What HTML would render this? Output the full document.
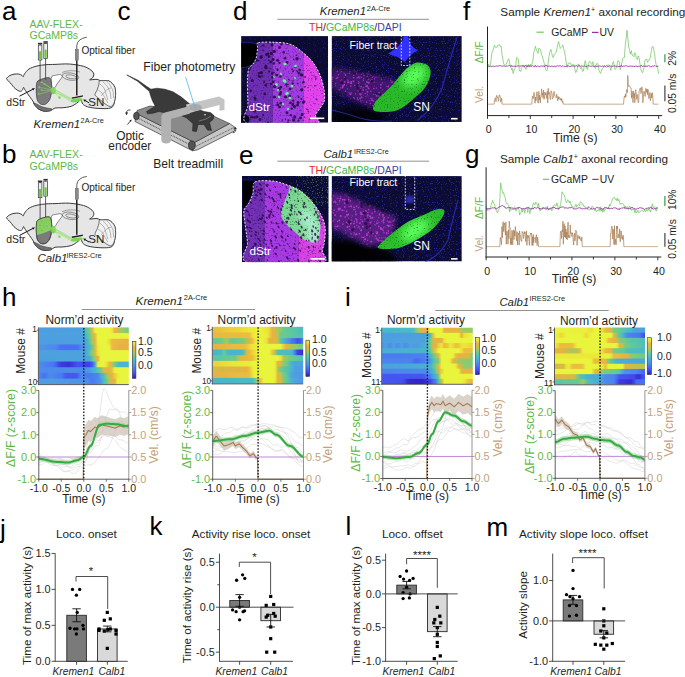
<!DOCTYPE html>
<html><head><meta charset="utf-8"><title>Figure</title>
<style>html,body{margin:0;padding:0;background:#fff;width:685px;height:677px;overflow:hidden}svg{display:block}text{font-family:"Liberation Sans",sans-serif}</style>
</head><body>
<svg width="685" height="677" viewBox="0 0 685 677" font-family='"Liberation Sans", sans-serif'>
<defs><clipPath id="stb"><path d="M37.2,220.8 C38.13,219.63 40.07,218.87 42,218.2 C43.93,217.53 47.3,216.55 48.8,216.8 C50.3,217.05 50.5,218.13 51,219.7 C51.5,221.27 51.77,223.95 51.8,226.2 C51.83,228.45 51.58,231.03 51.2,233.2 C50.82,235.37 50.45,237.5 49.5,239.2 C48.55,240.9 47,242.73 45.5,243.4 C44,244.07 41.87,243.9 40.5,243.2 C39.13,242.5 38,241.2 37.3,239.2 C36.6,237.2 36.45,233.53 36.3,231.2 C36.15,228.87 36.25,226.93 36.4,225.2 C36.55,223.47 36.27,221.97 37.2,220.8 Z"/></clipPath><filter id="speck" x="0" y="0" width="100%" height="100%" color-interpolation-filters="sRGB"><feTurbulence type="fractalNoise" baseFrequency="0.85" numOctaves="1" seed="3"/><feColorMatrix type="matrix" values="0 0 0 0 0.17 0 0 0 0 0.17 0 0 0 0 0.75 0 0 0 7 -4.3"/></filter><filter id="speck2" x="0" y="0" width="100%" height="100%" color-interpolation-filters="sRGB"><feTurbulence type="fractalNoise" baseFrequency="0.85" numOctaves="1" seed="6"/><feColorMatrix type="matrix" values="0 0 0 0 0.2 0 0 0 0 0.2 0 0 0 0 0.85 0 0 0 7 -4.0"/></filter><filter id="speckm" x="0" y="0" width="100%" height="100%" color-interpolation-filters="sRGB"><feTurbulence type="fractalNoise" baseFrequency="0.75" numOctaves="1" seed="8"/><feColorMatrix type="matrix" values="0 0 0 0 0.75 0 0 0 0 0.2 0 0 0 0 0.8 0 0 0 8 -4.4"/></filter><filter id="speckd" x="0" y="0" width="100%" height="100%" color-interpolation-filters="sRGB"><feTurbulence type="fractalNoise" baseFrequency="0.6" numOctaves="1" seed="12"/><feColorMatrix type="matrix" values="0 0 0 0 0.05 0 0 0 0 0.0 0 0 0 0 0.15 0 0 0 8 -4.6"/></filter><filter id="speckg" x="0" y="0" width="100%" height="100%" color-interpolation-filters="sRGB"><feTurbulence type="fractalNoise" baseFrequency="0.8" numOctaves="1" seed="5"/><feColorMatrix type="matrix" values="0 0 0 0 0.55 0 0 0 0 1 0 0 0 0 0.45 0 0 0 7 -3.9"/></filter><filter id="speckgd" x="0" y="0" width="100%" height="100%" color-interpolation-filters="sRGB"><feTurbulence type="fractalNoise" baseFrequency="0.7" numOctaves="1" seed="15"/><feColorMatrix type="matrix" values="0 0 0 0 0.05 0 0 0 0 0.3 0 0 0 0 0.1 0 0 0 7 -4.2"/></filter><filter id="b0_6" x="-50%" y="-50%" width="200%" height="200%"><feGaussianBlur stdDeviation="0.6"/></filter><filter id="b1" x="-50%" y="-50%" width="200%" height="200%"><feGaussianBlur stdDeviation="1"/></filter><filter id="b1_5" x="-50%" y="-50%" width="200%" height="200%"><feGaussianBlur stdDeviation="1.5"/></filter><filter id="b2_5" x="-50%" y="-50%" width="200%" height="200%"><feGaussianBlur stdDeviation="2.5"/></filter><filter id="b4" x="-50%" y="-50%" width="200%" height="200%"><feGaussianBlur stdDeviation="4"/></filter><clipPath id="cdl"><rect x="241.1" y="36.1" width="87" height="86.6"/></clipPath><clipPath id="cdlt"><path d="M258.3,42.8 C261.2,41.85 269.55,42.02 275,42.3 C280.45,42.58 286.17,42.63 291,44.5 C295.83,46.37 300.33,50.5 304,53.5 C307.67,56.5 310.33,58.92 313,62.5 C315.67,66.08 318.17,70.52 320,75 C321.83,79.48 323.28,85.12 324,89.4 C324.72,93.68 324.88,97.68 324.3,100.7 C323.72,103.72 321.97,105.12 320.5,107.5 C319.03,109.88 316.63,112.25 315.5,115 C314.37,117.75 324.82,122.5 313.7,124 C302.58,125.5 259.75,127.22 248.8,124 C237.85,120.78 248.22,110.37 248,104.7 C247.78,99.03 247.58,94.42 247.5,90 C247.42,85.58 247.28,81.78 247.5,78.2 C247.72,74.62 247.93,70.78 248.8,68.5 C249.67,66.22 251.47,66.25 252.7,64.5 C253.93,62.75 255.38,60.75 256.2,58 C257.02,55.25 257.25,50.53 257.6,48 C257.95,45.47 255.4,43.75 258.3,42.8 Z"/></clipPath><mask id="egm" maskUnits="userSpaceOnUse" x="260" y="170" width="75" height="90"><g filter="url(#b1_8)" fill="#fff"><path d="M291,186 C293,185.33 297,187.33 300,189 C303,190.67 306.33,193 309,196 C311.67,199 314.17,203.17 316,207 C317.83,210.83 319.33,214.83 320,219 C320.67,223.17 320.67,228.17 320,232 C319.33,235.83 318.5,240.67 316,242 C313.5,243.33 308.33,241.5 305,240 C301.67,238.5 299,235.5 296,233 C293,230.5 289.5,228 287,225 C284.5,222 281.5,218.67 281,215 C280.5,211.33 282.83,206.67 284,203 C285.17,199.33 286.83,195.83 288,193 C289.17,190.17 289,186.67 291,186 Z"/></g></mask><clipPath id="cel"><rect x="242" y="176" width="86.7" height="86.2"/></clipPath><clipPath id="celt"><path d="M254.9,182.1 C258.13,180.02 267.32,180.63 272.4,181 C277.48,181.37 280.78,182.67 285.4,184.3 C290.02,185.93 295.8,188.03 300.1,190.8 C304.4,193.57 307.82,197.07 311.2,200.9 C314.58,204.73 318.1,209.5 320.4,213.8 C322.7,218.1 324.32,222.08 325,226.7 C325.68,231.32 324.95,237.5 324.5,241.5 C324.05,245.5 322.98,247.12 322.3,250.7 C321.62,254.28 332.7,260.95 320.4,263 C308.1,265.05 260.65,266.27 248.5,263 C236.35,259.73 247.97,249.13 247.5,243.4 C247.03,237.67 246.32,233.53 245.7,228.6 C245.08,223.67 243.95,217.18 243.8,213.8 C243.65,210.42 244.02,209.98 244.8,208.3 C245.58,206.62 247.13,206.17 248.5,203.7 C249.87,201.23 251.93,197.1 253,193.5 C254.07,189.9 251.67,184.18 254.9,182.1 Z"/></clipPath><mask id="dmm" maskUnits="userSpaceOnUse" x="320" y="50" width="95" height="80"><g filter="url(#b2_5)" fill="#fff"><path d="M331,68 Q352,71 372,75 L400,82 L396,96 Q388,104 381,110 Q365,106 350,98 L331,88 Z"/></g></mask><mask id="dgm" maskUnits="userSpaceOnUse" x="355" y="45" width="90" height="80"><g filter="url(#b1_0)" fill="#fff"><path d="M407.8,67.5 C410.42,65.53 413.57,63.08 416.7,62.6 C419.83,62.12 424.3,63.28 426.6,64.6 C428.9,65.92 430.02,68.2 430.5,70.5 C430.98,72.8 430.48,75.45 429.5,78.4 C428.52,81.35 426.73,85.25 424.6,88.2 C422.47,91.15 419.98,93.13 416.7,96.1 C413.42,99.07 408.52,103.53 404.9,106 C401.28,108.47 398.95,109.92 395,110.9 C391.05,111.88 384.8,112.07 381.2,111.9 C377.6,111.73 374.38,111.55 373.4,109.9 C372.42,108.25 373.67,104.63 375.3,102 C376.93,99.37 380.25,97.05 383.2,94.1 C386.15,91.15 390.03,87.58 393,84.3 C395.97,81.02 398.53,77.2 401,74.4 C403.47,71.6 405.18,69.47 407.8,67.5 Z"/></g></mask><clipPath id="cdr"><rect x="331.6" y="36.1" width="130.2" height="85.9"/></clipPath><mask id="emm" maskUnits="userSpaceOnUse" x="320" y="175" width="95" height="85"><g filter="url(#b2_5)" fill="#fff"><path d="M331,192 Q348,194 366,205 Q382,212 396,217 L392,238 Q378,246 368,246 Q350,236 332,228 Z"/></g></mask><mask id="egm2" maskUnits="userSpaceOnUse" x="360" y="190" width="100" height="75"><g filter="url(#b1_0)" fill="#fff"><path d="M379.3,244.9 C382.08,242.1 390.08,235.03 395,231.1 C399.92,227.17 403.87,224.08 408.8,221.3 C413.73,218.52 420,216.38 424.6,214.4 C429.2,212.42 433.12,210.07 436.4,209.4 C439.68,208.73 443.32,209.08 444.3,210.4 C445.28,211.72 443.93,214.5 442.3,217.3 C440.67,220.1 437.45,224.23 434.5,227.2 C431.55,230.17 428.22,232.63 424.6,235.1 C420.98,237.57 417.07,239.87 412.8,242 C408.53,244.13 403.6,246.75 399,247.9 C394.4,249.05 388.65,248.9 385.2,248.9 C381.75,248.9 379.28,248.57 378.3,247.9 C377.32,247.23 376.52,247.7 379.3,244.9 Z"/></g></mask><clipPath id="cer"><rect x="331.6" y="176.1" width="130.2" height="85.4"/></clipPath><linearGradient id="hg1" x1="0" x2="1" y1="0" y2="0"><stop offset="0%" stop-color="#4e9ee2"/><stop offset="3.12%" stop-color="#4d9ee2"/><stop offset="6.25%" stop-color="#4d9ee2"/><stop offset="9.38%" stop-color="#4d9ee1"/><stop offset="12.5%" stop-color="#4d9ee1"/><stop offset="15.62%" stop-color="#4d9ee1"/><stop offset="18.75%" stop-color="#4d9ee1"/><stop offset="21.88%" stop-color="#4d9fe1"/><stop offset="25%" stop-color="#4d9fe0"/><stop offset="28.12%" stop-color="#4d9fe0"/><stop offset="31.25%" stop-color="#4d9fe0"/><stop offset="34.38%" stop-color="#4da0e0"/><stop offset="37.5%" stop-color="#4da0e0"/><stop offset="40.62%" stop-color="#4da0df"/><stop offset="43.75%" stop-color="#4da0df"/><stop offset="46.88%" stop-color="#4da0df"/><stop offset="50%" stop-color="#4ab0d1"/><stop offset="53.12%" stop-color="#5bc5a4"/><stop offset="56.25%" stop-color="#77ca83"/><stop offset="59.38%" stop-color="#deb644"/><stop offset="62.5%" stop-color="#e9f13b"/><stop offset="65.62%" stop-color="#e8f53c"/><stop offset="68.75%" stop-color="#e8f53c"/><stop offset="71.88%" stop-color="#e8f53c"/><stop offset="75%" stop-color="#e8f53c"/><stop offset="78.12%" stop-color="#e8f53c"/><stop offset="81.25%" stop-color="#ebea3a"/><stop offset="84.38%" stop-color="#e8b242"/><stop offset="87.5%" stop-color="#d1bb48"/><stop offset="90.62%" stop-color="#adc657"/><stop offset="93.75%" stop-color="#9dca5f"/><stop offset="96.88%" stop-color="#86ca74"/><stop offset="100%" stop-color="#7bca7f"/></linearGradient><linearGradient id="hg2" x1="0" x2="1" y1="0" y2="0"><stop offset="0%" stop-color="#4da0df"/><stop offset="3.12%" stop-color="#4da0df"/><stop offset="6.25%" stop-color="#4da0df"/><stop offset="9.38%" stop-color="#4da0df"/><stop offset="12.5%" stop-color="#4da0df"/><stop offset="15.62%" stop-color="#4da0df"/><stop offset="18.75%" stop-color="#4da0df"/><stop offset="21.88%" stop-color="#4da0df"/><stop offset="25%" stop-color="#4da0df"/><stop offset="28.12%" stop-color="#4da0df"/><stop offset="31.25%" stop-color="#4da0df"/><stop offset="34.38%" stop-color="#4da0df"/><stop offset="37.5%" stop-color="#4da0df"/><stop offset="40.62%" stop-color="#4da0df"/><stop offset="43.75%" stop-color="#4da0df"/><stop offset="46.88%" stop-color="#4da0df"/><stop offset="50%" stop-color="#4da0df"/><stop offset="53.12%" stop-color="#4dbdbe"/><stop offset="56.25%" stop-color="#65ca93"/><stop offset="59.38%" stop-color="#b2c555"/><stop offset="62.5%" stop-color="#e9b940"/><stop offset="65.62%" stop-color="#e8f53c"/><stop offset="68.75%" stop-color="#e8f53c"/><stop offset="71.88%" stop-color="#e8f53c"/><stop offset="75%" stop-color="#e8f53c"/><stop offset="78.12%" stop-color="#e8f53c"/><stop offset="81.25%" stop-color="#e8f53c"/><stop offset="84.38%" stop-color="#e8f53c"/><stop offset="87.5%" stop-color="#e8f53c"/><stop offset="90.62%" stop-color="#e8f53c"/><stop offset="93.75%" stop-color="#e8f53c"/><stop offset="96.88%" stop-color="#e8f53c"/><stop offset="100%" stop-color="#e8f53c"/></linearGradient><linearGradient id="hg3" x1="0" x2="1" y1="0" y2="0"><stop offset="0%" stop-color="#4e9ee2"/><stop offset="3.12%" stop-color="#4d9ee2"/><stop offset="6.25%" stop-color="#4d9ee2"/><stop offset="9.38%" stop-color="#4d9ee1"/><stop offset="12.5%" stop-color="#4d9ee1"/><stop offset="15.62%" stop-color="#4d9ee1"/><stop offset="18.75%" stop-color="#4d9ee1"/><stop offset="21.88%" stop-color="#4d9ee1"/><stop offset="25%" stop-color="#4d9fe1"/><stop offset="28.12%" stop-color="#4d9fe0"/><stop offset="31.25%" stop-color="#4d9fe0"/><stop offset="34.38%" stop-color="#4d9fe0"/><stop offset="37.5%" stop-color="#4da0e0"/><stop offset="40.62%" stop-color="#4da0e0"/><stop offset="43.75%" stop-color="#4da0df"/><stop offset="46.88%" stop-color="#4da0df"/><stop offset="50%" stop-color="#4da0df"/><stop offset="53.12%" stop-color="#4ca6da"/><stop offset="56.25%" stop-color="#58c4a9"/><stop offset="59.38%" stop-color="#a2c95b"/><stop offset="62.5%" stop-color="#e6b343"/><stop offset="65.62%" stop-color="#e9f33c"/><stop offset="68.75%" stop-color="#e8f53c"/><stop offset="71.88%" stop-color="#e8f53c"/><stop offset="75%" stop-color="#e8f53c"/><stop offset="78.12%" stop-color="#eedf37"/><stop offset="81.25%" stop-color="#e9bd3f"/><stop offset="84.38%" stop-color="#e9bc40"/><stop offset="87.5%" stop-color="#e9ba40"/><stop offset="90.62%" stop-color="#e9b741"/><stop offset="93.75%" stop-color="#e8b541"/><stop offset="96.88%" stop-color="#e8b342"/><stop offset="100%" stop-color="#e8b242"/></linearGradient><linearGradient id="hg4" x1="0" x2="1" y1="0" y2="0"><stop offset="0%" stop-color="#4d94e7"/><stop offset="3.12%" stop-color="#4d94e7"/><stop offset="6.25%" stop-color="#4d92e8"/><stop offset="9.38%" stop-color="#4c8fe9"/><stop offset="12.5%" stop-color="#4c8dea"/><stop offset="15.62%" stop-color="#4c8beb"/><stop offset="18.75%" stop-color="#4c8aeb"/><stop offset="21.88%" stop-color="#4a7bf1"/><stop offset="25%" stop-color="#4870f6"/><stop offset="28.12%" stop-color="#4870f6"/><stop offset="31.25%" stop-color="#4870f6"/><stop offset="34.38%" stop-color="#4870f6"/><stop offset="37.5%" stop-color="#4870f6"/><stop offset="40.62%" stop-color="#4870f6"/><stop offset="43.75%" stop-color="#4974f4"/><stop offset="46.88%" stop-color="#4b88ec"/><stop offset="50%" stop-color="#4d94e7"/><stop offset="53.12%" stop-color="#4babd6"/><stop offset="56.25%" stop-color="#49bac6"/><stop offset="59.38%" stop-color="#6aca8e"/><stop offset="62.5%" stop-color="#e4b443"/><stop offset="65.62%" stop-color="#ebe839"/><stop offset="68.75%" stop-color="#e8f53c"/><stop offset="71.88%" stop-color="#e8f53c"/><stop offset="75%" stop-color="#e8f53c"/><stop offset="78.12%" stop-color="#e8f53c"/><stop offset="81.25%" stop-color="#eabf3f"/><stop offset="84.38%" stop-color="#e9b741"/><stop offset="87.5%" stop-color="#e8b442"/><stop offset="90.62%" stop-color="#e7b242"/><stop offset="93.75%" stop-color="#e5b343"/><stop offset="96.88%" stop-color="#e4b443"/><stop offset="100%" stop-color="#e4b443"/></linearGradient><linearGradient id="hg5" x1="0" x2="1" y1="0" y2="0"><stop offset="0%" stop-color="#4ca2dd"/><stop offset="3.12%" stop-color="#4ca2dd"/><stop offset="6.25%" stop-color="#4ca2dd"/><stop offset="9.38%" stop-color="#4ca2dd"/><stop offset="12.5%" stop-color="#4ca2dd"/><stop offset="15.62%" stop-color="#4ca2dd"/><stop offset="18.75%" stop-color="#4ca2dd"/><stop offset="21.88%" stop-color="#4ca2dd"/><stop offset="25%" stop-color="#4ca2dd"/><stop offset="28.12%" stop-color="#4ca2dd"/><stop offset="31.25%" stop-color="#4ca2dd"/><stop offset="34.38%" stop-color="#4ca2dd"/><stop offset="37.5%" stop-color="#4ca2dd"/><stop offset="40.62%" stop-color="#4ca2dd"/><stop offset="43.75%" stop-color="#4ca2dd"/><stop offset="46.88%" stop-color="#4ca2dd"/><stop offset="50%" stop-color="#4ca2dd"/><stop offset="53.12%" stop-color="#4ba8d8"/><stop offset="56.25%" stop-color="#58c4a8"/><stop offset="59.38%" stop-color="#8bca70"/><stop offset="62.5%" stop-color="#d8b946"/><stop offset="65.62%" stop-color="#ede138"/><stop offset="68.75%" stop-color="#e8f53c"/><stop offset="71.88%" stop-color="#e8f53c"/><stop offset="75%" stop-color="#e8f53c"/><stop offset="78.12%" stop-color="#e8f53c"/><stop offset="81.25%" stop-color="#e8f53c"/><stop offset="84.38%" stop-color="#e8f53c"/><stop offset="87.5%" stop-color="#e8f53c"/><stop offset="90.62%" stop-color="#e8f53c"/><stop offset="93.75%" stop-color="#e8f53c"/><stop offset="96.88%" stop-color="#e8f53c"/><stop offset="100%" stop-color="#e8f53c"/></linearGradient><linearGradient id="hg6" x1="0" x2="1" y1="0" y2="0"><stop offset="0%" stop-color="#4da0df"/><stop offset="3.12%" stop-color="#4da0df"/><stop offset="6.25%" stop-color="#4da0df"/><stop offset="9.38%" stop-color="#4da0df"/><stop offset="12.5%" stop-color="#4da0df"/><stop offset="15.62%" stop-color="#4da0df"/><stop offset="18.75%" stop-color="#4da1df"/><stop offset="21.88%" stop-color="#4da1df"/><stop offset="25%" stop-color="#4da1de"/><stop offset="28.12%" stop-color="#4da1de"/><stop offset="31.25%" stop-color="#4da2de"/><stop offset="34.38%" stop-color="#4da2de"/><stop offset="37.5%" stop-color="#4da2de"/><stop offset="40.62%" stop-color="#4da2dd"/><stop offset="43.75%" stop-color="#4da2dd"/><stop offset="46.88%" stop-color="#4da2dd"/><stop offset="50%" stop-color="#4da2dd"/><stop offset="53.12%" stop-color="#4da2dd"/><stop offset="56.25%" stop-color="#4ba9d7"/><stop offset="59.38%" stop-color="#59c4a7"/><stop offset="62.5%" stop-color="#a6c85a"/><stop offset="65.62%" stop-color="#e7b342"/><stop offset="68.75%" stop-color="#e8f43c"/><stop offset="71.88%" stop-color="#e8f53c"/><stop offset="75%" stop-color="#e8f53c"/><stop offset="78.12%" stop-color="#e8f53c"/><stop offset="81.25%" stop-color="#e8f53c"/><stop offset="84.38%" stop-color="#e8f53c"/><stop offset="87.5%" stop-color="#e8f53c"/><stop offset="90.62%" stop-color="#e8f53c"/><stop offset="93.75%" stop-color="#e8f53c"/><stop offset="96.88%" stop-color="#e8f53c"/><stop offset="100%" stop-color="#e8f53c"/></linearGradient><linearGradient id="hg7" x1="0" x2="1" y1="0" y2="0"><stop offset="0%" stop-color="#4c8aeb"/><stop offset="3.12%" stop-color="#4b89ec"/><stop offset="6.25%" stop-color="#4b84ee"/><stop offset="9.38%" stop-color="#4a7ff0"/><stop offset="12.5%" stop-color="#4a7bf1"/><stop offset="15.62%" stop-color="#4979f2"/><stop offset="18.75%" stop-color="#4767f4"/><stop offset="21.88%" stop-color="#4249ed"/><stop offset="25%" stop-color="#3d39e0"/><stop offset="28.12%" stop-color="#3c36dc"/><stop offset="31.25%" stop-color="#3932d6"/><stop offset="34.38%" stop-color="#3a32d7"/><stop offset="37.5%" stop-color="#3f3ce5"/><stop offset="40.62%" stop-color="#424aed"/><stop offset="43.75%" stop-color="#4454ef"/><stop offset="46.88%" stop-color="#434eee"/><stop offset="50%" stop-color="#4141eb"/><stop offset="53.12%" stop-color="#4141eb"/><stop offset="56.25%" stop-color="#4141eb"/><stop offset="59.38%" stop-color="#455cf1"/><stop offset="62.5%" stop-color="#4da2dd"/><stop offset="65.62%" stop-color="#e9f03b"/><stop offset="68.75%" stop-color="#e8f53c"/><stop offset="71.88%" stop-color="#e8f53c"/><stop offset="75%" stop-color="#ede238"/><stop offset="78.12%" stop-color="#e9bb40"/><stop offset="81.25%" stop-color="#cdbd4a"/><stop offset="84.38%" stop-color="#7aca80"/><stop offset="87.5%" stop-color="#52c0b4"/><stop offset="90.62%" stop-color="#49b4cd"/><stop offset="93.75%" stop-color="#49b4cd"/><stop offset="96.88%" stop-color="#49b4cd"/><stop offset="100%" stop-color="#49b4cd"/></linearGradient><linearGradient id="hg8" x1="0" x2="1" y1="0" y2="0"><stop offset="0%" stop-color="#4c8aeb"/><stop offset="3.12%" stop-color="#4c8aeb"/><stop offset="6.25%" stop-color="#4c8aeb"/><stop offset="9.38%" stop-color="#4c8aeb"/><stop offset="12.5%" stop-color="#4c8aeb"/><stop offset="15.62%" stop-color="#4c8aeb"/><stop offset="18.75%" stop-color="#4c8aeb"/><stop offset="21.88%" stop-color="#4c8aeb"/><stop offset="25%" stop-color="#4c8aeb"/><stop offset="28.12%" stop-color="#4c8aeb"/><stop offset="31.25%" stop-color="#4c8aeb"/><stop offset="34.38%" stop-color="#4c8aeb"/><stop offset="37.5%" stop-color="#4c8aeb"/><stop offset="40.62%" stop-color="#4c8aeb"/><stop offset="43.75%" stop-color="#4c8aeb"/><stop offset="46.88%" stop-color="#4c8beb"/><stop offset="50%" stop-color="#4c8fe9"/><stop offset="53.12%" stop-color="#4d93e7"/><stop offset="56.25%" stop-color="#4e99e5"/><stop offset="59.38%" stop-color="#4bacd5"/><stop offset="62.5%" stop-color="#49b6cb"/><stop offset="65.62%" stop-color="#5ac5a5"/><stop offset="68.75%" stop-color="#6bca8e"/><stop offset="71.88%" stop-color="#ddb745"/><stop offset="75%" stop-color="#e4b443"/><stop offset="78.12%" stop-color="#e7b242"/><stop offset="81.25%" stop-color="#eac03f"/><stop offset="84.38%" stop-color="#e9f33c"/><stop offset="87.5%" stop-color="#e8f53c"/><stop offset="90.62%" stop-color="#e8f53c"/><stop offset="93.75%" stop-color="#e8f53c"/><stop offset="96.88%" stop-color="#e8f53c"/><stop offset="100%" stop-color="#e8f53c"/></linearGradient><linearGradient id="hg9" x1="0" x2="1" y1="0" y2="0"><stop offset="0%" stop-color="#4c8aeb"/><stop offset="3.12%" stop-color="#4a7cf1"/><stop offset="6.25%" stop-color="#4870f6"/><stop offset="9.38%" stop-color="#4a80ef"/><stop offset="12.5%" stop-color="#4c8aeb"/><stop offset="15.62%" stop-color="#4b87ec"/><stop offset="18.75%" stop-color="#4a82ef"/><stop offset="21.88%" stop-color="#4a7cf1"/><stop offset="25%" stop-color="#497af2"/><stop offset="28.12%" stop-color="#4664f3"/><stop offset="31.25%" stop-color="#4458f0"/><stop offset="34.38%" stop-color="#4458f0"/><stop offset="37.5%" stop-color="#4458f0"/><stop offset="40.62%" stop-color="#4458f0"/><stop offset="43.75%" stop-color="#4664f3"/><stop offset="46.88%" stop-color="#4b86ed"/><stop offset="50%" stop-color="#4b87ec"/><stop offset="53.12%" stop-color="#4a7df1"/><stop offset="56.25%" stop-color="#497af2"/><stop offset="59.38%" stop-color="#4a7ef0"/><stop offset="62.5%" stop-color="#4b82ee"/><stop offset="65.62%" stop-color="#4b85ed"/><stop offset="68.75%" stop-color="#4ba8d8"/><stop offset="71.88%" stop-color="#4fbeba"/><stop offset="75%" stop-color="#7eca7c"/><stop offset="78.12%" stop-color="#cfbc49"/><stop offset="81.25%" stop-color="#e6b342"/><stop offset="84.38%" stop-color="#ecce3b"/><stop offset="87.5%" stop-color="#ebe839"/><stop offset="90.62%" stop-color="#e8f53c"/><stop offset="93.75%" stop-color="#e8f53c"/><stop offset="96.88%" stop-color="#e8f53c"/><stop offset="100%" stop-color="#e8f53c"/></linearGradient><linearGradient id="hg10" x1="0" x2="1" y1="0" y2="0"><stop offset="0%" stop-color="#4e9ee2"/><stop offset="3.12%" stop-color="#4e9de2"/><stop offset="6.25%" stop-color="#4e9de2"/><stop offset="9.38%" stop-color="#4e9de2"/><stop offset="12.5%" stop-color="#4e9ce3"/><stop offset="15.62%" stop-color="#4e9ce3"/><stop offset="18.75%" stop-color="#4e9be4"/><stop offset="21.88%" stop-color="#4e9ae4"/><stop offset="25%" stop-color="#4e99e5"/><stop offset="28.12%" stop-color="#4e98e5"/><stop offset="31.25%" stop-color="#4e98e5"/><stop offset="34.38%" stop-color="#4d97e6"/><stop offset="37.5%" stop-color="#4d96e6"/><stop offset="40.62%" stop-color="#4d95e6"/><stop offset="43.75%" stop-color="#4d95e7"/><stop offset="46.88%" stop-color="#4d94e7"/><stop offset="50%" stop-color="#4d94e7"/><stop offset="53.12%" stop-color="#4c8ee9"/><stop offset="56.25%" stop-color="#4b82ee"/><stop offset="59.38%" stop-color="#497af2"/><stop offset="62.5%" stop-color="#4a7ff0"/><stop offset="65.62%" stop-color="#4c8cea"/><stop offset="68.75%" stop-color="#4d94e7"/><stop offset="71.88%" stop-color="#4bbbc2"/><stop offset="75%" stop-color="#5fc89d"/><stop offset="78.12%" stop-color="#b5c453"/><stop offset="81.25%" stop-color="#d9b945"/><stop offset="84.38%" stop-color="#e7b242"/><stop offset="87.5%" stop-color="#e9f23b"/><stop offset="90.62%" stop-color="#e8f53c"/><stop offset="93.75%" stop-color="#e8f53c"/><stop offset="96.88%" stop-color="#e8f53c"/><stop offset="100%" stop-color="#e8f53c"/></linearGradient><linearGradient id="hg11" x1="0" x2="0" y1="0" y2="1"><stop offset="0%" stop-color="#e8f53c"/><stop offset="2.5%" stop-color="#eaee3a"/><stop offset="5%" stop-color="#ece739"/><stop offset="7.5%" stop-color="#eedf37"/><stop offset="10%" stop-color="#ecd33a"/><stop offset="12.5%" stop-color="#ebc53d"/><stop offset="15%" stop-color="#e9b841"/><stop offset="17.5%" stop-color="#e5b443"/><stop offset="20%" stop-color="#dfb644"/><stop offset="22.5%" stop-color="#d9b845"/><stop offset="25%" stop-color="#cfbc49"/><stop offset="27.5%" stop-color="#bec150"/><stop offset="30%" stop-color="#adc657"/><stop offset="32.5%" stop-color="#9dca5f"/><stop offset="35%" stop-color="#8dca6d"/><stop offset="37.5%" stop-color="#7eca7c"/><stop offset="40%" stop-color="#6eca8a"/><stop offset="42.5%" stop-color="#61c998"/><stop offset="45%" stop-color="#5bc5a4"/><stop offset="47.5%" stop-color="#55c2af"/><stop offset="50%" stop-color="#4fbeba"/><stop offset="52.5%" stop-color="#49bac6"/><stop offset="55%" stop-color="#49b4cd"/><stop offset="57.5%" stop-color="#4aaed2"/><stop offset="60%" stop-color="#4ca8d8"/><stop offset="62.5%" stop-color="#4da1de"/><stop offset="65%" stop-color="#4e9be4"/><stop offset="67.5%" stop-color="#4d93e7"/><stop offset="70%" stop-color="#4c8aeb"/><stop offset="72.5%" stop-color="#4b82ee"/><stop offset="75%" stop-color="#497af2"/><stop offset="77.5%" stop-color="#4872f5"/><stop offset="80%" stop-color="#4768f4"/><stop offset="82.5%" stop-color="#455ef2"/><stop offset="85%" stop-color="#4455f0"/><stop offset="87.5%" stop-color="#424bed"/><stop offset="90%" stop-color="#4141eb"/><stop offset="92.5%" stop-color="#3c37dd"/><stop offset="95%" stop-color="#372dd0"/><stop offset="97.5%" stop-color="#3223c2"/><stop offset="100%" stop-color="#2d19b4"/></linearGradient><linearGradient id="hg12" x1="0" x2="1" y1="0" y2="0"><stop offset="0%" stop-color="#eabd3f"/><stop offset="3.12%" stop-color="#eabe3f"/><stop offset="6.25%" stop-color="#eac03e"/><stop offset="9.38%" stop-color="#eac43e"/><stop offset="12.5%" stop-color="#ebc83c"/><stop offset="15.62%" stop-color="#eccc3b"/><stop offset="18.75%" stop-color="#ecd03b"/><stop offset="21.88%" stop-color="#ecd23a"/><stop offset="25%" stop-color="#ecd33a"/><stop offset="28.12%" stop-color="#edd539"/><stop offset="31.25%" stop-color="#eedb38"/><stop offset="34.38%" stop-color="#ede037"/><stop offset="37.5%" stop-color="#ece438"/><stop offset="40.62%" stop-color="#ece739"/><stop offset="43.75%" stop-color="#ebe939"/><stop offset="46.88%" stop-color="#eaed3a"/><stop offset="50%" stop-color="#e8f53c"/><stop offset="53.12%" stop-color="#e9f23b"/><stop offset="56.25%" stop-color="#ebeb3a"/><stop offset="59.38%" stop-color="#ece739"/><stop offset="62.5%" stop-color="#edd839"/><stop offset="65.62%" stop-color="#e8b342"/><stop offset="68.75%" stop-color="#d8b946"/><stop offset="71.88%" stop-color="#a0ca5c"/><stop offset="75%" stop-color="#8cca6e"/><stop offset="78.12%" stop-color="#6bca8e"/><stop offset="81.25%" stop-color="#62ca96"/><stop offset="84.38%" stop-color="#60c89a"/><stop offset="87.5%" stop-color="#5cc6a2"/><stop offset="90.62%" stop-color="#58c3aa"/><stop offset="93.75%" stop-color="#53c1b2"/><stop offset="96.88%" stop-color="#50beb8"/><stop offset="100%" stop-color="#4fbeba"/></linearGradient><linearGradient id="hg13" x1="0" x2="1" y1="0" y2="0"><stop offset="0%" stop-color="#e9b841"/><stop offset="3.12%" stop-color="#e9b841"/><stop offset="6.25%" stop-color="#e9b841"/><stop offset="9.38%" stop-color="#e9b840"/><stop offset="12.5%" stop-color="#e9b940"/><stop offset="15.62%" stop-color="#e9b940"/><stop offset="18.75%" stop-color="#e9ba40"/><stop offset="21.88%" stop-color="#e9bb40"/><stop offset="25%" stop-color="#e9bb40"/><stop offset="28.12%" stop-color="#e9bc40"/><stop offset="31.25%" stop-color="#e9bc3f"/><stop offset="34.38%" stop-color="#e9bd3f"/><stop offset="37.5%" stop-color="#e9bd3f"/><stop offset="40.62%" stop-color="#eabe3f"/><stop offset="43.75%" stop-color="#eee037"/><stop offset="46.88%" stop-color="#eaef3b"/><stop offset="50%" stop-color="#eaef3b"/><stop offset="53.12%" stop-color="#eaef3b"/><stop offset="56.25%" stop-color="#eaef3b"/><stop offset="59.38%" stop-color="#eaef3b"/><stop offset="62.5%" stop-color="#edd838"/><stop offset="65.62%" stop-color="#e7b242"/><stop offset="68.75%" stop-color="#ddb745"/><stop offset="71.88%" stop-color="#bdc150"/><stop offset="75%" stop-color="#6eca8a"/><stop offset="78.12%" stop-color="#6cca8c"/><stop offset="81.25%" stop-color="#67ca92"/><stop offset="84.38%" stop-color="#61c998"/><stop offset="87.5%" stop-color="#5dc79f"/><stop offset="90.62%" stop-color="#5ac5a6"/><stop offset="93.75%" stop-color="#57c3ac"/><stop offset="96.88%" stop-color="#55c1b0"/><stop offset="100%" stop-color="#54c1b1"/></linearGradient><linearGradient id="hg14" x1="0" x2="1" y1="0" y2="0"><stop offset="0%" stop-color="#60c89b"/><stop offset="3.12%" stop-color="#61ca97"/><stop offset="6.25%" stop-color="#69ca90"/><stop offset="9.38%" stop-color="#6eca8b"/><stop offset="12.5%" stop-color="#8dca6d"/><stop offset="15.62%" stop-color="#aac758"/><stop offset="18.75%" stop-color="#6eca8b"/><stop offset="21.88%" stop-color="#63ca95"/><stop offset="25%" stop-color="#68ca90"/><stop offset="28.12%" stop-color="#70ca89"/><stop offset="31.25%" stop-color="#77ca82"/><stop offset="34.38%" stop-color="#7bca7f"/><stop offset="37.5%" stop-color="#a3c95b"/><stop offset="40.62%" stop-color="#e3b443"/><stop offset="43.75%" stop-color="#e9bd3f"/><stop offset="46.88%" stop-color="#ece539"/><stop offset="50%" stop-color="#e8f53c"/><stop offset="53.12%" stop-color="#e9f33c"/><stop offset="56.25%" stop-color="#e9f03b"/><stop offset="59.38%" stop-color="#ece438"/><stop offset="62.5%" stop-color="#e8b242"/><stop offset="65.62%" stop-color="#e8b242"/><stop offset="68.75%" stop-color="#e8b242"/><stop offset="71.88%" stop-color="#cebc49"/><stop offset="75%" stop-color="#5bc5a4"/><stop offset="78.12%" stop-color="#48b8c9"/><stop offset="81.25%" stop-color="#4e9de3"/><stop offset="84.38%" stop-color="#4d90e8"/><stop offset="87.5%" stop-color="#4975f4"/><stop offset="90.62%" stop-color="#4767f4"/><stop offset="93.75%" stop-color="#434eee"/><stop offset="96.88%" stop-color="#4559f1"/><stop offset="100%" stop-color="#497af2"/></linearGradient><linearGradient id="hg15" x1="0" x2="1" y1="0" y2="0"><stop offset="0%" stop-color="#e8b242"/><stop offset="3.12%" stop-color="#e8b242"/><stop offset="6.25%" stop-color="#e8b342"/><stop offset="9.38%" stop-color="#e8b442"/><stop offset="12.5%" stop-color="#e8b541"/><stop offset="15.62%" stop-color="#e9b741"/><stop offset="18.75%" stop-color="#e9b840"/><stop offset="21.88%" stop-color="#e9ba40"/><stop offset="25%" stop-color="#e9bb40"/><stop offset="28.12%" stop-color="#e9bc40"/><stop offset="31.25%" stop-color="#e9bd3f"/><stop offset="34.38%" stop-color="#e9bd3f"/><stop offset="37.5%" stop-color="#eac43e"/><stop offset="40.62%" stop-color="#edd739"/><stop offset="43.75%" stop-color="#ede338"/><stop offset="46.88%" stop-color="#ebe939"/><stop offset="50%" stop-color="#e8f53c"/><stop offset="53.12%" stop-color="#e8f53c"/><stop offset="56.25%" stop-color="#e8f53c"/><stop offset="59.38%" stop-color="#e8f53c"/><stop offset="62.5%" stop-color="#e8f53c"/><stop offset="65.62%" stop-color="#e8f53c"/><stop offset="68.75%" stop-color="#e8f53c"/><stop offset="71.88%" stop-color="#e8f53c"/><stop offset="75%" stop-color="#e8f53c"/><stop offset="78.12%" stop-color="#ecce3b"/><stop offset="81.25%" stop-color="#e6b343"/><stop offset="84.38%" stop-color="#cebc49"/><stop offset="87.5%" stop-color="#a1ca5c"/><stop offset="90.62%" stop-color="#9aca62"/><stop offset="93.75%" stop-color="#89ca72"/><stop offset="96.88%" stop-color="#77ca83"/><stop offset="100%" stop-color="#6eca8a"/></linearGradient><linearGradient id="hg16" x1="0" x2="1" y1="0" y2="0"><stop offset="0%" stop-color="#49b4cd"/><stop offset="3.12%" stop-color="#49b6cb"/><stop offset="6.25%" stop-color="#48b9c8"/><stop offset="9.38%" stop-color="#4abac4"/><stop offset="12.5%" stop-color="#69ca90"/><stop offset="15.62%" stop-color="#4dbcbe"/><stop offset="18.75%" stop-color="#49b4cd"/><stop offset="21.88%" stop-color="#49b5cc"/><stop offset="25%" stop-color="#49b5cc"/><stop offset="28.12%" stop-color="#49b6cb"/><stop offset="31.25%" stop-color="#49b6ca"/><stop offset="34.38%" stop-color="#56c2ad"/><stop offset="37.5%" stop-color="#e6b343"/><stop offset="40.62%" stop-color="#e9bc3f"/><stop offset="43.75%" stop-color="#ecd03a"/><stop offset="46.88%" stop-color="#ede138"/><stop offset="50%" stop-color="#e8f53c"/><stop offset="53.12%" stop-color="#e8f53c"/><stop offset="56.25%" stop-color="#e8f53c"/><stop offset="59.38%" stop-color="#e8f53c"/><stop offset="62.5%" stop-color="#e8f53c"/><stop offset="65.62%" stop-color="#ebca3c"/><stop offset="68.75%" stop-color="#cbbd4a"/><stop offset="71.88%" stop-color="#4fbeba"/><stop offset="75%" stop-color="#4fbdbb"/><stop offset="78.12%" stop-color="#4ebdbd"/><stop offset="81.25%" stop-color="#4cbcc0"/><stop offset="84.38%" stop-color="#4bbbc2"/><stop offset="87.5%" stop-color="#4abbc3"/><stop offset="90.62%" stop-color="#4b82ee"/><stop offset="93.75%" stop-color="#4140ea"/><stop offset="96.88%" stop-color="#3b35db"/><stop offset="100%" stop-color="#372dd0"/></linearGradient><linearGradient id="hg17" x1="0" x2="1" y1="0" y2="0"><stop offset="0%" stop-color="#5bc5a4"/><stop offset="3.12%" stop-color="#5bc6a3"/><stop offset="6.25%" stop-color="#5dc7a0"/><stop offset="9.38%" stop-color="#5fc89c"/><stop offset="12.5%" stop-color="#61c998"/><stop offset="15.62%" stop-color="#65ca94"/><stop offset="18.75%" stop-color="#6aca8f"/><stop offset="21.88%" stop-color="#6dca8c"/><stop offset="25%" stop-color="#6eca8a"/><stop offset="28.12%" stop-color="#aec656"/><stop offset="31.25%" stop-color="#e6b342"/><stop offset="34.38%" stop-color="#e8b342"/><stop offset="37.5%" stop-color="#e9b641"/><stop offset="40.62%" stop-color="#e9ba40"/><stop offset="43.75%" stop-color="#e9bd3f"/><stop offset="46.88%" stop-color="#edd539"/><stop offset="50%" stop-color="#e8f53c"/><stop offset="53.12%" stop-color="#e8f53c"/><stop offset="56.25%" stop-color="#e8f53c"/><stop offset="59.38%" stop-color="#e8f53c"/><stop offset="62.5%" stop-color="#e8f53c"/><stop offset="65.62%" stop-color="#e8f53c"/><stop offset="68.75%" stop-color="#e8f53c"/><stop offset="71.88%" stop-color="#e8f53c"/><stop offset="75%" stop-color="#ede238"/><stop offset="78.12%" stop-color="#bbc251"/><stop offset="81.25%" stop-color="#91ca6a"/><stop offset="84.38%" stop-color="#7fca7a"/><stop offset="87.5%" stop-color="#6aca8f"/><stop offset="90.62%" stop-color="#62ca96"/><stop offset="93.75%" stop-color="#5ec79f"/><stop offset="96.88%" stop-color="#57c3ab"/><stop offset="100%" stop-color="#54c1b1"/></linearGradient><linearGradient id="hg18" x1="0" x2="1" y1="0" y2="0"><stop offset="0%" stop-color="#ecd33a"/><stop offset="3.12%" stop-color="#edd43a"/><stop offset="6.25%" stop-color="#edd539"/><stop offset="9.38%" stop-color="#edd839"/><stop offset="12.5%" stop-color="#eedb38"/><stop offset="15.62%" stop-color="#eede37"/><stop offset="18.75%" stop-color="#ede037"/><stop offset="21.88%" stop-color="#ede238"/><stop offset="25%" stop-color="#ece438"/><stop offset="28.12%" stop-color="#ece639"/><stop offset="31.25%" stop-color="#ece739"/><stop offset="34.38%" stop-color="#ebe939"/><stop offset="37.5%" stop-color="#ebe939"/><stop offset="40.62%" stop-color="#ebea3a"/><stop offset="43.75%" stop-color="#e8f33c"/><stop offset="46.88%" stop-color="#e8f53c"/><stop offset="50%" stop-color="#e8f53c"/><stop offset="53.12%" stop-color="#e8f53c"/><stop offset="56.25%" stop-color="#e8f53c"/><stop offset="59.38%" stop-color="#e8f53c"/><stop offset="62.5%" stop-color="#e8f53c"/><stop offset="65.62%" stop-color="#e8f53c"/><stop offset="68.75%" stop-color="#e9f13b"/><stop offset="71.88%" stop-color="#e8b242"/><stop offset="75%" stop-color="#d8b945"/><stop offset="78.12%" stop-color="#8eca6d"/><stop offset="81.25%" stop-color="#75ca84"/><stop offset="84.38%" stop-color="#56c2ac"/><stop offset="87.5%" stop-color="#4ab0d0"/><stop offset="90.62%" stop-color="#4ca7d8"/><stop offset="93.75%" stop-color="#4ca6da"/><stop offset="96.88%" stop-color="#4ca4dc"/><stop offset="100%" stop-color="#4ca2dd"/></linearGradient><linearGradient id="hg19" x1="0" x2="1" y1="0" y2="0"><stop offset="0%" stop-color="#d6ba46"/><stop offset="3.12%" stop-color="#d6ba46"/><stop offset="6.25%" stop-color="#d7ba46"/><stop offset="9.38%" stop-color="#d8b946"/><stop offset="12.5%" stop-color="#d9b845"/><stop offset="15.62%" stop-color="#dbb845"/><stop offset="18.75%" stop-color="#dcb745"/><stop offset="21.88%" stop-color="#ddb744"/><stop offset="25%" stop-color="#deb644"/><stop offset="28.12%" stop-color="#dfb644"/><stop offset="31.25%" stop-color="#e0b644"/><stop offset="34.38%" stop-color="#e4b443"/><stop offset="37.5%" stop-color="#e8b242"/><stop offset="40.62%" stop-color="#eac13e"/><stop offset="43.75%" stop-color="#ede338"/><stop offset="46.88%" stop-color="#e8f33c"/><stop offset="50%" stop-color="#e8f53c"/><stop offset="53.12%" stop-color="#e8f53c"/><stop offset="56.25%" stop-color="#e8f53c"/><stop offset="59.38%" stop-color="#e8f53c"/><stop offset="62.5%" stop-color="#e8f53c"/><stop offset="65.62%" stop-color="#e8f53c"/><stop offset="68.75%" stop-color="#e9f03b"/><stop offset="71.88%" stop-color="#b8c352"/><stop offset="75%" stop-color="#6dca8c"/><stop offset="78.12%" stop-color="#5fc89b"/><stop offset="81.25%" stop-color="#55c2ae"/><stop offset="84.38%" stop-color="#4fbeba"/><stop offset="87.5%" stop-color="#49b6cb"/><stop offset="90.62%" stop-color="#4da1de"/><stop offset="93.75%" stop-color="#4e9de2"/><stop offset="96.88%" stop-color="#4e9ce3"/><stop offset="100%" stop-color="#4e9be4"/></linearGradient><linearGradient id="hg20" x1="0" x2="1" y1="0" y2="0"><stop offset="0%" stop-color="#e8b242"/><stop offset="3.12%" stop-color="#e8b242"/><stop offset="6.25%" stop-color="#e8b342"/><stop offset="9.38%" stop-color="#e8b442"/><stop offset="12.5%" stop-color="#e8b541"/><stop offset="15.62%" stop-color="#e9b641"/><stop offset="18.75%" stop-color="#e9b741"/><stop offset="21.88%" stop-color="#e9b840"/><stop offset="25%" stop-color="#e9ba40"/><stop offset="28.12%" stop-color="#e9bb40"/><stop offset="31.25%" stop-color="#e9bc40"/><stop offset="34.38%" stop-color="#e9bc3f"/><stop offset="37.5%" stop-color="#e9bd3f"/><stop offset="40.62%" stop-color="#eabe3f"/><stop offset="43.75%" stop-color="#eedf37"/><stop offset="46.88%" stop-color="#e9f33c"/><stop offset="50%" stop-color="#e8f53c"/><stop offset="53.12%" stop-color="#e8f53c"/><stop offset="56.25%" stop-color="#e8f53c"/><stop offset="59.38%" stop-color="#e8f53c"/><stop offset="62.5%" stop-color="#e8f53c"/><stop offset="65.62%" stop-color="#e8f53c"/><stop offset="68.75%" stop-color="#e9f13b"/><stop offset="71.88%" stop-color="#e8b242"/><stop offset="75%" stop-color="#c2c04e"/><stop offset="78.12%" stop-color="#7bca7f"/><stop offset="81.25%" stop-color="#60c999"/><stop offset="84.38%" stop-color="#4abac4"/><stop offset="87.5%" stop-color="#4ca5db"/><stop offset="90.62%" stop-color="#4e9de2"/><stop offset="93.75%" stop-color="#4e9ce3"/><stop offset="96.88%" stop-color="#4e99e5"/><stop offset="100%" stop-color="#4e98e5"/></linearGradient><linearGradient id="hg21" x1="0" x2="1" y1="0" y2="0"><stop offset="0%" stop-color="#48b6ca"/><stop offset="3.12%" stop-color="#48b7ca"/><stop offset="6.25%" stop-color="#48b7ca"/><stop offset="9.38%" stop-color="#48b7ca"/><stop offset="12.5%" stop-color="#48b7c9"/><stop offset="15.62%" stop-color="#48b8c9"/><stop offset="18.75%" stop-color="#48b8c9"/><stop offset="21.88%" stop-color="#48b9c8"/><stop offset="25%" stop-color="#48b9c7"/><stop offset="28.12%" stop-color="#49bac6"/><stop offset="31.25%" stop-color="#49bac5"/><stop offset="34.38%" stop-color="#4abac5"/><stop offset="37.5%" stop-color="#4abac4"/><stop offset="40.62%" stop-color="#4abac4"/><stop offset="43.75%" stop-color="#4abbc3"/><stop offset="46.88%" stop-color="#61ca97"/><stop offset="50%" stop-color="#bbc251"/><stop offset="53.12%" stop-color="#eac33e"/><stop offset="56.25%" stop-color="#e8f53c"/><stop offset="59.38%" stop-color="#e8f53c"/><stop offset="62.5%" stop-color="#e8f53c"/><stop offset="65.62%" stop-color="#e8f53c"/><stop offset="68.75%" stop-color="#e9f13b"/><stop offset="71.88%" stop-color="#e8b242"/><stop offset="75%" stop-color="#d7ba46"/><stop offset="78.12%" stop-color="#83ca77"/><stop offset="81.25%" stop-color="#69ca8f"/><stop offset="84.38%" stop-color="#53c1b2"/><stop offset="87.5%" stop-color="#4aafd1"/><stop offset="90.62%" stop-color="#4ca7d9"/><stop offset="93.75%" stop-color="#4da2de"/><stop offset="96.88%" stop-color="#4e9ae5"/><stop offset="100%" stop-color="#4d94e7"/></linearGradient><linearGradient id="hg22" x1="0" x2="0" y1="0" y2="1"><stop offset="0%" stop-color="#e8f53c"/><stop offset="2.5%" stop-color="#eaee3a"/><stop offset="5%" stop-color="#ece739"/><stop offset="7.5%" stop-color="#eedf37"/><stop offset="10%" stop-color="#ecd33a"/><stop offset="12.5%" stop-color="#ebc53d"/><stop offset="15%" stop-color="#e9b841"/><stop offset="17.5%" stop-color="#e5b443"/><stop offset="20%" stop-color="#dfb644"/><stop offset="22.5%" stop-color="#d9b845"/><stop offset="25%" stop-color="#cfbc49"/><stop offset="27.5%" stop-color="#bec150"/><stop offset="30%" stop-color="#adc657"/><stop offset="32.5%" stop-color="#9dca5f"/><stop offset="35%" stop-color="#8dca6d"/><stop offset="37.5%" stop-color="#7eca7c"/><stop offset="40%" stop-color="#6eca8a"/><stop offset="42.5%" stop-color="#61c998"/><stop offset="45%" stop-color="#5bc5a4"/><stop offset="47.5%" stop-color="#55c2af"/><stop offset="50%" stop-color="#4fbeba"/><stop offset="52.5%" stop-color="#49bac6"/><stop offset="55%" stop-color="#49b4cd"/><stop offset="57.5%" stop-color="#4aaed2"/><stop offset="60%" stop-color="#4ca8d8"/><stop offset="62.5%" stop-color="#4da1de"/><stop offset="65%" stop-color="#4e9be4"/><stop offset="67.5%" stop-color="#4d93e7"/><stop offset="70%" stop-color="#4c8aeb"/><stop offset="72.5%" stop-color="#4b82ee"/><stop offset="75%" stop-color="#497af2"/><stop offset="77.5%" stop-color="#4872f5"/><stop offset="80%" stop-color="#4768f4"/><stop offset="82.5%" stop-color="#455ef2"/><stop offset="85%" stop-color="#4455f0"/><stop offset="87.5%" stop-color="#424bed"/><stop offset="90%" stop-color="#4141eb"/><stop offset="92.5%" stop-color="#3c37dd"/><stop offset="95%" stop-color="#372dd0"/><stop offset="97.5%" stop-color="#3223c2"/><stop offset="100%" stop-color="#2d19b4"/></linearGradient><linearGradient id="hg23" x1="0" x2="1" y1="0" y2="0"><stop offset="0%" stop-color="#48b9c8"/><stop offset="3.12%" stop-color="#48b9c8"/><stop offset="6.25%" stop-color="#48b9c8"/><stop offset="9.38%" stop-color="#48b9c7"/><stop offset="12.5%" stop-color="#49b9c7"/><stop offset="15.62%" stop-color="#49bac6"/><stop offset="18.75%" stop-color="#49bac5"/><stop offset="21.88%" stop-color="#4abac5"/><stop offset="25%" stop-color="#4abac4"/><stop offset="28.12%" stop-color="#4abac4"/><stop offset="31.25%" stop-color="#4abbc3"/><stop offset="34.38%" stop-color="#50bfb8"/><stop offset="37.5%" stop-color="#78ca81"/><stop offset="40.62%" stop-color="#c6bf4d"/><stop offset="43.75%" stop-color="#dcb745"/><stop offset="46.88%" stop-color="#e3b443"/><stop offset="50%" stop-color="#e8b242"/><stop offset="53.12%" stop-color="#e8f53c"/><stop offset="56.25%" stop-color="#e8f53c"/><stop offset="59.38%" stop-color="#e8f53c"/><stop offset="62.5%" stop-color="#e8f53c"/><stop offset="65.62%" stop-color="#e9f03b"/><stop offset="68.75%" stop-color="#e8b242"/><stop offset="71.88%" stop-color="#e8b242"/><stop offset="75%" stop-color="#e8b242"/><stop offset="78.12%" stop-color="#e8b242"/><stop offset="81.25%" stop-color="#e8b242"/><stop offset="84.38%" stop-color="#e7b242"/><stop offset="87.5%" stop-color="#a5c95a"/><stop offset="90.62%" stop-color="#9eca5d"/><stop offset="93.75%" stop-color="#9aca61"/><stop offset="96.88%" stop-color="#96ca66"/><stop offset="100%" stop-color="#94ca68"/></linearGradient><linearGradient id="hg24" x1="0" x2="1" y1="0" y2="0"><stop offset="0%" stop-color="#4e9ee2"/><stop offset="3.12%" stop-color="#4d9ee2"/><stop offset="6.25%" stop-color="#4d9ee2"/><stop offset="9.38%" stop-color="#4d9ee1"/><stop offset="12.5%" stop-color="#4d9ee1"/><stop offset="15.62%" stop-color="#4d9ee1"/><stop offset="18.75%" stop-color="#4d9ee1"/><stop offset="21.88%" stop-color="#4d9fe1"/><stop offset="25%" stop-color="#4d9fe0"/><stop offset="28.12%" stop-color="#4d9fe0"/><stop offset="31.25%" stop-color="#4d9fe0"/><stop offset="34.38%" stop-color="#4da0e0"/><stop offset="37.5%" stop-color="#4da0e0"/><stop offset="40.62%" stop-color="#4da0df"/><stop offset="43.75%" stop-color="#4da0df"/><stop offset="46.88%" stop-color="#4da0df"/><stop offset="50%" stop-color="#4babd5"/><stop offset="53.12%" stop-color="#4fbeba"/><stop offset="56.25%" stop-color="#e9bd3f"/><stop offset="59.38%" stop-color="#e8f53c"/><stop offset="62.5%" stop-color="#e8f53c"/><stop offset="65.62%" stop-color="#e8f53c"/><stop offset="68.75%" stop-color="#e8f53c"/><stop offset="71.88%" stop-color="#e8f53c"/><stop offset="75%" stop-color="#e8f53c"/><stop offset="78.12%" stop-color="#e8f53c"/><stop offset="81.25%" stop-color="#e8f53c"/><stop offset="84.38%" stop-color="#e9f33c"/><stop offset="87.5%" stop-color="#e8b442"/><stop offset="90.62%" stop-color="#ede138"/><stop offset="93.75%" stop-color="#ebe839"/><stop offset="96.88%" stop-color="#e9f03b"/><stop offset="100%" stop-color="#e8f53c"/></linearGradient><linearGradient id="hg25" x1="0" x2="1" y1="0" y2="0"><stop offset="0%" stop-color="#4da0df"/><stop offset="3.12%" stop-color="#4da0df"/><stop offset="6.25%" stop-color="#4da0df"/><stop offset="9.38%" stop-color="#4da0df"/><stop offset="12.5%" stop-color="#4da0df"/><stop offset="15.62%" stop-color="#4da1df"/><stop offset="18.75%" stop-color="#4da1df"/><stop offset="21.88%" stop-color="#4da1de"/><stop offset="25%" stop-color="#4da1de"/><stop offset="28.12%" stop-color="#4da2de"/><stop offset="31.25%" stop-color="#4da2de"/><stop offset="34.38%" stop-color="#4da2dd"/><stop offset="37.5%" stop-color="#4da2dd"/><stop offset="40.62%" stop-color="#4da2dd"/><stop offset="43.75%" stop-color="#4da2dd"/><stop offset="46.88%" stop-color="#4da2dd"/><stop offset="50%" stop-color="#49b6cb"/><stop offset="53.12%" stop-color="#6fca8a"/><stop offset="56.25%" stop-color="#d9b945"/><stop offset="59.38%" stop-color="#e8b242"/><stop offset="62.5%" stop-color="#e8b242"/><stop offset="65.62%" stop-color="#e8b242"/><stop offset="68.75%" stop-color="#ede438"/><stop offset="71.88%" stop-color="#e8f53c"/><stop offset="75%" stop-color="#e8f53c"/><stop offset="78.12%" stop-color="#e8f53c"/><stop offset="81.25%" stop-color="#e8f53c"/><stop offset="84.38%" stop-color="#e8f53c"/><stop offset="87.5%" stop-color="#e8f53c"/><stop offset="90.62%" stop-color="#e8f53c"/><stop offset="93.75%" stop-color="#e8f53c"/><stop offset="96.88%" stop-color="#e8f53c"/><stop offset="100%" stop-color="#e8f53c"/></linearGradient><linearGradient id="hg26" x1="0" x2="1" y1="0" y2="0"><stop offset="0%" stop-color="#4d91e8"/><stop offset="3.12%" stop-color="#4da1df"/><stop offset="6.25%" stop-color="#4d95e6"/><stop offset="9.38%" stop-color="#4c8fe9"/><stop offset="12.5%" stop-color="#4da2de"/><stop offset="15.62%" stop-color="#4d92e8"/><stop offset="18.75%" stop-color="#4d92e8"/><stop offset="21.88%" stop-color="#4da2dd"/><stop offset="25%" stop-color="#4c8fe9"/><stop offset="28.12%" stop-color="#4d95e7"/><stop offset="31.25%" stop-color="#4da2dd"/><stop offset="34.38%" stop-color="#4e9de2"/><stop offset="37.5%" stop-color="#4e9ce3"/><stop offset="40.62%" stop-color="#4da2de"/><stop offset="43.75%" stop-color="#4ca7d9"/><stop offset="46.88%" stop-color="#4bacd4"/><stop offset="50%" stop-color="#4abbc3"/><stop offset="53.12%" stop-color="#73ca86"/><stop offset="56.25%" stop-color="#e8b242"/><stop offset="59.38%" stop-color="#e8b242"/><stop offset="62.5%" stop-color="#ecd03a"/><stop offset="65.62%" stop-color="#ece539"/><stop offset="68.75%" stop-color="#e9bb40"/><stop offset="71.88%" stop-color="#ebc53d"/><stop offset="75%" stop-color="#ece739"/><stop offset="78.12%" stop-color="#edda38"/><stop offset="81.25%" stop-color="#eabf3f"/><stop offset="84.38%" stop-color="#ebc73d"/><stop offset="87.5%" stop-color="#ede138"/><stop offset="90.62%" stop-color="#ece639"/><stop offset="93.75%" stop-color="#ede238"/><stop offset="96.88%" stop-color="#edd938"/><stop offset="100%" stop-color="#ecd33a"/></linearGradient><linearGradient id="hg27" x1="0" x2="1" y1="0" y2="0"><stop offset="0%" stop-color="#4aacd4"/><stop offset="3.12%" stop-color="#4aadd4"/><stop offset="6.25%" stop-color="#4aadd3"/><stop offset="9.38%" stop-color="#4aadd3"/><stop offset="12.5%" stop-color="#4aaed3"/><stop offset="15.62%" stop-color="#4aaed2"/><stop offset="18.75%" stop-color="#4aafd1"/><stop offset="21.88%" stop-color="#4ab0d1"/><stop offset="25%" stop-color="#4ab0d0"/><stop offset="28.12%" stop-color="#4ab1d0"/><stop offset="31.25%" stop-color="#49b2cf"/><stop offset="34.38%" stop-color="#49b2ce"/><stop offset="37.5%" stop-color="#49b3ce"/><stop offset="40.62%" stop-color="#49b3cd"/><stop offset="43.75%" stop-color="#49b4cd"/><stop offset="46.88%" stop-color="#49b4cd"/><stop offset="50%" stop-color="#49b4cd"/><stop offset="53.12%" stop-color="#63ca95"/><stop offset="56.25%" stop-color="#cabe4b"/><stop offset="59.38%" stop-color="#ebca3c"/><stop offset="62.5%" stop-color="#e8f53c"/><stop offset="65.62%" stop-color="#e8f53c"/><stop offset="68.75%" stop-color="#e8f53c"/><stop offset="71.88%" stop-color="#e8f53c"/><stop offset="75%" stop-color="#e8f53c"/><stop offset="78.12%" stop-color="#e8f53c"/><stop offset="81.25%" stop-color="#e8f53c"/><stop offset="84.38%" stop-color="#e8f53c"/><stop offset="87.5%" stop-color="#ede138"/><stop offset="90.62%" stop-color="#eabd3f"/><stop offset="93.75%" stop-color="#eabd3f"/><stop offset="96.88%" stop-color="#eabd3f"/><stop offset="100%" stop-color="#eabd3f"/></linearGradient><linearGradient id="hg28" x1="0" x2="1" y1="0" y2="0"><stop offset="0%" stop-color="#497af2"/><stop offset="3.12%" stop-color="#497af2"/><stop offset="6.25%" stop-color="#497af2"/><stop offset="9.38%" stop-color="#497bf2"/><stop offset="12.5%" stop-color="#4a7bf1"/><stop offset="15.62%" stop-color="#4a7cf1"/><stop offset="18.75%" stop-color="#4a7cf1"/><stop offset="21.88%" stop-color="#4a7df1"/><stop offset="25%" stop-color="#4a7df0"/><stop offset="28.12%" stop-color="#4a7ef0"/><stop offset="31.25%" stop-color="#4a7ff0"/><stop offset="34.38%" stop-color="#4a7ff0"/><stop offset="37.5%" stop-color="#4a80ef"/><stop offset="40.62%" stop-color="#4a80ef"/><stop offset="43.75%" stop-color="#4a80ef"/><stop offset="46.88%" stop-color="#4a81ef"/><stop offset="50%" stop-color="#4d95e6"/><stop offset="53.12%" stop-color="#49b4cd"/><stop offset="56.25%" stop-color="#5dc7a0"/><stop offset="59.38%" stop-color="#97ca64"/><stop offset="62.5%" stop-color="#e9b940"/><stop offset="65.62%" stop-color="#e8f53c"/><stop offset="68.75%" stop-color="#e8f53c"/><stop offset="71.88%" stop-color="#e8f53c"/><stop offset="75%" stop-color="#e8f53c"/><stop offset="78.12%" stop-color="#e8f53c"/><stop offset="81.25%" stop-color="#e9ba40"/><stop offset="84.38%" stop-color="#e8b242"/><stop offset="87.5%" stop-color="#e8b242"/><stop offset="90.62%" stop-color="#e8b242"/><stop offset="93.75%" stop-color="#e6b342"/><stop offset="96.88%" stop-color="#b6c453"/><stop offset="100%" stop-color="#7bca7f"/></linearGradient><linearGradient id="hg29" x1="0" x2="1" y1="0" y2="0"><stop offset="0%" stop-color="#4b84ee"/><stop offset="3.12%" stop-color="#4b84ee"/><stop offset="6.25%" stop-color="#4b84ee"/><stop offset="9.38%" stop-color="#4b84ee"/><stop offset="12.5%" stop-color="#4b84ee"/><stop offset="15.62%" stop-color="#4b84ee"/><stop offset="18.75%" stop-color="#4b84ee"/><stop offset="21.88%" stop-color="#4b84ee"/><stop offset="25%" stop-color="#4b84ee"/><stop offset="28.12%" stop-color="#4b84ee"/><stop offset="31.25%" stop-color="#4b82ee"/><stop offset="34.38%" stop-color="#4975f4"/><stop offset="37.5%" stop-color="#4769f4"/><stop offset="40.62%" stop-color="#486ef6"/><stop offset="43.75%" stop-color="#4979f2"/><stop offset="46.88%" stop-color="#4a7df1"/><stop offset="50%" stop-color="#4b87ec"/><stop offset="53.12%" stop-color="#4d97e6"/><stop offset="56.25%" stop-color="#4fbeba"/><stop offset="59.38%" stop-color="#60c99a"/><stop offset="62.5%" stop-color="#85ca75"/><stop offset="65.62%" stop-color="#e9f23b"/><stop offset="68.75%" stop-color="#e8f53c"/><stop offset="71.88%" stop-color="#e8f53c"/><stop offset="75%" stop-color="#eaee3a"/><stop offset="78.12%" stop-color="#e8b242"/><stop offset="81.25%" stop-color="#c8be4c"/><stop offset="84.38%" stop-color="#94ca68"/><stop offset="87.5%" stop-color="#92ca69"/><stop offset="90.62%" stop-color="#8fca6c"/><stop offset="93.75%" stop-color="#8bca6f"/><stop offset="96.88%" stop-color="#88ca72"/><stop offset="100%" stop-color="#87ca73"/></linearGradient><linearGradient id="hg30" x1="0" x2="1" y1="0" y2="0"><stop offset="0%" stop-color="#4ca2dd"/><stop offset="3.12%" stop-color="#4ca3dd"/><stop offset="6.25%" stop-color="#4ca3dd"/><stop offset="9.38%" stop-color="#4ca3dc"/><stop offset="12.5%" stop-color="#4ca4dc"/><stop offset="15.62%" stop-color="#4ca5db"/><stop offset="18.75%" stop-color="#4ca5da"/><stop offset="21.88%" stop-color="#4ca6d9"/><stop offset="25%" stop-color="#4ca7d9"/><stop offset="28.12%" stop-color="#4ba8d8"/><stop offset="31.25%" stop-color="#4ba9d7"/><stop offset="34.38%" stop-color="#4baad6"/><stop offset="37.5%" stop-color="#4babd5"/><stop offset="40.62%" stop-color="#4babd5"/><stop offset="43.75%" stop-color="#4bacd4"/><stop offset="46.88%" stop-color="#4bacd4"/><stop offset="50%" stop-color="#4bacd4"/><stop offset="53.12%" stop-color="#4ab0d0"/><stop offset="56.25%" stop-color="#5ac5a5"/><stop offset="59.38%" stop-color="#8eca6d"/><stop offset="62.5%" stop-color="#e9b641"/><stop offset="65.62%" stop-color="#e8f43c"/><stop offset="68.75%" stop-color="#e8f53c"/><stop offset="71.88%" stop-color="#e8f53c"/><stop offset="75%" stop-color="#e8f53c"/><stop offset="78.12%" stop-color="#e8f53c"/><stop offset="81.25%" stop-color="#ebea3a"/><stop offset="84.38%" stop-color="#e8b242"/><stop offset="87.5%" stop-color="#c0c04f"/><stop offset="90.62%" stop-color="#93ca68"/><stop offset="93.75%" stop-color="#90ca6b"/><stop offset="96.88%" stop-color="#8aca71"/><stop offset="100%" stop-color="#87ca73"/></linearGradient><linearGradient id="hg31" x1="0" x2="1" y1="0" y2="0"><stop offset="0%" stop-color="#4b84ee"/><stop offset="3.12%" stop-color="#4b84ee"/><stop offset="6.25%" stop-color="#4b84ee"/><stop offset="9.38%" stop-color="#4b84ed"/><stop offset="12.5%" stop-color="#4b85ed"/><stop offset="15.62%" stop-color="#4b85ed"/><stop offset="18.75%" stop-color="#4b86ed"/><stop offset="21.88%" stop-color="#4b87ed"/><stop offset="25%" stop-color="#4b87ec"/><stop offset="28.12%" stop-color="#4b88ec"/><stop offset="31.25%" stop-color="#4b88ec"/><stop offset="34.38%" stop-color="#4b89ec"/><stop offset="37.5%" stop-color="#4c89eb"/><stop offset="40.62%" stop-color="#4c8aeb"/><stop offset="43.75%" stop-color="#4c8aeb"/><stop offset="46.88%" stop-color="#4c8aeb"/><stop offset="50%" stop-color="#4c8aeb"/><stop offset="53.12%" stop-color="#4da2dd"/><stop offset="56.25%" stop-color="#49b4cc"/><stop offset="59.38%" stop-color="#74ca85"/><stop offset="62.5%" stop-color="#d8b945"/><stop offset="65.62%" stop-color="#ecd23a"/><stop offset="68.75%" stop-color="#e8f53c"/><stop offset="71.88%" stop-color="#e8f53c"/><stop offset="75%" stop-color="#e8f53c"/><stop offset="78.12%" stop-color="#e8f53c"/><stop offset="81.25%" stop-color="#e8f53c"/><stop offset="84.38%" stop-color="#e8f43c"/><stop offset="87.5%" stop-color="#e9b641"/><stop offset="90.62%" stop-color="#e8b242"/><stop offset="93.75%" stop-color="#e8b242"/><stop offset="96.88%" stop-color="#e8b242"/><stop offset="100%" stop-color="#e8b242"/></linearGradient><linearGradient id="hg32" x1="0" x2="1" y1="0" y2="0"><stop offset="0%" stop-color="#4455f0"/><stop offset="3.12%" stop-color="#4455f0"/><stop offset="6.25%" stop-color="#4455f0"/><stop offset="9.38%" stop-color="#4455f0"/><stop offset="12.5%" stop-color="#4455f0"/><stop offset="15.62%" stop-color="#4455f0"/><stop offset="18.75%" stop-color="#4455f0"/><stop offset="21.88%" stop-color="#4455f0"/><stop offset="25%" stop-color="#4455f0"/><stop offset="28.12%" stop-color="#4455f0"/><stop offset="31.25%" stop-color="#4455f0"/><stop offset="34.38%" stop-color="#4455f0"/><stop offset="37.5%" stop-color="#4455f0"/><stop offset="40.62%" stop-color="#4455f0"/><stop offset="43.75%" stop-color="#4455f0"/><stop offset="46.88%" stop-color="#455cf1"/><stop offset="50%" stop-color="#4873f5"/><stop offset="53.12%" stop-color="#4a7ff0"/><stop offset="56.25%" stop-color="#4da0e0"/><stop offset="59.38%" stop-color="#49b5cc"/><stop offset="62.5%" stop-color="#79ca80"/><stop offset="65.62%" stop-color="#e9f23b"/><stop offset="68.75%" stop-color="#e8f53c"/><stop offset="71.88%" stop-color="#e8f53c"/><stop offset="75%" stop-color="#e8f53c"/><stop offset="78.12%" stop-color="#e8f53c"/><stop offset="81.25%" stop-color="#e8f53c"/><stop offset="84.38%" stop-color="#e8f53c"/><stop offset="87.5%" stop-color="#e8f53c"/><stop offset="90.62%" stop-color="#e8f53c"/><stop offset="93.75%" stop-color="#e8f53c"/><stop offset="96.88%" stop-color="#e8f53c"/><stop offset="100%" stop-color="#e8f53c"/></linearGradient><linearGradient id="hg33" x1="0" x2="1" y1="0" y2="0"><stop offset="0%" stop-color="#4458f0"/><stop offset="3.12%" stop-color="#4458f0"/><stop offset="6.25%" stop-color="#4457f0"/><stop offset="9.38%" stop-color="#4455f0"/><stop offset="12.5%" stop-color="#4454ef"/><stop offset="15.62%" stop-color="#4452ef"/><stop offset="18.75%" stop-color="#4351ef"/><stop offset="21.88%" stop-color="#4351ef"/><stop offset="25%" stop-color="#4144ec"/><stop offset="28.12%" stop-color="#382fd2"/><stop offset="31.25%" stop-color="#3529ca"/><stop offset="34.38%" stop-color="#3528c9"/><stop offset="37.5%" stop-color="#3427c7"/><stop offset="40.62%" stop-color="#3326c6"/><stop offset="43.75%" stop-color="#3325c5"/><stop offset="46.88%" stop-color="#352acb"/><stop offset="50%" stop-color="#3e3be3"/><stop offset="53.12%" stop-color="#4245ec"/><stop offset="56.25%" stop-color="#4766f4"/><stop offset="59.38%" stop-color="#4a81ef"/><stop offset="62.5%" stop-color="#59c4a8"/><stop offset="65.62%" stop-color="#cbbd4a"/><stop offset="68.75%" stop-color="#e8f53c"/><stop offset="71.88%" stop-color="#e8f53c"/><stop offset="75%" stop-color="#e8f53c"/><stop offset="78.12%" stop-color="#e8f53c"/><stop offset="81.25%" stop-color="#e8f53c"/><stop offset="84.38%" stop-color="#e8f53c"/><stop offset="87.5%" stop-color="#e8f53c"/><stop offset="90.62%" stop-color="#ebea3a"/><stop offset="93.75%" stop-color="#ecce3b"/><stop offset="96.88%" stop-color="#eac13e"/><stop offset="100%" stop-color="#e8b242"/></linearGradient><linearGradient id="hg34" x1="0" x2="0" y1="0" y2="1"><stop offset="0%" stop-color="#e8f53c"/><stop offset="2.5%" stop-color="#eaee3a"/><stop offset="5%" stop-color="#ece739"/><stop offset="7.5%" stop-color="#eedf37"/><stop offset="10%" stop-color="#ecd33a"/><stop offset="12.5%" stop-color="#ebc53d"/><stop offset="15%" stop-color="#e9b841"/><stop offset="17.5%" stop-color="#e5b443"/><stop offset="20%" stop-color="#dfb644"/><stop offset="22.5%" stop-color="#d9b845"/><stop offset="25%" stop-color="#cfbc49"/><stop offset="27.5%" stop-color="#bec150"/><stop offset="30%" stop-color="#adc657"/><stop offset="32.5%" stop-color="#9dca5f"/><stop offset="35%" stop-color="#8dca6d"/><stop offset="37.5%" stop-color="#7eca7c"/><stop offset="40%" stop-color="#6eca8a"/><stop offset="42.5%" stop-color="#61c998"/><stop offset="45%" stop-color="#5bc5a4"/><stop offset="47.5%" stop-color="#55c2af"/><stop offset="50%" stop-color="#4fbeba"/><stop offset="52.5%" stop-color="#49bac6"/><stop offset="55%" stop-color="#49b4cd"/><stop offset="57.5%" stop-color="#4aaed2"/><stop offset="60%" stop-color="#4ca8d8"/><stop offset="62.5%" stop-color="#4da1de"/><stop offset="65%" stop-color="#4e9be4"/><stop offset="67.5%" stop-color="#4d93e7"/><stop offset="70%" stop-color="#4c8aeb"/><stop offset="72.5%" stop-color="#4b82ee"/><stop offset="75%" stop-color="#497af2"/><stop offset="77.5%" stop-color="#4872f5"/><stop offset="80%" stop-color="#4768f4"/><stop offset="82.5%" stop-color="#455ef2"/><stop offset="85%" stop-color="#4455f0"/><stop offset="87.5%" stop-color="#424bed"/><stop offset="90%" stop-color="#4141eb"/><stop offset="92.5%" stop-color="#3c37dd"/><stop offset="95%" stop-color="#372dd0"/><stop offset="97.5%" stop-color="#3223c2"/><stop offset="100%" stop-color="#2d19b4"/></linearGradient><linearGradient id="hg35" x1="0" x2="1" y1="0" y2="0"><stop offset="0%" stop-color="#e8f53c"/><stop offset="3.12%" stop-color="#e8f53c"/><stop offset="6.25%" stop-color="#e8f53c"/><stop offset="9.38%" stop-color="#e8f43c"/><stop offset="12.5%" stop-color="#e8f33c"/><stop offset="15.62%" stop-color="#e9f33b"/><stop offset="18.75%" stop-color="#e9f23b"/><stop offset="21.88%" stop-color="#e9f13b"/><stop offset="25%" stop-color="#e9f03b"/><stop offset="28.12%" stop-color="#e9f03b"/><stop offset="31.25%" stop-color="#e9ef3b"/><stop offset="34.38%" stop-color="#e9ef3b"/><stop offset="37.5%" stop-color="#ece739"/><stop offset="40.62%" stop-color="#eedf37"/><stop offset="43.75%" stop-color="#e9f13b"/><stop offset="46.88%" stop-color="#e8f53c"/><stop offset="50%" stop-color="#e8f53c"/><stop offset="53.12%" stop-color="#edd539"/><stop offset="56.25%" stop-color="#e9bb40"/><stop offset="59.38%" stop-color="#e8b242"/><stop offset="62.5%" stop-color="#c2c04e"/><stop offset="65.62%" stop-color="#7aca7f"/><stop offset="68.75%" stop-color="#6dca8c"/><stop offset="71.88%" stop-color="#5fc89c"/><stop offset="75%" stop-color="#5bc5a4"/><stop offset="78.12%" stop-color="#54c1b1"/><stop offset="81.25%" stop-color="#4bbbc2"/><stop offset="84.38%" stop-color="#49b6cb"/><stop offset="87.5%" stop-color="#4ba8d8"/><stop offset="90.62%" stop-color="#4ca2dd"/><stop offset="93.75%" stop-color="#4ca2dd"/><stop offset="96.88%" stop-color="#4ca2dd"/><stop offset="100%" stop-color="#4ca2dd"/></linearGradient><linearGradient id="hg36" x1="0" x2="1" y1="0" y2="0"><stop offset="0%" stop-color="#e8f53c"/><stop offset="3.12%" stop-color="#ebeb3a"/><stop offset="6.25%" stop-color="#edda38"/><stop offset="9.38%" stop-color="#ede037"/><stop offset="12.5%" stop-color="#e8f53c"/><stop offset="15.62%" stop-color="#e8f53c"/><stop offset="18.75%" stop-color="#e8f53c"/><stop offset="21.88%" stop-color="#e8f53c"/><stop offset="25%" stop-color="#e8f53c"/><stop offset="28.12%" stop-color="#e8f53c"/><stop offset="31.25%" stop-color="#e9f13b"/><stop offset="34.38%" stop-color="#edd539"/><stop offset="37.5%" stop-color="#ece739"/><stop offset="40.62%" stop-color="#e8f53c"/><stop offset="43.75%" stop-color="#e8f53c"/><stop offset="46.88%" stop-color="#e8f53c"/><stop offset="50%" stop-color="#e8f53c"/><stop offset="53.12%" stop-color="#e8f53c"/><stop offset="56.25%" stop-color="#e8f53c"/><stop offset="59.38%" stop-color="#e8f53c"/><stop offset="62.5%" stop-color="#e9f33c"/><stop offset="65.62%" stop-color="#dab845"/><stop offset="68.75%" stop-color="#8fca6c"/><stop offset="71.88%" stop-color="#5ac5a5"/><stop offset="75%" stop-color="#4bbbc2"/><stop offset="78.12%" stop-color="#4d95e7"/><stop offset="81.25%" stop-color="#4b84ee"/><stop offset="84.38%" stop-color="#4a81ef"/><stop offset="87.5%" stop-color="#4a7ef0"/><stop offset="90.62%" stop-color="#4a7bf1"/><stop offset="93.75%" stop-color="#4979f2"/><stop offset="96.88%" stop-color="#455ef2"/><stop offset="100%" stop-color="#4249ed"/></linearGradient><linearGradient id="hg37" x1="0" x2="1" y1="0" y2="0"><stop offset="0%" stop-color="#e8f53c"/><stop offset="3.12%" stop-color="#e8f53c"/><stop offset="6.25%" stop-color="#e8f53c"/><stop offset="9.38%" stop-color="#e8f53c"/><stop offset="12.5%" stop-color="#e8f53c"/><stop offset="15.62%" stop-color="#e8f53c"/><stop offset="18.75%" stop-color="#e8f53c"/><stop offset="21.88%" stop-color="#e8f53c"/><stop offset="25%" stop-color="#e8f53c"/><stop offset="28.12%" stop-color="#e8f53c"/><stop offset="31.25%" stop-color="#e8f53c"/><stop offset="34.38%" stop-color="#e8f53c"/><stop offset="37.5%" stop-color="#e8f53c"/><stop offset="40.62%" stop-color="#e8f53c"/><stop offset="43.75%" stop-color="#e8f53c"/><stop offset="46.88%" stop-color="#e8f53c"/><stop offset="50%" stop-color="#e8f53c"/><stop offset="53.12%" stop-color="#e8f53c"/><stop offset="56.25%" stop-color="#eaef3b"/><stop offset="59.38%" stop-color="#eac03e"/><stop offset="62.5%" stop-color="#e9ba40"/><stop offset="65.62%" stop-color="#e8b441"/><stop offset="68.75%" stop-color="#e4b443"/><stop offset="71.88%" stop-color="#88ca73"/><stop offset="75%" stop-color="#80ca7a"/><stop offset="78.12%" stop-color="#6eca8b"/><stop offset="81.25%" stop-color="#5fc89b"/><stop offset="84.38%" stop-color="#5bc5a3"/><stop offset="87.5%" stop-color="#5ac5a5"/><stop offset="90.62%" stop-color="#57c3ab"/><stop offset="93.75%" stop-color="#54c1b2"/><stop offset="96.88%" stop-color="#50bfb8"/><stop offset="100%" stop-color="#4fbeba"/></linearGradient><linearGradient id="hg38" x1="0" x2="1" y1="0" y2="0"><stop offset="0%" stop-color="#eaef3b"/><stop offset="3.12%" stop-color="#ecd23a"/><stop offset="6.25%" stop-color="#eabd3f"/><stop offset="9.38%" stop-color="#eabd3f"/><stop offset="12.5%" stop-color="#eabd3f"/><stop offset="15.62%" stop-color="#eabd3f"/><stop offset="18.75%" stop-color="#eabd3f"/><stop offset="21.88%" stop-color="#edd539"/><stop offset="25%" stop-color="#e8f53c"/><stop offset="28.12%" stop-color="#e8f53c"/><stop offset="31.25%" stop-color="#e8f53c"/><stop offset="34.38%" stop-color="#e8f53c"/><stop offset="37.5%" stop-color="#e8f53c"/><stop offset="40.62%" stop-color="#e8f53c"/><stop offset="43.75%" stop-color="#e8f53c"/><stop offset="46.88%" stop-color="#e8f53c"/><stop offset="50%" stop-color="#e8f53c"/><stop offset="53.12%" stop-color="#e8f53c"/><stop offset="56.25%" stop-color="#e8f53c"/><stop offset="59.38%" stop-color="#e8f53c"/><stop offset="62.5%" stop-color="#e8f53c"/><stop offset="65.62%" stop-color="#e8f53c"/><stop offset="68.75%" stop-color="#e9f13b"/><stop offset="71.88%" stop-color="#e8b242"/><stop offset="75%" stop-color="#c2c04e"/><stop offset="78.12%" stop-color="#7bca7f"/><stop offset="81.25%" stop-color="#73ca86"/><stop offset="84.38%" stop-color="#63ca95"/><stop offset="87.5%" stop-color="#5dc7a0"/><stop offset="90.62%" stop-color="#5bc5a4"/><stop offset="93.75%" stop-color="#57c3ab"/><stop offset="96.88%" stop-color="#52bfb5"/><stop offset="100%" stop-color="#4fbeba"/></linearGradient><linearGradient id="hg39" x1="0" x2="1" y1="0" y2="0"><stop offset="0%" stop-color="#e8b242"/><stop offset="3.12%" stop-color="#e8b242"/><stop offset="6.25%" stop-color="#e8b242"/><stop offset="9.38%" stop-color="#e8b242"/><stop offset="12.5%" stop-color="#cbbd4a"/><stop offset="15.62%" stop-color="#adc657"/><stop offset="18.75%" stop-color="#adc657"/><stop offset="21.88%" stop-color="#adc657"/><stop offset="25%" stop-color="#adc657"/><stop offset="28.12%" stop-color="#eabf3f"/><stop offset="31.25%" stop-color="#e8f53c"/><stop offset="34.38%" stop-color="#e8f53c"/><stop offset="37.5%" stop-color="#e8f53c"/><stop offset="40.62%" stop-color="#e8f53c"/><stop offset="43.75%" stop-color="#e8f53c"/><stop offset="46.88%" stop-color="#e8f53c"/><stop offset="50%" stop-color="#e8f53c"/><stop offset="53.12%" stop-color="#edd539"/><stop offset="56.25%" stop-color="#e9bc3f"/><stop offset="59.38%" stop-color="#e8b541"/><stop offset="62.5%" stop-color="#e6b342"/><stop offset="65.62%" stop-color="#7eca7c"/><stop offset="68.75%" stop-color="#75ca84"/><stop offset="71.88%" stop-color="#69ca90"/><stop offset="75%" stop-color="#62ca96"/><stop offset="78.12%" stop-color="#5ac5a5"/><stop offset="81.25%" stop-color="#50beb9"/><stop offset="84.38%" stop-color="#4fbdbb"/><stop offset="87.5%" stop-color="#4ebdbc"/><stop offset="90.62%" stop-color="#4dbcbf"/><stop offset="93.75%" stop-color="#4cbbc1"/><stop offset="96.88%" stop-color="#4bbbc3"/><stop offset="100%" stop-color="#4abbc3"/></linearGradient><linearGradient id="hg40" x1="0" x2="1" y1="0" y2="0"><stop offset="0%" stop-color="#ece739"/><stop offset="3.12%" stop-color="#ece739"/><stop offset="6.25%" stop-color="#ece739"/><stop offset="9.38%" stop-color="#ece739"/><stop offset="12.5%" stop-color="#ece739"/><stop offset="15.62%" stop-color="#ece739"/><stop offset="18.75%" stop-color="#ece739"/><stop offset="21.88%" stop-color="#ece739"/><stop offset="25%" stop-color="#ece739"/><stop offset="28.12%" stop-color="#ece739"/><stop offset="31.25%" stop-color="#ece739"/><stop offset="34.38%" stop-color="#ece739"/><stop offset="37.5%" stop-color="#ece739"/><stop offset="40.62%" stop-color="#ece739"/><stop offset="43.75%" stop-color="#ece739"/><stop offset="46.88%" stop-color="#ece739"/><stop offset="50%" stop-color="#ece739"/><stop offset="53.12%" stop-color="#e9f03b"/><stop offset="56.25%" stop-color="#e8f53c"/><stop offset="59.38%" stop-color="#e8f53c"/><stop offset="62.5%" stop-color="#ede138"/><stop offset="65.62%" stop-color="#e9bd3f"/><stop offset="68.75%" stop-color="#e9bb40"/><stop offset="71.88%" stop-color="#e9b840"/><stop offset="75%" stop-color="#e8b541"/><stop offset="78.12%" stop-color="#e8b242"/><stop offset="81.25%" stop-color="#e1b544"/><stop offset="84.38%" stop-color="#8dca6e"/><stop offset="87.5%" stop-color="#85ca75"/><stop offset="90.62%" stop-color="#7fca7b"/><stop offset="93.75%" stop-color="#78ca82"/><stop offset="96.88%" stop-color="#71ca88"/><stop offset="100%" stop-color="#6eca8a"/></linearGradient><linearGradient id="hg41" x1="0" x2="1" y1="0" y2="0"><stop offset="0%" stop-color="#e8f53c"/><stop offset="3.12%" stop-color="#e8f53c"/><stop offset="6.25%" stop-color="#e8f53c"/><stop offset="9.38%" stop-color="#e8f53c"/><stop offset="12.5%" stop-color="#e8f53c"/><stop offset="15.62%" stop-color="#e8f53c"/><stop offset="18.75%" stop-color="#e8f53c"/><stop offset="21.88%" stop-color="#e8f53c"/><stop offset="25%" stop-color="#e8f53c"/><stop offset="28.12%" stop-color="#e8f53c"/><stop offset="31.25%" stop-color="#e8f53c"/><stop offset="34.38%" stop-color="#e8f53c"/><stop offset="37.5%" stop-color="#e8f53c"/><stop offset="40.62%" stop-color="#e9f03b"/><stop offset="43.75%" stop-color="#eabd3f"/><stop offset="46.88%" stop-color="#eabd3f"/><stop offset="50%" stop-color="#eabd3f"/><stop offset="53.12%" stop-color="#e9b741"/><stop offset="56.25%" stop-color="#e7b242"/><stop offset="59.38%" stop-color="#84ca76"/><stop offset="62.5%" stop-color="#5dc79f"/><stop offset="65.62%" stop-color="#4ebdbc"/><stop offset="68.75%" stop-color="#4ab0d1"/><stop offset="71.88%" stop-color="#4bacd4"/><stop offset="75%" stop-color="#4bacd4"/><stop offset="78.12%" stop-color="#4bacd5"/><stop offset="81.25%" stop-color="#4babd5"/><stop offset="84.38%" stop-color="#4baad6"/><stop offset="87.5%" stop-color="#4ba9d7"/><stop offset="90.62%" stop-color="#4ba9d7"/><stop offset="93.75%" stop-color="#4ba8d8"/><stop offset="96.88%" stop-color="#4ba8d8"/><stop offset="100%" stop-color="#4ca8d8"/></linearGradient><linearGradient id="hg42" x1="0" x2="1" y1="0" y2="0"><stop offset="0%" stop-color="#d6ba46"/><stop offset="3.12%" stop-color="#d7ba46"/><stop offset="6.25%" stop-color="#d9b945"/><stop offset="9.38%" stop-color="#dab845"/><stop offset="12.5%" stop-color="#ede138"/><stop offset="15.62%" stop-color="#eaee3a"/><stop offset="18.75%" stop-color="#ebc63d"/><stop offset="21.88%" stop-color="#eabd3f"/><stop offset="25%" stop-color="#eabd3f"/><stop offset="28.12%" stop-color="#eabd3f"/><stop offset="31.25%" stop-color="#ebc93c"/><stop offset="34.38%" stop-color="#e8f33c"/><stop offset="37.5%" stop-color="#e8f53c"/><stop offset="40.62%" stop-color="#e8f43c"/><stop offset="43.75%" stop-color="#e9f23b"/><stop offset="46.88%" stop-color="#e9f13b"/><stop offset="50%" stop-color="#e9ef3b"/><stop offset="53.12%" stop-color="#ede338"/><stop offset="56.25%" stop-color="#eac03f"/><stop offset="59.38%" stop-color="#e9f33c"/><stop offset="62.5%" stop-color="#e8f53c"/><stop offset="65.62%" stop-color="#e8f53c"/><stop offset="68.75%" stop-color="#e8f53c"/><stop offset="71.88%" stop-color="#e8f53c"/><stop offset="75%" stop-color="#e8f53c"/><stop offset="78.12%" stop-color="#e8b242"/><stop offset="81.25%" stop-color="#dfb644"/><stop offset="84.38%" stop-color="#d1bc48"/><stop offset="87.5%" stop-color="#cebc49"/><stop offset="90.62%" stop-color="#c9be4b"/><stop offset="93.75%" stop-color="#c3c04e"/><stop offset="96.88%" stop-color="#bdc150"/><stop offset="100%" stop-color="#bbc251"/></linearGradient><linearGradient id="hg43" x1="0" x2="1" y1="0" y2="0"><stop offset="0%" stop-color="#e8f53c"/><stop offset="3.12%" stop-color="#e8f53c"/><stop offset="6.25%" stop-color="#e8f53c"/><stop offset="9.38%" stop-color="#e8f53c"/><stop offset="12.5%" stop-color="#e8f53c"/><stop offset="15.62%" stop-color="#e8f53c"/><stop offset="18.75%" stop-color="#e8f53c"/><stop offset="21.88%" stop-color="#e8f53c"/><stop offset="25%" stop-color="#e8f53c"/><stop offset="28.12%" stop-color="#e8f53c"/><stop offset="31.25%" stop-color="#e8f53c"/><stop offset="34.38%" stop-color="#e8f53c"/><stop offset="37.5%" stop-color="#e8f53c"/><stop offset="40.62%" stop-color="#e9f33c"/><stop offset="43.75%" stop-color="#eac03f"/><stop offset="46.88%" stop-color="#e3b443"/><stop offset="50%" stop-color="#c2c04e"/><stop offset="53.12%" stop-color="#87ca73"/><stop offset="56.25%" stop-color="#7aca7f"/><stop offset="59.38%" stop-color="#76ca84"/><stop offset="62.5%" stop-color="#6eca8a"/><stop offset="65.62%" stop-color="#67ca91"/><stop offset="68.75%" stop-color="#62ca96"/><stop offset="71.88%" stop-color="#59c4a6"/><stop offset="75%" stop-color="#4ba8d8"/><stop offset="78.12%" stop-color="#4d91e8"/><stop offset="81.25%" stop-color="#4c8fe9"/><stop offset="84.38%" stop-color="#4c8aeb"/><stop offset="87.5%" stop-color="#4b85ed"/><stop offset="90.62%" stop-color="#4b83ee"/><stop offset="93.75%" stop-color="#4979f2"/><stop offset="96.88%" stop-color="#4769f4"/><stop offset="100%" stop-color="#4660f2"/></linearGradient><linearGradient id="hg44" x1="0" x2="1" y1="0" y2="0"><stop offset="0%" stop-color="#e4b443"/><stop offset="3.12%" stop-color="#e3b443"/><stop offset="6.25%" stop-color="#e0b544"/><stop offset="9.38%" stop-color="#ddb744"/><stop offset="12.5%" stop-color="#dab845"/><stop offset="15.62%" stop-color="#d8b946"/><stop offset="18.75%" stop-color="#d6ba46"/><stop offset="21.88%" stop-color="#c6bf4d"/><stop offset="25%" stop-color="#81ca79"/><stop offset="28.12%" stop-color="#55c1af"/><stop offset="31.25%" stop-color="#4ebdbd"/><stop offset="34.38%" stop-color="#49b5cc"/><stop offset="37.5%" stop-color="#4aadd3"/><stop offset="40.62%" stop-color="#4aacd4"/><stop offset="43.75%" stop-color="#4aacd4"/><stop offset="46.88%" stop-color="#4aacd4"/><stop offset="50%" stop-color="#4aacd4"/><stop offset="53.12%" stop-color="#4d97e6"/><stop offset="56.25%" stop-color="#4c8aeb"/><stop offset="59.38%" stop-color="#4b88ec"/><stop offset="62.5%" stop-color="#4b85ed"/><stop offset="65.62%" stop-color="#4b83ee"/><stop offset="68.75%" stop-color="#476bf5"/><stop offset="71.88%" stop-color="#4455f0"/><stop offset="75%" stop-color="#4453ef"/><stop offset="78.12%" stop-color="#4351ef"/><stop offset="81.25%" stop-color="#434dee"/><stop offset="84.38%" stop-color="#424aed"/><stop offset="87.5%" stop-color="#4249ed"/><stop offset="90.62%" stop-color="#3b35da"/><stop offset="93.75%" stop-color="#3932d6"/><stop offset="96.88%" stop-color="#4247ec"/><stop offset="100%" stop-color="#4455f0"/></linearGradient><linearGradient id="hg45" x1="0" x2="1" y1="0" y2="0"><stop offset="0%" stop-color="#5bc5a4"/><stop offset="3.12%" stop-color="#5bc6a3"/><stop offset="6.25%" stop-color="#5cc6a2"/><stop offset="9.38%" stop-color="#5dc79f"/><stop offset="12.5%" stop-color="#5ec89d"/><stop offset="15.62%" stop-color="#60c99a"/><stop offset="18.75%" stop-color="#61c998"/><stop offset="21.88%" stop-color="#62ca97"/><stop offset="25%" stop-color="#62ca96"/><stop offset="28.12%" stop-color="#81ca79"/><stop offset="31.25%" stop-color="#abc758"/><stop offset="34.38%" stop-color="#60c99a"/><stop offset="37.5%" stop-color="#4ebdbc"/><stop offset="40.62%" stop-color="#4abac4"/><stop offset="43.75%" stop-color="#49b5cc"/><stop offset="46.88%" stop-color="#4aafd1"/><stop offset="50%" stop-color="#4aacd4"/><stop offset="53.12%" stop-color="#4d97e6"/><stop offset="56.25%" stop-color="#4c8aeb"/><stop offset="59.38%" stop-color="#4b88ec"/><stop offset="62.5%" stop-color="#4b85ed"/><stop offset="65.62%" stop-color="#4b82ee"/><stop offset="68.75%" stop-color="#455cf1"/><stop offset="71.88%" stop-color="#3d39e0"/><stop offset="75%" stop-color="#3c38de"/><stop offset="78.12%" stop-color="#3b34d9"/><stop offset="81.25%" stop-color="#3930d4"/><stop offset="84.38%" stop-color="#372dd0"/><stop offset="87.5%" stop-color="#4040ea"/><stop offset="90.62%" stop-color="#4768f4"/><stop offset="93.75%" stop-color="#476bf5"/><stop offset="96.88%" stop-color="#486ef6"/><stop offset="100%" stop-color="#4870f6"/></linearGradient><linearGradient id="hg46" x1="0" x2="0" y1="0" y2="1"><stop offset="0%" stop-color="#e8f53c"/><stop offset="2.5%" stop-color="#eaee3a"/><stop offset="5%" stop-color="#ece739"/><stop offset="7.5%" stop-color="#eedf37"/><stop offset="10%" stop-color="#ecd33a"/><stop offset="12.5%" stop-color="#ebc53d"/><stop offset="15%" stop-color="#e9b841"/><stop offset="17.5%" stop-color="#e5b443"/><stop offset="20%" stop-color="#dfb644"/><stop offset="22.5%" stop-color="#d9b845"/><stop offset="25%" stop-color="#cfbc49"/><stop offset="27.5%" stop-color="#bec150"/><stop offset="30%" stop-color="#adc657"/><stop offset="32.5%" stop-color="#9dca5f"/><stop offset="35%" stop-color="#8dca6d"/><stop offset="37.5%" stop-color="#7eca7c"/><stop offset="40%" stop-color="#6eca8a"/><stop offset="42.5%" stop-color="#61c998"/><stop offset="45%" stop-color="#5bc5a4"/><stop offset="47.5%" stop-color="#55c2af"/><stop offset="50%" stop-color="#4fbeba"/><stop offset="52.5%" stop-color="#49bac6"/><stop offset="55%" stop-color="#49b4cd"/><stop offset="57.5%" stop-color="#4aaed2"/><stop offset="60%" stop-color="#4ca8d8"/><stop offset="62.5%" stop-color="#4da1de"/><stop offset="65%" stop-color="#4e9be4"/><stop offset="67.5%" stop-color="#4d93e7"/><stop offset="70%" stop-color="#4c8aeb"/><stop offset="72.5%" stop-color="#4b82ee"/><stop offset="75%" stop-color="#497af2"/><stop offset="77.5%" stop-color="#4872f5"/><stop offset="80%" stop-color="#4768f4"/><stop offset="82.5%" stop-color="#455ef2"/><stop offset="85%" stop-color="#4455f0"/><stop offset="87.5%" stop-color="#424bed"/><stop offset="90%" stop-color="#4141eb"/><stop offset="92.5%" stop-color="#3c37dd"/><stop offset="95%" stop-color="#372dd0"/><stop offset="97.5%" stop-color="#3223c2"/><stop offset="100%" stop-color="#2d19b4"/></linearGradient></defs>
<rect width="685" height="677" fill="#fff"/>
<path d="M6.6,78.5 C6.82,77.6 8.57,76.32 9.8,75.6 C11.03,74.88 12.53,74.47 14,74.2 C15.47,73.93 17.27,73.8 18.6,74 C19.93,74.2 21.22,74.97 22,75.4 C22.78,75.83 22.87,76.87 23.3,76.6 C23.73,76.33 23.65,75.07 24.6,73.8 C25.55,72.53 26.93,70.3 29,69 C31.07,67.7 34.17,66.72 37,66 C39.83,65.28 43,64.97 46,64.7 C49,64.43 51.13,64.52 55,64.4 C58.87,64.28 64.45,63.68 69.2,64 C73.95,64.32 79.87,65.27 83.5,66.3 C87.13,67.33 89.28,68.92 91,70.2 C92.72,71.48 93.53,72.73 93.8,74 C94.07,75.27 93.3,76.83 92.6,77.8 C91.9,78.77 89.53,79.5 89.6,79.8 C89.67,80.1 91.77,79.68 93,79.6 C94.23,79.52 95.83,79.15 97,79.3 C98.17,79.45 98.92,80.25 100,80.5 C101.08,80.75 102.17,80.78 103.5,80.8 C104.83,80.82 106.58,80.2 108,80.6 C109.42,81 110.87,82.08 112,83.2 C113.13,84.32 114.2,85.67 114.8,87.3 C115.4,88.93 115.53,91.22 115.6,93 C115.67,94.78 115.57,95.92 115.2,98 C114.83,100.08 114.27,103.82 113.4,105.5 C112.53,107.18 111.73,107.58 110,108.1 C108.27,108.62 105.53,108.6 103,108.6 C100.47,108.6 97.42,108.42 94.8,108.1 C92.18,107.78 89.3,107.38 87.3,106.7 C85.3,106.02 83.88,105.15 82.8,104 C81.72,102.85 81.6,100.1 80.8,99.8 C80,99.5 79.62,101.1 78,102.2 C76.38,103.3 73.77,105.47 71.1,106.4 C68.43,107.33 64.68,107.53 62,107.8 C59.32,108.07 56.92,107.53 55,108 C53.08,108.47 52.33,110.07 50.5,110.6 C48.67,111.13 46,111.47 44,111.2 C42,110.93 40.07,110.1 38.5,109 C36.93,107.9 35.55,105.93 34.6,104.6 C33.65,103.27 33.82,102.6 32.8,101 C31.78,99.4 29.53,96.47 28.5,95 C27.47,93.53 27.27,93.2 26.6,92.2 C25.93,91.2 25.02,89.8 24.5,89 C23.98,88.2 23.87,87.2 23.5,87.4 C23.13,87.6 22.8,89.55 22.3,90.2 C21.8,90.85 21.27,91.27 20.5,91.3 C19.73,91.33 18.78,91.03 17.7,90.4 C16.62,89.77 15.03,88.52 14,87.5 C12.97,86.48 12.42,85.38 11.5,84.3 C10.58,83.22 9.32,81.97 8.5,81 C7.68,80.03 6.38,79.4 6.6,78.5 Z" fill="#e6e6e6" stroke="#3a3a3a" stroke-width="1.0"/>
<path d="M99.5,81 C100.33,80.45 102.5,80.73 104,80.7 C105.5,80.67 107.17,80.38 108.5,80.8 C109.83,81.22 110.95,82.12 112,83.2 C113.05,84.28 114.2,85.67 114.8,87.3 C115.4,88.93 115.53,91.22 115.6,93 C115.67,94.78 115.53,96.17 115.2,98 C114.87,99.83 114.38,102.58 113.6,104 C112.82,105.42 111.77,106.42 110.5,106.5 C109.23,106.58 107.58,105.5 106,104.5 C104.42,103.5 102.58,101.83 101,100.5 C99.42,99.17 97.5,97.5 96.5,96.5 C95.5,95.5 94.83,95.75 95,94.5 C95.17,93.25 96.83,90.75 97.5,89 C98.17,87.25 98.67,85.33 99,84 C99.33,82.67 98.67,81.55 99.5,81 Z" fill="#f2f2f2" stroke="#3a3a3a" stroke-width="0.7"/>
<path d="M100,84 C100.67,84.67 103,86.33 104,88 C105,89.67 105.33,92 106,94 C106.67,96 107.67,99 108,100" fill="none" stroke="#666" stroke-width="0.45"/>
<path d="M103,82 C103.67,82.67 105.83,84.33 107,86 C108.17,87.67 109.33,89.83 110,92 C110.67,94.17 110.83,97.83 111,99" fill="none" stroke="#666" stroke-width="0.45"/>
<path d="M106.5,81.3 C107.08,81.92 108.92,83.38 110,85 C111.08,86.62 112.42,88.83 113,91 C113.58,93.17 113.42,96.83 113.5,98" fill="none" stroke="#666" stroke-width="0.45"/>
<path d="M98,90 C98.67,90.5 100.83,91.67 102,93 C103.17,94.33 104,96.33 105,98 C106,99.67 107.5,102.17 108,103" fill="none" stroke="#666" stroke-width="0.45"/>
<path d="M101,96 C101.58,95.33 103.33,93.17 104.5,92 C105.67,90.83 106.92,89.67 108,89 C109.08,88.33 110.5,88.17 111,88" fill="none" stroke="#666" stroke-width="0.45"/>
<path d="M51.5,77.2 C52.08,75 54,75.73 55.5,75.3 C57,74.87 59.38,74.4 60.5,74.6 C61.62,74.8 62.28,75.6 62.2,76.5 C62.12,77.4 60.87,78.75 60,80 C59.13,81.25 57.83,82.75 57,84 C56.17,85.25 55.83,86.75 55,87.5 C54.17,88.25 52.58,90.22 52,88.5 C51.42,86.78 50.92,79.4 51.5,77.2 Z" fill="#fff" stroke="#3a3a3a" stroke-width="0.6"/>
<ellipse cx="70.5" cy="76.6" rx="8.3" ry="3.6" transform="rotate(8 70.5 76.6)" fill="none" stroke="#555" stroke-width="0.6"/>
<ellipse cx="71" cy="76.8" rx="5.3" ry="1.8" transform="rotate(8 71 76.8)" fill="none" stroke="#555" stroke-width="0.6"/>
<path d="M62,72.5 Q70,69 80,72" fill="none" stroke="#555" stroke-width="0.5"/>
<path d="M33.7,103 C34.07,102.78 35.62,103.57 37,104.2 C38.38,104.83 40.17,106.13 42,106.8 C43.83,107.47 46.42,107.87 48,108.2 C49.58,108.53 51.08,108.37 51.5,108.8 C51.92,109.23 51.75,110.4 50.5,110.8 C49.25,111.2 46,111.5 44,111.2 C42,110.9 40.03,109.95 38.5,109 C36.97,108.05 35.6,106.5 34.8,105.5 C34,104.5 33.33,103.22 33.7,103 Z" fill="#707070" stroke="#3a3a3a" stroke-width="0.6"/>
<path d="M37.2,81.6 C38.13,80.43 40.07,79.67 42,79 C43.93,78.33 47.3,77.35 48.8,77.6 C50.3,77.85 50.5,78.93 51,80.5 C51.5,82.07 51.77,84.75 51.8,87 C51.83,89.25 51.58,91.83 51.2,94 C50.82,96.17 50.45,98.3 49.5,100 C48.55,101.7 47,103.53 45.5,104.2 C44,104.87 41.87,104.7 40.5,104 C39.13,103.3 38,102 37.3,100 C36.6,98 36.45,94.33 36.3,92 C36.15,89.67 36.25,87.73 36.4,86 C36.55,84.27 36.27,82.77 37.2,81.6 Z" fill="#7b7b7d" stroke="#3a3a3a" stroke-width="0.7"/>
<ellipse cx="41.5" cy="82.2" rx="1.3" ry="0.7" fill="#79d34f"/>
<ellipse cx="44.5" cy="84" rx="1.2" ry="0.7" fill="#79d34f"/>
<ellipse cx="39.2" cy="87.2" rx="0.8" ry="1.3" fill="#79d34f"/>
<ellipse cx="41.5" cy="90" rx="1" ry="0.8" fill="#79d34f"/>
<ellipse cx="38.8" cy="93.8" rx="0.6" ry="1.2" fill="#79d34f"/>
<line x1="42" y1="82.5" x2="54" y2="90" stroke="#8fd96a" stroke-width="0.5"/>
<line x1="45" y1="84.2" x2="54" y2="90" stroke="#8fd96a" stroke-width="0.5"/>
<line x1="40" y1="87.5" x2="54" y2="90" stroke="#8fd96a" stroke-width="0.5"/>
<line x1="41.5" y1="90.5" x2="54" y2="90" stroke="#8fd96a" stroke-width="0.5"/>
<line x1="39.5" y1="94" x2="54" y2="90" stroke="#8fd96a" stroke-width="0.5"/>
<ellipse cx="53.5" cy="90.5" rx="2.4" ry="3.8" fill="#7ed957"/>
<line x1="54" y1="89" x2="72" y2="99.5" stroke="#9adf78" stroke-width="0.55"/>
<line x1="55" y1="92" x2="72" y2="100" stroke="#9adf78" stroke-width="0.55"/>
<line x1="54" y1="89" x2="74" y2="100" stroke="#9adf78" stroke-width="0.55"/>
<line x1="55" y1="92" x2="74" y2="100.5" stroke="#9adf78" stroke-width="0.55"/>
<line x1="54" y1="89" x2="70" y2="100.5" stroke="#9adf78" stroke-width="0.55"/>
<line x1="55" y1="92" x2="70" y2="101" stroke="#9adf78" stroke-width="0.55"/>
<circle cx="59.5" cy="97.6" r="1.3" fill="#7ed957"/>
<line x1="55" y1="93" x2="59.5" y2="97.6" stroke="#8fd96a" stroke-width="0.5"/>
<ellipse cx="76.5" cy="100.3" rx="6.2" ry="1.8" transform="rotate(-10 76.5 100.3)" fill="#77d64c"/>
<polygon points="71.6,97.4 83.2,95.2 82.6,96.8 72.2,98.7" stroke="none" fill="#222" stroke-width="1"/>
<line x1="40.1" y1="59.8" x2="40.1" y2="81.3" stroke="#333" stroke-width="0.8"/>
<rect x="38.3" y="45" width="3.6" height="15" fill="#eee" stroke="#333" stroke-width="0.7"/>
<rect x="39" y="51.3" width="2.2" height="8" fill="#6cc83c"/>
<rect x="37.9" y="42.8" width="4.4" height="1.6" fill="#333"/>
<line x1="40.1" y1="44.4" x2="40.1" y2="45.3" stroke="#333" stroke-width="1"/>
<line x1="45.6" y1="58.2" x2="45.6" y2="79.7" stroke="#333" stroke-width="0.8"/>
<rect x="43.8" y="43.4" width="3.6" height="15" fill="#eee" stroke="#333" stroke-width="0.7"/>
<rect x="44.5" y="49.7" width="2.2" height="8" fill="#6cc83c"/>
<rect x="43.4" y="41.2" width="4.4" height="1.6" fill="#333"/>
<line x1="45.6" y1="42.8" x2="45.6" y2="43.7" stroke="#333" stroke-width="1"/>
<line x1="76.8" y1="60.2" x2="76.8" y2="95.6" stroke="#151515" stroke-width="1.4"/>
<rect x="75.2" y="49.2" width="3.2" height="11" fill="#8a8a8a" stroke="#555" stroke-width="0.4"/>
<path d="M76.8,49.2 L76.8,45.5 Q77.4,38.7 86.8,37.2" fill="none" stroke="#333" stroke-width="0.8"/>
<text x="29.5" y="27.5" font-size="10.55" fill="#5cb847">AAV-FLEX-</text>
<text x="29.5" y="38.7" font-size="10.55" fill="#5cb847">GCaMP8s</text>
<text x="81.4" y="54.3" font-size="10.1" fill="#231f20">Optical fiber</text>
<text x="6.2" y="106.4" font-size="10.4" fill="#231f20">dStr</text>
<text x="88.2" y="106.2" font-size="11.6" fill="#231f20">SN</text>
<line x1="19.5" y1="96.2" x2="32.87" y2="89.3" stroke="#111" stroke-width="1"/><polygon points="35,88.2 33.2,90.6 32,88.28" stroke="none" fill="#111" stroke-width="1"/>
<line x1="89" y1="102.8" x2="85.27" y2="100.61" stroke="#111" stroke-width="1"/><polygon points="83.2,99.4 86.19,99.64 84.87,101.89" stroke="none" fill="#111" stroke-width="1"/>
<text x="33.6" y="127.5" font-size="11.5" fill="#231f20" font-style="italic">Kremen1</text>
<text x="80.6" y="122.7" font-size="7.3" fill="#231f20">2A-Cre</text>
<path d="M6.6,217.7 C6.82,216.8 8.57,215.52 9.8,214.8 C11.03,214.08 12.53,213.67 14,213.4 C15.47,213.13 17.27,213 18.6,213.2 C19.93,213.4 21.22,214.17 22,214.6 C22.78,215.03 22.87,216.07 23.3,215.8 C23.73,215.53 23.65,214.27 24.6,213 C25.55,211.73 26.93,209.5 29,208.2 C31.07,206.9 34.17,205.92 37,205.2 C39.83,204.48 43,204.17 46,203.9 C49,203.63 51.13,203.72 55,203.6 C58.87,203.48 64.45,202.88 69.2,203.2 C73.95,203.52 79.87,204.47 83.5,205.5 C87.13,206.53 89.28,208.12 91,209.4 C92.72,210.68 93.53,211.93 93.8,213.2 C94.07,214.47 93.3,216.03 92.6,217 C91.9,217.97 89.53,218.7 89.6,219 C89.67,219.3 91.77,218.88 93,218.8 C94.23,218.72 95.83,218.35 97,218.5 C98.17,218.65 98.92,219.45 100,219.7 C101.08,219.95 102.17,219.98 103.5,220 C104.83,220.02 106.58,219.4 108,219.8 C109.42,220.2 110.87,221.28 112,222.4 C113.13,223.52 114.2,224.87 114.8,226.5 C115.4,228.13 115.53,230.42 115.6,232.2 C115.67,233.98 115.57,235.12 115.2,237.2 C114.83,239.28 114.27,243.02 113.4,244.7 C112.53,246.38 111.73,246.78 110,247.3 C108.27,247.82 105.53,247.8 103,247.8 C100.47,247.8 97.42,247.62 94.8,247.3 C92.18,246.98 89.3,246.58 87.3,245.9 C85.3,245.22 83.88,244.35 82.8,243.2 C81.72,242.05 81.6,239.3 80.8,239 C80,238.7 79.62,240.3 78,241.4 C76.38,242.5 73.77,244.67 71.1,245.6 C68.43,246.53 64.68,246.73 62,247 C59.32,247.27 56.92,246.73 55,247.2 C53.08,247.67 52.33,249.27 50.5,249.8 C48.67,250.33 46,250.67 44,250.4 C42,250.13 40.07,249.3 38.5,248.2 C36.93,247.1 35.55,245.13 34.6,243.8 C33.65,242.47 33.82,241.8 32.8,240.2 C31.78,238.6 29.53,235.67 28.5,234.2 C27.47,232.73 27.27,232.4 26.6,231.4 C25.93,230.4 25.02,229 24.5,228.2 C23.98,227.4 23.87,226.4 23.5,226.6 C23.13,226.8 22.8,228.75 22.3,229.4 C21.8,230.05 21.27,230.47 20.5,230.5 C19.73,230.53 18.78,230.23 17.7,229.6 C16.62,228.97 15.03,227.72 14,226.7 C12.97,225.68 12.42,224.58 11.5,223.5 C10.58,222.42 9.32,221.17 8.5,220.2 C7.68,219.23 6.38,218.6 6.6,217.7 Z" fill="#e6e6e6" stroke="#3a3a3a" stroke-width="1.0"/>
<path d="M99.5,220.2 C100.33,219.65 102.5,219.93 104,219.9 C105.5,219.87 107.17,219.58 108.5,220 C109.83,220.42 110.95,221.32 112,222.4 C113.05,223.48 114.2,224.87 114.8,226.5 C115.4,228.13 115.53,230.42 115.6,232.2 C115.67,233.98 115.53,235.37 115.2,237.2 C114.87,239.03 114.38,241.78 113.6,243.2 C112.82,244.62 111.77,245.62 110.5,245.7 C109.23,245.78 107.58,244.7 106,243.7 C104.42,242.7 102.58,241.03 101,239.7 C99.42,238.37 97.5,236.7 96.5,235.7 C95.5,234.7 94.83,234.95 95,233.7 C95.17,232.45 96.83,229.95 97.5,228.2 C98.17,226.45 98.67,224.53 99,223.2 C99.33,221.87 98.67,220.75 99.5,220.2 Z" fill="#f2f2f2" stroke="#3a3a3a" stroke-width="0.7"/>
<path d="M100,223.2 C100.67,223.87 103,225.53 104,227.2 C105,228.87 105.33,231.2 106,233.2 C106.67,235.2 107.67,238.2 108,239.2" fill="none" stroke="#666" stroke-width="0.45"/>
<path d="M103,221.2 C103.67,221.87 105.83,223.53 107,225.2 C108.17,226.87 109.33,229.03 110,231.2 C110.67,233.37 110.83,237.03 111,238.2" fill="none" stroke="#666" stroke-width="0.45"/>
<path d="M106.5,220.5 C107.08,221.12 108.92,222.58 110,224.2 C111.08,225.82 112.42,228.03 113,230.2 C113.58,232.37 113.42,236.03 113.5,237.2" fill="none" stroke="#666" stroke-width="0.45"/>
<path d="M98,229.2 C98.67,229.7 100.83,230.87 102,232.2 C103.17,233.53 104,235.53 105,237.2 C106,238.87 107.5,241.37 108,242.2" fill="none" stroke="#666" stroke-width="0.45"/>
<path d="M101,235.2 C101.58,234.53 103.33,232.37 104.5,231.2 C105.67,230.03 106.92,228.87 108,228.2 C109.08,227.53 110.5,227.37 111,227.2" fill="none" stroke="#666" stroke-width="0.45"/>
<path d="M51.5,216.4 C52.08,214.2 54,214.93 55.5,214.5 C57,214.07 59.38,213.6 60.5,213.8 C61.62,214 62.28,214.8 62.2,215.7 C62.12,216.6 60.87,217.95 60,219.2 C59.13,220.45 57.83,221.95 57,223.2 C56.17,224.45 55.83,225.95 55,226.7 C54.17,227.45 52.58,229.42 52,227.7 C51.42,225.98 50.92,218.6 51.5,216.4 Z" fill="#fff" stroke="#3a3a3a" stroke-width="0.6"/>
<ellipse cx="70.5" cy="215.8" rx="8.3" ry="3.6" transform="rotate(8 70.5 215.8)" fill="none" stroke="#555" stroke-width="0.6"/>
<ellipse cx="71" cy="216" rx="5.3" ry="1.8" transform="rotate(8 71 216)" fill="none" stroke="#555" stroke-width="0.6"/>
<path d="M62,211.7 Q70,208.2 80,211.2" fill="none" stroke="#555" stroke-width="0.5"/>
<path d="M33.7,242.2 C34.07,241.98 35.62,242.77 37,243.4 C38.38,244.03 40.17,245.33 42,246 C43.83,246.67 46.42,247.07 48,247.4 C49.58,247.73 51.08,247.57 51.5,248 C51.92,248.43 51.75,249.6 50.5,250 C49.25,250.4 46,250.7 44,250.4 C42,250.1 40.03,249.15 38.5,248.2 C36.97,247.25 35.6,245.7 34.8,244.7 C34,243.7 33.33,242.42 33.7,242.2 Z" fill="#707070" stroke="#3a3a3a" stroke-width="0.6"/>
<path d="M37.2,220.8 C38.13,219.63 40.07,218.87 42,218.2 C43.93,217.53 47.3,216.55 48.8,216.8 C50.3,217.05 50.5,218.13 51,219.7 C51.5,221.27 51.77,223.95 51.8,226.2 C51.83,228.45 51.58,231.03 51.2,233.2 C50.82,235.37 50.45,237.5 49.5,239.2 C48.55,240.9 47,242.73 45.5,243.4 C44,244.07 41.87,243.9 40.5,243.2 C39.13,242.5 38,241.2 37.3,239.2 C36.6,237.2 36.45,233.53 36.3,231.2 C36.15,228.87 36.25,226.93 36.4,225.2 C36.55,223.47 36.27,221.97 37.2,220.8 Z" fill="#7b7b7d" stroke="#3a3a3a" stroke-width="0.7"/>
<g clip-path="url(#stb)"><path d="M30,209.2 L56,209.2 L56,225.2 Q48,234.2 30,236.2 Z" fill="#86cc60"/></g>
<path d="M37.2,220.8 C38.13,219.63 40.07,218.87 42,218.2 C43.93,217.53 47.3,216.55 48.8,216.8 C50.3,217.05 50.5,218.13 51,219.7 C51.5,221.27 51.77,223.95 51.8,226.2 C51.83,228.45 51.58,231.03 51.2,233.2 C50.82,235.37 50.45,237.5 49.5,239.2 C48.55,240.9 47,242.73 45.5,243.4 C44,244.07 41.87,243.9 40.5,243.2 C39.13,242.5 38,241.2 37.3,239.2 C36.6,237.2 36.45,233.53 36.3,231.2 C36.15,228.87 36.25,226.93 36.4,225.2 C36.55,223.47 36.27,221.97 37.2,220.8 Z" fill="none" stroke="#3a3a3a" stroke-width="0.7"/>
<circle cx="42" cy="221.2" r="0.5" fill="#5a9a40"/>
<circle cx="45" cy="223.2" r="0.5" fill="#5a9a40"/>
<circle cx="40" cy="225.2" r="0.5" fill="#5a9a40"/>
<circle cx="44" cy="227.2" r="0.5" fill="#5a9a40"/>
<circle cx="47" cy="225.7" r="0.5" fill="#5a9a40"/>
<circle cx="42" cy="230.2" r="0.5" fill="#5a9a40"/>
<line x1="42" y1="221.7" x2="54" y2="229.2" stroke="#8fd96a" stroke-width="0.5"/>
<line x1="45" y1="223.4" x2="54" y2="229.2" stroke="#8fd96a" stroke-width="0.5"/>
<line x1="40" y1="226.7" x2="54" y2="229.2" stroke="#8fd96a" stroke-width="0.5"/>
<line x1="41.5" y1="229.7" x2="54" y2="229.2" stroke="#8fd96a" stroke-width="0.5"/>
<line x1="39.5" y1="233.2" x2="54" y2="229.2" stroke="#8fd96a" stroke-width="0.5"/>
<ellipse cx="53.5" cy="229.7" rx="2.4" ry="3.8" fill="#7ed957"/>
<line x1="54" y1="228.2" x2="72" y2="238.7" stroke="#9adf78" stroke-width="0.55"/>
<line x1="55" y1="231.2" x2="72" y2="239.2" stroke="#9adf78" stroke-width="0.55"/>
<line x1="54" y1="228.2" x2="74" y2="239.2" stroke="#9adf78" stroke-width="0.55"/>
<line x1="55" y1="231.2" x2="74" y2="239.7" stroke="#9adf78" stroke-width="0.55"/>
<line x1="54" y1="228.2" x2="70" y2="239.7" stroke="#9adf78" stroke-width="0.55"/>
<line x1="55" y1="231.2" x2="70" y2="240.2" stroke="#9adf78" stroke-width="0.55"/>
<circle cx="59.5" cy="236.8" r="1.3" fill="#7ed957"/>
<line x1="55" y1="232.2" x2="59.5" y2="236.8" stroke="#8fd96a" stroke-width="0.5"/>
<ellipse cx="76.5" cy="239.5" rx="6.2" ry="1.8" transform="rotate(-10 76.5 239.5)" fill="#77d64c"/>
<polygon points="71.6,236.6 83.2,234.4 82.6,236 72.2,237.9" stroke="none" fill="#222" stroke-width="1"/>
<line x1="40.1" y1="197.5" x2="40.1" y2="219" stroke="#333" stroke-width="0.8"/>
<rect x="38.3" y="182.7" width="3.6" height="15" fill="#eee" stroke="#333" stroke-width="0.7"/>
<rect x="39" y="189" width="2.2" height="8" fill="#6cc83c"/>
<rect x="37.9" y="180.5" width="4.4" height="1.6" fill="#333"/>
<line x1="40.1" y1="182.1" x2="40.1" y2="183" stroke="#333" stroke-width="1"/>
<line x1="45.6" y1="195.9" x2="45.6" y2="217.4" stroke="#333" stroke-width="0.8"/>
<rect x="43.8" y="181.1" width="3.6" height="15" fill="#eee" stroke="#333" stroke-width="0.7"/>
<rect x="44.5" y="187.4" width="2.2" height="8" fill="#6cc83c"/>
<rect x="43.4" y="178.9" width="4.4" height="1.6" fill="#333"/>
<line x1="45.6" y1="180.5" x2="45.6" y2="181.4" stroke="#333" stroke-width="1"/>
<line x1="76.8" y1="199.4" x2="76.8" y2="234.8" stroke="#151515" stroke-width="1.4"/>
<rect x="75.2" y="188.4" width="3.2" height="11" fill="#8a8a8a" stroke="#555" stroke-width="0.4"/>
<path d="M76.8,188.4 L76.8,184.7 Q77.4,177.9 86.8,176.4" fill="none" stroke="#333" stroke-width="0.8"/>
<text x="29.5" y="157.8" font-size="10.55" fill="#5cb847">AAV-FLEX-</text>
<text x="29.5" y="169.8" font-size="10.55" fill="#5cb847">GCaMP8s</text>
<text x="81.4" y="190.7" font-size="10.1" fill="#231f20">Optical fiber</text>
<text x="6.2" y="242.7" font-size="10.4" fill="#231f20">dStr</text>
<text x="88.2" y="243.2" font-size="11.6" fill="#231f20">SN</text>
<line x1="19.5" y1="235.4" x2="32.87" y2="228.5" stroke="#111" stroke-width="1"/><polygon points="35,227.4 33.2,229.8 32,227.48" stroke="none" fill="#111" stroke-width="1"/>
<line x1="89" y1="242" x2="85.27" y2="239.81" stroke="#111" stroke-width="1"/><polygon points="83.2,238.6 86.19,238.84 84.87,241.09" stroke="none" fill="#111" stroke-width="1"/>
<text x="37.4" y="262.4" font-size="11.5" fill="#231f20" font-style="italic">Calb1</text>
<text x="66.4" y="257.6" font-size="7.3" fill="#231f20">IRES2-Cre</text>
<polygon points="136.5,113.5 194.5,142.5 192.5,150.8 135,121.5" stroke="#333" fill="#c6c6c6" stroke-width="0.7"/>
<polygon points="194.5,142.5 229.5,123.5 233.8,126.5 234.5,131 197.5,149.8 192.5,150.8" stroke="#333" fill="#c6c6c6" stroke-width="0.7"/>
<polygon points="137,110.5 150,106 208,113.5 229.5,123.5 194.5,142.5 136.5,113.5" stroke="#333" fill="#8a8a8a" stroke-width="0.6"/>
<line x1="136.5" y1="117.3" x2="193.5" y2="146.5" stroke="#444" stroke-width="1.1" stroke-dasharray="0.8,0.9"/>
<line x1="196" y1="146.2" x2="233" y2="128" stroke="#444" stroke-width="1" stroke-dasharray="0.8,0.9"/>
<ellipse cx="136.4" cy="116" rx="2.8" ry="3.8" fill="#555" stroke="#222" stroke-width="0.7"/>
<ellipse cx="191.9" cy="145.3" rx="3.4" ry="4.3" fill="#555" stroke="#222" stroke-width="0.7"/>
<polygon points="126.8,74.9 138,80.2 146.5,86.3 151,89.2 157,88.2 165,89.2 173,91.8 181,96.8 188,102.6 196,108.5 204,111.5 210.5,112.6 214,115.5 213,119.5 209.5,122.5 211.5,130.5 207.5,130 204,124.5 198,124.5 196.5,131.5 192.5,131 193,123.5 186,117.5 176,113.8 166,113 159,111.5 153,113.2 147.5,113.8 146.5,111.5 151,108.8 155.2,106.2 152.5,101 150.5,95.5 149.3,91.3 146,88.6 137.5,81.2" stroke="#1a1a1a" fill="#3a3a3a" stroke-width="0.5"/>
<polygon points="186,104.5 219,96.6 224.5,99.5 224.5,110 219.5,110.8 219.5,105 200,110 188,113.5" stroke="none" fill="#c4c4c4" stroke-width="1"/>
<ellipse cx="195" cy="107.5" rx="7" ry="3.6" fill="#a4a4a4" opacity="0.85"/>
<path d="M161.3,118 Q161.3,113.8 165,112.6 L190,106 L190,113.6 L171,119 L171,139.5 Q171,143.5 166.2,143.5 Q161.3,143.5 161.3,139.5 Z" fill="#b2b2b2"/>
<circle cx="205" cy="114.8" r="0.8" fill="#eee"/>
<path d="M199,121 Q206,120 211,116" fill="none" stroke="#ccc" stroke-width="0.4"/>
<line x1="185.6" y1="77" x2="195.3" y2="108.5" stroke="#4fb8e8" stroke-width="0.8"/>
<path d="M130.5,110 Q126.5,109.5 126.6,113.2" fill="none" stroke="#222" stroke-width="0.8"/>
<polygon points="125.1,112.4 128.1,112.4 126.6,115.2" stroke="none" fill="#222" stroke-width="1"/>
<path d="M235.6,127.8 Q236.6,132.4 232.8,132.8" fill="none" stroke="#222" stroke-width="0.8"/>
<polygon points="234.6,126.3 236.8,128.8 234.2,129.6" stroke="none" fill="#222" stroke-width="1"/>
<line x1="127.5" y1="124.5" x2="130.38" y2="120.98" stroke="#111" stroke-width="0.8"/><polygon points="131.6,119.5 131.04,121.83 129.42,120.51" stroke="none" fill="#111" stroke-width="1"/>
<text x="143.3" y="71" font-size="12.2" fill="#231f20">Fiber photometry</text>
<text x="116.2" y="139.7" font-size="11.9" fill="#231f20">Optic</text>
<text x="108.3" y="150.2" font-size="11.9" fill="#231f20">encoder</text>
<text x="153.2" y="167.7" font-size="12.1" fill="#231f20">Belt treadmill</text>
<text x="319.8" y="15.2" font-size="11.4" fill="#231f20" font-style="italic">Kremen1</text>
<text x="366.8" y="11.2" font-size="7.4" fill="#231f20">2A-Cre</text>
<line x1="277.3" y1="19.3" x2="429" y2="19.3" stroke="#777" stroke-width="0.8"/>
<text x="309" y="31.3" font-size="10.5" fill="#231f20"><tspan fill="#e8262d">TH</tspan><tspan fill="#231f20">/</tspan><tspan fill="#3db54a">GCaMP8s</tspan><tspan fill="#231f20">/</tspan><tspan fill="#3b3fa8">DAPI</tspan></text>
<text x="323.4" y="158.4" font-size="11.4" fill="#231f20" font-style="italic">Calb1</text>
<text x="353.9" y="154.4" font-size="7.2" fill="#231f20">IRES2-Cre</text>
<line x1="277.3" y1="161.2" x2="429" y2="161.2" stroke="#777" stroke-width="0.8"/>
<text x="309" y="173.8" font-size="10.5" fill="#231f20"><tspan fill="#e8262d">TH</tspan><tspan fill="#231f20">/</tspan><tspan fill="#3db54a">GCaMP8s</tspan><tspan fill="#231f20">/</tspan><tspan fill="#3b3fa8">DAPI</tspan></text>
<g clip-path="url(#cdl)">
<rect x="241.1" y="36.1" width="87" height="86.6" fill="#0b0a30"/>
<rect x="241.1" y="36.1" width="87" height="86.6" fill="#000" filter="url(#speck)" opacity="0.6"/>
<g clip-path="url(#cdlt)">
<rect x="241" y="36.1" width="31.7" height="86.6" fill="#6a2eb2"/>
<rect x="272.7" y="36.1" width="31.3" height="86.6" fill="#a03ce0"/>
<rect x="304" y="36.1" width="25" height="86.6" fill="#e444f0"/>
<rect x="241.1" y="36.1" width="87" height="86.6" fill="#000" filter="url(#speckm)" opacity="0.25"/>
<rect x="241.1" y="36.1" width="87" height="86.6" fill="#000" filter="url(#speckd)" opacity="0.3"/>

<g fill="#1c0838" opacity="0.8"><circle cx="254.73" cy="97.87" r="1.33"/><circle cx="273.27" cy="59.5" r="1.49"/><circle cx="292.66" cy="83.51" r="1.21"/><circle cx="258.93" cy="42.26" r="1.07"/><circle cx="279.54" cy="47.61" r="1.49"/><circle cx="258.7" cy="60.85" r="0.74"/><circle cx="303.86" cy="101.83" r="1.58"/><circle cx="281.34" cy="44.76" r="1.03"/><circle cx="274.36" cy="51.38" r="1.65"/><circle cx="266.74" cy="54.54" r="1.52"/><circle cx="252.37" cy="117.16" r="1.15"/><circle cx="277.57" cy="69.78" r="1.18"/><circle cx="256.03" cy="45.01" r="1.57"/><circle cx="258.86" cy="105.2" r="0.91"/><circle cx="302.16" cy="114.41" r="1.45"/><circle cx="290" cy="89.04" r="1.43"/><circle cx="252.23" cy="80.58" r="1.53"/><circle cx="256.86" cy="116.78" r="1.59"/><circle cx="269.17" cy="71.58" r="1.15"/><circle cx="267.76" cy="122.58" r="1.09"/><circle cx="246.58" cy="49.55" r="1.42"/><circle cx="303.58" cy="82.18" r="1.19"/><circle cx="277.48" cy="102.6" r="0.92"/><circle cx="280.93" cy="87.08" r="1.32"/><circle cx="255.66" cy="55.78" r="1.05"/><circle cx="299.7" cy="70.08" r="1.3"/><circle cx="263.09" cy="50.37" r="0.77"/><circle cx="293.01" cy="104.94" r="1.07"/><circle cx="285.32" cy="96.75" r="1.6"/><circle cx="301.54" cy="74.97" r="1.69"/><circle cx="301.72" cy="89.83" r="1.58"/><circle cx="273.96" cy="72.42" r="0.95"/><circle cx="296.69" cy="55.15" r="0.77"/><circle cx="292.51" cy="104.69" r="1.18"/><circle cx="294.38" cy="46.23" r="0.96"/><circle cx="262.1" cy="75.98" r="0.87"/><circle cx="249.1" cy="69.38" r="1.6"/><circle cx="303.02" cy="102.41" r="1.18"/><circle cx="259.88" cy="119.67" r="1.23"/><circle cx="287.99" cy="44.29" r="0.91"/><circle cx="294.46" cy="106.41" r="1.58"/><circle cx="280.48" cy="76.51" r="1.28"/><circle cx="295.11" cy="66.95" r="1.23"/><circle cx="261.28" cy="104.23" r="0.71"/><circle cx="285.43" cy="119.27" r="0.72"/><circle cx="280.03" cy="94.15" r="1.55"/><circle cx="279.48" cy="62.83" r="1.11"/><circle cx="301.56" cy="115.35" r="0.83"/><circle cx="250.6" cy="49.61" r="0.73"/><circle cx="271.36" cy="53.41" r="1.57"/><circle cx="283.66" cy="52.25" r="1.24"/><circle cx="264.13" cy="82" r="0.92"/><circle cx="254.8" cy="56.9" r="1.08"/><circle cx="286.89" cy="86.55" r="0.75"/><circle cx="286.94" cy="112.78" r="1.47"/><circle cx="291.65" cy="42.63" r="1.16"/><circle cx="248.75" cy="103.88" r="0.88"/><circle cx="286.98" cy="62.49" r="1.4"/><circle cx="263.5" cy="45.39" r="1.09"/><circle cx="263.26" cy="114.96" r="1"/><circle cx="274.68" cy="86.5" r="1.65"/><circle cx="250.82" cy="90.7" r="1.21"/><circle cx="288.34" cy="120.34" r="1.01"/><circle cx="286.27" cy="84.59" r="1.26"/><circle cx="248.76" cy="107.99" r="1.68"/><circle cx="265.96" cy="67.77" r="1.69"/><circle cx="251.35" cy="48.16" r="0.77"/><circle cx="293.05" cy="103.55" r="1.15"/><circle cx="281.66" cy="43.6" r="1.34"/><circle cx="271.12" cy="83.91" r="1.09"/><circle cx="268.69" cy="60.26" r="0.75"/><circle cx="270.6" cy="62.01" r="1.4"/><circle cx="293.22" cy="100.62" r="1.16"/><circle cx="258.95" cy="73.22" r="1.19"/><circle cx="282.28" cy="120.01" r="0.79"/><circle cx="273.3" cy="81.84" r="1.42"/><circle cx="297.54" cy="105.14" r="1.33"/><circle cx="289.75" cy="96.11" r="1.56"/><circle cx="286.24" cy="97.32" r="0.95"/><circle cx="299.08" cy="73.26" r="1.31"/><circle cx="293.67" cy="120.06" r="1.69"/><circle cx="245.38" cy="67.32" r="1.01"/><circle cx="268.08" cy="53.78" r="1.25"/><circle cx="249.69" cy="66.51" r="1.64"/><circle cx="288.8" cy="79.45" r="0.81"/><circle cx="301.4" cy="99.02" r="0.91"/><circle cx="264.78" cy="93.97" r="1.38"/><circle cx="260.39" cy="119.05" r="1.02"/><circle cx="260" cy="110.48" r="0.85"/><circle cx="285.19" cy="58.19" r="1.3"/><circle cx="261.37" cy="72.7" r="1.64"/><circle cx="272.55" cy="77.39" r="1.32"/><circle cx="261.56" cy="56.12" r="1.08"/><circle cx="261.07" cy="57.26" r="1.66"/><circle cx="247.03" cy="107.65" r="1.63"/><circle cx="286.57" cy="43.54" r="1.2"/><circle cx="247.32" cy="91.24" r="1.4"/><circle cx="259.17" cy="42.62" r="1.24"/><circle cx="250.58" cy="67.03" r="1.15"/><circle cx="297.77" cy="71.97" r="0.83"/><circle cx="291.71" cy="108.61" r="1.23"/><circle cx="247.9" cy="57.19" r="1.1"/><circle cx="277.56" cy="60.23" r="1.5"/><circle cx="294.77" cy="116.94" r="1.58"/><circle cx="246.04" cy="89.15" r="0.78"/><circle cx="298.08" cy="102.5" r="1.46"/><circle cx="256.11" cy="46.83" r="1.52"/><circle cx="280.78" cy="92.24" r="1.17"/><circle cx="292.21" cy="69.38" r="0.97"/><circle cx="265.83" cy="66.14" r="1.33"/><circle cx="297.52" cy="47.75" r="0.77"/><circle cx="275.19" cy="96.92" r="0.89"/><circle cx="260.92" cy="46.76" r="0.74"/><circle cx="274.21" cy="97.14" r="1.35"/><circle cx="254.33" cy="50.43" r="1.63"/><circle cx="276.77" cy="75.08" r="1.39"/><circle cx="287.94" cy="84.49" r="0.78"/><circle cx="293.81" cy="59.31" r="0.74"/><circle cx="265.78" cy="85.14" r="1.33"/><circle cx="255.27" cy="99.48" r="1.19"/><circle cx="254.56" cy="110.93" r="1.51"/><circle cx="298.48" cy="97.04" r="0.92"/><circle cx="290.88" cy="115.12" r="1.23"/><circle cx="298.6" cy="120.58" r="1.09"/><circle cx="300.57" cy="117.88" r="1.49"/><circle cx="245.66" cy="70.51" r="1.31"/><circle cx="280.82" cy="103.21" r="1.35"/><circle cx="254.53" cy="117.39" r="1.24"/><circle cx="297.02" cy="58.75" r="1.7"/><circle cx="277.74" cy="104.82" r="1.44"/><circle cx="297.08" cy="71.35" r="0.78"/><circle cx="268.93" cy="56.44" r="1.24"/><circle cx="293.08" cy="71.34" r="0.83"/><circle cx="246.59" cy="76.26" r="1.28"/><circle cx="246.55" cy="95.9" r="0.91"/><circle cx="251.32" cy="117.14" r="1.22"/><circle cx="297.81" cy="83.63" r="0.82"/><circle cx="259.16" cy="76.37" r="1.34"/><circle cx="290.48" cy="102.86" r="1.35"/><circle cx="259.92" cy="76.84" r="1.08"/><circle cx="273.89" cy="63.5" r="1.24"/><circle cx="272.07" cy="44.88" r="1.52"/><circle cx="279.6" cy="107.02" r="1.44"/><circle cx="288.12" cy="122.47" r="1.08"/><circle cx="268.22" cy="42.3" r="1.36"/><circle cx="279.31" cy="88.69" r="1.7"/><circle cx="256.62" cy="60.41" r="1.43"/><circle cx="292.93" cy="81.11" r="0.75"/><circle cx="266.85" cy="108.94" r="1.2"/><circle cx="272.23" cy="73.55" r="1.33"/></g><g fill="#3a0c58" opacity="0.7"><circle cx="325.08" cy="55.95" r="0.51"/><circle cx="325.97" cy="59.37" r="0.57"/><circle cx="318.33" cy="71.96" r="1.03"/><circle cx="309.1" cy="119.84" r="0.69"/><circle cx="317.23" cy="117.7" r="0.91"/><circle cx="324.32" cy="100.23" r="0.53"/><circle cx="323.39" cy="90.99" r="0.69"/><circle cx="308.18" cy="111.29" r="0.85"/><circle cx="324.64" cy="105.37" r="1.08"/><circle cx="316.46" cy="99.47" r="0.87"/><circle cx="309.69" cy="119.62" r="0.69"/><circle cx="321.18" cy="119.46" r="0.89"/><circle cx="307.13" cy="109.37" r="0.9"/><circle cx="308.07" cy="48.83" r="0.82"/><circle cx="304.71" cy="117.16" r="0.8"/><circle cx="315.38" cy="76.94" r="0.9"/><circle cx="324.16" cy="68.97" r="0.72"/><circle cx="316.82" cy="68.19" r="0.86"/><circle cx="315.95" cy="78.81" r="0.9"/><circle cx="315.62" cy="51.87" r="1.1"/><circle cx="311.83" cy="78.68" r="0.74"/><circle cx="324.45" cy="119.27" r="0.81"/><circle cx="312.81" cy="52.53" r="1.04"/><circle cx="307.77" cy="87.64" r="0.71"/><circle cx="311.22" cy="72.86" r="0.61"/><circle cx="304.81" cy="86.77" r="0.98"/><circle cx="318.24" cy="60.72" r="0.92"/><circle cx="305.15" cy="77.04" r="1"/><circle cx="324.26" cy="80.92" r="1.01"/><circle cx="314.97" cy="85.87" r="0.85"/></g>
</g>
<path d="M241,42.5 Q250,41.5 257.6,44 Q258.6,55 254.5,62.5 Q249,68 241,67.5 Z" fill="#000" stroke="#2a2ad0" stroke-width="0.6"/>
<circle cx="244.5" cy="119.5" r="5" fill="#070720"/>
<g fill="#3fd58a" opacity="0.55" filter="url(#b1)"><ellipse cx="285" cy="64" rx="1.68" ry="1.26" transform="rotate(19 285 64)"/><ellipse cx="295.5" cy="66" rx="1.44" ry="1.08" transform="rotate(-28 295.5 66)"/><ellipse cx="284.5" cy="81" rx="2.04" ry="1.53" transform="rotate(34 284.5 81)"/><ellipse cx="287" cy="93.5" rx="1.8" ry="1.35" transform="rotate(-15 287 93.5)"/><ellipse cx="276.5" cy="84.5" rx="1.56" ry="1.17" transform="rotate(41 276.5 84.5)"/><ellipse cx="290" cy="98" rx="1.44" ry="1.08" transform="rotate(28 290 98)"/><ellipse cx="279" cy="97" rx="1.32" ry="0.99" transform="rotate(60 279 97)"/><ellipse cx="281" cy="74" rx="1.2" ry="0.9" transform="rotate(47 281 74)"/><ellipse cx="292" cy="86" rx="1.44" ry="1.08" transform="rotate(34 292 86)"/><ellipse cx="283" cy="104" rx="1.2" ry="0.9" transform="rotate(23 283 104)"/><ellipse cx="295" cy="78" rx="1.08" ry="0.81" transform="rotate(58 295 78)"/><ellipse cx="278" cy="90" rx="1.2" ry="0.9" transform="rotate(7 278 90)"/><ellipse cx="288" cy="109" rx="1.2" ry="0.9" transform="rotate(-57 288 109)"/><ellipse cx="274" cy="77" rx="0.96" ry="0.72" transform="rotate(47 274 77)"/></g><g fill="#6af09a"><ellipse cx="285" cy="64" rx="1.68" ry="1.26" transform="rotate(19 285 64)"/><ellipse cx="295.5" cy="66" rx="1.44" ry="1.08" transform="rotate(-28 295.5 66)"/><ellipse cx="284.5" cy="81" rx="2.04" ry="1.53" transform="rotate(34 284.5 81)"/><ellipse cx="287" cy="93.5" rx="1.8" ry="1.35" transform="rotate(-15 287 93.5)"/><ellipse cx="276.5" cy="84.5" rx="1.56" ry="1.17" transform="rotate(41 276.5 84.5)"/><ellipse cx="290" cy="98" rx="1.44" ry="1.08" transform="rotate(28 290 98)"/><ellipse cx="279" cy="97" rx="1.32" ry="0.99" transform="rotate(60 279 97)"/><ellipse cx="281" cy="74" rx="1.2" ry="0.9" transform="rotate(47 281 74)"/><ellipse cx="292" cy="86" rx="1.44" ry="1.08" transform="rotate(34 292 86)"/><ellipse cx="283" cy="104" rx="1.2" ry="0.9" transform="rotate(23 283 104)"/><ellipse cx="295" cy="78" rx="1.08" ry="0.81" transform="rotate(58 295 78)"/><ellipse cx="278" cy="90" rx="1.2" ry="0.9" transform="rotate(7 278 90)"/><ellipse cx="288" cy="109" rx="1.2" ry="0.9" transform="rotate(-57 288 109)"/><ellipse cx="274" cy="77" rx="0.96" ry="0.72" transform="rotate(47 274 77)"/></g>
<path d="M258.3,42.8 C261.2,41.85 269.55,42.02 275,42.3 C280.45,42.58 286.17,42.63 291,44.5 C295.83,46.37 300.33,50.5 304,53.5 C307.67,56.5 310.33,58.92 313,62.5 C315.67,66.08 318.17,70.52 320,75 C321.83,79.48 323.28,85.12 324,89.4 C324.72,93.68 324.88,97.68 324.3,100.7 C323.72,103.72 321.97,105.12 320.5,107.5 C319.03,109.88 316.63,112.25 315.5,115 C314.37,117.75 324.82,122.5 313.7,124 C302.58,125.5 259.75,127.22 248.8,124 C237.85,120.78 248.22,110.37 248,104.7 C247.78,99.03 247.58,94.42 247.5,90 C247.42,85.58 247.28,81.78 247.5,78.2 C247.72,74.62 247.93,70.78 248.8,68.5 C249.67,66.22 251.47,66.25 252.7,64.5 C253.93,62.75 255.38,60.75 256.2,58 C257.02,55.25 257.25,50.53 257.6,48 C257.95,45.47 255.4,43.75 258.3,42.8 Z" fill="none" stroke="#fff" stroke-width="0.9" stroke-dasharray="2,1.5" opacity="0.95"/>
</g>
<text x="248.5" y="111" font-size="11.8" fill="#fff">dStr</text>
<line x1="309.9" y1="118.3" x2="324.3" y2="118.3" stroke="#fff" stroke-width="1.6"/>
<g clip-path="url(#cel)">
<rect x="242" y="176" width="86.7" height="86.2" fill="#0b0a30"/>
<rect x="242" y="176" width="86.7" height="86.2" fill="#000" filter="url(#speck)" opacity="0.6"/>
<g clip-path="url(#celt)">
<rect x="242" y="176" width="23" height="86.2" fill="#7030b4"/>
<rect x="265" y="176" width="33.3" height="86.2" fill="#a83ae6"/>
<rect x="298.3" y="176" width="31.7" height="86.2" fill="#da42e6"/>
<rect x="242" y="176" width="86.7" height="86.2" fill="#000" filter="url(#speckm)" opacity="0.25"/>
<rect x="242" y="176" width="86.7" height="86.2" fill="#000" filter="url(#speckd)" opacity="0.3"/>
<g mask="url(#egm)"><rect x="270" y="180" width="55" height="70" fill="#74ee8a" opacity="0.88"/><g filter="url(#b4)"><ellipse cx="310" cy="222" rx="7" ry="16" transform="rotate(-30 310 222)" fill="#b4f6dc" opacity="0.8"/></g><rect x="270" y="180" width="55" height="70" fill="#000" filter="url(#speckgd)" opacity="0.5"/></g><g filter="url(#b2_5)"><ellipse cx="313" cy="236" rx="5" ry="7" transform="rotate(-30 313 236)" fill="#c8f0f0" opacity="0.6"/></g>
<g fill="#2a0c4a" opacity="0.85"><ellipse cx="246.93" cy="191.88" rx="1.08" ry="0.64" transform="rotate(35.16 246.93 191.88)"/><ellipse cx="297.97" cy="193.96" rx="0.79" ry="0.47" transform="rotate(65.78 297.97 193.96)"/><ellipse cx="263.62" cy="242.85" rx="0.83" ry="0.49" transform="rotate(45.17 263.62 242.85)"/><ellipse cx="302.29" cy="235.31" rx="0.82" ry="0.48" transform="rotate(68.37 302.29 235.31)"/><ellipse cx="286.71" cy="218.37" rx="1.1" ry="0.65" transform="rotate(59.03 286.71 218.37)"/><ellipse cx="321.72" cy="190.36" rx="0.7" ry="0.41" transform="rotate(80.03 321.72 190.36)"/><ellipse cx="317.42" cy="214.83" rx="0.88" ry="0.52" transform="rotate(77.45 317.42 214.83)"/><ellipse cx="271.1" cy="211.83" rx="1.65" ry="0.97" transform="rotate(49.66 271.1 211.83)"/><ellipse cx="261.99" cy="200.14" rx="1.28" ry="0.75" transform="rotate(44.19 261.99 200.14)"/><ellipse cx="287.6" cy="258.35" rx="1.54" ry="0.9" transform="rotate(59.56 287.6 258.35)"/><ellipse cx="273.02" cy="199.1" rx="1.53" ry="0.9" transform="rotate(50.81 273.02 199.1)"/><ellipse cx="321.16" cy="185.4" rx="1.43" ry="0.84" transform="rotate(79.7 321.16 185.4)"/><ellipse cx="312" cy="234.44" rx="0.9" ry="0.53" transform="rotate(74.2 312 234.44)"/><ellipse cx="306.54" cy="240.66" rx="0.88" ry="0.52" transform="rotate(70.92 306.54 240.66)"/><ellipse cx="294.71" cy="200.32" rx="0.72" ry="0.42" transform="rotate(63.82 294.71 200.32)"/><ellipse cx="271.54" cy="209.41" rx="1.08" ry="0.64" transform="rotate(49.92 271.54 209.41)"/><ellipse cx="295.15" cy="249.06" rx="1.66" ry="0.98" transform="rotate(64.09 295.15 249.06)"/><ellipse cx="320.21" cy="261.49" rx="1.49" ry="0.87" transform="rotate(79.13 320.21 261.49)"/><ellipse cx="269.28" cy="196.93" rx="1.32" ry="0.77" transform="rotate(48.57 269.28 196.93)"/><ellipse cx="287.48" cy="236.29" rx="0.78" ry="0.46" transform="rotate(59.49 287.48 236.29)"/><ellipse cx="260.65" cy="255.76" rx="1.29" ry="0.76" transform="rotate(43.39 260.65 255.76)"/><ellipse cx="298.85" cy="190.56" rx="1.09" ry="0.64" transform="rotate(66.31 298.85 190.56)"/><ellipse cx="315.17" cy="234.3" rx="1.69" ry="0.99" transform="rotate(76.1 315.17 234.3)"/><ellipse cx="260.96" cy="218.93" rx="1.5" ry="0.88" transform="rotate(43.58 260.96 218.93)"/><ellipse cx="279.8" cy="245.32" rx="1.25" ry="0.74" transform="rotate(54.88 279.8 245.32)"/><ellipse cx="254.97" cy="190.81" rx="1.68" ry="0.99" transform="rotate(39.98 254.97 190.81)"/><ellipse cx="255.07" cy="198.33" rx="1.02" ry="0.6" transform="rotate(40.04 255.07 198.33)"/><ellipse cx="300.22" cy="250.47" rx="1.17" ry="0.69" transform="rotate(67.13 300.22 250.47)"/><ellipse cx="283.86" cy="245.29" rx="0.96" ry="0.57" transform="rotate(57.32 283.86 245.29)"/><ellipse cx="274.3" cy="231.4" rx="1.33" ry="0.78" transform="rotate(51.58 274.3 231.4)"/><ellipse cx="248.89" cy="191.85" rx="0.82" ry="0.48" transform="rotate(36.34 248.89 191.85)"/><ellipse cx="301.11" cy="237.74" rx="1.67" ry="0.98" transform="rotate(67.67 301.11 237.74)"/><ellipse cx="304.33" cy="203.13" rx="1.46" ry="0.86" transform="rotate(69.6 304.33 203.13)"/><ellipse cx="320.86" cy="210.55" rx="0.69" ry="0.41" transform="rotate(79.52 320.86 210.55)"/><ellipse cx="274.51" cy="205.32" rx="0.86" ry="0.51" transform="rotate(51.71 274.51 205.32)"/><ellipse cx="249.43" cy="192.86" rx="1.56" ry="0.92" transform="rotate(36.66 249.43 192.86)"/><ellipse cx="249.8" cy="231.5" rx="0.89" ry="0.52" transform="rotate(36.88 249.8 231.5)"/><ellipse cx="260.69" cy="247.84" rx="0.98" ry="0.58" transform="rotate(43.42 260.69 247.84)"/><ellipse cx="259.97" cy="218.93" rx="1.39" ry="0.82" transform="rotate(42.98 259.97 218.93)"/><ellipse cx="285.85" cy="250.92" rx="1.09" ry="0.64" transform="rotate(58.51 285.85 250.92)"/><ellipse cx="285.83" cy="239.65" rx="1.15" ry="0.68" transform="rotate(58.5 285.83 239.65)"/><ellipse cx="300.49" cy="219.88" rx="0.82" ry="0.48" transform="rotate(67.3 300.49 219.88)"/><ellipse cx="255.38" cy="244.87" rx="1.44" ry="0.85" transform="rotate(40.23 255.38 244.87)"/><ellipse cx="317.65" cy="237.52" rx="1.27" ry="0.75" transform="rotate(77.59 317.65 237.52)"/><ellipse cx="258.63" cy="250.4" rx="0.8" ry="0.47" transform="rotate(42.18 258.63 250.4)"/><ellipse cx="278.29" cy="194.11" rx="1.07" ry="0.63" transform="rotate(53.97 278.29 194.11)"/><ellipse cx="269.35" cy="216.62" rx="1.41" ry="0.83" transform="rotate(48.61 269.35 216.62)"/><ellipse cx="287.16" cy="202.18" rx="1.47" ry="0.87" transform="rotate(59.29 287.16 202.18)"/><ellipse cx="301.87" cy="248.35" rx="0.71" ry="0.42" transform="rotate(68.12 301.87 248.35)"/><ellipse cx="292.72" cy="253.74" rx="0.94" ry="0.56" transform="rotate(62.63 292.72 253.74)"/><ellipse cx="261.36" cy="247.3" rx="1.05" ry="0.62" transform="rotate(43.82 261.36 247.3)"/><ellipse cx="276.5" cy="247.59" rx="1.07" ry="0.63" transform="rotate(52.9 276.5 247.59)"/><ellipse cx="261.08" cy="199.94" rx="1.03" ry="0.61" transform="rotate(43.65 261.08 199.94)"/><ellipse cx="299.04" cy="212.09" rx="1.47" ry="0.86" transform="rotate(66.42 299.04 212.09)"/><ellipse cx="251.01" cy="202.67" rx="1.32" ry="0.77" transform="rotate(37.61 251.01 202.67)"/><ellipse cx="282.44" cy="222.49" rx="1.63" ry="0.96" transform="rotate(56.47 282.44 222.49)"/><ellipse cx="267.08" cy="197.34" rx="0.71" ry="0.42" transform="rotate(47.25 267.08 197.34)"/><ellipse cx="282.67" cy="206.47" rx="1.16" ry="0.68" transform="rotate(56.6 282.67 206.47)"/><ellipse cx="246.42" cy="183.02" rx="1.07" ry="0.63" transform="rotate(34.85 246.42 183.02)"/><ellipse cx="303.58" cy="206.74" rx="1.61" ry="0.95" transform="rotate(69.15 303.58 206.74)"/><ellipse cx="290.03" cy="214.87" rx="1.47" ry="0.87" transform="rotate(61.02 290.03 214.87)"/><ellipse cx="263.72" cy="230.81" rx="1.54" ry="0.91" transform="rotate(45.23 263.72 230.81)"/><ellipse cx="287.11" cy="208.26" rx="0.78" ry="0.46" transform="rotate(59.27 287.11 208.26)"/><ellipse cx="289.63" cy="197.82" rx="1.06" ry="0.62" transform="rotate(60.78 289.63 197.82)"/><ellipse cx="287.23" cy="257.35" rx="1.37" ry="0.8" transform="rotate(59.34 287.23 257.35)"/><ellipse cx="285.47" cy="250.81" rx="0.99" ry="0.59" transform="rotate(58.28 285.47 250.81)"/><ellipse cx="275.46" cy="236.5" rx="1.25" ry="0.73" transform="rotate(52.28 275.46 236.5)"/><ellipse cx="262.84" cy="215.45" rx="1.52" ry="0.89" transform="rotate(44.71 262.84 215.45)"/><ellipse cx="264.42" cy="238.76" rx="0.73" ry="0.43" transform="rotate(45.65 264.42 238.76)"/><ellipse cx="318.55" cy="237.04" rx="1.01" ry="0.59" transform="rotate(78.13 318.55 237.04)"/><ellipse cx="320.72" cy="245.92" rx="0.74" ry="0.44" transform="rotate(79.43 320.72 245.92)"/><ellipse cx="264.87" cy="221.84" rx="1.7" ry="1" transform="rotate(45.92 264.87 221.84)"/><ellipse cx="256.69" cy="186.77" rx="1" ry="0.59" transform="rotate(41.02 256.69 186.77)"/><ellipse cx="249.41" cy="215.3" rx="1.23" ry="0.72" transform="rotate(36.64 249.41 215.3)"/><ellipse cx="279.47" cy="194.17" rx="0.7" ry="0.41" transform="rotate(54.68 279.47 194.17)"/><ellipse cx="307.02" cy="217.76" rx="1.17" ry="0.69" transform="rotate(71.21 307.02 217.76)"/><ellipse cx="282.33" cy="237.17" rx="1.6" ry="0.94" transform="rotate(56.4 282.33 237.17)"/><ellipse cx="308.86" cy="240.45" rx="1.03" ry="0.6" transform="rotate(72.32 308.86 240.45)"/><ellipse cx="258.83" cy="190.09" rx="1.56" ry="0.92" transform="rotate(42.3 258.83 190.09)"/><ellipse cx="250.32" cy="227.97" rx="1.61" ry="0.95" transform="rotate(37.19 250.32 227.97)"/><ellipse cx="270.49" cy="213.74" rx="1.11" ry="0.65" transform="rotate(49.29 270.49 213.74)"/><ellipse cx="317.78" cy="237.05" rx="1.54" ry="0.9" transform="rotate(77.67 317.78 237.05)"/><ellipse cx="248.95" cy="240.7" rx="1.14" ry="0.67" transform="rotate(36.37 248.95 240.7)"/><ellipse cx="276.51" cy="247.51" rx="1.43" ry="0.84" transform="rotate(52.91 276.51 247.51)"/><ellipse cx="315.2" cy="241.34" rx="1.61" ry="0.95" transform="rotate(76.12 315.2 241.34)"/><ellipse cx="278.54" cy="226.93" rx="1.48" ry="0.87" transform="rotate(54.12 278.54 226.93)"/><ellipse cx="280.47" cy="193.85" rx="1.28" ry="0.75" transform="rotate(55.28 280.47 193.85)"/><ellipse cx="312.21" cy="251.77" rx="0.81" ry="0.48" transform="rotate(74.33 312.21 251.77)"/><ellipse cx="274.96" cy="201.06" rx="1.03" ry="0.6" transform="rotate(51.98 274.96 201.06)"/><ellipse cx="318.92" cy="216.27" rx="1" ry="0.59" transform="rotate(78.35 318.92 216.27)"/><ellipse cx="266.71" cy="217.79" rx="1.36" ry="0.8" transform="rotate(47.03 266.71 217.79)"/><ellipse cx="272.03" cy="197.72" rx="0.91" ry="0.54" transform="rotate(50.22 272.03 197.72)"/><ellipse cx="265.75" cy="254.59" rx="0.85" ry="0.5" transform="rotate(46.45 265.75 254.59)"/><ellipse cx="303.31" cy="191.55" rx="1.48" ry="0.87" transform="rotate(68.98 303.31 191.55)"/><ellipse cx="266.21" cy="244.59" rx="1.12" ry="0.66" transform="rotate(46.73 266.21 244.59)"/><ellipse cx="251.94" cy="190.47" rx="1.5" ry="0.88" transform="rotate(38.17 251.94 190.47)"/><ellipse cx="287.19" cy="221.39" rx="1.04" ry="0.61" transform="rotate(59.31 287.19 221.39)"/><ellipse cx="298.54" cy="221.1" rx="0.74" ry="0.44" transform="rotate(66.13 298.54 221.1)"/><ellipse cx="291.67" cy="207.78" rx="1.54" ry="0.91" transform="rotate(62 291.67 207.78)"/><ellipse cx="287.72" cy="244.13" rx="0.8" ry="0.47" transform="rotate(59.63 287.72 244.13)"/><ellipse cx="299.74" cy="231.23" rx="1.55" ry="0.91" transform="rotate(66.84 299.74 231.23)"/><ellipse cx="313.2" cy="226.56" rx="1.28" ry="0.76" transform="rotate(74.92 313.2 226.56)"/><ellipse cx="304.3" cy="203.84" rx="1.24" ry="0.73" transform="rotate(69.58 304.3 203.84)"/><ellipse cx="305.8" cy="229.96" rx="1.23" ry="0.73" transform="rotate(70.48 305.8 229.96)"/><ellipse cx="311.04" cy="260.05" rx="0.94" ry="0.56" transform="rotate(73.62 311.04 260.05)"/><ellipse cx="251.69" cy="231.46" rx="0.83" ry="0.49" transform="rotate(38.01 251.69 231.46)"/><ellipse cx="319.69" cy="220.49" rx="1.22" ry="0.72" transform="rotate(78.82 319.69 220.49)"/><ellipse cx="308.12" cy="251.71" rx="0.83" ry="0.49" transform="rotate(71.87 308.12 251.71)"/><ellipse cx="280.46" cy="197.25" rx="1.15" ry="0.68" transform="rotate(55.27 280.46 197.25)"/><ellipse cx="256.13" cy="252.28" rx="1.04" ry="0.61" transform="rotate(40.68 256.13 252.28)"/><ellipse cx="275.58" cy="253.9" rx="1.52" ry="0.89" transform="rotate(52.35 275.58 253.9)"/><ellipse cx="271.54" cy="222.5" rx="1.36" ry="0.8" transform="rotate(49.92 271.54 222.5)"/><ellipse cx="260.28" cy="193.76" rx="1.55" ry="0.91" transform="rotate(43.17 260.28 193.76)"/><ellipse cx="258.32" cy="238.92" rx="1.43" ry="0.84" transform="rotate(41.99 258.32 238.92)"/><ellipse cx="290.96" cy="210.32" rx="1.55" ry="0.91" transform="rotate(61.58 290.96 210.32)"/><ellipse cx="305.78" cy="188.62" rx="1.6" ry="0.94" transform="rotate(70.47 305.78 188.62)"/><ellipse cx="294.38" cy="205.86" rx="0.85" ry="0.5" transform="rotate(63.63 294.38 205.86)"/><ellipse cx="253.45" cy="247.1" rx="1.54" ry="0.91" transform="rotate(39.07 253.45 247.1)"/><ellipse cx="272.43" cy="197.22" rx="0.75" ry="0.44" transform="rotate(50.46 272.43 197.22)"/><ellipse cx="277.46" cy="206.53" rx="0.73" ry="0.43" transform="rotate(53.48 277.46 206.53)"/><ellipse cx="268.63" cy="247.87" rx="0.75" ry="0.44" transform="rotate(48.18 268.63 247.87)"/><ellipse cx="276.7" cy="223.63" rx="0.85" ry="0.5" transform="rotate(53.02 276.7 223.63)"/><ellipse cx="248.77" cy="188.86" rx="0.83" ry="0.49" transform="rotate(36.26 248.77 188.86)"/><ellipse cx="320.06" cy="251.08" rx="1.4" ry="0.82" transform="rotate(79.03 320.06 251.08)"/><ellipse cx="314.37" cy="208.71" rx="0.93" ry="0.55" transform="rotate(75.62 314.37 208.71)"/><ellipse cx="312.11" cy="230.9" rx="1.62" ry="0.95" transform="rotate(74.27 312.11 230.9)"/><ellipse cx="273.29" cy="215.63" rx="1.41" ry="0.83" transform="rotate(50.97 273.29 215.63)"/><ellipse cx="313.06" cy="196.09" rx="0.95" ry="0.56" transform="rotate(74.84 313.06 196.09)"/><ellipse cx="247.04" cy="227.21" rx="1.62" ry="0.95" transform="rotate(35.22 247.04 227.21)"/><ellipse cx="289.16" cy="194.74" rx="1.39" ry="0.81" transform="rotate(60.49 289.16 194.74)"/><ellipse cx="295.39" cy="191.31" rx="1.61" ry="0.95" transform="rotate(64.23 295.39 191.31)"/><ellipse cx="296.16" cy="221.76" rx="1.03" ry="0.61" transform="rotate(64.69 296.16 221.76)"/><ellipse cx="258.2" cy="219.95" rx="1.05" ry="0.62" transform="rotate(41.92 258.2 219.95)"/><ellipse cx="263.7" cy="234.07" rx="1.36" ry="0.8" transform="rotate(45.22 263.7 234.07)"/><ellipse cx="318.53" cy="259.51" rx="1.16" ry="0.68" transform="rotate(78.12 318.53 259.51)"/><ellipse cx="300.43" cy="212.63" rx="1.12" ry="0.66" transform="rotate(67.26 300.43 212.63)"/><ellipse cx="289.09" cy="260.52" rx="0.72" ry="0.43" transform="rotate(60.46 289.09 260.52)"/><ellipse cx="281.19" cy="209.58" rx="1.5" ry="0.88" transform="rotate(55.71 281.19 209.58)"/><ellipse cx="318.24" cy="220.29" rx="0.76" ry="0.45" transform="rotate(77.94 318.24 220.29)"/><ellipse cx="291.17" cy="229.41" rx="1.37" ry="0.81" transform="rotate(61.7 291.17 229.41)"/><ellipse cx="305.02" cy="219.6" rx="1.24" ry="0.73" transform="rotate(70.01 305.02 219.6)"/><ellipse cx="304.32" cy="185.16" rx="0.92" ry="0.54" transform="rotate(69.59 304.32 185.16)"/><ellipse cx="298.26" cy="260.23" rx="1.64" ry="0.97" transform="rotate(65.96 298.26 260.23)"/><ellipse cx="267.42" cy="259.8" rx="0.96" ry="0.57" transform="rotate(47.45 267.42 259.8)"/><ellipse cx="280.41" cy="195.55" rx="1.29" ry="0.76" transform="rotate(55.25 280.41 195.55)"/><ellipse cx="275.77" cy="237.12" rx="1.66" ry="0.97" transform="rotate(52.46 275.77 237.12)"/><ellipse cx="255.71" cy="234.93" rx="1.29" ry="0.76" transform="rotate(40.43 255.71 234.93)"/><ellipse cx="266.84" cy="185.78" rx="1.64" ry="0.96" transform="rotate(47.1 266.84 185.78)"/><ellipse cx="298.83" cy="232.39" rx="0.78" ry="0.46" transform="rotate(66.3 298.83 232.39)"/><ellipse cx="314.39" cy="214.52" rx="1.15" ry="0.68" transform="rotate(75.64 314.39 214.52)"/><ellipse cx="288.28" cy="218.24" rx="1.65" ry="0.97" transform="rotate(59.97 288.28 218.24)"/><ellipse cx="281.52" cy="236.53" rx="1.47" ry="0.86" transform="rotate(55.91 281.52 236.53)"/><ellipse cx="316.9" cy="196.46" rx="1.03" ry="0.6" transform="rotate(77.14 316.9 196.46)"/><ellipse cx="318.2" cy="230.88" rx="1.06" ry="0.62" transform="rotate(77.92 318.2 230.88)"/><ellipse cx="312.99" cy="192.38" rx="0.94" ry="0.55" transform="rotate(74.79 312.99 192.38)"/><ellipse cx="251.25" cy="235.97" rx="1.18" ry="0.69" transform="rotate(37.75 251.25 235.97)"/><ellipse cx="269.14" cy="217.72" rx="0.94" ry="0.55" transform="rotate(48.48 269.14 217.72)"/><ellipse cx="299.9" cy="243.02" rx="1.07" ry="0.63" transform="rotate(66.94 299.9 243.02)"/><ellipse cx="312.02" cy="186.53" rx="1.26" ry="0.74" transform="rotate(74.21 312.02 186.53)"/><ellipse cx="257.66" cy="192.27" rx="1.25" ry="0.73" transform="rotate(41.6 257.66 192.27)"/><ellipse cx="252.61" cy="188.86" rx="0.82" ry="0.48" transform="rotate(38.57 252.61 188.86)"/><ellipse cx="274.61" cy="248.59" rx="0.97" ry="0.57" transform="rotate(51.77 274.61 248.59)"/><ellipse cx="255.29" cy="243.64" rx="1.51" ry="0.89" transform="rotate(40.18 255.29 243.64)"/><ellipse cx="321.71" cy="186.88" rx="0.85" ry="0.5" transform="rotate(80.02 321.71 186.88)"/><ellipse cx="278.95" cy="261.32" rx="1.23" ry="0.72" transform="rotate(54.37 278.95 261.32)"/><ellipse cx="313.15" cy="200.71" rx="1.16" ry="0.68" transform="rotate(74.89 313.15 200.71)"/><ellipse cx="298.2" cy="200.9" rx="1.21" ry="0.71" transform="rotate(65.92 298.2 200.9)"/><ellipse cx="308.7" cy="247.44" rx="1.39" ry="0.82" transform="rotate(72.22 308.7 247.44)"/><ellipse cx="308.99" cy="261.68" rx="1.3" ry="0.76" transform="rotate(72.4 308.99 261.68)"/><ellipse cx="264.94" cy="200.54" rx="0.74" ry="0.43" transform="rotate(45.96 264.94 200.54)"/><ellipse cx="315.83" cy="228.14" rx="1.29" ry="0.76" transform="rotate(76.5 315.83 228.14)"/><ellipse cx="312.33" cy="237.57" rx="1.08" ry="0.64" transform="rotate(74.4 312.33 237.57)"/><ellipse cx="290.51" cy="189.49" rx="0.94" ry="0.55" transform="rotate(61.31 290.51 189.49)"/><ellipse cx="272.11" cy="245.78" rx="1.35" ry="0.8" transform="rotate(50.26 272.11 245.78)"/><ellipse cx="291.89" cy="214.21" rx="1.04" ry="0.61" transform="rotate(62.14 291.89 214.21)"/><ellipse cx="275.23" cy="186.96" rx="1.05" ry="0.62" transform="rotate(52.14 275.23 186.96)"/><ellipse cx="315.11" cy="247.4" rx="0.93" ry="0.55" transform="rotate(76.07 315.11 247.4)"/><ellipse cx="283.9" cy="241.83" rx="0.88" ry="0.52" transform="rotate(57.34 283.9 241.83)"/><ellipse cx="273.07" cy="229.33" rx="0.87" ry="0.51" transform="rotate(50.84 273.07 229.33)"/><ellipse cx="315.12" cy="184.5" rx="1.58" ry="0.93" transform="rotate(76.07 315.12 184.5)"/><ellipse cx="296.86" cy="214.4" rx="0.97" ry="0.57" transform="rotate(65.11 296.86 214.4)"/><ellipse cx="311.99" cy="239.21" rx="0.89" ry="0.53" transform="rotate(74.2 311.99 239.21)"/><ellipse cx="270.12" cy="190.36" rx="1.32" ry="0.78" transform="rotate(49.07 270.12 190.36)"/><ellipse cx="278.2" cy="208.1" rx="1.4" ry="0.82" transform="rotate(53.92 278.2 208.1)"/><ellipse cx="265.31" cy="194.2" rx="1.49" ry="0.88" transform="rotate(46.19 265.31 194.2)"/><ellipse cx="313.4" cy="246.77" rx="1.25" ry="0.74" transform="rotate(75.04 313.4 246.77)"/><ellipse cx="300.51" cy="251.19" rx="0.72" ry="0.42" transform="rotate(67.3 300.51 251.19)"/><ellipse cx="268.75" cy="211.08" rx="1.43" ry="0.84" transform="rotate(48.25 268.75 211.08)"/><ellipse cx="271.54" cy="243.35" rx="0.94" ry="0.55" transform="rotate(49.92 271.54 243.35)"/><ellipse cx="317.92" cy="217.39" rx="1.28" ry="0.75" transform="rotate(77.75 317.92 217.39)"/><ellipse cx="293.76" cy="247.91" rx="1.25" ry="0.74" transform="rotate(63.26 293.76 247.91)"/><ellipse cx="262.08" cy="217.81" rx="1.25" ry="0.74" transform="rotate(44.25 262.08 217.81)"/><ellipse cx="251.51" cy="248.49" rx="0.99" ry="0.58" transform="rotate(37.91 251.51 248.49)"/><ellipse cx="315.96" cy="212.38" rx="1.65" ry="0.97" transform="rotate(76.58 315.96 212.38)"/><ellipse cx="300.87" cy="214.06" rx="1.4" ry="0.82" transform="rotate(67.52 300.87 214.06)"/><ellipse cx="246.02" cy="189.7" rx="1.27" ry="0.75" transform="rotate(34.61 246.02 189.7)"/><ellipse cx="269.38" cy="215.14" rx="1.4" ry="0.82" transform="rotate(48.63 269.38 215.14)"/><ellipse cx="281.96" cy="231.37" rx="1.44" ry="0.85" transform="rotate(56.18 281.96 231.37)"/><ellipse cx="309.5" cy="191.36" rx="1.53" ry="0.9" transform="rotate(72.7 309.5 191.36)"/><ellipse cx="302.48" cy="200.94" rx="0.77" ry="0.45" transform="rotate(68.49 302.48 200.94)"/><ellipse cx="260.68" cy="190.06" rx="1.26" ry="0.74" transform="rotate(43.41 260.68 190.06)"/><ellipse cx="321.63" cy="221.39" rx="0.96" ry="0.57" transform="rotate(79.98 321.63 221.39)"/><ellipse cx="258.95" cy="259.85" rx="1.24" ry="0.73" transform="rotate(42.37 258.95 259.85)"/><ellipse cx="264.11" cy="254.96" rx="1.11" ry="0.65" transform="rotate(45.47 264.11 254.96)"/><ellipse cx="320.84" cy="223.37" rx="0.94" ry="0.55" transform="rotate(79.5 320.84 223.37)"/><ellipse cx="260.18" cy="184.31" rx="1.51" ry="0.89" transform="rotate(43.11 260.18 184.31)"/><ellipse cx="270.9" cy="240.54" rx="1.54" ry="0.9" transform="rotate(49.54 270.9 240.54)"/><ellipse cx="276.57" cy="223.33" rx="1.42" ry="0.83" transform="rotate(52.94 276.57 223.33)"/><ellipse cx="294.83" cy="211.67" rx="0.88" ry="0.52" transform="rotate(63.9 294.83 211.67)"/><ellipse cx="267.67" cy="184.65" rx="1.33" ry="0.78" transform="rotate(47.6 267.67 184.65)"/><ellipse cx="294.7" cy="244.13" rx="1.13" ry="0.66" transform="rotate(63.82 294.7 244.13)"/><ellipse cx="301.6" cy="227.17" rx="1.55" ry="0.91" transform="rotate(67.96 301.6 227.17)"/><ellipse cx="287.83" cy="236.16" rx="1.29" ry="0.76" transform="rotate(59.7 287.83 236.16)"/><ellipse cx="261.43" cy="189.09" rx="1.52" ry="0.89" transform="rotate(43.86 261.43 189.09)"/><ellipse cx="298.61" cy="223.33" rx="1.61" ry="0.95" transform="rotate(66.17 298.61 223.33)"/><ellipse cx="259.84" cy="240.88" rx="1.19" ry="0.7" transform="rotate(42.9 259.84 240.88)"/><ellipse cx="254" cy="193.19" rx="0.71" ry="0.42" transform="rotate(39.4 254 193.19)"/><ellipse cx="260.39" cy="244.38" rx="1.17" ry="0.69" transform="rotate(43.24 260.39 244.38)"/><ellipse cx="249.6" cy="222.01" rx="1.67" ry="0.98" transform="rotate(36.76 249.6 222.01)"/><ellipse cx="305.82" cy="206.77" rx="1.17" ry="0.69" transform="rotate(70.49 305.82 206.77)"/><ellipse cx="273.89" cy="201.27" rx="1.35" ry="0.79" transform="rotate(51.34 273.89 201.27)"/><ellipse cx="247.76" cy="220.38" rx="1.63" ry="0.96" transform="rotate(35.66 247.76 220.38)"/><ellipse cx="303.49" cy="234.84" rx="1.53" ry="0.9" transform="rotate(69.1 303.49 234.84)"/><ellipse cx="318.35" cy="204.37" rx="1.64" ry="0.97" transform="rotate(78.01 318.35 204.37)"/><ellipse cx="313.92" cy="222.04" rx="0.82" ry="0.48" transform="rotate(75.35 313.92 222.04)"/><ellipse cx="286.5" cy="222.24" rx="1.7" ry="1" transform="rotate(58.9 286.5 222.24)"/><ellipse cx="264.67" cy="239.74" rx="1.45" ry="0.86" transform="rotate(45.8 264.67 239.74)"/><ellipse cx="291.69" cy="205.45" rx="1.6" ry="0.94" transform="rotate(62.01 291.69 205.45)"/><ellipse cx="265.39" cy="250.79" rx="1.59" ry="0.93" transform="rotate(46.24 265.39 250.79)"/><ellipse cx="286.39" cy="187.11" rx="0.96" ry="0.56" transform="rotate(58.83 286.39 187.11)"/><ellipse cx="251.05" cy="197.68" rx="1.04" ry="0.61" transform="rotate(37.63 251.05 197.68)"/><ellipse cx="289.62" cy="246.57" rx="0.73" ry="0.43" transform="rotate(60.77 289.62 246.57)"/><ellipse cx="302.58" cy="191.68" rx="1.41" ry="0.83" transform="rotate(68.55 302.58 191.68)"/><ellipse cx="246.81" cy="211.16" rx="1.63" ry="0.96" transform="rotate(35.09 246.81 211.16)"/><ellipse cx="312.47" cy="187.18" rx="1.08" ry="0.63" transform="rotate(74.48 312.47 187.18)"/><ellipse cx="315.48" cy="196.99" rx="1.15" ry="0.67" transform="rotate(76.29 315.48 196.99)"/><ellipse cx="265.87" cy="206.39" rx="1.18" ry="0.69" transform="rotate(46.52 265.87 206.39)"/><ellipse cx="256.55" cy="195.18" rx="1.67" ry="0.99" transform="rotate(40.93 256.55 195.18)"/><ellipse cx="303.94" cy="230.19" rx="0.82" ry="0.48" transform="rotate(69.37 303.94 230.19)"/><ellipse cx="256.09" cy="232.09" rx="1.31" ry="0.77" transform="rotate(40.65 256.09 232.09)"/></g>
</g>
<path d="M242,180 L255,180 Q254,188 252.5,194 Q249.5,202 244.8,208.3 L242,209 Z" fill="#000" stroke="#2a2ad0" stroke-width="0.5"/>

<path d="M254.9,182.1 C258.13,180.02 267.32,180.63 272.4,181 C277.48,181.37 280.78,182.67 285.4,184.3 C290.02,185.93 295.8,188.03 300.1,190.8 C304.4,193.57 307.82,197.07 311.2,200.9 C314.58,204.73 318.1,209.5 320.4,213.8 C322.7,218.1 324.32,222.08 325,226.7 C325.68,231.32 324.95,237.5 324.5,241.5 C324.05,245.5 322.98,247.12 322.3,250.7 C321.62,254.28 332.7,260.95 320.4,263 C308.1,265.05 260.65,266.27 248.5,263 C236.35,259.73 247.97,249.13 247.5,243.4 C247.03,237.67 246.32,233.53 245.7,228.6 C245.08,223.67 243.95,217.18 243.8,213.8 C243.65,210.42 244.02,209.98 244.8,208.3 C245.58,206.62 247.13,206.17 248.5,203.7 C249.87,201.23 251.93,197.1 253,193.5 C254.07,189.9 251.67,184.18 254.9,182.1 Z" fill="none" stroke="#fff" stroke-width="0.9" stroke-dasharray="2,1.5" opacity="0.95"/>
</g>
<text x="249.4" y="254.5" font-size="11.8" fill="#fff">dStr</text>
<line x1="310.5" y1="258.9" x2="324.9" y2="258.9" stroke="#fff" stroke-width="1.6"/>
<g clip-path="url(#cel)"><rect x="296" y="176" width="33" height="30" fill="#000" filter="url(#speckg)" opacity="0.35"/></g>
<g clip-path="url(#cdr)">
<rect x="331.6" y="36.1" width="130.2" height="85.9" fill="#0b0b34"/>
<rect x="331.6" y="36.1" width="130.2" height="85.9" fill="#000" filter="url(#speck2)" opacity="0.6"/>
<g filter="url(#b4)"><path d="M330,112 Q350,104 372,108 Q385,112 392,124 L330,124 Z" fill="#000" opacity="0.9"/></g>
<g mask="url(#dmm)"><rect x="330" y="60" width="75" height="60" fill="#4e1a78" opacity="0.8"/><g fill="#c238d8" opacity="0.9"><circle cx="356.67" cy="74.23" r="0.49"/><circle cx="393.97" cy="92.63" r="0.78"/><circle cx="368.71" cy="82.33" r="0.8"/><circle cx="370.35" cy="103.4" r="0.76"/><circle cx="388.75" cy="85.29" r="0.49"/><circle cx="340.49" cy="100.33" r="0.49"/><circle cx="375.83" cy="94.9" r="0.43"/><circle cx="384.9" cy="63.75" r="0.88"/><circle cx="388.87" cy="73.44" r="0.8"/><circle cx="381.26" cy="68.63" r="0.77"/><circle cx="338.66" cy="110.4" r="0.78"/><circle cx="398.6" cy="64.84" r="0.57"/><circle cx="373.39" cy="94.23" r="0.5"/><circle cx="392.14" cy="106.87" r="0.57"/><circle cx="340.21" cy="97.39" r="0.62"/><circle cx="376.43" cy="88.14" r="0.62"/><circle cx="331.52" cy="69.15" r="0.65"/><circle cx="380.97" cy="84.56" r="0.81"/><circle cx="367.79" cy="108.66" r="0.76"/><circle cx="352.53" cy="69.36" r="0.44"/><circle cx="332.77" cy="107.71" r="0.88"/><circle cx="382.6" cy="67.79" r="0.76"/><circle cx="338.94" cy="109.12" r="0.76"/><circle cx="382.47" cy="94.28" r="0.63"/><circle cx="389.39" cy="112.97" r="0.53"/><circle cx="360.62" cy="100.87" r="0.77"/><circle cx="358.74" cy="85.85" r="0.93"/><circle cx="349.32" cy="73.21" r="0.78"/><circle cx="349.39" cy="109.56" r="0.58"/><circle cx="394.72" cy="82.13" r="0.89"/><circle cx="382.58" cy="100.8" r="0.52"/><circle cx="341.5" cy="63.64" r="0.5"/><circle cx="376.66" cy="65.41" r="0.53"/><circle cx="369.69" cy="70.22" r="0.58"/><circle cx="345.99" cy="97.83" r="0.47"/><circle cx="399.83" cy="93.73" r="0.79"/><circle cx="368.68" cy="88.38" r="0.93"/><circle cx="392.56" cy="105.56" r="0.42"/><circle cx="371.27" cy="111.91" r="0.75"/><circle cx="365.91" cy="96.43" r="0.5"/><circle cx="380.94" cy="103.54" r="0.44"/><circle cx="365.69" cy="93.55" r="0.59"/><circle cx="377.72" cy="110.86" r="0.9"/><circle cx="351.54" cy="70.04" r="0.87"/><circle cx="372.84" cy="105.96" r="0.88"/><circle cx="349.56" cy="93.13" r="0.57"/><circle cx="385.82" cy="98.65" r="0.53"/><circle cx="365.01" cy="93.49" r="0.53"/><circle cx="342.77" cy="87.13" r="0.44"/><circle cx="364.66" cy="111.82" r="0.85"/><circle cx="333.8" cy="105.76" r="0.79"/><circle cx="379.57" cy="63.42" r="0.82"/><circle cx="343.68" cy="104.56" r="0.58"/><circle cx="355.67" cy="71.13" r="0.88"/><circle cx="345.53" cy="108.26" r="0.68"/><circle cx="340.39" cy="96.72" r="0.69"/><circle cx="331.89" cy="105.65" r="0.55"/><circle cx="331.67" cy="102.62" r="0.8"/><circle cx="357" cy="71.87" r="0.69"/><circle cx="371.05" cy="98.54" r="0.67"/><circle cx="369.75" cy="100.2" r="0.5"/><circle cx="342.64" cy="87.68" r="0.81"/><circle cx="386.2" cy="107.23" r="0.64"/><circle cx="379.96" cy="67.63" r="0.61"/><circle cx="334.68" cy="106.27" r="0.95"/><circle cx="376.88" cy="101.88" r="0.6"/><circle cx="385.64" cy="66.51" r="0.6"/><circle cx="354.56" cy="107.79" r="0.5"/><circle cx="341.14" cy="66.74" r="0.86"/><circle cx="352.08" cy="109.86" r="0.57"/><circle cx="388.57" cy="72.33" r="0.9"/><circle cx="398.16" cy="108.55" r="0.78"/><circle cx="392.74" cy="110.46" r="0.93"/><circle cx="349.28" cy="107.04" r="0.83"/><circle cx="354.21" cy="70.91" r="0.89"/><circle cx="363.07" cy="90.1" r="0.89"/><circle cx="363.87" cy="75.38" r="0.78"/><circle cx="367.26" cy="76.44" r="0.78"/><circle cx="393.28" cy="75.04" r="0.85"/><circle cx="382.76" cy="89.69" r="0.51"/><circle cx="376.54" cy="76.91" r="0.54"/><circle cx="389.74" cy="76.34" r="0.45"/><circle cx="389.18" cy="114.73" r="0.57"/><circle cx="358.35" cy="90.86" r="0.81"/><circle cx="330.85" cy="96.34" r="0.53"/><circle cx="395.03" cy="83.98" r="0.92"/><circle cx="361.51" cy="96.72" r="0.42"/><circle cx="344.19" cy="77.7" r="0.6"/><circle cx="342.12" cy="84.32" r="0.45"/><circle cx="369.64" cy="113.04" r="0.87"/><circle cx="373.54" cy="114.03" r="0.8"/><circle cx="374.4" cy="86.24" r="0.45"/><circle cx="392.52" cy="109.5" r="0.84"/><circle cx="378.23" cy="105.07" r="0.93"/><circle cx="398.04" cy="102.8" r="0.41"/><circle cx="396.31" cy="92.09" r="0.65"/><circle cx="360.17" cy="76.33" r="0.42"/><circle cx="373.28" cy="94.73" r="0.45"/><circle cx="394.6" cy="109.88" r="0.88"/><circle cx="367.62" cy="82.4" r="0.66"/><circle cx="355.94" cy="112.64" r="0.91"/><circle cx="392.9" cy="89.55" r="0.68"/><circle cx="378.1" cy="77.33" r="0.5"/><circle cx="398.95" cy="76.29" r="0.55"/><circle cx="364.46" cy="66.68" r="0.69"/><circle cx="341.22" cy="105.94" r="0.45"/><circle cx="386.14" cy="76.24" r="0.83"/><circle cx="386.05" cy="112.64" r="0.5"/><circle cx="398.93" cy="69.84" r="0.59"/><circle cx="330.51" cy="88.18" r="0.45"/><circle cx="368.89" cy="111.45" r="0.83"/><circle cx="375.34" cy="66.81" r="0.94"/><circle cx="355.53" cy="112.32" r="0.48"/><circle cx="350.93" cy="112.23" r="0.81"/><circle cx="343.05" cy="86.25" r="0.7"/><circle cx="347.63" cy="73.58" r="0.45"/><circle cx="365.66" cy="84.04" r="0.59"/><circle cx="363.57" cy="80.37" r="0.61"/><circle cx="383.47" cy="69.85" r="0.45"/><circle cx="361.29" cy="77.35" r="0.66"/><circle cx="390.18" cy="112.15" r="0.85"/><circle cx="394.44" cy="74.22" r="0.59"/><circle cx="337.82" cy="77.35" r="0.54"/><circle cx="346.79" cy="79.67" r="0.92"/><circle cx="366.07" cy="109.68" r="0.69"/><circle cx="382.42" cy="97.51" r="0.73"/><circle cx="394.71" cy="93.48" r="0.68"/><circle cx="346.06" cy="67.25" r="0.64"/><circle cx="358.43" cy="68.92" r="0.92"/><circle cx="331.23" cy="85.39" r="0.54"/><circle cx="358.58" cy="106.34" r="0.93"/><circle cx="357.9" cy="99.74" r="0.89"/><circle cx="350.32" cy="83.03" r="0.64"/><circle cx="388.58" cy="78.07" r="0.89"/><circle cx="342.97" cy="98.09" r="0.75"/><circle cx="332.38" cy="79.34" r="0.86"/><circle cx="358.13" cy="65.03" r="0.66"/><circle cx="367.86" cy="86.88" r="0.63"/><circle cx="395.67" cy="97.55" r="0.64"/><circle cx="361.28" cy="102.8" r="0.53"/><circle cx="363.74" cy="102.3" r="0.45"/><circle cx="340.36" cy="64.69" r="0.77"/><circle cx="386.01" cy="97.07" r="0.74"/><circle cx="332.22" cy="81.29" r="0.65"/><circle cx="353.58" cy="75.27" r="0.6"/><circle cx="345.92" cy="65.71" r="0.71"/><circle cx="331.71" cy="84.97" r="0.62"/><circle cx="386.72" cy="99.43" r="0.65"/><circle cx="330.43" cy="99.72" r="0.8"/><circle cx="374.65" cy="114.5" r="0.67"/><circle cx="357.71" cy="90.32" r="0.46"/><circle cx="373.86" cy="69" r="0.77"/><circle cx="372.83" cy="98.29" r="0.5"/><circle cx="379.86" cy="111.98" r="0.94"/><circle cx="383.57" cy="70.34" r="0.83"/><circle cx="342.41" cy="113.92" r="0.42"/><circle cx="331.17" cy="83.3" r="0.44"/><circle cx="396.67" cy="111.31" r="0.54"/><circle cx="390.87" cy="80.55" r="0.85"/><circle cx="338.72" cy="111.86" r="0.65"/><circle cx="346.52" cy="85.58" r="0.4"/><circle cx="332.6" cy="87.16" r="0.73"/><circle cx="399.77" cy="89.62" r="0.58"/><circle cx="348.3" cy="63.12" r="0.9"/><circle cx="378.96" cy="76.01" r="0.82"/><circle cx="378.31" cy="95.88" r="0.65"/><circle cx="390.93" cy="111.08" r="0.82"/><circle cx="343" cy="85.71" r="0.75"/><circle cx="396.62" cy="88.77" r="0.67"/><circle cx="334.76" cy="65.41" r="0.55"/><circle cx="377.35" cy="73.37" r="0.82"/><circle cx="375" cy="77.2" r="0.69"/><circle cx="388.41" cy="63.66" r="0.74"/><circle cx="382.65" cy="113.23" r="0.58"/><circle cx="374.61" cy="104.71" r="0.57"/><circle cx="384.27" cy="101.74" r="0.92"/><circle cx="359.01" cy="67.79" r="0.68"/><circle cx="377.45" cy="110.43" r="0.82"/><circle cx="368.3" cy="107.35" r="0.87"/><circle cx="372.85" cy="76.4" r="0.41"/><circle cx="371.03" cy="62.71" r="0.59"/><circle cx="399.27" cy="75.69" r="0.78"/><circle cx="381.44" cy="79.15" r="0.73"/><circle cx="392" cy="100.4" r="0.58"/><circle cx="399.62" cy="97.55" r="0.53"/><circle cx="386.56" cy="103.54" r="0.88"/><circle cx="388.55" cy="104.22" r="0.62"/><circle cx="382.92" cy="102.53" r="0.85"/><circle cx="345.06" cy="114.28" r="0.72"/><circle cx="393.61" cy="89.4" r="0.83"/><circle cx="372.29" cy="77.42" r="0.67"/><circle cx="387.51" cy="76.8" r="0.91"/><circle cx="381.22" cy="103.76" r="0.69"/><circle cx="379.6" cy="95.68" r="0.63"/><circle cx="330.13" cy="91.71" r="0.78"/><circle cx="368.83" cy="83.23" r="0.7"/><circle cx="337.33" cy="96.14" r="0.44"/><circle cx="339.23" cy="66.21" r="0.92"/><circle cx="393.6" cy="95.19" r="0.92"/><circle cx="344.66" cy="97.09" r="0.66"/><circle cx="337.54" cy="92.6" r="0.46"/><circle cx="349.63" cy="69.56" r="0.54"/><circle cx="392.77" cy="88.16" r="0.7"/><circle cx="340.11" cy="70.06" r="0.46"/><circle cx="379.09" cy="92.66" r="0.81"/><circle cx="371.04" cy="75.31" r="0.62"/><circle cx="355.68" cy="111.12" r="0.79"/><circle cx="388.27" cy="96.86" r="0.93"/><circle cx="383.52" cy="62.02" r="0.44"/><circle cx="332.71" cy="109.36" r="0.52"/><circle cx="362.38" cy="92.98" r="0.52"/><circle cx="349.32" cy="108.81" r="0.5"/><circle cx="388.22" cy="86.85" r="0.78"/><circle cx="357.47" cy="97.96" r="0.79"/><circle cx="359.59" cy="77.87" r="0.64"/><circle cx="382.19" cy="62.58" r="0.51"/><circle cx="354.55" cy="98.95" r="0.68"/><circle cx="345.74" cy="108.57" r="0.72"/><circle cx="392.29" cy="82.13" r="0.92"/><circle cx="370.67" cy="80.34" r="0.48"/><circle cx="386.03" cy="71.24" r="0.85"/><circle cx="386.83" cy="69.01" r="0.8"/><circle cx="379.08" cy="66.94" r="0.82"/><circle cx="396.48" cy="79.79" r="0.69"/><circle cx="358.74" cy="74.65" r="0.49"/><circle cx="376.5" cy="113.28" r="0.47"/><circle cx="331.51" cy="90.66" r="0.55"/><circle cx="390.78" cy="77.56" r="0.41"/><circle cx="351.72" cy="83.75" r="0.64"/><circle cx="358.71" cy="77.1" r="0.93"/><circle cx="330.97" cy="73.85" r="0.85"/><circle cx="344.1" cy="73.12" r="0.61"/><circle cx="374.25" cy="105.69" r="0.83"/><circle cx="342.4" cy="111.4" r="0.5"/><circle cx="386.5" cy="107.54" r="0.46"/><circle cx="356.5" cy="73.27" r="0.65"/><circle cx="384.76" cy="104.55" r="0.82"/><circle cx="332.09" cy="77.35" r="0.91"/><circle cx="381.61" cy="102.44" r="0.5"/><circle cx="340.91" cy="87.93" r="0.74"/><circle cx="338.72" cy="108.36" r="0.72"/><circle cx="394.96" cy="110.04" r="0.62"/><circle cx="349.3" cy="106.33" r="0.67"/><circle cx="372.03" cy="100.19" r="0.94"/><circle cx="366.04" cy="86.31" r="0.87"/><circle cx="335.36" cy="85.23" r="0.52"/><circle cx="372.76" cy="105.58" r="0.63"/><circle cx="344.53" cy="68.42" r="0.9"/><circle cx="370.98" cy="111.58" r="0.55"/><circle cx="349.99" cy="71.53" r="0.75"/><circle cx="369.29" cy="107.4" r="0.72"/><circle cx="353.4" cy="67.44" r="0.83"/><circle cx="396.38" cy="79.39" r="0.57"/><circle cx="366.78" cy="81.89" r="0.81"/><circle cx="363.63" cy="87.58" r="0.61"/><circle cx="347.55" cy="110.93" r="0.92"/><circle cx="344.69" cy="81.92" r="0.8"/><circle cx="354.76" cy="85.4" r="0.71"/><circle cx="348.93" cy="82.53" r="0.8"/><circle cx="395.74" cy="65.43" r="0.88"/><circle cx="336.09" cy="96.88" r="0.43"/><circle cx="368.17" cy="74.12" r="0.84"/><circle cx="331.44" cy="89.14" r="0.93"/><circle cx="367.21" cy="85.43" r="0.76"/><circle cx="385.59" cy="98.33" r="0.63"/><circle cx="344.38" cy="103.48" r="0.68"/><circle cx="396.96" cy="80" r="0.57"/><circle cx="362.62" cy="114.37" r="0.83"/><circle cx="350.61" cy="98.7" r="0.85"/><circle cx="334" cy="101.56" r="0.66"/><circle cx="391.73" cy="101.79" r="0.6"/><circle cx="335.68" cy="83.48" r="0.61"/><circle cx="344.27" cy="98.46" r="0.88"/><circle cx="361.06" cy="68.14" r="0.71"/><circle cx="353.81" cy="64.33" r="0.45"/><circle cx="357.22" cy="63.83" r="0.47"/><circle cx="396.21" cy="90.29" r="0.5"/><circle cx="332.91" cy="77.18" r="0.58"/><circle cx="395.96" cy="71.78" r="0.91"/><circle cx="365.18" cy="104.71" r="0.71"/><circle cx="397.17" cy="112.88" r="0.74"/><circle cx="353.66" cy="77.76" r="0.49"/><circle cx="346.07" cy="94.44" r="0.63"/><circle cx="367.81" cy="112.46" r="0.8"/><circle cx="395.37" cy="102.55" r="0.54"/><circle cx="332.95" cy="99.1" r="0.48"/><circle cx="375.9" cy="66.56" r="0.72"/><circle cx="366.95" cy="86.32" r="0.85"/><circle cx="378.97" cy="73.71" r="0.67"/><circle cx="359.07" cy="82.51" r="0.52"/><circle cx="345.51" cy="94.68" r="0.43"/><circle cx="360.04" cy="88.35" r="0.65"/><circle cx="378.41" cy="104.66" r="0.7"/><circle cx="341.37" cy="71.38" r="0.91"/><circle cx="362.69" cy="87.91" r="0.52"/><circle cx="374.1" cy="82.15" r="0.71"/><circle cx="368.74" cy="110.32" r="0.83"/><circle cx="393.91" cy="108.29" r="0.45"/><circle cx="373" cy="76.48" r="0.59"/><circle cx="365.97" cy="89.64" r="0.72"/><circle cx="360.69" cy="67.7" r="0.94"/><circle cx="332.55" cy="112.16" r="0.94"/><circle cx="376.56" cy="73.18" r="0.79"/><circle cx="353.36" cy="81.04" r="0.87"/><circle cx="380.78" cy="63.28" r="0.92"/><circle cx="357.5" cy="77.82" r="0.61"/><circle cx="344.35" cy="84.64" r="0.86"/><circle cx="398.52" cy="106.68" r="0.75"/><circle cx="359.77" cy="87.32" r="0.48"/><circle cx="347.65" cy="64.47" r="0.83"/><circle cx="337.34" cy="71.46" r="0.63"/><circle cx="386.85" cy="65.93" r="0.81"/><circle cx="350.93" cy="83.39" r="0.65"/><circle cx="399.15" cy="114.73" r="0.55"/><circle cx="372.02" cy="79.34" r="0.58"/><circle cx="387.62" cy="96.13" r="0.69"/><circle cx="351.31" cy="81.98" r="0.66"/><circle cx="387.46" cy="76.1" r="0.71"/><circle cx="385.5" cy="64.97" r="0.53"/><circle cx="383.43" cy="65.69" r="0.92"/><circle cx="360.35" cy="95.5" r="0.46"/><circle cx="361.15" cy="86.75" r="0.83"/><circle cx="371.62" cy="69.93" r="0.44"/><circle cx="348.26" cy="92.88" r="0.46"/><circle cx="340.87" cy="80.57" r="0.53"/><circle cx="372.49" cy="73.75" r="0.51"/><circle cx="382.58" cy="94.95" r="0.81"/><circle cx="340.17" cy="95.27" r="0.61"/><circle cx="363.07" cy="73.35" r="0.85"/><circle cx="386.99" cy="86.46" r="0.6"/><circle cx="347.49" cy="88.77" r="0.57"/><circle cx="360.7" cy="94.23" r="0.87"/><circle cx="389.77" cy="65.44" r="0.83"/><circle cx="357.21" cy="68.17" r="0.65"/><circle cx="391.1" cy="82.81" r="0.57"/><circle cx="367.4" cy="91.93" r="0.91"/><circle cx="393.49" cy="114.02" r="0.44"/><circle cx="380.82" cy="87.82" r="0.72"/><circle cx="388.89" cy="77.88" r="0.4"/><circle cx="347.7" cy="113.14" r="0.91"/><circle cx="362.44" cy="69.13" r="0.81"/><circle cx="351.87" cy="108.55" r="0.68"/><circle cx="350.72" cy="65.35" r="0.55"/><circle cx="353.67" cy="77.65" r="0.81"/><circle cx="389.3" cy="96.61" r="0.65"/><circle cx="377.27" cy="64.37" r="0.68"/><circle cx="367.44" cy="94.63" r="0.55"/><circle cx="390.69" cy="80.37" r="0.65"/><circle cx="338.45" cy="89.49" r="0.4"/><circle cx="367.11" cy="72.94" r="0.92"/><circle cx="361.3" cy="74.34" r="0.77"/><circle cx="339.74" cy="89.72" r="0.65"/><circle cx="396.09" cy="101.23" r="0.87"/><circle cx="399" cy="93.79" r="0.77"/><circle cx="378.19" cy="105.65" r="0.88"/><circle cx="391.2" cy="110.8" r="0.92"/><circle cx="341.87" cy="102.95" r="0.79"/><circle cx="392.58" cy="81.14" r="0.82"/><circle cx="330.38" cy="82.45" r="0.53"/><circle cx="346.95" cy="66.47" r="0.68"/><circle cx="339.72" cy="64.86" r="0.74"/><circle cx="384.46" cy="79.4" r="0.42"/><circle cx="390.88" cy="80.84" r="0.61"/><circle cx="393.15" cy="70.01" r="0.76"/><circle cx="355.65" cy="93.97" r="0.65"/><circle cx="344.06" cy="111.83" r="0.69"/><circle cx="342.85" cy="86.35" r="0.73"/><circle cx="394.15" cy="77.98" r="0.46"/><circle cx="362.73" cy="106.96" r="0.42"/><circle cx="394.39" cy="88.23" r="0.66"/><circle cx="373.65" cy="101.09" r="0.76"/><circle cx="394.68" cy="94.62" r="0.57"/><circle cx="358.42" cy="83.99" r="0.52"/><circle cx="351.3" cy="81.87" r="0.92"/><circle cx="392.47" cy="101.01" r="0.79"/><circle cx="348.04" cy="81.36" r="0.51"/><circle cx="387.32" cy="98.06" r="0.76"/><circle cx="331.41" cy="100.64" r="0.84"/><circle cx="366.56" cy="102.16" r="0.85"/><circle cx="374.58" cy="78.8" r="0.71"/><circle cx="391.51" cy="67.21" r="0.86"/><circle cx="353.94" cy="98.59" r="0.47"/><circle cx="361.93" cy="114.9" r="0.72"/><circle cx="363.62" cy="78.65" r="0.6"/><circle cx="376.08" cy="110.7" r="0.47"/><circle cx="353.9" cy="81.76" r="0.56"/><circle cx="397.84" cy="105.31" r="0.69"/><circle cx="331.36" cy="109.47" r="0.8"/><circle cx="391.74" cy="78.06" r="0.58"/><circle cx="358.58" cy="83.48" r="0.65"/><circle cx="399.25" cy="107.23" r="0.44"/><circle cx="360.23" cy="69.87" r="0.67"/><circle cx="361.65" cy="97.29" r="0.86"/><circle cx="363.48" cy="108.24" r="0.51"/><circle cx="353.83" cy="68.62" r="0.85"/><circle cx="387" cy="93.02" r="0.55"/><circle cx="353.88" cy="64.25" r="0.75"/><circle cx="345.01" cy="74.05" r="0.56"/><circle cx="385.52" cy="77.3" r="0.92"/><circle cx="370.62" cy="68.41" r="0.52"/><circle cx="399.71" cy="88.48" r="0.71"/><circle cx="337.05" cy="104.09" r="0.6"/><circle cx="331.15" cy="69.32" r="0.57"/><circle cx="336.26" cy="78.2" r="0.76"/><circle cx="343.75" cy="114.12" r="0.74"/><circle cx="375.64" cy="94.43" r="0.68"/><circle cx="375.15" cy="76.01" r="0.59"/><circle cx="345.61" cy="91.27" r="0.71"/><circle cx="387.04" cy="99.32" r="0.87"/><circle cx="358.2" cy="107.96" r="0.49"/><circle cx="363.87" cy="95.67" r="0.41"/><circle cx="347.88" cy="82.59" r="0.8"/><circle cx="359.02" cy="114.29" r="0.76"/><circle cx="388.52" cy="114.09" r="0.69"/><circle cx="372.9" cy="67.61" r="0.71"/><circle cx="348" cy="80.6" r="0.7"/><circle cx="342.75" cy="95.48" r="0.55"/><circle cx="387.7" cy="114.82" r="0.57"/><circle cx="350.73" cy="67.08" r="0.43"/><circle cx="338.52" cy="74.69" r="0.78"/><circle cx="380.8" cy="85.08" r="0.63"/><circle cx="354.58" cy="72.01" r="0.93"/><circle cx="340.35" cy="84.43" r="0.42"/><circle cx="368.07" cy="87.8" r="0.45"/><circle cx="373.77" cy="88.55" r="0.78"/><circle cx="368.72" cy="79.18" r="0.77"/><circle cx="364.76" cy="108.18" r="0.91"/><circle cx="391.61" cy="96.81" r="0.56"/><circle cx="335.81" cy="107.15" r="0.41"/><circle cx="390.78" cy="71.2" r="0.56"/><circle cx="377.66" cy="70.63" r="0.61"/><circle cx="363.36" cy="62.7" r="0.48"/><circle cx="346.86" cy="95.33" r="0.75"/><circle cx="338.91" cy="114.41" r="0.53"/><circle cx="341.48" cy="79.42" r="0.46"/><circle cx="356.19" cy="63.92" r="0.54"/><circle cx="387.18" cy="70.57" r="0.72"/><circle cx="362.88" cy="100.84" r="0.49"/><circle cx="397.36" cy="80.17" r="0.92"/><circle cx="345.5" cy="75.09" r="0.87"/><circle cx="360.15" cy="98.48" r="0.86"/><circle cx="378.84" cy="100.75" r="0.85"/><circle cx="330.95" cy="74.29" r="0.9"/><circle cx="385.38" cy="67.12" r="0.89"/><circle cx="382.47" cy="82.82" r="0.62"/><circle cx="354.41" cy="105.17" r="0.55"/><circle cx="359.38" cy="94.04" r="0.68"/><circle cx="365.05" cy="69.66" r="0.75"/><circle cx="349.42" cy="112.93" r="0.52"/><circle cx="398.41" cy="85.76" r="0.45"/><circle cx="358.53" cy="81.49" r="0.52"/><circle cx="370.76" cy="91.18" r="0.76"/><circle cx="368.85" cy="71.8" r="0.88"/><circle cx="362.48" cy="62.87" r="0.79"/><circle cx="398.04" cy="106.46" r="0.83"/><circle cx="378.11" cy="70.39" r="0.5"/><circle cx="388.01" cy="102.68" r="0.71"/><circle cx="350.39" cy="94.41" r="0.91"/><circle cx="337.73" cy="77.83" r="0.71"/><circle cx="348.75" cy="100.91" r="0.51"/><circle cx="339.9" cy="72.94" r="0.42"/><circle cx="358.99" cy="89.84" r="0.93"/><circle cx="363.63" cy="110.26" r="0.44"/><circle cx="355.77" cy="111.11" r="0.58"/><circle cx="331.17" cy="66.36" r="0.77"/><circle cx="376.73" cy="95.8" r="0.86"/><circle cx="389.8" cy="106.71" r="0.81"/><circle cx="350.74" cy="86.17" r="0.77"/><circle cx="361.77" cy="66.82" r="0.59"/><circle cx="358.05" cy="77.83" r="0.44"/><circle cx="370.58" cy="74.68" r="0.74"/><circle cx="353.81" cy="97.64" r="0.85"/><circle cx="367.7" cy="79.55" r="0.77"/><circle cx="349.96" cy="101.66" r="0.92"/><circle cx="388" cy="92.67" r="0.9"/><circle cx="368.08" cy="96.09" r="0.41"/><circle cx="356.57" cy="77.91" r="0.42"/><circle cx="333.64" cy="93.48" r="0.5"/><circle cx="359.46" cy="109.05" r="0.43"/><circle cx="351.13" cy="93.02" r="0.8"/></g><g fill="#12062a" opacity="0.6"><circle cx="359.51" cy="90.59" r="1.49"/><circle cx="345.6" cy="78.56" r="0.82"/><circle cx="342" cy="70.33" r="0.93"/><circle cx="365.82" cy="107.6" r="1.35"/><circle cx="357.71" cy="85.39" r="1.35"/><circle cx="354.57" cy="72.8" r="1.47"/><circle cx="372.03" cy="74.26" r="0.86"/><circle cx="340.68" cy="106.44" r="0.89"/><circle cx="372.52" cy="106.84" r="0.83"/><circle cx="358.15" cy="88.14" r="1.53"/><circle cx="346.32" cy="79.82" r="1"/><circle cx="337.95" cy="95.6" r="1.45"/><circle cx="361.18" cy="71.44" r="1.37"/><circle cx="379.22" cy="94.83" r="1.06"/><circle cx="384.83" cy="93.96" r="1.27"/><circle cx="367.43" cy="78.86" r="1.16"/><circle cx="382.64" cy="95.98" r="1.08"/><circle cx="384.18" cy="101.9" r="0.83"/><circle cx="344.44" cy="78.48" r="0.81"/><circle cx="380.21" cy="94.58" r="1.23"/><circle cx="394.68" cy="83.55" r="0.96"/><circle cx="341.69" cy="82.92" r="1.47"/><circle cx="371.4" cy="72.25" r="1.15"/><circle cx="337.88" cy="93.68" r="0.9"/><circle cx="345.77" cy="94.41" r="1.47"/><circle cx="372.18" cy="81.16" r="1.32"/><circle cx="351.32" cy="70.26" r="1.02"/><circle cx="376.29" cy="93.81" r="0.95"/><circle cx="385.44" cy="101.57" r="1.02"/><circle cx="392.66" cy="79.98" r="0.85"/></g></g>
<g mask="url(#dgm)"><rect x="365" y="55" width="70" height="60" fill="#28b828"/><g filter="url(#b4)"><ellipse cx="414" cy="76" rx="14" ry="9" transform="rotate(-40 414 76)" fill="#5cff5c"/></g><rect x="365" y="55" width="70" height="60" fill="#000" filter="url(#speckgd)" opacity="0.55"/></g>
<g filter="url(#b0_6)"><path d="M388,53.7 Q397,48 402,42 L404,36 L408,36 Q409,46 418,50.5 Q410,54 405,62 Q398,56 388,53.7 Z" fill="#3030ff"/></g>
<path d="M457,37 Q450,60 442,88 Q434,108 418,120" fill="none" stroke="#2c2cc8" stroke-width="1.2" opacity="0.8"/>
<path d="M332,110 Q345,113 360,118 Q375,122 392,121" fill="none" stroke="#2a36c8" stroke-width="1.1" opacity="0.7"/>
</g>
<rect x="401.3" y="34.1" width="8.5" height="31.4" fill="none" stroke="#fff" stroke-width="0.8" stroke-dasharray="1.8,1.4"/>
<text x="349.6" y="48.6" font-size="10.6" fill="#fff">Fiber tract</text>
<text x="413.2" y="111.3" font-size="12" fill="#fff">SN</text>
<line x1="451" y1="118.7" x2="457.6" y2="118.7" stroke="#fff" stroke-width="1.6"/>
<g clip-path="url(#cer)">
<rect x="331.6" y="176.1" width="130.2" height="85.4" fill="#0b0b34"/>
<rect x="331.6" y="176.1" width="130.2" height="85.4" fill="#000" filter="url(#speck2)" opacity="0.6"/>
<g filter="url(#b2_5)"><path d="M330,240 Q352,240 372,246 Q388,250 400,262 L330,264 Z" fill="#000" opacity="0.95"/></g>
<g mask="url(#emm)"><rect x="330" y="185" width="75" height="65" fill="#5e2088" opacity="0.9"/><g fill="#c640dc" opacity="0.9"><circle cx="374.76" cy="187.6" r="0.57"/><circle cx="345.62" cy="233.13" r="0.81"/><circle cx="392.45" cy="191.56" r="0.65"/><circle cx="332.09" cy="199.99" r="0.7"/><circle cx="331.86" cy="198.73" r="0.79"/><circle cx="368.15" cy="200.11" r="0.75"/><circle cx="386.66" cy="186.42" r="0.88"/><circle cx="378.87" cy="207.78" r="0.49"/><circle cx="397" cy="207.54" r="0.46"/><circle cx="336.77" cy="240.24" r="0.76"/><circle cx="386.5" cy="232.7" r="0.72"/><circle cx="398.12" cy="210.23" r="0.73"/><circle cx="388.06" cy="225.59" r="0.92"/><circle cx="370.41" cy="231.09" r="0.43"/><circle cx="345.95" cy="204.52" r="0.45"/><circle cx="346.3" cy="192.46" r="0.57"/><circle cx="374.5" cy="209.35" r="0.62"/><circle cx="344.67" cy="203.09" r="0.96"/><circle cx="375.36" cy="224.98" r="0.5"/><circle cx="381.04" cy="196.46" r="0.63"/><circle cx="399.27" cy="226.96" r="0.73"/><circle cx="377.92" cy="239.94" r="0.87"/><circle cx="346.03" cy="188.05" r="0.59"/><circle cx="348.74" cy="199.5" r="0.97"/><circle cx="391.35" cy="206.14" r="0.79"/><circle cx="357.69" cy="244.53" r="0.68"/><circle cx="348.54" cy="201.78" r="0.74"/><circle cx="348.39" cy="223.41" r="0.94"/><circle cx="357.96" cy="200.04" r="1"/><circle cx="365.67" cy="191.82" r="0.43"/><circle cx="337.68" cy="226.16" r="0.88"/><circle cx="359.55" cy="190.07" r="0.63"/><circle cx="399.73" cy="219.86" r="0.98"/><circle cx="390.25" cy="186.73" r="0.83"/><circle cx="377.72" cy="220.37" r="0.56"/><circle cx="374.87" cy="193.14" r="0.66"/><circle cx="361.76" cy="247.04" r="0.93"/><circle cx="348.44" cy="218.04" r="0.51"/><circle cx="393.88" cy="241.71" r="0.58"/><circle cx="374.73" cy="224.97" r="0.49"/><circle cx="383.38" cy="220.52" r="0.87"/><circle cx="367.12" cy="186.04" r="0.59"/><circle cx="331.36" cy="245.46" r="0.93"/><circle cx="388.22" cy="205.68" r="0.43"/><circle cx="391.46" cy="246.6" r="0.45"/><circle cx="364.02" cy="190.43" r="0.86"/><circle cx="383.61" cy="194.22" r="0.69"/><circle cx="368.49" cy="202.96" r="0.92"/><circle cx="359.62" cy="199.56" r="0.72"/><circle cx="381.1" cy="198.87" r="0.59"/><circle cx="399.66" cy="227.59" r="0.66"/><circle cx="366.23" cy="193.74" r="0.53"/><circle cx="353.67" cy="223.65" r="0.54"/><circle cx="345.42" cy="190.54" r="0.78"/><circle cx="346.03" cy="243.95" r="0.92"/><circle cx="334.96" cy="201.23" r="0.8"/><circle cx="345" cy="194.47" r="0.96"/><circle cx="369.97" cy="216.25" r="0.87"/><circle cx="386.52" cy="198.19" r="0.46"/><circle cx="360.17" cy="213.11" r="0.68"/><circle cx="381.04" cy="229.1" r="0.99"/><circle cx="336.89" cy="211.77" r="0.6"/><circle cx="390.32" cy="201.91" r="0.51"/><circle cx="361.4" cy="213" r="0.57"/><circle cx="347.49" cy="245.09" r="0.67"/><circle cx="390.29" cy="221.22" r="0.43"/><circle cx="399.95" cy="239.51" r="0.98"/><circle cx="394.85" cy="240.32" r="0.5"/><circle cx="363.99" cy="199.68" r="0.64"/><circle cx="334.1" cy="210.25" r="0.99"/><circle cx="348.56" cy="236.18" r="0.67"/><circle cx="359.61" cy="247.27" r="1"/><circle cx="368.9" cy="231.98" r="0.49"/><circle cx="350.77" cy="248" r="0.75"/><circle cx="367.95" cy="233.87" r="0.43"/><circle cx="370.89" cy="218.18" r="0.91"/><circle cx="341.02" cy="247.49" r="0.45"/><circle cx="343.01" cy="224.08" r="0.81"/><circle cx="346.46" cy="193.67" r="0.93"/><circle cx="347.24" cy="224.05" r="0.77"/><circle cx="359.35" cy="223.36" r="0.71"/><circle cx="395.43" cy="199.07" r="0.83"/><circle cx="346.71" cy="211.33" r="0.8"/><circle cx="351" cy="206.24" r="0.85"/><circle cx="335.08" cy="215.33" r="1"/><circle cx="399.73" cy="190.69" r="0.53"/><circle cx="348.56" cy="245.73" r="0.93"/><circle cx="391.55" cy="209.65" r="0.49"/><circle cx="388.36" cy="231.03" r="0.77"/><circle cx="399.11" cy="227.85" r="0.4"/><circle cx="387.2" cy="205.16" r="0.8"/><circle cx="395.73" cy="194.59" r="0.47"/><circle cx="337.49" cy="221.41" r="0.56"/><circle cx="372.34" cy="231.93" r="0.52"/><circle cx="374.4" cy="202.89" r="0.69"/><circle cx="393.37" cy="240.15" r="0.46"/><circle cx="359.65" cy="203.71" r="0.4"/><circle cx="383.98" cy="226.78" r="0.56"/><circle cx="381.89" cy="221.31" r="0.66"/><circle cx="330.68" cy="190.82" r="0.93"/><circle cx="393.28" cy="220.92" r="0.9"/><circle cx="370.78" cy="195.48" r="0.48"/><circle cx="351.58" cy="243.53" r="0.88"/><circle cx="390.25" cy="243.53" r="0.53"/><circle cx="347.47" cy="192.58" r="0.87"/><circle cx="391.89" cy="212.01" r="0.77"/><circle cx="340.82" cy="245.51" r="0.92"/><circle cx="398.33" cy="237.89" r="0.93"/><circle cx="331.74" cy="233.14" r="0.6"/><circle cx="395.16" cy="237.34" r="0.92"/><circle cx="386.75" cy="203.08" r="0.87"/><circle cx="337.57" cy="241.82" r="0.92"/><circle cx="345.57" cy="238.26" r="0.68"/><circle cx="351.36" cy="236.9" r="0.54"/><circle cx="331.66" cy="198.36" r="0.6"/><circle cx="390.5" cy="247.88" r="0.57"/><circle cx="374.9" cy="211.58" r="0.99"/><circle cx="367.54" cy="246.11" r="0.47"/><circle cx="397.93" cy="197.43" r="0.98"/><circle cx="348.58" cy="192.94" r="0.66"/><circle cx="381" cy="206.08" r="0.76"/><circle cx="365.8" cy="210.65" r="0.75"/><circle cx="347.83" cy="231.36" r="0.4"/><circle cx="394.79" cy="220.46" r="0.83"/><circle cx="381.94" cy="228.92" r="0.62"/><circle cx="334.9" cy="228.51" r="0.6"/><circle cx="351.97" cy="240.27" r="0.83"/><circle cx="351.02" cy="205.79" r="0.65"/><circle cx="358.17" cy="204.92" r="0.48"/><circle cx="359.43" cy="246.18" r="0.81"/><circle cx="393.2" cy="225.39" r="0.58"/><circle cx="368.36" cy="186.03" r="0.57"/><circle cx="360.09" cy="223.12" r="0.79"/><circle cx="362.55" cy="214.3" r="0.53"/><circle cx="363.12" cy="243.68" r="0.88"/><circle cx="341.88" cy="191.43" r="0.71"/><circle cx="374.31" cy="207.45" r="0.89"/><circle cx="382.58" cy="229.06" r="0.53"/><circle cx="343.94" cy="187.56" r="0.55"/><circle cx="363.26" cy="240.38" r="0.44"/><circle cx="359.01" cy="226.3" r="0.52"/><circle cx="378.74" cy="217.64" r="0.55"/><circle cx="375.92" cy="186.35" r="0.85"/><circle cx="383.9" cy="192.82" r="0.66"/><circle cx="342.31" cy="247.31" r="0.71"/><circle cx="333.52" cy="201.95" r="0.91"/><circle cx="361.95" cy="237.29" r="0.8"/><circle cx="399.15" cy="224.11" r="0.97"/><circle cx="392.4" cy="225.21" r="0.83"/><circle cx="365.33" cy="239.16" r="0.73"/><circle cx="392.8" cy="233.59" r="0.68"/><circle cx="348.14" cy="201.82" r="0.78"/><circle cx="383.61" cy="219.36" r="0.78"/><circle cx="349.22" cy="190.96" r="0.57"/><circle cx="349.02" cy="206.46" r="0.72"/><circle cx="339.69" cy="200.8" r="0.82"/><circle cx="379.45" cy="190.11" r="0.64"/><circle cx="367.98" cy="212.61" r="0.52"/><circle cx="359.41" cy="243.91" r="0.75"/><circle cx="378.69" cy="240.83" r="0.86"/><circle cx="356.63" cy="186.38" r="0.61"/><circle cx="382.74" cy="240.62" r="0.97"/><circle cx="359.33" cy="233.84" r="0.73"/><circle cx="372.23" cy="200.11" r="0.53"/><circle cx="360.51" cy="187.86" r="0.6"/><circle cx="377.54" cy="211.88" r="0.5"/><circle cx="362.72" cy="194.17" r="0.77"/><circle cx="331.89" cy="211.22" r="0.74"/><circle cx="331.9" cy="227.14" r="0.48"/><circle cx="362.32" cy="189.22" r="0.63"/><circle cx="344.82" cy="206.92" r="0.86"/><circle cx="356.54" cy="234.13" r="0.9"/><circle cx="347.66" cy="191.24" r="0.41"/><circle cx="367.76" cy="249.99" r="0.61"/><circle cx="375.51" cy="236" r="0.79"/><circle cx="382.8" cy="246.78" r="0.52"/><circle cx="331.43" cy="195.75" r="0.48"/><circle cx="376.86" cy="222.09" r="0.53"/><circle cx="378.96" cy="235.08" r="0.5"/><circle cx="372.51" cy="233.87" r="0.47"/><circle cx="387.35" cy="247.74" r="0.46"/><circle cx="331.8" cy="205.97" r="0.81"/><circle cx="397.07" cy="211.39" r="0.83"/><circle cx="335.32" cy="230.2" r="0.78"/><circle cx="337.13" cy="235.44" r="0.91"/><circle cx="372.03" cy="193.75" r="0.99"/><circle cx="384.78" cy="208.22" r="0.66"/><circle cx="355.94" cy="218.38" r="0.6"/><circle cx="389.47" cy="238.63" r="0.46"/><circle cx="397.26" cy="226.68" r="0.9"/><circle cx="379.51" cy="213.87" r="0.84"/><circle cx="397.58" cy="203.29" r="0.88"/><circle cx="367.67" cy="216.94" r="0.66"/><circle cx="381.17" cy="203.18" r="0.91"/><circle cx="388.15" cy="191.55" r="0.93"/><circle cx="347.07" cy="215.74" r="0.77"/><circle cx="356.53" cy="187.84" r="0.91"/><circle cx="342.73" cy="199.58" r="0.88"/><circle cx="353.82" cy="242.34" r="0.82"/><circle cx="349.34" cy="186.65" r="0.97"/><circle cx="335.99" cy="232.08" r="0.69"/><circle cx="383.07" cy="230.2" r="0.79"/><circle cx="364.36" cy="236.75" r="0.46"/><circle cx="345.51" cy="230.27" r="0.58"/><circle cx="370.71" cy="216.29" r="0.72"/><circle cx="359.79" cy="233.74" r="0.6"/><circle cx="379.2" cy="203.34" r="0.55"/><circle cx="338.45" cy="198.33" r="0.47"/><circle cx="367.51" cy="234.78" r="0.51"/><circle cx="345.15" cy="216.99" r="0.83"/><circle cx="398.36" cy="219.58" r="0.57"/><circle cx="337.04" cy="198.42" r="0.54"/><circle cx="342.56" cy="186.91" r="0.72"/><circle cx="349.2" cy="248.35" r="0.73"/><circle cx="378.82" cy="194.08" r="0.92"/><circle cx="364.36" cy="241.85" r="0.74"/><circle cx="362.86" cy="214.19" r="0.51"/><circle cx="333.6" cy="246.23" r="0.69"/><circle cx="387.55" cy="211.65" r="0.44"/><circle cx="374.06" cy="189.43" r="0.49"/><circle cx="369.4" cy="205.45" r="1"/><circle cx="338.29" cy="234.92" r="0.76"/><circle cx="385.35" cy="200.44" r="0.71"/><circle cx="361.54" cy="214.33" r="0.92"/><circle cx="399.3" cy="205.54" r="0.77"/><circle cx="372.67" cy="233.37" r="0.97"/><circle cx="344.55" cy="199.51" r="0.8"/><circle cx="340.99" cy="197.12" r="0.45"/><circle cx="330.19" cy="214.83" r="0.76"/><circle cx="350.39" cy="200.81" r="0.82"/><circle cx="379.21" cy="215.06" r="0.81"/><circle cx="394.67" cy="236.42" r="0.78"/><circle cx="376.28" cy="245.75" r="0.66"/><circle cx="368.12" cy="227.45" r="0.95"/><circle cx="387.86" cy="190.57" r="0.5"/><circle cx="351.53" cy="233.93" r="0.74"/><circle cx="350.2" cy="193.96" r="0.81"/><circle cx="378.98" cy="246.33" r="0.7"/><circle cx="364.57" cy="191.15" r="0.42"/><circle cx="360.24" cy="206.63" r="0.55"/><circle cx="336.39" cy="247.56" r="0.9"/><circle cx="370.26" cy="246.85" r="1"/><circle cx="377.06" cy="203.25" r="0.42"/><circle cx="382.94" cy="216.11" r="0.79"/><circle cx="394.13" cy="197.62" r="0.75"/><circle cx="374.43" cy="217.47" r="0.45"/><circle cx="354.36" cy="207.33" r="0.8"/><circle cx="390.04" cy="207.11" r="0.82"/><circle cx="350.18" cy="246.49" r="0.89"/><circle cx="368.51" cy="215.11" r="0.59"/><circle cx="352.63" cy="248.09" r="0.64"/><circle cx="366.02" cy="249.24" r="0.79"/><circle cx="367.98" cy="212.45" r="0.51"/><circle cx="355.32" cy="234.41" r="0.78"/><circle cx="383.2" cy="199.03" r="0.73"/><circle cx="394.94" cy="214.04" r="0.82"/><circle cx="338.5" cy="248.28" r="0.77"/><circle cx="346.75" cy="196.14" r="0.73"/><circle cx="368.66" cy="191.97" r="1"/><circle cx="393.91" cy="215.53" r="0.47"/><circle cx="388.25" cy="217.9" r="0.83"/><circle cx="365.62" cy="203.5" r="0.9"/><circle cx="398.62" cy="201.6" r="0.73"/><circle cx="356.85" cy="245" r="0.7"/><circle cx="391.55" cy="241.3" r="0.57"/><circle cx="385.3" cy="212.56" r="0.96"/><circle cx="365.54" cy="238.52" r="0.57"/><circle cx="350.9" cy="223.56" r="1"/><circle cx="364.27" cy="195.51" r="0.72"/><circle cx="354.16" cy="221.32" r="0.73"/><circle cx="361.87" cy="206.59" r="0.51"/><circle cx="378.82" cy="222.6" r="0.54"/><circle cx="384.29" cy="188.79" r="0.85"/><circle cx="379.37" cy="237.93" r="0.63"/><circle cx="376.46" cy="238.53" r="0.99"/><circle cx="364.67" cy="188.37" r="0.7"/><circle cx="371.31" cy="241.66" r="0.92"/><circle cx="360.82" cy="219.66" r="0.67"/><circle cx="380.57" cy="212.24" r="0.79"/><circle cx="340.81" cy="216.05" r="0.98"/><circle cx="353.7" cy="230.33" r="0.79"/><circle cx="389.62" cy="240.55" r="0.92"/><circle cx="356.6" cy="206.27" r="0.83"/><circle cx="383.16" cy="241.83" r="0.42"/><circle cx="334.79" cy="226.39" r="0.95"/><circle cx="399.82" cy="233.79" r="0.66"/><circle cx="336.89" cy="226.56" r="0.92"/><circle cx="361.06" cy="230.42" r="0.94"/><circle cx="333.22" cy="236.95" r="0.58"/><circle cx="356.24" cy="195.32" r="0.72"/><circle cx="369.61" cy="236.72" r="0.5"/><circle cx="335.53" cy="241.73" r="0.77"/><circle cx="346.86" cy="244.42" r="0.49"/><circle cx="362.28" cy="202.25" r="0.55"/><circle cx="330.66" cy="237.5" r="0.94"/><circle cx="377.43" cy="196.11" r="0.67"/><circle cx="354.19" cy="223.6" r="0.78"/><circle cx="359.7" cy="202.01" r="0.91"/><circle cx="343.95" cy="210.62" r="0.69"/><circle cx="346.6" cy="222.6" r="0.74"/><circle cx="399.49" cy="204.89" r="0.99"/><circle cx="376.08" cy="203.57" r="0.74"/><circle cx="378.01" cy="233.66" r="0.43"/><circle cx="372.45" cy="217.79" r="0.94"/><circle cx="350.03" cy="237.13" r="0.76"/><circle cx="354.66" cy="226.74" r="0.77"/><circle cx="377.44" cy="232.14" r="0.8"/><circle cx="388.68" cy="226.21" r="0.94"/><circle cx="375.24" cy="205.77" r="0.66"/><circle cx="370.57" cy="232.87" r="0.45"/><circle cx="350.66" cy="233.84" r="0.51"/><circle cx="339.25" cy="220.52" r="0.98"/><circle cx="367.16" cy="244.46" r="0.9"/><circle cx="347.99" cy="238.78" r="0.69"/><circle cx="386.45" cy="233.78" r="0.6"/><circle cx="338.06" cy="247.63" r="0.48"/><circle cx="397.66" cy="241.05" r="0.83"/><circle cx="398.6" cy="247.91" r="0.88"/><circle cx="355.6" cy="236.6" r="0.41"/><circle cx="367.56" cy="215.11" r="0.8"/><circle cx="377.06" cy="223.41" r="0.89"/><circle cx="395.82" cy="192.93" r="0.54"/><circle cx="331.75" cy="242.59" r="0.74"/><circle cx="394.07" cy="200.17" r="0.44"/><circle cx="387.67" cy="244.2" r="0.58"/><circle cx="358.58" cy="194.95" r="0.97"/><circle cx="351.31" cy="217.53" r="0.46"/><circle cx="392.11" cy="194.68" r="0.67"/><circle cx="376.93" cy="233.56" r="0.97"/><circle cx="359.34" cy="233.51" r="0.49"/><circle cx="359.04" cy="192.34" r="0.69"/><circle cx="358.57" cy="246.9" r="0.42"/><circle cx="355.94" cy="214.38" r="0.97"/><circle cx="389.88" cy="192.36" r="0.81"/><circle cx="368.11" cy="248.58" r="0.62"/><circle cx="357.87" cy="198.15" r="0.47"/><circle cx="389.36" cy="215.1" r="0.8"/><circle cx="374.92" cy="224.22" r="0.41"/><circle cx="385.08" cy="201.59" r="0.48"/><circle cx="369.52" cy="190.39" r="0.86"/><circle cx="344.5" cy="199.82" r="0.92"/><circle cx="353" cy="195.44" r="0.94"/><circle cx="330.2" cy="240.94" r="0.49"/><circle cx="339.1" cy="202.04" r="0.5"/><circle cx="376.27" cy="187.65" r="0.41"/><circle cx="385.3" cy="201.23" r="0.59"/><circle cx="342.2" cy="189.35" r="0.85"/><circle cx="366.83" cy="233.72" r="0.69"/><circle cx="384.46" cy="218.85" r="0.47"/><circle cx="365.27" cy="246.51" r="0.43"/><circle cx="384.83" cy="241.49" r="0.71"/><circle cx="362.06" cy="247.7" r="0.44"/><circle cx="363.53" cy="211.7" r="0.81"/><circle cx="364.32" cy="244.22" r="0.44"/><circle cx="335.66" cy="224.93" r="0.44"/><circle cx="349.25" cy="226.52" r="0.73"/><circle cx="352.76" cy="249.66" r="0.72"/><circle cx="361.76" cy="224.75" r="0.46"/><circle cx="379.12" cy="240.58" r="0.79"/><circle cx="383.83" cy="232.13" r="0.53"/><circle cx="361.61" cy="200.62" r="0.6"/><circle cx="361.74" cy="212.62" r="0.46"/><circle cx="359.87" cy="228.57" r="0.62"/><circle cx="340.68" cy="245.07" r="0.44"/><circle cx="388.22" cy="191.97" r="0.46"/><circle cx="381.72" cy="237.95" r="0.73"/><circle cx="371.05" cy="221.94" r="0.6"/><circle cx="338.56" cy="208.63" r="0.8"/><circle cx="382.52" cy="241.56" r="0.83"/><circle cx="397.79" cy="224.43" r="0.61"/><circle cx="370.45" cy="199.62" r="0.79"/><circle cx="345.7" cy="192.93" r="0.91"/><circle cx="355.73" cy="234.81" r="0.74"/><circle cx="386.51" cy="240.09" r="0.98"/><circle cx="387.29" cy="225.27" r="0.79"/><circle cx="331.84" cy="245.46" r="0.9"/><circle cx="348.72" cy="197.55" r="0.82"/><circle cx="351.63" cy="207.75" r="0.4"/><circle cx="390.89" cy="222.24" r="0.64"/><circle cx="339.93" cy="226.52" r="0.42"/><circle cx="382.23" cy="199.77" r="0.65"/><circle cx="353.86" cy="209.68" r="0.83"/><circle cx="384.38" cy="222.33" r="0.45"/><circle cx="333.68" cy="196.07" r="0.77"/><circle cx="377.18" cy="203.41" r="0.8"/><circle cx="364" cy="214.29" r="0.56"/><circle cx="382.85" cy="193.28" r="0.66"/><circle cx="349.83" cy="229.42" r="0.69"/><circle cx="376.7" cy="188.91" r="0.64"/><circle cx="371.95" cy="186.49" r="0.58"/><circle cx="344.79" cy="194.78" r="0.55"/><circle cx="352.97" cy="186.49" r="0.85"/><circle cx="342.3" cy="210.33" r="0.82"/><circle cx="365.02" cy="239.33" r="0.88"/><circle cx="335.05" cy="241.15" r="0.43"/><circle cx="331.31" cy="244.95" r="0.92"/><circle cx="370.3" cy="222.7" r="0.83"/><circle cx="359.24" cy="193.37" r="0.41"/><circle cx="352.73" cy="237.28" r="0.77"/><circle cx="388.24" cy="244.87" r="0.45"/><circle cx="389.11" cy="201.57" r="0.75"/><circle cx="366.68" cy="211.33" r="0.59"/><circle cx="353.77" cy="207.32" r="0.5"/><circle cx="365.73" cy="193.3" r="0.71"/><circle cx="393.41" cy="208.36" r="0.84"/><circle cx="387.33" cy="238.16" r="0.54"/><circle cx="340.25" cy="198.63" r="0.76"/><circle cx="383.22" cy="227.95" r="0.51"/><circle cx="384.1" cy="217.62" r="0.85"/><circle cx="383.19" cy="214.73" r="0.95"/><circle cx="369.51" cy="226.66" r="0.77"/><circle cx="390.5" cy="226.14" r="0.49"/><circle cx="334.78" cy="214.3" r="0.58"/><circle cx="349.23" cy="189.6" r="0.7"/><circle cx="351.73" cy="214.92" r="0.43"/><circle cx="388.22" cy="190.91" r="0.92"/><circle cx="389.87" cy="225.36" r="0.7"/><circle cx="362.39" cy="221.48" r="0.88"/><circle cx="392.71" cy="214.78" r="0.89"/><circle cx="375.63" cy="206.58" r="0.69"/><circle cx="340.56" cy="189.96" r="0.46"/><circle cx="392.94" cy="207.98" r="0.83"/><circle cx="365.32" cy="197.04" r="0.55"/><circle cx="360.64" cy="214.12" r="0.71"/><circle cx="341.11" cy="209.86" r="0.57"/><circle cx="358.61" cy="207.66" r="0.76"/><circle cx="385.25" cy="227.43" r="0.44"/><circle cx="336.62" cy="229.42" r="0.57"/><circle cx="380.66" cy="228.02" r="0.94"/><circle cx="391.13" cy="207.34" r="0.75"/><circle cx="339.9" cy="208.39" r="0.98"/><circle cx="378.89" cy="211.09" r="0.76"/><circle cx="395.66" cy="205.81" r="0.63"/><circle cx="385.42" cy="238.04" r="0.8"/><circle cx="388.03" cy="233.28" r="0.81"/><circle cx="366.85" cy="227.35" r="0.65"/><circle cx="355.33" cy="209.21" r="0.51"/><circle cx="344.99" cy="246.65" r="0.69"/><circle cx="345.86" cy="194.8" r="0.45"/><circle cx="389.11" cy="192.47" r="0.86"/><circle cx="388.46" cy="242.56" r="0.42"/><circle cx="353.57" cy="235.04" r="0.48"/><circle cx="356.37" cy="196.38" r="0.9"/><circle cx="383.98" cy="237.78" r="0.5"/><circle cx="360.64" cy="212.29" r="0.81"/><circle cx="346.63" cy="214.43" r="0.57"/><circle cx="382.4" cy="214.73" r="0.72"/><circle cx="351.66" cy="237.75" r="0.68"/><circle cx="388.46" cy="209.54" r="0.97"/><circle cx="398.91" cy="215.55" r="0.57"/><circle cx="356.73" cy="219.76" r="0.98"/><circle cx="387.18" cy="237.28" r="0.48"/><circle cx="347.5" cy="227.04" r="0.92"/><circle cx="368.82" cy="192.57" r="0.91"/><circle cx="389.58" cy="204.24" r="0.86"/><circle cx="349.1" cy="243.94" r="0.49"/><circle cx="360.62" cy="246.57" r="0.53"/><circle cx="361.58" cy="208.37" r="0.42"/><circle cx="333.73" cy="218.13" r="0.54"/><circle cx="399.62" cy="209.99" r="0.42"/><circle cx="395.16" cy="239.71" r="0.79"/><circle cx="385.4" cy="194.81" r="0.57"/><circle cx="388.08" cy="230.55" r="0.48"/><circle cx="379.39" cy="214.71" r="0.4"/><circle cx="335.55" cy="202.38" r="0.9"/><circle cx="368.42" cy="232.54" r="0.72"/><circle cx="337.78" cy="204.44" r="0.58"/><circle cx="333.34" cy="212.87" r="0.88"/><circle cx="362" cy="193.09" r="0.94"/><circle cx="371.77" cy="187.05" r="0.71"/><circle cx="346.94" cy="195.19" r="0.66"/><circle cx="373.04" cy="201.4" r="0.65"/><circle cx="376.51" cy="191.48" r="0.98"/><circle cx="334.74" cy="219.67" r="0.7"/><circle cx="399.18" cy="221.47" r="0.63"/><circle cx="362.91" cy="226.68" r="0.99"/><circle cx="347.76" cy="187.04" r="0.87"/><circle cx="354.14" cy="232.91" r="0.78"/><circle cx="384.01" cy="233.05" r="0.6"/><circle cx="333.1" cy="220.94" r="0.89"/><circle cx="342.26" cy="235.87" r="0.68"/><circle cx="378.68" cy="226.43" r="0.89"/><circle cx="334.42" cy="235.68" r="0.67"/><circle cx="350.54" cy="188.8" r="0.52"/><circle cx="332.93" cy="245.74" r="0.71"/><circle cx="399.24" cy="220.75" r="0.55"/><circle cx="382.73" cy="198.23" r="0.61"/><circle cx="384.66" cy="241.41" r="0.6"/><circle cx="338.71" cy="209.55" r="0.93"/><circle cx="382.03" cy="243.26" r="0.63"/><circle cx="398.16" cy="217.76" r="0.7"/><circle cx="394.7" cy="219.23" r="0.88"/><circle cx="380.9" cy="191.05" r="0.76"/><circle cx="387.56" cy="220.91" r="0.59"/><circle cx="335.6" cy="228.3" r="0.58"/><circle cx="372.18" cy="213.27" r="0.81"/><circle cx="354.61" cy="188.71" r="0.92"/><circle cx="354.68" cy="249.88" r="0.56"/><circle cx="398.6" cy="246.67" r="0.45"/><circle cx="374.63" cy="209.25" r="0.88"/><circle cx="377.56" cy="246.98" r="0.49"/><circle cx="372.53" cy="236" r="0.42"/><circle cx="334.71" cy="235.82" r="0.62"/><circle cx="356.8" cy="222.3" r="0.76"/><circle cx="377.53" cy="246.72" r="0.62"/><circle cx="383.42" cy="222.73" r="0.72"/><circle cx="357.86" cy="227.57" r="0.55"/><circle cx="337.94" cy="233.08" r="0.7"/><circle cx="357.09" cy="221.95" r="0.56"/><circle cx="348.22" cy="214.56" r="1"/><circle cx="349.99" cy="244.65" r="0.69"/><circle cx="338.58" cy="240.58" r="0.67"/><circle cx="392.91" cy="214.49" r="0.45"/><circle cx="377.74" cy="240.11" r="0.59"/><circle cx="354.32" cy="190.16" r="0.73"/><circle cx="392.39" cy="240.49" r="0.83"/><circle cx="394.91" cy="226.81" r="0.88"/><circle cx="365.61" cy="193.77" r="0.52"/><circle cx="339.72" cy="236.58" r="0.42"/><circle cx="368.78" cy="209.61" r="0.88"/><circle cx="368.62" cy="225.16" r="0.45"/><circle cx="351.65" cy="249.97" r="0.83"/><circle cx="366.8" cy="235.23" r="0.89"/><circle cx="335.16" cy="248.23" r="0.79"/><circle cx="361.5" cy="229.53" r="0.61"/><circle cx="391.46" cy="235.94" r="0.78"/><circle cx="342.74" cy="247.84" r="0.66"/><circle cx="393.75" cy="189.55" r="0.47"/><circle cx="340.71" cy="196.54" r="0.59"/><circle cx="379.65" cy="208.15" r="0.96"/><circle cx="392.64" cy="240.14" r="0.55"/><circle cx="374.45" cy="221.25" r="0.48"/><circle cx="351.2" cy="220.14" r="0.7"/><circle cx="341.8" cy="246.26" r="0.49"/><circle cx="376.11" cy="232.12" r="0.76"/><circle cx="388.98" cy="222.07" r="0.9"/><circle cx="331.99" cy="188.91" r="0.78"/><circle cx="370.37" cy="227.67" r="0.86"/><circle cx="359.16" cy="226.9" r="0.7"/><circle cx="373.9" cy="204.54" r="0.97"/><circle cx="363.81" cy="237.5" r="0.81"/><circle cx="350.82" cy="190.67" r="0.44"/><circle cx="360.77" cy="216.99" r="0.52"/><circle cx="372.47" cy="206.01" r="0.83"/><circle cx="381.39" cy="241.09" r="0.99"/><circle cx="339.15" cy="209.71" r="0.74"/><circle cx="352.34" cy="215.85" r="0.56"/><circle cx="347.35" cy="192.2" r="0.57"/><circle cx="356.89" cy="225.38" r="0.55"/><circle cx="390.57" cy="196.22" r="0.6"/><circle cx="370.44" cy="206.01" r="0.86"/><circle cx="364.88" cy="218.94" r="0.7"/><circle cx="351.6" cy="187.48" r="0.97"/><circle cx="365.38" cy="247.87" r="0.53"/><circle cx="354.7" cy="189.23" r="0.7"/><circle cx="391.76" cy="227.87" r="0.68"/><circle cx="367.57" cy="240.22" r="0.66"/><circle cx="391.77" cy="232.56" r="0.86"/><circle cx="355.62" cy="211.64" r="0.74"/><circle cx="343.63" cy="221.41" r="0.44"/></g><g fill="#1a0830" opacity="0.7"><circle cx="346.73" cy="224.37" r="0.94"/><circle cx="365.81" cy="223.51" r="1.59"/><circle cx="365.39" cy="217.44" r="0.82"/><circle cx="364.46" cy="213.03" r="1.65"/><circle cx="369.61" cy="226.44" r="1.23"/><circle cx="352.93" cy="229.78" r="1.62"/><circle cx="361.91" cy="203.35" r="1.31"/><circle cx="367.32" cy="227.03" r="1.4"/><circle cx="367.8" cy="220.13" r="1.18"/><circle cx="347.2" cy="202.14" r="1.74"/><circle cx="382.76" cy="210.37" r="1.69"/><circle cx="368.5" cy="203.61" r="1.66"/><circle cx="371.3" cy="232.65" r="1.48"/><circle cx="349.23" cy="221.8" r="1.59"/><circle cx="385.45" cy="211.59" r="1.33"/><circle cx="376.55" cy="205.84" r="1.65"/><circle cx="380.14" cy="201.75" r="1.39"/><circle cx="361.56" cy="206.51" r="1.4"/><circle cx="388.61" cy="219.32" r="0.91"/><circle cx="367.27" cy="227.27" r="1.76"/><circle cx="377.18" cy="201.45" r="1.77"/><circle cx="372.08" cy="202.93" r="0.93"/><circle cx="348.88" cy="223.27" r="0.95"/><circle cx="381.34" cy="203.81" r="1.34"/><circle cx="364.94" cy="201.33" r="0.8"/></g></g>
<g mask="url(#egm2)"><rect x="370" y="200" width="80" height="55" fill="#2cbc2c"/><g filter="url(#b4)"><ellipse cx="415" cy="230" rx="16" ry="8" transform="rotate(-33 415 230)" fill="#5cff5c"/></g><rect x="370" y="200" width="80" height="55" fill="#000" filter="url(#speckgd)" opacity="0.55"/></g>
<g filter="url(#b1)"><rect x="406" y="196" width="8" height="7" fill="#3434c8" opacity="0.8"/></g>
<path d="M458,200 Q452,222 448,240 Q440,256 425,262" fill="none" stroke="#2c2cc8" stroke-width="1.2" opacity="0.8"/>
</g>
<rect x="405.3" y="174.1" width="9.4" height="35.3" fill="none" stroke="#fff" stroke-width="0.8" stroke-dasharray="1.8,1.4"/>
<text x="349.6" y="186.4" font-size="10.6" fill="#fff">Fiber tract</text>
<text x="413.2" y="249.5" font-size="12" fill="#fff">SN</text>
<line x1="451" y1="258.9" x2="457.6" y2="258.9" stroke="#fff" stroke-width="1.6"/>
<text x="500.3" y="16" font-size="11.75" fill="#231f20">Sample <tspan font-style="italic">Kremen1</tspan><tspan font-size="7" dy="-4.5">+</tspan><tspan dy="4.5"> axonal recording</tspan></text>
<line x1="536.5" y1="32.2" x2="543.8" y2="32.2" stroke="#72c85f" stroke-width="1.2"/>
<text x="551.2" y="36" font-size="10.4" fill="#231f20">GCaMP</text>
<line x1="592" y1="32.4" x2="598.4" y2="32.4" stroke="#93319e" stroke-width="1.2"/>
<text x="599.5" y="36" font-size="10.4" fill="#231f20">UV</text>
<polyline points="487.5,65.94 488.36,64.21 489.21,66.67 490.07,65.7 490.92,61.19 491.78,53.3 492.64,50.72 493.49,49.21 494.35,45.32 495.2,47.2 496.06,47.1 496.92,47.42 497.77,45.22 498.63,45.15 499.48,44.4 500.34,46.72 501.2,46.27 502.05,54.86 502.91,59.87 503.76,63.92 504.62,65.13 505.48,64.9 506.33,64.18 507.19,61.89 508.04,59.38 508.9,58.99 509.76,63.7 510.61,65.72 511.47,69.88 512.32,68.41 513.18,73.51 514.04,69.55 514.89,69.1 515.75,64.67 516.6,57.46 517.46,58.2 518.32,59.11 519.17,69.12 520.03,71.53 520.88,70.95 521.74,67.93 522.6,65.91 523.45,65.98 524.31,67.32 525.16,67.39 526.02,69.37 526.88,64.79 527.73,67.04 528.59,64.42 529.44,67.22 530.3,64.25 531.16,66.03 532.01,63.86 532.87,60.73 533.72,52.5 534.58,49.95 535.44,46.29 536.29,49.43 537.15,51.58 538,53.41 538.86,48.02 539.72,48.8 540.57,49.55 541.43,54.51 542.28,56.15 543.14,59.33 544,62.46 544.85,66.56 545.71,69.34 546.56,71.01 547.42,69.62 548.28,61.75 549.13,55.87 549.99,51.57 550.84,49.34 551.7,52.62 552.56,56.93 553.41,57.54 554.27,54.07 555.12,53.36 555.98,52.75 556.84,49.29 557.69,45.15 558.55,41.41 559.4,44.72 560.26,48.54 561.12,47.44 561.97,46.54 562.83,44.94 563.68,48.51 564.54,52.04 565.4,56.61 566.25,62.91 567.11,67.28 567.96,63.96 568.82,62.68 569.68,63.36 570.53,63.09 571.39,65.78 572.24,64.65 573.1,65.22 573.96,64.51 574.81,69.08 575.67,72.68 576.52,71.86 577.38,67.94 578.24,63.79 579.09,66.04 579.95,67.05 580.8,68.71 581.66,67.35 582.52,71.35 583.37,70.98 584.23,66.6 585.08,60.66 585.94,63.54 586.8,68.16 587.65,69.42 588.51,63.42 589.36,61.54 590.22,61.62 591.08,63.34 591.93,64.65 592.79,61.72 593.64,65.7 594.5,66.48 595.36,68.56 596.21,65.01 597.07,63.15 597.92,63.98 598.78,69.7 599.64,71.97 600.49,73.45 601.35,71.12 602.2,68.77 603.06,68.19 603.92,65.8 604.77,66.57 605.63,66.47 606.48,67.53 607.34,66.83 608.2,64.67 609.05,65.6 609.91,66.64 610.76,70.39 611.62,66.69 612.48,63.67 613.33,61.52 614.19,65.02 615.04,69.58 615.9,68.87 616.76,67.36 617.61,61.1 618.47,60.64 619.32,62.01 620.18,69.69 621.04,67.34 621.89,62.67 622.75,58.22 623.6,57.35 624.46,57.46 625.32,44.31 626.17,38.35 627.03,30.24 627.88,38.91 628.74,46.88 629.6,50.43 630.45,54.07 631.31,50.58 632.16,55.31 633.02,55.44 633.88,56.76 634.73,52.61 635.59,54.14 636.44,58.63 637.3,59.67 638.16,55.86 639.01,57.66 639.87,63.13 640.72,68.56 641.58,71.66 642.44,72.84 643.29,70.67 644.15,66.87 645,59.85 645.86,59.88 646.72,59.02 647.57,62.29 648.43,60.35 649.28,60.39 650.14,58.17 651,53.15 651.85,47.98 652.71,46.25 653.56,47.95 654.42,53.61 655.28,59.9 656.13,64.57 656.99,67.09 657.84,69.19 658.7,73.7" stroke="#72c85f" fill="none" stroke-width="0.75" stroke-linejoin="round"/>
<polyline points="487.5,66.23 488.21,66.64 488.93,65.87 489.64,66.55 490.35,66.11 491.07,66.11 491.78,66.86 492.49,66.26 493.21,66.18 493.92,66.46 494.63,66.59 495.35,66.19 496.06,66.41 496.77,65.86 497.49,66.07 498.2,66.05 498.91,65.73 499.63,65.67 500.34,65.63 501.05,66.12 501.77,66.14 502.48,66.09 503.19,66.22 503.91,65.73 504.62,66.17 505.33,66.28 506.05,66.46 506.76,65.9 507.47,66.06 508.19,65.49 508.9,66.02 509.61,65.43 510.33,65.7 511.04,66.59 511.75,65.43 512.47,66.48 513.18,66.31 513.89,66.09 514.61,66.36 515.32,66.38 516.03,66.57 516.75,66.12 517.46,65.99 518.17,65.99 518.89,65.85 519.6,66.18 520.31,65.92 521.03,66.57 521.74,65.55 522.45,65.82 523.17,65.87 523.88,65.47 524.59,66.87 525.31,65.36 526.02,66.1 526.73,66.02 527.45,66.78 528.16,65.51 528.87,66.58 529.59,65.94 530.3,66.15 531.01,65.97 531.73,66.42 532.44,65.8 533.15,66.17 533.87,66.32 534.58,66.84 535.29,65.36 536.01,66.73 536.72,66.53 537.43,66.03 538.15,66.31 538.86,66.04 539.57,66.78 540.29,66.27 541,66.12 541.71,66.12 542.43,66.13 543.14,66.14 543.85,65.89 544.57,66.92 545.28,65.53 545.99,64.94 546.71,66.16 547.42,66.15 548.13,66.33 548.85,66.13 549.56,66.15 550.27,66.32 550.99,66.54 551.7,66.04 552.41,66.07 553.13,66.88 553.84,66.39 554.55,65.86 555.27,67.01 555.98,66.47 556.69,65.99 557.41,65.79 558.12,66.3 558.83,65.91 559.55,65.83 560.26,65.75 560.97,66.02 561.69,66.59 562.4,66.05 563.11,65.69 563.83,66.43 564.54,66.22 565.25,66.5 565.97,66.62 566.68,66.14 567.39,66.15 568.11,66.18 568.82,65.8 569.53,66.43 570.25,66.68 570.96,66.26 571.67,66.12 572.39,66.11 573.1,65.93 573.81,65.92 574.53,66.06 575.24,65.91 575.95,66.05 576.67,65.65 577.38,66.32 578.09,66.22 578.81,65.8 579.52,65.4 580.23,66.2 580.95,66.59 581.66,65.94 582.37,66.03 583.09,66 583.8,66.43 584.51,65.88 585.23,66.55 585.94,66.09 586.65,66.52 587.37,66.21 588.08,66.12 588.79,65.68 589.51,65.96 590.22,66.11 590.93,66.43 591.65,66.29 592.36,65.96 593.07,66.34 593.79,66.55 594.5,66.15 595.21,66.05 595.93,66.06 596.64,66.48 597.35,66.39 598.07,65.87 598.78,66.33 599.49,66.03 600.21,65.94 600.92,66.63 601.63,66.49 602.35,65.95 603.06,66.23 603.77,66.38 604.49,65.98 605.2,66.16 605.91,66.43 606.63,65.57 607.34,66.31 608.05,66.46 608.77,66.38 609.48,65.73 610.19,66.31 610.91,65.9 611.62,66.4 612.33,66.41 613.05,66.28 613.76,65.93 614.47,65.99 615.19,66.5 615.9,65.89 616.61,66.37 617.33,66.38 618.04,66.1 618.75,67.04 619.47,66.22 620.18,66.95 620.89,65.49 621.61,65.41 622.32,66.54 623.03,66.42 623.75,66.09 624.46,66.18 625.17,65.53 625.89,65.98 626.6,65.84 627.31,66.12 628.03,66.51 628.74,66.22 629.45,66.33 630.17,65.96 630.88,66.05 631.59,66.24 632.31,66.1 633.02,66.64 633.73,65.89 634.45,66.86 635.16,65.86 635.87,66.57 636.59,65.93 637.3,66.78 638.01,66.25 638.73,66.34 639.44,66.46 640.15,65.98 640.87,65.84 641.58,65.49 642.29,66.63 643.01,65.96 643.72,65.99 644.43,66.19 645.15,66.9 645.86,65.6 646.57,66.29 647.29,66.06 648,66.39 648.71,65.57 649.43,66.06 650.14,66.49 650.85,66.75 651.57,66.76 652.28,65.9 652.99,66.22 653.71,66.16 654.42,65.72 655.13,65.7 655.85,66.46 656.56,66.29 657.27,66.15 657.99,66.63 658.7,65.85" stroke="#93319e" fill="none" stroke-width="0.9"/>
<polyline points="487.5,104.2 487.97,104.2 488.44,104.2 488.91,104.2 489.38,104.2 489.85,104.2 490.32,104.2 490.8,104.2 491.27,104.2 491.74,104.2 492.21,104.2 492.68,104.2 493.15,104.2 493.62,104.2 494.09,104.2 494.56,99.4 495.03,98.15 495.5,97.87 495.97,101.8 496.45,95.7 496.92,95.34 497.39,97.59 497.86,96.92 498.33,101.34 498.8,98.64 499.27,94.87 499.74,95.09 500.21,97.13 500.68,102.11 501.15,100.9 501.62,98.26 502.09,104.2 502.57,104.2 503.04,104.2 503.51,104.2 503.98,104.2 504.45,104.2 504.92,104.2 505.39,104.2 505.86,104.2 506.33,104.2 506.8,104.2 507.27,104.2 507.74,104.2 508.22,104.2 508.69,104.2 509.16,104.2 509.63,104.2 510.1,104.2 510.57,104.2 511.04,104.2 511.51,104.2 511.98,104.2 512.45,104.2 512.92,104.2 513.39,104.2 513.86,104.2 514.34,104.2 514.81,104.2 515.28,104.2 515.75,104.2 516.22,104.2 516.69,104.2 517.16,104.2 517.63,104.2 518.1,104.2 518.57,104.2 519.04,104.2 519.51,104.2 519.99,104.2 520.46,104.2 520.93,104.2 521.4,104.2 521.87,104.2 522.34,104.2 522.81,104.2 523.28,104.2 523.75,104.2 524.22,104.2 524.69,104.2 525.16,104.2 525.63,104.2 526.11,104.2 526.58,104.2 527.05,104.2 527.52,104.2 527.99,104.2 528.46,104.2 528.93,104.2 529.4,104.2 529.87,104.2 530.34,104.2 530.81,104.2 531.28,104.2 531.76,104.2 532.23,98.3 532.7,96.04 533.17,98.72 533.64,94.29 534.11,92.38 534.58,96.63 535.05,103.14 535.52,96.98 535.99,100.68 536.46,96.36 536.93,91.67 537.4,96.35 537.88,103.04 538.35,103.02 538.82,91.53 539.29,99.94 539.76,95.17 540.23,102.95 540.7,97.21 541.17,96.93 541.64,88.88 542.11,95.09 542.58,93.04 543.05,98.18 543.53,90.19 544,99.35 544.47,98.43 544.94,92.11 545.41,95.14 545.88,92.81 546.35,95.42 546.82,98.64 547.29,91.29 547.76,102.92 548.23,88.33 548.7,94.37 549.17,92.29 549.65,93.84 550.12,99.14 550.59,99.64 551.06,90.72 551.53,92 552,93.22 552.47,98.96 552.94,98.56 553.41,97.12 553.88,91.25 554.35,91.86 554.82,96.08 555.3,96.44 555.77,97.33 556.24,97.81 556.71,94.13 557.18,97.48 557.65,100.82 558.12,96.41 558.59,99.13 559.06,96.96 559.53,97.8 560,99.65 560.47,100.29 560.94,98.02 561.42,100.53 561.89,99.04 562.36,102.49 562.83,101.21 563.3,104.2 563.77,104.2 564.24,104.2 564.71,104.2 565.18,104.2 565.65,104.2 566.12,104.2 566.59,104.2 567.07,104.2 567.54,104.2 568.01,104.2 568.48,104.2 568.95,104.2 569.42,104.2 569.89,104.2 570.36,104.2 570.83,104.2 571.3,104.2 571.77,104.2 572.24,104.2 572.71,104.2 573.19,104.2 573.66,104.2 574.13,104.2 574.6,104.2 575.07,104.2 575.54,104.2 576.01,104.2 576.48,104.2 576.95,104.2 577.42,104.2 577.89,104.2 578.36,104.2 578.84,104.2 579.31,104.2 579.78,104.2 580.25,104.2 580.72,104.2 581.19,104.2 581.66,104.2 582.13,104.2 582.6,104.2 583.07,104.2 583.54,104.2 584.01,104.2 584.48,104.2 584.96,104.2 585.43,104.2 585.9,104.2 586.37,104.2 586.84,104.2 587.31,104.2 587.78,104.2 588.25,104.2 588.72,104.2 589.19,104.2 589.66,104.2 590.13,104.2 590.61,104.2 591.08,104.2 591.55,104.2 592.02,104.2 592.49,104.2 592.96,104.2 593.43,104.2 593.9,104.2 594.37,104.2 594.84,104.2 595.31,104.2 595.78,104.2 596.25,104.2 596.73,104.2 597.2,104.2 597.67,104.2 598.14,104.2 598.61,104.2 599.08,104.2 599.55,104.2 600.02,104.2 600.49,104.2 600.96,104.2 601.43,104.2 601.9,104.2 602.38,104.2 602.85,104.2 603.32,104.2 603.79,104.2 604.26,104.2 604.73,104.2 605.2,104.2 605.67,104.2 606.14,104.2 606.61,104.2 607.08,104.2 607.55,104.2 608.02,104.2 608.5,104.2 608.97,104.2 609.44,104.2 609.91,104.2 610.38,104.2 610.85,104.2 611.32,104.2 611.79,104.2 612.26,104.2 612.73,104.2 613.2,104.2 613.67,104.2 614.15,104.2 614.62,104.2 615.09,104.2 615.56,104.2 616.03,104.2 616.5,104.2 616.97,104.2 617.44,104.2 617.91,104.2 618.38,104.2 618.85,104.2 619.32,104.2 619.79,104.2 620.27,104.2 620.74,104.2 621.21,104.2 621.68,104.2 622.15,104.2 622.62,104.2 623.09,104.2 623.56,104.2 624.03,97.84 624.5,96.01 624.97,97.74 625.44,94.08 625.92,96.82 626.39,91.64 626.86,89.45 627.33,92.61 627.8,75.4 628.27,84.73 628.74,86.42 629.21,86.05 629.68,85.55 630.15,87.31 630.62,88.06 631.09,88.05 631.56,98.15 632.04,91.11 632.51,94.64 632.98,102.6 633.45,91.04 633.92,97.81 634.39,93.39 634.86,102.63 635.33,91.42 635.8,89.57 636.27,94.82 636.74,99.38 637.21,94.31 637.69,96.96 638.16,102.7 638.63,102.7 639.1,90.98 639.57,90.61 640.04,87.88 640.51,88.04 640.98,93.53 641.45,90.75 641.92,86.82 642.39,90.91 642.86,102.81 643.33,97.73 643.81,91.34 644.28,91.35 644.75,94.41 645.22,96.4 645.69,88.39 646.16,88.71 646.63,92.54 647.1,88.96 647.57,94.75 648.04,89.37 648.51,96.52 648.98,98.66 649.46,95.31 649.93,92.51 650.4,100.61 650.87,97.61 651.34,93.46 651.81,98.05 652.28,92.61 652.75,95.68 653.22,104.2 653.69,104.2 654.16,104.2 654.63,104.2 655.1,104.2 655.58,104.2 656.05,104.2 656.52,104.2 656.99,104.2 657.46,104.2 657.93,104.2 658.4,104.2" stroke="#a67c52" fill="none" stroke-width="0.7"/>
<line x1="487.5" y1="26.5" x2="487.5" y2="116.1" stroke="#222" stroke-width="1"/>
<line x1="487" y1="115.6" x2="662.2" y2="115.6" stroke="#222" stroke-width="1"/>
<line x1="487.5" y1="115.6" x2="487.5" y2="118.9" stroke="#222" stroke-width="0.9"/>
<line x1="508.9" y1="115.6" x2="508.9" y2="118.1" stroke="#222" stroke-width="0.9"/>
<line x1="530.3" y1="115.6" x2="530.3" y2="118.9" stroke="#222" stroke-width="0.9"/>
<line x1="551.7" y1="115.6" x2="551.7" y2="118.1" stroke="#222" stroke-width="0.9"/>
<line x1="573.1" y1="115.6" x2="573.1" y2="118.9" stroke="#222" stroke-width="0.9"/>
<line x1="594.5" y1="115.6" x2="594.5" y2="118.1" stroke="#222" stroke-width="0.9"/>
<line x1="615.9" y1="115.6" x2="615.9" y2="118.9" stroke="#222" stroke-width="0.9"/>
<line x1="637.3" y1="115.6" x2="637.3" y2="118.1" stroke="#222" stroke-width="0.9"/>
<line x1="658.7" y1="115.6" x2="658.7" y2="118.9" stroke="#222" stroke-width="0.9"/>
<text x="488.7" y="132.9" font-size="10.6" fill="#231f20" text-anchor="middle">0</text>
<text x="531.5" y="132.9" font-size="10.6" fill="#231f20" text-anchor="middle">10</text>
<text x="574.3" y="132.9" font-size="10.6" fill="#231f20" text-anchor="middle">20</text>
<text x="617.1" y="132.9" font-size="10.6" fill="#231f20" text-anchor="middle">30</text>
<text x="659.9" y="132.9" font-size="10.6" fill="#231f20" text-anchor="middle">40</text>
<text x="575.3" y="141.5" font-size="12.3" fill="#231f20" text-anchor="middle">Time (s)</text>
<text transform="translate(482.6,52.2) rotate(-90)" x="0" y="0" font-size="10.2" fill="#5fb847" text-anchor="middle">ΔF/F</text>
<text transform="translate(482.6,94.5) rotate(-90)" x="0" y="0" font-size="10.2" fill="#c3a17c" text-anchor="middle">Vel.</text>
<line x1="664.9" y1="54.3" x2="664.9" y2="62.2" stroke="#39a845" stroke-width="1.3"/>
<line x1="664.9" y1="85.4" x2="664.9" y2="101.2" stroke="#444" stroke-width="1.2"/>
<text transform="translate(675.6,58.2) rotate(-90)" x="0" y="0" font-size="10.3" fill="#231f20" text-anchor="middle">2%</text>
<text transform="translate(675.6,93.3) rotate(-90)" x="0" y="0" font-size="10.3" fill="#231f20" text-anchor="middle">0.05 m/s</text>
<text x="500" y="163.3" font-size="11.75" fill="#231f20">Sample <tspan font-style="italic">Calb1</tspan><tspan font-size="7" dy="-4.5">+</tspan><tspan dy="4.5"> axonal recording</tspan></text>
<line x1="542.9" y1="179.3" x2="549.3" y2="179.3" stroke="#72c85f" stroke-width="1.2"/>
<text x="551" y="183.1" font-size="10.4" fill="#231f20">GCaMP</text>
<line x1="592.3" y1="179.4" x2="598.6" y2="179.4" stroke="#93319e" stroke-width="1.2"/>
<text x="599.8" y="183.1" font-size="10.4" fill="#231f20">UV</text>
<polyline points="486.1,206.26 486.83,210.85 487.56,208.84 488.29,209.67 489.02,210.53 489.75,209.53 490.48,207.51 491.21,204.98 491.94,202.36 492.67,200.18 493.4,203.02 494.13,203.48 494.86,206.11 495.59,208.31 496.32,210.46 497.05,212.47 497.78,212.47 498.51,209.53 499.24,208.8 499.96,197.09 500.69,182.91 501.42,188.1 502.15,190.32 502.88,193.31 503.61,192.49 504.34,195.97 505.07,197.1 505.8,201.32 506.53,203.8 507.26,203.55 507.99,204.77 508.72,205.76 509.45,211.87 510.18,206.96 510.91,210.47 511.64,209.76 512.37,209.44 513.1,209.92 513.83,207.68 514.56,206.73 515.29,208.43 516.02,211.08 516.75,208.64 517.48,208.97 518.21,207.84 518.94,209.69 519.67,215.11 520.4,212.96 521.13,212.18 521.86,208.74 522.59,211.87 523.32,208.47 524.05,209.67 524.78,213.25 525.51,209.33 526.23,207.42 526.96,207.35 527.69,212.4 528.42,206.96 529.15,209.59 529.88,213.62 530.61,209.2 531.34,210.03 532.07,208.69 532.8,204.57 533.53,202.78 534.26,204.34 534.99,204.82 535.72,201.98 536.45,203.28 537.18,204.25 537.91,206.37 538.64,203.14 539.37,208.93 540.1,211.18 540.83,208.52 541.56,207.77 542.29,209.29 543.02,206.9 543.75,208.7 544.48,208.53 545.21,208.45 545.94,210.12 546.67,209.03 547.4,205.98 548.13,210.39 548.86,208.75 549.59,208.13 550.32,209.5 551.05,208.7 551.78,210.9 552.5,209.01 553.23,207.63 553.96,205.28 554.69,204.67 555.42,205.94 556.15,206.03 556.88,202.78 557.61,204.94 558.34,209.69 559.07,207.35 559.8,207.29 560.53,204.72 561.26,199.89 561.99,191.71 562.72,192.89 563.45,194.54 564.18,194.8 564.91,197.34 565.64,200.71 566.37,202.79 567.1,201.53 567.83,199.61 568.56,200.33 569.29,202.89 570.02,201.1 570.75,203.33 571.48,206 572.21,205.76 572.94,207.42 573.67,208.55 574.4,207.29 575.13,206.15 575.86,204.22 576.59,207.2 577.32,205.11 578.05,204.98 578.78,204.59 579.5,205.75 580.23,201.79 580.96,202.03 581.69,202.46 582.42,204.89 583.15,204.32 583.88,206.49 584.61,206.08 585.34,208.1 586.07,207.47 586.8,208.4 587.53,209.58 588.26,208.86 588.99,209.98 589.72,210.12 590.45,209.26 591.18,209.71 591.91,206.12 592.64,206.68 593.37,207.81 594.1,208.31 594.83,210.71 595.56,209.2 596.29,211.7 597.02,210.64 597.75,210.52 598.48,210.44 599.21,208.8 599.94,211.2 600.67,206.79 601.4,210.98 602.13,209.1 602.86,212.31 603.59,208.59 604.32,211.39 605.05,209.16 605.77,209.24 606.5,207.86 607.23,207.94 607.96,208.04 608.69,208.59 609.42,204.27 610.15,205.98 610.88,203.61 611.61,202.39 612.34,198.99 613.07,197.98 613.8,197.66 614.53,197.22 615.26,199.59 615.99,198.79 616.72,200.61 617.45,198.13 618.18,200.98 618.91,199.45 619.64,202.36 620.37,204.38 621.1,203.42 621.83,203.6 622.56,203.58 623.29,204.25 624.02,205.33 624.75,208.57 625.48,205.95 626.21,207.73 626.94,207.38 627.67,206.5 628.4,209.64 629.13,207.09 629.86,205.93 630.59,208.86 631.32,210.43 632.04,208.39 632.77,210.15 633.5,209.01 634.23,208.81 634.96,212.8 635.69,210.3 636.42,212.99 637.15,211.92 637.88,210.15 638.61,212.78 639.34,212.2 640.07,211.91 640.8,210.85 641.53,210.63 642.26,210.33 642.99,211.49 643.72,211.67 644.45,209.87 645.18,211.5 645.91,211.25 646.64,208.95 647.37,210.89 648.1,210.87 648.83,207.84 649.56,209.24 650.29,211.99 651.02,209.57 651.75,205.42 652.48,203.83 653.21,207.9 653.94,206.56 654.67,206.85 655.4,207.78 656.13,211.13 656.86,207.5 657.59,208.86" stroke="#72c85f" fill="none" stroke-width="0.75" stroke-linejoin="round"/>
<polyline points="486.1,208.21 486.82,208.78 487.53,208.74 488.25,208.79 488.96,208.5 489.68,208.54 490.39,208.71 491.11,208.17 491.82,208.16 492.54,207.79 493.25,207.89 493.97,208.01 494.69,207.64 495.4,208.8 496.12,208.86 496.83,208.88 497.55,207.92 498.26,207.51 498.98,207.25 499.69,206.77 500.41,206.45 501.12,205.88 501.84,205.87 502.55,205.51 503.27,206.14 503.99,206.63 504.7,206.78 505.42,208.08 506.13,208 506.85,208.37 507.56,207.71 508.28,207.56 508.99,207.56 509.71,207.59 510.42,207.9 511.14,207.95 511.86,207.99 512.57,208.12 513.29,208.54 514,209.31 514.72,208.6 515.43,208.82 516.15,208.62 516.86,207.64 517.58,207.91 518.29,208.19 519.01,207.01 519.72,207.74 520.44,208.07 521.16,208.12 521.87,208.86 522.59,208.84 523.3,208.38 524.02,209.06 524.73,208.75 525.45,208.55 526.16,208.44 526.88,207.87 527.59,207.75 528.31,207.36 529.02,208.27 529.74,208.15 530.46,208.49 531.17,208.4 531.89,208.56 532.6,208.61 533.32,209.02 534.03,207.55 534.75,207.46 535.46,207.85 536.18,208.21 536.89,207.99 537.61,207.35 538.33,207.43 539.04,208.73 539.76,208.56 540.47,208.51 541.19,209.16 541.9,208.99 542.62,208.37 543.33,208.1 544.05,207.94 544.76,208.26 545.48,207.98 546.2,208.15 546.91,208.45 547.63,208.01 548.34,209.24 549.06,209.23 549.77,209.02 550.49,207.95 551.2,208.12 551.92,208.32 552.63,207.14 553.35,207.57 554.06,208 554.78,207.34 555.5,208.59 556.21,208.48 556.93,208.42 557.64,208.64 558.36,208.65 559.07,208.22 559.79,208.23 560.5,207.22 561.22,206.99 561.93,207.32 562.65,206.95 563.37,206.78 564.08,207.7 564.8,208.22 565.51,207.86 566.23,207.74 566.94,208.24 567.66,208.16 568.37,207.92 569.09,208.28 569.8,207.23 570.52,207.93 571.23,207.09 571.95,207.45 572.67,208.24 573.38,208.74 574.1,208.95 574.81,208.95 575.53,208.92 576.24,208.8 576.96,208.7 577.67,208.14 578.39,208.02 579.1,207.94 579.82,207.7 580.53,208.09 581.25,208.26 581.97,209.07 582.68,208.77 583.4,208.7 584.11,208.77 584.83,208.79 585.54,208.88 586.26,208.14 586.97,208.1 587.69,208.41 588.4,206.8 589.12,207.4 589.84,208.11 590.55,208.46 591.27,208.7 591.98,208.67 592.7,209.13 593.41,208.92 594.13,208.42 594.84,209.15 595.56,208.13 596.27,207.59 596.99,207.67 597.7,207.69 598.42,207.96 599.14,207.32 599.85,208.4 600.57,209.15 601.28,208.49 602,208.82 602.71,208.98 603.43,208.65 604.14,208.57 604.86,207.22 605.57,207.58 606.29,207.63 607.01,208.16 607.72,208.6 608.44,207.59 609.15,209.15 609.87,208.39 610.58,209.1 611.3,208.16 612.01,208.46 612.73,208.52 613.44,207.79 614.16,207.78 614.88,208.01 615.59,207.95 616.31,208.14 617.02,209.02 617.74,209.11 618.45,208.78 619.17,209.84 619.88,208.32 620.6,208.77 621.31,208.05 622.03,207.93 622.74,207.97 623.46,207.79 624.18,208.09 624.89,207.59 625.61,207.9 626.32,208.92 627.04,208.53 627.75,208.53 628.47,208.24 629.18,208.94 629.9,208.46 630.61,208.43 631.33,207.41 632.04,207.71 632.76,207.43 633.48,208.35 634.19,208.94 634.91,208.35 635.62,209.4 636.34,209.24 637.05,208.72 637.77,207.86 638.48,208.74 639.2,207.92 639.91,207.55 640.63,207.84 641.35,207.94 642.06,208.56 642.78,207.97 643.49,209.02 644.21,209.35 644.92,209.41 645.64,208.75 646.35,208.33 647.07,208.65 647.78,208.04 648.5,207.82 649.21,208.2 649.93,207.68 650.65,207.18 651.36,208.15 652.08,207.93 652.79,209.09 653.51,209.01 654.22,208.62 654.94,208.63 655.65,208.63 656.37,208.07 657.08,208.27 657.8,207.68" stroke="#93319e" fill="none" stroke-width="0.9"/>
<polyline points="486.1,246.6 486.53,246.6 486.96,246.6 487.39,246.6 487.82,246.6 488.25,246.6 488.68,246.6 489.1,246.6 489.53,246.6 489.96,246.6 490.39,246.6 490.82,246.6 491.25,246.6 491.68,246.6 492.11,246.6 492.54,246.6 492.97,246.6 493.4,246.6 493.83,246.6 494.26,246.6 494.69,246.6 495.11,246.6 495.54,246.6 495.97,246.6 496.4,246.6 496.83,246.6 497.26,246.6 497.69,246.6 498.12,246.6 498.55,246.6 498.98,246.6 499.41,246.6 499.84,246.6 500.27,237.43 500.69,239.53 501.12,241.07 501.55,244.64 501.98,226.5 502.41,237.77 502.84,222.66 503.27,221.7 503.7,231.64 504.13,225.13 504.56,222.85 504.99,227.7 505.42,235.06 505.85,222.12 506.27,244.18 506.7,231.36 507.13,231.24 507.56,233.36 507.99,244.32 508.42,229.94 508.85,238.7 509.28,221.13 509.71,226.82 510.14,227.51 510.57,244.56 511,237.78 511.43,244.64 511.86,230.32 512.28,231.92 512.71,244.76 513.14,230.06 513.57,230.01 514,239.66 514.43,230.79 514.86,236.11 515.29,226.62 515.72,230.66 516.15,237.35 516.58,240.74 517.01,231.67 517.44,245.11 517.86,236.04 518.29,233.07 518.72,235.46 519.15,245.15 519.58,230.87 520.01,235.31 520.44,235.26 520.87,240.32 521.3,240.13 521.73,241.6 522.16,231.49 522.59,232.66 523.02,232.47 523.44,238.53 523.87,236.46 524.3,231.54 524.73,233.65 525.16,231.95 525.59,241.48 526.02,239.68 526.45,230.93 526.88,245.35 527.31,239.39 527.74,234.96 528.17,237.79 528.6,235.66 529.02,241.26 529.45,245.41 529.88,237.03 530.31,234.03 530.74,233 531.17,234.66 531.6,233.25 532.03,245.46 532.46,236.65 532.89,245.47 533.32,234.49 533.75,242.82 534.18,237.71 534.61,238.47 535.03,237.69 535.46,237.32 535.89,242.78 536.32,234.63 536.75,237.77 537.18,245.6 537.61,237.02 538.04,240.07 538.47,246.6 538.9,246.6 539.33,246.6 539.76,246.6 540.19,246.6 540.61,246.6 541.04,246.6 541.47,246.6 541.9,246.6 542.33,246.6 542.76,246.6 543.19,246.6 543.62,246.6 544.05,246.6 544.48,246.6 544.91,246.6 545.34,246.6 545.77,246.6 546.2,246.6 546.62,246.6 547.05,246.6 547.48,246.6 547.91,246.6 548.34,246.6 548.77,246.6 549.2,246.6 549.63,246.6 550.06,246.6 550.49,246.6 550.92,246.6 551.35,246.6 551.78,246.6 552.2,246.6 552.63,246.6 553.06,246.6 553.49,246.6 553.92,246.6 554.35,246.6 554.78,246.6 555.21,246.6 555.64,246.6 556.07,246.6 556.5,246.6 556.93,246.6 557.36,246.6 557.78,246.6 558.21,246.6 558.64,246.6 559.07,246.6 559.5,246.6 559.93,246.6 560.36,233.37 560.79,231.14 561.22,231.77 561.65,238.56 562.08,230.06 562.51,231.65 562.94,221.26 563.37,244.21 563.79,224.74 564.22,223.64 564.65,237.08 565.08,225.82 565.51,237.58 565.94,229.04 566.37,238.99 566.8,232.11 567.23,239.83 567.66,228.05 568.09,222.2 568.52,237.53 568.95,235.12 569.37,236.06 569.8,237.89 570.23,224.94 570.66,233.61 571.09,232.45 571.52,234.25 571.95,236.63 572.38,232.74 572.81,234.15 573.24,241.17 573.67,245.12 574.1,237.63 574.53,233.3 574.95,240.91 575.38,237.45 575.81,230.11 576.24,231.16 576.67,231.7 577.1,245.34 577.53,238.09 577.96,235.21 578.39,238.12 578.82,237.74 579.25,239.24 579.68,236.1 580.11,237.93 580.53,238.48 580.96,241 581.39,240.95 581.82,236.91 582.25,246.6 582.68,246.6 583.11,246.6 583.54,246.6 583.97,246.6 584.4,246.6 584.83,246.6 585.26,246.6 585.69,246.6 586.12,246.6 586.54,246.6 586.97,246.6 587.4,246.6 587.83,246.6 588.26,246.6 588.69,246.6 589.12,246.6 589.55,246.6 589.98,246.6 590.41,246.6 590.84,246.6 591.27,246.6 591.7,246.6 592.12,246.6 592.55,246.6 592.98,246.6 593.41,246.6 593.84,246.6 594.27,246.6 594.7,246.6 595.13,246.6 595.56,246.6 595.99,246.6 596.42,246.6 596.85,246.6 597.28,246.6 597.7,246.6 598.13,246.6 598.56,246.6 598.99,246.6 599.42,246.6 599.85,246.6 600.28,246.6 600.71,246.6 601.14,246.6 601.57,246.6 602,246.6 602.43,246.6 602.86,246.6 603.29,246.6 603.71,246.6 604.14,246.6 604.57,246.6 605,246.6 605.43,246.6 605.86,246.6 606.29,246.6 606.72,246.6 607.15,246.6 607.58,246.6 608.01,246.6 608.44,246.6 608.87,246.6 609.29,246.6 609.72,246.6 610.15,246.6 610.58,233.59 611.01,234.04 611.44,227.83 611.87,226.13 612.3,227.45 612.73,239.09 613.16,229.21 613.59,232.19 614.02,244.55 614.45,225.71 614.88,244.6 615.3,239.98 615.73,239.17 616.16,244.72 616.59,226.07 617.02,229.03 617.45,226.09 617.88,237.98 618.31,234.41 618.74,235.29 619.17,237.75 619.6,228.84 620.03,241.62 620.46,241.54 620.88,230.81 621.31,231.02 621.74,238.46 622.17,236.83 622.6,239.64 623.03,235.03 623.46,236.86 623.89,246.6 624.32,246.6 624.75,246.6 625.18,246.6 625.61,246.6 626.04,246.6 626.46,246.6 626.89,246.6 627.32,246.6 627.75,246.6 628.18,246.6 628.61,246.6 629.04,246.6 629.47,246.6 629.9,246.6 630.33,246.6 630.76,246.6 631.19,246.6 631.62,246.6 632.04,246.6 632.47,246.6 632.9,246.6 633.33,246.6 633.76,246.6 634.19,246.6 634.62,246.6 635.05,246.6 635.48,246.6 635.91,246.6 636.34,246.6 636.77,246.6 637.2,246.6 637.63,246.6 638.05,246.6 638.48,246.6 638.91,246.6 639.34,246.6 639.77,246.6 640.2,246.6 640.63,246.6 641.06,246.6 641.49,246.6 641.92,246.6 642.35,246.6 642.78,246.6 643.21,246.6 643.63,246.6 644.06,246.6 644.49,246.6 644.92,246.6 645.35,246.6 645.78,246.6 646.21,246.6 646.64,246.6 647.07,246.6 647.5,246.6 647.93,246.6 648.36,246.6 648.79,246.6 649.21,246.6 649.64,246.6 650.07,246.6 650.5,246.6 650.93,246.6 651.36,246.6 651.79,246.6 652.22,246.6 652.65,246.6 653.08,246.6 653.51,246.6 653.94,246.6 654.37,246.6 654.8,246.6 655.22,246.6 655.65,246.6 656.08,246.6 656.51,246.6 656.94,246.6 657.37,246.6 657.8,246.6" stroke="#a67c52" fill="none" stroke-width="0.7"/>
<line x1="486.1" y1="167.3" x2="486.1" y2="257.5" stroke="#222" stroke-width="1"/>
<line x1="485.6" y1="257" x2="661.3" y2="257" stroke="#222" stroke-width="1"/>
<line x1="486.1" y1="257" x2="486.1" y2="260.3" stroke="#222" stroke-width="0.9"/>
<line x1="507.56" y1="257" x2="507.56" y2="259.5" stroke="#222" stroke-width="0.9"/>
<line x1="529.02" y1="257" x2="529.02" y2="260.3" stroke="#222" stroke-width="0.9"/>
<line x1="550.49" y1="257" x2="550.49" y2="259.5" stroke="#222" stroke-width="0.9"/>
<line x1="571.95" y1="257" x2="571.95" y2="260.3" stroke="#222" stroke-width="0.9"/>
<line x1="593.41" y1="257" x2="593.41" y2="259.5" stroke="#222" stroke-width="0.9"/>
<line x1="614.88" y1="257" x2="614.88" y2="260.3" stroke="#222" stroke-width="0.9"/>
<line x1="636.34" y1="257" x2="636.34" y2="259.5" stroke="#222" stroke-width="0.9"/>
<line x1="657.8" y1="257" x2="657.8" y2="260.3" stroke="#222" stroke-width="0.9"/>
<text x="487.3" y="274.9" font-size="10.6" fill="#231f20" text-anchor="middle">0</text>
<text x="530.23" y="274.9" font-size="10.6" fill="#231f20" text-anchor="middle">10</text>
<text x="573.15" y="274.9" font-size="10.6" fill="#231f20" text-anchor="middle">20</text>
<text x="616.08" y="274.9" font-size="10.6" fill="#231f20" text-anchor="middle">30</text>
<text x="659" y="274.9" font-size="10.6" fill="#231f20" text-anchor="middle">40</text>
<text x="574.15" y="282.8" font-size="12.3" fill="#231f20" text-anchor="middle">Time (s)</text>
<text transform="translate(482.6,207.9) rotate(-90)" x="0" y="0" font-size="10.2" fill="#5fb847" text-anchor="middle">ΔF/F</text>
<text transform="translate(482.6,243.3) rotate(-90)" x="0" y="0" font-size="10.2" fill="#c3a17c" text-anchor="middle">Vel.</text>
<line x1="664.9" y1="196" x2="664.9" y2="206" stroke="#39a845" stroke-width="1.3"/>
<line x1="664.9" y1="233" x2="664.9" y2="246.8" stroke="#444" stroke-width="1.2"/>
<text transform="translate(675.6,199.8) rotate(-90)" x="0" y="0" font-size="10.3" fill="#231f20" text-anchor="middle">10%</text>
<text transform="translate(675.6,238.9) rotate(-90)" x="0" y="0" font-size="10.3" fill="#231f20" text-anchor="middle">0.05 m/s</text>
<rect x="38.8" y="327.4" width="90" height="6.49" fill="url(#hg1)"/>
<rect x="38.8" y="333.09" width="90" height="6.49" fill="url(#hg2)"/>
<rect x="38.8" y="338.78" width="90" height="6.49" fill="url(#hg3)"/>
<rect x="38.8" y="344.47" width="90" height="6.49" fill="url(#hg4)"/>
<rect x="38.8" y="350.16" width="90" height="6.49" fill="url(#hg5)"/>
<rect x="38.8" y="355.85" width="90" height="6.49" fill="url(#hg6)"/>
<rect x="38.8" y="361.54" width="90" height="6.49" fill="url(#hg7)"/>
<rect x="38.8" y="367.23" width="90" height="6.49" fill="url(#hg8)"/>
<rect x="38.8" y="372.92" width="90" height="6.49" fill="url(#hg9)"/>
<rect x="38.8" y="378.61" width="90" height="5.69" fill="url(#hg10)"/>
<line x1="38.4" y1="327.4" x2="38.4" y2="384.9" stroke="#333" stroke-width="0.8"/>
<line x1="38" y1="384.6" x2="128.8" y2="384.6" stroke="#333" stroke-width="0.8"/>
<line x1="36.6" y1="330.25" x2="38.4" y2="330.25" stroke="#333" stroke-width="0.7"/>
<line x1="36.6" y1="381.45" x2="38.4" y2="381.45" stroke="#333" stroke-width="0.7"/>
<text x="36.9" y="332" font-size="8.2" fill="#231f20" text-anchor="end">1</text>
<text x="37.2" y="384.5" font-size="8.2" fill="#231f20" text-anchor="end">10</text>
<text x="45.5" y="324.1" font-size="11.9" fill="#231f20">Norm’d activity</text>
<text transform="translate(25.2,351) rotate(-90)" x="0" y="0" font-size="11.9" fill="#231f20" text-anchor="middle">Mouse #</text>
<rect x="132.4" y="341.3" width="3.5" height="37" fill="url(#hg11)" stroke="#333" stroke-width="0.6"/>
<text x="152.6" y="344.7" font-size="10.5" fill="#231f20" text-anchor="end">1.0</text>
<text x="152.6" y="356" font-size="10.5" fill="#231f20" text-anchor="end">0.5</text>
<text x="152.6" y="369.3" font-size="10.5" fill="#231f20" text-anchor="end">0.0</text>
<polyline points="38.8,458.98 39.7,459.4 40.6,459.73 41.5,459.91 42.4,459.98 43.3,460.06 44.2,460.26 45.1,460.66 46,461.19 46.9,461.74 47.8,462.13 48.7,462.31 49.6,462.31 50.5,462.3 51.4,462.45 52.3,462.88 53.2,463.58 54.1,464.37 55,465.01 55.9,465.3 56.8,465.22 57.7,464.91 58.6,464.62 59.5,464.63 60.4,465.03 61.3,465.76 62.2,466.55 63.1,467.11 64,467.23 64.9,466.92 65.8,466.39 66.7,465.96 67.6,465.89 68.5,466.31 69.4,467.07 70.3,467.89 71.2,468.4 72.1,468.36 73,467.79 73.9,466.91 74.8,466 75.7,465.28 76.6,464.84 77.5,464.59 78.4,464.34 79.3,463.93 80.2,463.34 81.1,462.67 82,462.13 82.9,461.9 83.8,462.09 84.7,462.06 85.6,461.13 86.5,459.25 87.4,456.43 88.3,452.8 89.2,448.64 90.1,444.28 91,440.03 91.9,436.1 92.8,432.61 93.7,429.61 94.6,427.14 95.5,425.27 96.4,424.1 97.3,423.75 98.2,422.2 99.1,417.92 100,411.82 100.9,404.83 101.8,397.97 102.7,392.33 103.6,389.02 104.5,388.73 105.4,389.74 106.3,391.49 107.2,393.69 108.1,396.04 109,398.32 109.9,400.45 110.8,402.45 111.7,404.35 112.6,406.12 113.5,407.63 114.4,408.65 115.3,408.92 116.2,408.91 117.1,409.28 118,410.13 118.9,411.61 119.8,413.8 120.7,416.54 121.6,419.54 122.5,422.37 123.4,424.67 124.3,426.26 125.2,427.19 126.1,427.71 127,428.11 127.9,428.56 128.8,429.03" stroke="#c9c9c9" fill="none" stroke-width="0.45"/>
<polyline points="38.8,453.53 39.7,454.17 40.6,454.94 41.5,455.62 42.4,456.13 43.3,456.49 44.2,456.83 45.1,457.25 46,457.76 46.9,458.28 47.8,458.72 48.7,459 49.6,459.16 50.5,459.34 51.4,459.66 52.3,460.2 53.2,460.86 54.1,461.5 55,461.91 55.9,462.03 56.8,461.94 57.7,461.83 58.6,461.95 59.5,462.42 60.4,463.18 61.3,463.98 62.2,464.54 63.1,464.66 64,464.31 64.9,463.64 65.8,462.93 66.7,462.42 67.6,462.21 68.5,462.19 69.4,462.19 70.3,462.01 71.2,461.54 72.1,460.87 73,460.13 73.9,459.49 74.8,459.02 75.7,458.68 76.6,458.37 77.5,458 78.4,457.57 79.3,457.17 80.2,456.93 81.1,456.91 82,457.08 82.9,457.3 83.8,457.39 84.7,457.09 85.6,456.32 86.5,455.3 87.4,454.32 88.3,453.57 89.2,453.06 90.1,452.65 91,452.08 91.9,451.16 92.8,449.87 93.7,448.38 94.6,447.01 95.5,446.03 96.4,445.61 97.3,445.71 98.2,445.53 99.1,444.34 100,442.13 100.9,439.09 101.8,435.49 102.7,431.68 103.6,427.88 104.5,424.23 105.4,420.75 106.3,417.46 107.2,414.45 108.1,411.9 109,410.02 109.9,409.03 110.8,409.01 111.7,409.49 112.6,409.85 113.5,409.96 114.4,409.82 115.3,409.6 116.2,409.51 117.1,409.74 118,410.3 118.9,411.04 119.8,411.7 120.7,412.08 121.6,412.09 122.5,411.87 123.4,411.7 124.3,411.81 125.2,412.36 126.1,413.26 127,414.28 127.9,415.14 128.8,415.65" stroke="#c9c9c9" fill="none" stroke-width="0.45"/>
<polyline points="38.8,462.27 39.7,462.24 40.6,462.07 41.5,461.8 42.4,461.5 43.3,461.24 44.2,461.12 45.1,461.18 46,461.47 46.9,461.95 47.8,462.58 48.7,463.27 49.6,463.95 50.5,464.53 51.4,464.97 52.3,465.24 53.2,465.38 54.1,465.44 55,465.53 55.9,465.7 56.8,466.04 57.7,466.57 58.6,467.28 59.5,468.11 60.4,468.98 61.3,469.8 62.2,470.48 63.1,470.95 64,471.2 64.9,471.27 65.8,471.21 66.7,471.12 67.6,471.09 68.5,471.2 69.4,471.47 70.3,471.9 71.2,472.43 72.1,472.96 73,473.39 73.9,473.63 74.8,473.62 75.7,473.12 76.6,472.03 77.5,470.53 78.4,468.84 79.3,467.16 80.2,465.67 81.1,464.51 82,463.76 82.9,463.46 83.8,463.62 84.7,463.4 85.6,462.05 86.5,459.78 87.4,456.82 88.3,453.49 89.2,450.1 90.1,447.02 91,444.57 91.9,443.05 92.8,442.71 93.7,443 94.6,443.17 95.5,443.16 96.4,442.89 97.3,442.32 98.2,441.46 99.1,440.37 100,439.14 100.9,437.9 101.8,436.8 102.7,435.92 103.6,435.36 104.5,435.11 105.4,435.16 106.3,435.44 107.2,435.86 108.1,436.28 109,436.65 109.9,436.95 110.8,437.23 111.7,437.54 112.6,437.96 113.5,438.57 114.4,439.4 115.3,440.45 116.2,441.68 117.1,443.01 118,444.33 118.9,445.57 119.8,446.64 120.7,447.53 121.6,448.25 122.5,448.82 123.4,449.33 124.3,449.82 125.2,450.34 126.1,450.89 127,451.46 127.9,451.97 128.8,452.36" stroke="#c9c9c9" fill="none" stroke-width="0.45"/>
<polyline points="38.8,458.39 39.7,458.33 40.6,458.07 41.5,457.72 42.4,457.41 43.3,457.27 44.2,457.32 45.1,457.57 46,457.93 46.9,458.35 47.8,458.75 48.7,459.11 49.6,459.43 50.5,459.74 51.4,460.06 52.3,460.38 53.2,460.7 54.1,461.03 55,461.37 55.9,461.74 56.8,462.13 57.7,462.55 58.6,462.99 59.5,463.39 60.4,463.73 61.3,463.99 62.2,464.17 63.1,464.32 64,464.51 64.9,464.79 65.8,465.19 66.7,465.68 67.6,466.21 68.5,466.68 69.4,466.99 70.3,467.09 71.2,466.86 72.1,466.27 73,465.41 73.9,464.38 74.8,463.29 75.7,462.22 76.6,461.24 77.5,460.37 78.4,459.62 79.3,458.93 80.2,458.25 81.1,457.52 82,456.71 82.9,455.79 83.8,454.81 84.7,453.86 85.6,453.04 86.5,452.44 87.4,452.13 88.3,452.12 89.2,451.84 90.1,450.75 91,448.92 91.9,446.44 92.8,443.45 93.7,440.12 94.6,436.61 95.5,433.1 96.4,429.72 97.3,426.56 98.2,423.73 99.1,421.31 100,419.4 100.9,418.13 101.8,417.63 102.7,417.56 103.6,417.52 104.5,417.48 105.4,417.44 106.3,417.44 107.2,417.53 108.1,417.81 109,418.33 109.9,419.1 110.8,420.07 111.7,421.08 112.6,422 113.5,422.66 114.4,423.01 115.3,423.07 116.2,422.96 117.1,422.84 118,422.81 118.9,422.94 119.8,423.19 120.7,423.8 121.6,424.93 122.5,426.37 123.4,427.96 124.3,429.6 125.2,431.24 126.1,432.77 127,434.09 127.9,435 128.8,435.33" stroke="#c9c9c9" fill="none" stroke-width="0.45"/>
<polyline points="38.8,464.52 39.7,464.82 40.6,464.92 41.5,464.7 42.4,464.16 43.3,463.46 44.2,462.78 45.1,462.3 46,462.04 46.9,461.93 47.8,461.77 48.7,461.43 49.6,460.86 50.5,460.16 51.4,459.52 52.3,459.17 53.2,459.18 54.1,459.51 55,459.93 55.9,460.18 56.8,460.07 57.7,459.59 58.6,458.91 59.5,458.33 60.4,458.13 61.3,458.45 62.2,459.18 63.1,460 64,460.59 64.9,460.66 65.8,460.17 66.7,459.29 67.6,458.35 68.5,457.69 69.4,457.53 70.3,457.85 71.2,458.44 72.1,458.98 73,459.17 73.9,458.92 74.8,458.28 75.7,457.52 76.6,456.9 77.5,456.63 78.4,456.74 79.3,457.13 80.2,457.56 81.1,457.86 82,457.91 82.9,457.74 83.8,457.48 84.7,456.97 85.6,456.07 86.5,454.85 87.4,453.34 88.3,451.52 89.2,449.4 90.1,447.08 91,444.7 91.9,442.42 92.8,440.37 93.7,438.6 94.6,437.12 95.5,435.91 96.4,434.99 97.3,434.44 98.2,434.03 99.1,433.49 100,432.95 100.9,432.47 101.8,432.02 102.7,431.53 103.6,430.89 104.5,430.08 105.4,429.11 106.3,428.09 107.2,427.14 108.1,426.39 109,425.89 109.9,425.66 110.8,425.69 111.7,425.82 112.6,425.9 113.5,425.95 114.4,425.95 115.3,425.92 116.2,425.81 117.1,425.6 118,425.29 118.9,424.91 119.8,424.56 120.7,424.37 121.6,424.42 122.5,424.69 123.4,425.07 124.3,425.39 125.2,425.45 126.1,425.18 127,424.61 127.9,423.93 128.8,423.41" stroke="#c9c9c9" fill="none" stroke-width="0.45"/>
<polyline points="38.8,456.77 39.7,456.54 40.6,456.57 41.5,456.92 42.4,457.54 43.3,458.35 44.2,459.21 45.1,459.97 46,460.56 46.9,460.97 47.8,461.26 48.7,461.54 49.6,461.93 50.5,462.48 51.4,463.18 52.3,463.95 53.2,464.64 54.1,465.14 55,465.39 55.9,465.41 56.8,465.33 57.7,465.33 58.6,465.59 59.5,466.22 60.4,467.22 61.3,468.49 62.2,469.8 63.1,470.95 64,471.74 64.9,472.07 65.8,471.97 66.7,471.58 67.6,471.1 68.5,470.7 69.4,470.46 70.3,470.37 71.2,470.34 72.1,470.22 73,469.91 73.9,469.34 74.8,468.56 75.7,467.71 76.6,466.96 77.5,466.47 78.4,466.31 79.3,466.46 80.2,466.81 81.1,467.17 82,467.36 82.9,467.27 83.8,466.88 84.7,466.28 85.6,465.61 86.5,465.06 87.4,464.77 88.3,464.81 89.2,465 90.1,465.13 91,465.1 91.9,464.82 92.8,464.25 93.7,463.41 94.6,462.39 95.5,461.29 96.4,460.17 97.3,459.09 98.2,458.02 99.1,456.92 100,455.74 100.9,454.45 101.8,453.07 102.7,451.68 103.6,450.4 104.5,449.36 105.4,448.68 106.3,448.43 107.2,448.13 108.1,447.35 109,446.13 109.9,444.5 110.8,442.53 111.7,440.3 112.6,437.88 113.5,435.37 114.4,432.83 115.3,430.34 116.2,427.96 117.1,425.77 118,423.89 118.9,422.47 119.8,421.7 120.7,421.49 121.6,421.62 122.5,422.07 123.4,422.76 124.3,423.56 125.2,424.36 126.1,425.02 127,425.47 127.9,425.68 128.8,425.65" stroke="#c9c9c9" fill="none" stroke-width="0.45"/>
<polyline points="38.8,462.37 39.7,462.54 40.6,462.25 41.5,461.57 42.4,460.75 43.3,460.06 44.2,459.69 45.1,459.71 46,460.02 46.9,460.48 47.8,460.94 48.7,461.33 49.6,461.64 50.5,461.87 51.4,462 52.3,462.01 53.2,461.89 54.1,461.65 55,461.35 55.9,461.07 56.8,460.86 57.7,460.7 58.6,460.52 59.5,460.23 60.4,459.81 61.3,459.35 62.2,459.04 63.1,459.05 64,459.46 64.9,460.16 65.8,460.88 66.7,461.29 67.6,461.17 68.5,460.49 69.4,459.52 70.3,458.63 71.2,458.18 72.1,458.32 73,458.92 73.9,459.66 74.8,460.16 75.7,460.2 76.6,459.82 77.5,459.29 78.4,458.96 79.3,459.07 80.2,459.62 81.1,460.34 82,460.86 82.9,460.86 83.8,460.27 84.7,458.21 85.6,454.3 86.5,449.38 87.4,444.1 88.3,438.9 89.2,433.98 90.1,429.49 91,425.63 91.9,422.81 92.8,421.57 93.7,421.37 94.6,421.29 95.5,421.42 96.4,421.68 97.3,421.96 98.2,422.15 99.1,422.2 100,422.13 100.9,421.98 101.8,421.81 102.7,421.63 103.6,421.45 104.5,421.29 105.4,421.18 106.3,421.18 107.2,421.34 108.1,421.64 109,421.96 109.9,422.14 110.8,422.12 111.7,421.95 112.6,421.8 113.5,421.9 114.4,422.43 115.3,423.39 116.2,424.56 117.1,425.62 118,426.27 118.9,426.38 119.8,426.09 120.7,425.71 121.6,425.61 122.5,426.02 123.4,426.89 124.3,427.94 125.2,428.77 126.1,429.09 127,428.84 127.9,428.23 128.8,427.61" stroke="#c9c9c9" fill="none" stroke-width="0.45"/>
<polyline points="38.8,456.14 39.7,456.51 40.6,457.13 41.5,457.8 42.4,458.29 43.3,458.46 44.2,458.35 45.1,458.1 46,457.93 46.9,457.94 47.8,458.12 48.7,458.33 49.6,458.41 50.5,458.32 51.4,458.11 52.3,457.96 53.2,457.99 54.1,458.23 55,458.56 55.9,458.79 56.8,458.8 57.7,458.59 58.6,458.34 59.5,458.29 60.4,458.62 61.3,459.35 62.2,460.28 63.1,461.12 64,461.63 64.9,461.72 65.8,461.51 66.7,461.26 67.6,461.18 68.5,461.35 69.4,461.68 70.3,461.95 71.2,462 72.1,461.77 73,461.38 73.9,461.06 74.8,460.95 75.7,461 76.6,460.99 77.5,460.73 78.4,460.07 79.3,459 80.2,457.69 81.1,456.36 82,455.19 82.9,454.23 83.8,453.38 84.7,452.48 85.6,451.39 86.5,450.1 87.4,448.69 88.3,447.31 89.2,446.02 90.1,444.81 91,443.6 91.9,442.32 92.8,441.04 93.7,439.93 94.6,439.22 95.5,439.06 96.4,439.44 97.3,440.13 98.2,440.57 99.1,440.3 100,439.3 100.9,437.84 101.8,436.36 102.7,435.27 103.6,434.82 104.5,434.98 105.4,435.48 106.3,435.98 107.2,436.16 108.1,435.88 109,435.29 109.9,434.69 110.8,434.32 111.7,434.31 112.6,434.62 113.5,435.17 114.4,435.83 115.3,436.56 116.2,437.34 117.1,438.14 118,438.9 118.9,439.5 119.8,439.85 120.7,439.95 121.6,439.93 122.5,440.02 123.4,440.4 124.3,441.1 125.2,441.97 126.1,442.7 127,442.99 127.9,442.71 128.8,441.94" stroke="#c9c9c9" fill="none" stroke-width="0.45"/>
<polygon points="38.8,478.76 39.36,478.76 39.92,478.76 40.49,478.76 41.05,478.76 41.61,478.76 42.17,478.76 42.74,478.76 43.3,478.76 43.86,478.76 44.42,478.76 44.99,478.76 45.55,478.76 46.11,478.76 46.67,478.76 47.24,478.76 47.8,478.76 48.36,478.76 48.92,478.76 49.49,478.76 50.05,478.76 50.61,478.76 51.17,478.76 51.74,478.76 52.3,478.76 52.86,478.76 53.42,478.76 53.99,478.76 54.55,478.76 55.11,478.76 55.67,478.76 56.24,478.76 56.8,478.76 57.36,478.76 57.92,478.76 58.49,478.76 59.05,478.76 59.61,478.76 60.17,478.76 60.74,478.76 61.3,478.76 61.86,478.76 62.42,478.76 62.99,478.76 63.55,478.76 64.11,478.76 64.67,478.76 65.24,478.76 65.8,478.76 66.36,478.76 66.92,478.76 67.49,478.76 68.05,478.76 68.61,478.76 69.18,478.76 69.74,478.76 70.3,478.76 70.86,478.76 71.43,478.76 71.99,478.76 72.55,478.76 73.11,478.76 73.68,478.76 74.24,478.76 74.8,478.76 75.36,478.76 75.93,478.76 76.49,478.76 77.05,478.76 77.61,478.76 78.18,478.76 78.74,478.76 79.3,478.76 79.86,478.76 80.43,478.76 80.99,478.76 81.55,478.76 82.11,478.76 82.68,478.76 83.24,478.76 83.8,425.92 84.36,425.41 84.92,424.9 85.49,424.39 86.05,423.88 86.61,422.82 87.18,421.76 87.74,420.69 88.3,419.63 88.86,419.95 89.43,420.28 89.99,420.6 90.55,420.92 91.11,420.42 91.68,419.91 92.24,419.4 92.8,418.89 93.36,418.38 93.93,417.87 94.49,417.36 95.05,416.85 95.61,417.18 96.18,417.5 96.74,417.83 97.3,418.15 97.86,417.78 98.43,417.41 98.99,417.04 99.55,416.67 100.11,416.3 100.68,415.93 101.24,415.56 101.8,415.19 102.36,415.38 102.93,415.56 103.49,415.75 104.05,415.93 104.61,416.12 105.18,416.3 105.74,416.48 106.3,416.67 106.86,416.85 107.42,417.04 107.99,417.22 108.55,417.41 109.11,417.59 109.68,417.78 110.24,417.96 110.8,418.15 111.36,418.29 111.93,418.43 112.49,418.57 113.05,418.7 113.61,418.84 114.18,418.98 114.74,419.12 115.3,419.26 115.86,418.98 116.43,418.7 116.99,418.43 117.55,418.15 118.11,417.87 118.68,417.59 119.24,417.32 119.8,417.04 120.36,417.18 120.93,417.32 121.49,417.46 122.05,417.59 122.61,417.73 123.18,417.87 123.74,418.01 124.3,418.15 124.86,417.87 125.43,417.59 125.99,417.32 126.55,417.04 127.11,416.76 127.68,416.48 128.24,416.21 128.8,415.93 128.8,433.69 128.24,433.97 127.68,434.25 127.11,434.52 126.55,434.8 125.99,435.08 125.43,435.35 124.86,435.63 124.3,435.91 123.74,435.77 123.18,435.63 122.61,435.49 122.05,435.35 121.49,435.22 120.93,435.08 120.36,434.94 119.8,434.8 119.24,435.08 118.68,435.36 118.11,435.63 117.55,435.91 116.99,436.19 116.43,436.46 115.86,436.74 115.3,437.02 114.74,436.88 114.18,436.74 113.61,436.6 113.05,436.46 112.49,436.33 111.93,436.19 111.36,436.05 110.8,435.91 110.24,435.82 109.68,435.72 109.11,435.63 108.55,435.54 107.99,435.45 107.42,435.35 106.86,435.26 106.3,435.17 105.74,435.08 105.18,434.99 104.61,434.89 104.05,434.8 103.49,434.71 102.93,434.62 102.36,434.52 101.8,434.43 101.24,434.89 100.68,435.35 100.11,435.82 99.55,436.28 98.99,436.74 98.43,437.2 97.86,437.67 97.3,438.13 96.74,437.9 96.18,437.67 95.61,437.44 95.05,437.2 94.49,437.81 93.93,438.41 93.36,439.01 92.8,439.61 92.24,440.21 91.68,440.81 91.11,441.41 90.55,442.01 89.99,441.78 89.43,441.55 88.86,441.32 88.3,441.09 87.74,442.25 87.18,443.4 86.61,444.56 86.05,445.71 85.49,446.32 84.92,446.92 84.36,447.52 83.8,448.12 83.24,479.64 82.68,479.64 82.11,479.64 81.55,479.64 80.99,479.64 80.43,479.64 79.86,479.64 79.3,479.64 78.74,479.64 78.18,479.64 77.61,479.64 77.05,479.64 76.49,479.64 75.93,479.64 75.36,479.64 74.8,479.64 74.24,479.64 73.68,479.64 73.11,479.64 72.55,479.64 71.99,479.64 71.43,479.64 70.86,479.64 70.3,479.64 69.74,479.64 69.18,479.64 68.61,479.64 68.05,479.64 67.49,479.64 66.92,479.64 66.36,479.64 65.8,479.64 65.24,479.64 64.67,479.64 64.11,479.64 63.55,479.64 62.99,479.64 62.42,479.64 61.86,479.64 61.3,479.64 60.74,479.64 60.17,479.64 59.61,479.64 59.05,479.64 58.49,479.64 57.92,479.64 57.36,479.64 56.8,479.64 56.24,479.64 55.67,479.64 55.11,479.64 54.55,479.64 53.99,479.64 53.42,479.64 52.86,479.64 52.3,479.64 51.74,479.64 51.17,479.64 50.61,479.64 50.05,479.64 49.49,479.64 48.92,479.64 48.36,479.64 47.8,479.64 47.24,479.64 46.67,479.64 46.11,479.64 45.55,479.64 44.99,479.64 44.42,479.64 43.86,479.64 43.3,479.64 42.74,479.64 42.17,479.64 41.61,479.64 41.05,479.64 40.49,479.64 39.92,479.64 39.36,479.64 38.8,479.64" stroke="none" fill="#cfc4b8" stroke-width="1" fill-opacity="0.75"/>
<polygon points="38.8,456.56 39.36,456.56 39.92,456.59 40.49,456.63 41.05,456.69 41.61,456.76 42.17,456.84 42.74,456.94 43.3,457.04 43.86,457.16 44.42,457.28 44.99,457.41 45.55,457.54 46.11,457.68 46.67,457.82 47.24,457.96 47.8,458.11 48.36,458.26 48.92,458.4 49.49,458.54 50.05,458.68 50.61,458.81 51.17,458.94 51.74,459.06 52.3,459.18 52.86,459.28 53.42,459.38 53.99,459.46 54.55,459.53 55.11,459.59 55.67,459.63 56.24,459.66 56.8,459.66 57.36,459.67 57.92,459.68 58.49,459.7 59.05,459.73 59.61,459.77 60.17,459.81 60.74,459.85 61.3,459.9 61.86,459.95 62.42,460 62.99,460.05 63.55,460.1 64.11,460.14 64.67,460.19 65.24,460.23 65.8,460.26 66.36,460.29 66.92,460.31 67.49,460.33 68.05,460.33 68.61,460.31 69.18,460.23 69.74,460.13 70.3,459.98 70.86,459.82 71.43,459.63 71.99,459.43 72.55,459.22 73.11,459.01 73.68,458.81 74.24,458.62 74.8,458.46 75.36,458.31 75.93,458.21 76.49,458.13 77.05,458.11 77.61,458.04 78.18,457.86 78.74,457.59 79.3,457.25 79.86,456.86 80.43,456.44 80.99,456.03 81.55,455.64 82.11,455.3 82.68,455.03 83.24,454.85 83.8,454.78 84.36,454.56 84.92,453.96 85.49,453.05 86.05,451.9 86.61,450.6 87.18,449.23 87.74,447.86 88.3,446.56 88.86,445.41 89.43,444.5 89.99,443.9 90.55,443.68 91.11,443.44 91.68,442.77 92.24,441.73 92.8,440.38 93.36,438.79 93.93,437.01 94.49,435.1 95.05,433.13 95.61,431.17 96.18,429.26 96.74,427.48 97.3,425.89 97.86,424.54 98.43,423.5 98.99,422.83 99.55,422.59 100.11,422.57 100.68,422.51 101.24,422.42 101.8,422.3 102.36,422.17 102.93,422.03 103.49,421.9 104.05,421.77 104.61,421.65 105.18,421.56 105.74,421.5 106.3,421.48 106.86,421.48 107.42,421.5 107.99,421.52 108.55,421.55 109.11,421.58 109.68,421.62 110.24,421.66 110.8,421.7 111.36,421.74 111.93,421.78 112.49,421.82 113.05,421.85 113.61,421.88 114.18,421.9 114.74,421.92 115.3,421.92 115.86,421.94 116.43,421.97 116.99,422.02 117.55,422.09 118.11,422.17 118.68,422.27 119.24,422.38 119.8,422.5 120.36,422.63 120.93,422.76 121.49,422.9 122.05,423.03 122.61,423.17 123.18,423.31 123.74,423.44 124.3,423.57 124.86,423.69 125.43,423.8 125.99,423.9 126.55,423.98 127.11,424.05 127.68,424.1 128.24,424.13 128.8,424.14 128.8,428.58 128.24,428.57 127.68,428.54 127.11,428.49 126.55,428.42 125.99,428.34 125.43,428.24 124.86,428.13 124.3,428.01 123.74,427.88 123.18,427.75 122.61,427.61 122.05,427.47 121.49,427.34 120.93,427.2 120.36,427.07 119.8,426.94 119.24,426.82 118.68,426.71 118.11,426.61 117.55,426.53 116.99,426.46 116.43,426.41 115.86,426.38 115.3,426.36 114.74,426.36 114.18,426.34 113.61,426.32 113.05,426.29 112.49,426.26 111.93,426.22 111.36,426.18 110.8,426.14 110.24,426.1 109.68,426.06 109.11,426.02 108.55,425.99 107.99,425.96 107.42,425.94 106.86,425.92 106.3,425.92 105.74,425.94 105.18,426 104.61,426.09 104.05,426.21 103.49,426.34 102.93,426.47 102.36,426.61 101.8,426.74 101.24,426.86 100.68,426.95 100.11,427.01 99.55,427.03 98.99,427.27 98.43,427.94 97.86,428.98 97.3,430.33 96.74,431.92 96.18,433.7 95.61,435.61 95.05,437.57 94.49,439.54 93.93,441.45 93.36,443.23 92.8,444.82 92.24,446.17 91.68,447.21 91.11,447.88 90.55,448.12 89.99,448.34 89.43,448.94 88.86,449.85 88.3,451 87.74,452.3 87.18,453.67 86.61,455.04 86.05,456.34 85.49,457.49 84.92,458.4 84.36,459 83.8,459.22 83.24,459.29 82.68,459.47 82.11,459.74 81.55,460.08 80.99,460.47 80.43,460.88 79.86,461.3 79.3,461.69 78.74,462.03 78.18,462.3 77.61,462.48 77.05,462.55 76.49,462.57 75.93,462.65 75.36,462.75 74.8,462.9 74.24,463.06 73.68,463.25 73.11,463.45 72.55,463.66 71.99,463.87 71.43,464.07 70.86,464.26 70.3,464.42 69.74,464.57 69.18,464.67 68.61,464.75 68.05,464.77 67.49,464.77 66.92,464.75 66.36,464.73 65.8,464.7 65.24,464.67 64.67,464.63 64.11,464.58 63.55,464.54 62.99,464.49 62.42,464.44 61.86,464.39 61.3,464.34 60.74,464.29 60.17,464.25 59.61,464.21 59.05,464.17 58.49,464.14 57.92,464.12 57.36,464.11 56.8,464.1 56.24,464.1 55.67,464.07 55.11,464.03 54.55,463.97 53.99,463.9 53.42,463.82 52.86,463.72 52.3,463.62 51.74,463.5 51.17,463.38 50.61,463.25 50.05,463.12 49.49,462.98 48.92,462.84 48.36,462.7 47.8,462.55 47.24,462.4 46.67,462.26 46.11,462.12 45.55,461.98 44.99,461.85 44.42,461.72 43.86,461.6 43.3,461.48 42.74,461.38 42.17,461.28 41.61,461.2 41.05,461.13 40.49,461.07 39.92,461.03 39.36,461 38.8,461" stroke="none" fill="#9fd89a" stroke-width="1" fill-opacity="0.7"/>
<line x1="38.8" y1="457" x2="128.8" y2="457" stroke="#b77bd0" stroke-width="0.9"/>
<polyline points="38.8,479.2 39.36,479.2 39.92,479.2 40.49,479.2 41.05,479.2 41.61,479.2 42.17,479.2 42.74,479.2 43.3,479.2 43.86,479.2 44.42,479.2 44.99,479.2 45.55,479.2 46.11,479.2 46.67,479.2 47.24,479.2 47.8,479.2 48.36,479.2 48.92,479.2 49.49,479.2 50.05,479.2 50.61,479.2 51.17,479.2 51.74,479.2 52.3,479.2 52.86,479.2 53.42,479.2 53.99,479.2 54.55,479.2 55.11,479.2 55.67,479.2 56.24,479.2 56.8,479.2 57.36,479.2 57.92,479.2 58.49,479.2 59.05,479.2 59.61,479.2 60.17,479.2 60.74,479.2 61.3,479.2 61.86,479.2 62.42,479.2 62.99,479.2 63.55,479.2 64.11,479.2 64.67,479.2 65.24,479.2 65.8,479.2 66.36,479.2 66.92,479.2 67.49,479.2 68.05,479.2 68.61,479.2 69.18,479.2 69.74,479.2 70.3,479.2 70.86,479.2 71.43,479.2 71.99,479.2 72.55,479.2 73.11,479.2 73.68,479.2 74.24,479.2 74.8,479.2 75.36,479.2 75.93,479.2 76.49,479.2 77.05,479.2 77.61,479.2 78.18,479.2 78.74,479.2 79.3,479.2 79.86,479.2 80.43,479.2 80.99,479.2 81.55,479.2 82.11,479.2 82.68,479.2 83.24,479.2 83.8,437.02 84.36,436.46 84.92,435.91 85.49,435.35 86.05,434.8 86.61,433.69 87.18,432.58 87.74,431.47 88.3,430.36 88.86,430.64 89.43,430.91 89.99,431.19 90.55,431.47 91.11,430.91 91.68,430.36 92.24,429.8 92.8,429.25 93.36,428.69 93.93,428.14 94.49,427.58 95.05,427.03 95.61,427.31 96.18,427.58 96.74,427.86 97.3,428.14 97.86,427.72 98.43,427.31 98.99,426.89 99.55,426.47 100.11,426.06 100.68,425.64 101.24,425.23 101.8,424.81 102.36,424.95 102.93,425.09 103.49,425.23 104.05,425.37 104.61,425.5 105.18,425.64 105.74,425.78 106.3,425.92 106.86,426.06 107.42,426.2 107.99,426.34 108.55,426.47 109.11,426.61 109.68,426.75 110.24,426.89 110.8,427.03 111.36,427.17 111.93,427.31 112.49,427.45 113.05,427.58 113.61,427.72 114.18,427.86 114.74,428 115.3,428.14 115.86,427.86 116.43,427.58 116.99,427.31 117.55,427.03 118.11,426.75 118.68,426.47 119.24,426.2 119.8,425.92 120.36,426.06 120.93,426.2 121.49,426.34 122.05,426.47 122.61,426.61 123.18,426.75 123.74,426.89 124.3,427.03 124.86,426.75 125.43,426.47 125.99,426.2 126.55,425.92 127.11,425.64 127.68,425.37 128.24,425.09 128.8,424.81" stroke="#a57b50" fill="none" stroke-width="1.1"/>
<polyline points="38.8,458.78 39.36,458.78 39.92,458.81 40.49,458.85 41.05,458.91 41.61,458.98 42.17,459.06 42.74,459.16 43.3,459.26 43.86,459.38 44.42,459.5 44.99,459.63 45.55,459.76 46.11,459.9 46.67,460.04 47.24,460.18 47.8,460.33 48.36,460.48 48.92,460.62 49.49,460.76 50.05,460.9 50.61,461.03 51.17,461.16 51.74,461.28 52.3,461.4 52.86,461.5 53.42,461.6 53.99,461.68 54.55,461.75 55.11,461.81 55.67,461.85 56.24,461.88 56.8,461.88 57.36,461.89 57.92,461.9 58.49,461.92 59.05,461.95 59.61,461.99 60.17,462.03 60.74,462.07 61.3,462.12 61.86,462.17 62.42,462.22 62.99,462.27 63.55,462.32 64.11,462.36 64.67,462.41 65.24,462.45 65.8,462.48 66.36,462.51 66.92,462.53 67.49,462.55 68.05,462.55 68.61,462.53 69.18,462.45 69.74,462.35 70.3,462.2 70.86,462.04 71.43,461.85 71.99,461.65 72.55,461.44 73.11,461.23 73.68,461.03 74.24,460.84 74.8,460.68 75.36,460.53 75.93,460.43 76.49,460.35 77.05,460.33 77.61,460.26 78.18,460.08 78.74,459.81 79.3,459.47 79.86,459.08 80.43,458.66 80.99,458.25 81.55,457.86 82.11,457.52 82.68,457.25 83.24,457.07 83.8,457 84.36,456.78 84.92,456.18 85.49,455.27 86.05,454.12 86.61,452.82 87.18,451.45 87.74,450.08 88.3,448.78 88.86,447.63 89.43,446.72 89.99,446.12 90.55,445.9 91.11,445.66 91.68,444.99 92.24,443.95 92.8,442.6 93.36,441.01 93.93,439.23 94.49,437.32 95.05,435.35 95.61,433.39 96.18,431.48 96.74,429.7 97.3,428.11 97.86,426.76 98.43,425.72 98.99,425.05 99.55,424.81 100.11,424.79 100.68,424.73 101.24,424.64 101.8,424.52 102.36,424.39 102.93,424.25 103.49,424.12 104.05,423.99 104.61,423.87 105.18,423.78 105.74,423.72 106.3,423.7 106.86,423.7 107.42,423.72 107.99,423.74 108.55,423.77 109.11,423.8 109.68,423.84 110.24,423.88 110.8,423.92 111.36,423.96 111.93,424 112.49,424.04 113.05,424.07 113.61,424.1 114.18,424.12 114.74,424.14 115.3,424.14 115.86,424.16 116.43,424.19 116.99,424.24 117.55,424.31 118.11,424.39 118.68,424.49 119.24,424.6 119.8,424.72 120.36,424.85 120.93,424.98 121.49,425.12 122.05,425.25 122.61,425.39 123.18,425.53 123.74,425.66 124.3,425.79 124.86,425.91 125.43,426.02 125.99,426.12 126.55,426.2 127.11,426.27 127.68,426.32 128.24,426.35 128.8,426.36" stroke="#37a946" fill="none" stroke-width="2" stroke-linejoin="round"/>
<line x1="83.8" y1="327.9" x2="83.8" y2="479.2" stroke="#111" stroke-width="1.3" stroke-dasharray="1.5,1.6"/>
<line x1="38.8" y1="390.4" x2="38.8" y2="479.6" stroke="#4d4d4d" stroke-width="0.9"/>
<line x1="128.8" y1="390.4" x2="128.8" y2="479.6" stroke="#8a8a8a" stroke-width="0.9"/>
<line x1="38.4" y1="479.2" x2="129.2" y2="479.2" stroke="#4d4d4d" stroke-width="0.9"/>
<line x1="36.3" y1="390.4" x2="38.8" y2="390.4" stroke="#4d4d4d" stroke-width="0.8"/>
<text x="36.2" y="394.2" font-size="10.9" fill="#5fb847" text-anchor="end">3.0</text>
<line x1="36.3" y1="412.6" x2="38.8" y2="412.6" stroke="#4d4d4d" stroke-width="0.8"/>
<text x="36.2" y="416.4" font-size="10.9" fill="#5fb847" text-anchor="end">2.0</text>
<line x1="36.3" y1="434.8" x2="38.8" y2="434.8" stroke="#4d4d4d" stroke-width="0.8"/>
<text x="36.2" y="438.6" font-size="10.9" fill="#5fb847" text-anchor="end">1.0</text>
<line x1="36.3" y1="457" x2="38.8" y2="457" stroke="#4d4d4d" stroke-width="0.8"/>
<text x="36.2" y="460.8" font-size="10.9" fill="#5fb847" text-anchor="end">0.0</text>
<line x1="36.3" y1="479.2" x2="38.8" y2="479.2" stroke="#4d4d4d" stroke-width="0.8"/>
<text x="36.2" y="483" font-size="10.9" fill="#5fb847" text-anchor="end">-1.0</text>
<line x1="128.8" y1="390.4" x2="131.3" y2="390.4" stroke="#8a8a8a" stroke-width="0.8"/>
<text x="131.2" y="394.2" font-size="10.9" fill="#c3a17c">2.0</text>
<line x1="128.8" y1="412.6" x2="131.3" y2="412.6" stroke="#8a8a8a" stroke-width="0.8"/>
<text x="131.2" y="416.4" font-size="10.9" fill="#c3a17c">1.5</text>
<line x1="128.8" y1="434.8" x2="131.3" y2="434.8" stroke="#8a8a8a" stroke-width="0.8"/>
<text x="131.2" y="438.6" font-size="10.9" fill="#c3a17c">1.0</text>
<line x1="128.8" y1="457" x2="131.3" y2="457" stroke="#8a8a8a" stroke-width="0.8"/>
<text x="131.2" y="460.8" font-size="10.9" fill="#c3a17c">0.5</text>
<line x1="128.8" y1="479.2" x2="131.3" y2="479.2" stroke="#8a8a8a" stroke-width="0.8"/>
<text x="131.2" y="483" font-size="10.9" fill="#c3a17c">0.0</text>
<line x1="38.8" y1="479.2" x2="38.8" y2="481.7" stroke="#4d4d4d" stroke-width="0.8"/>
<text x="38.8" y="492.4" font-size="10.5" fill="#231f20" text-anchor="middle">-1.0</text>
<line x1="61.3" y1="479.2" x2="61.3" y2="481.7" stroke="#4d4d4d" stroke-width="0.8"/>
<text x="61.3" y="492.4" font-size="10.5" fill="#231f20" text-anchor="middle">-0.5</text>
<line x1="83.8" y1="479.2" x2="83.8" y2="481.7" stroke="#4d4d4d" stroke-width="0.8"/>
<text x="83.8" y="492.4" font-size="10.5" fill="#231f20" text-anchor="middle">0.0</text>
<line x1="106.3" y1="479.2" x2="106.3" y2="481.7" stroke="#4d4d4d" stroke-width="0.8"/>
<text x="106.3" y="492.4" font-size="10.5" fill="#231f20" text-anchor="middle">0.5</text>
<line x1="128.8" y1="479.2" x2="128.8" y2="481.7" stroke="#4d4d4d" stroke-width="0.8"/>
<text x="128.8" y="492.4" font-size="10.5" fill="#231f20" text-anchor="middle">1.0</text>
<text x="83.8" y="502.5" font-size="11.9" fill="#231f20" text-anchor="middle">Time (s)</text>
<text transform="translate(14.5,428) rotate(-90)" x="0" y="0" font-size="12.2" fill="#5fb847" text-anchor="middle">ΔF/F (z-score)</text>
<text transform="translate(158.4,434.9) rotate(-90)" x="0" y="0" font-size="12.2" fill="#c3a17c" text-anchor="middle">Vel. (cm/s)</text>
<rect x="212.7" y="326.8" width="90.5" height="6.48" fill="url(#hg12)"/>
<rect x="212.7" y="332.48" width="90.5" height="6.48" fill="url(#hg13)"/>
<rect x="212.7" y="338.16" width="90.5" height="6.48" fill="url(#hg14)"/>
<rect x="212.7" y="343.84" width="90.5" height="6.48" fill="url(#hg15)"/>
<rect x="212.7" y="349.52" width="90.5" height="6.48" fill="url(#hg16)"/>
<rect x="212.7" y="355.2" width="90.5" height="6.48" fill="url(#hg17)"/>
<rect x="212.7" y="360.88" width="90.5" height="6.48" fill="url(#hg18)"/>
<rect x="212.7" y="366.56" width="90.5" height="6.48" fill="url(#hg19)"/>
<rect x="212.7" y="372.24" width="90.5" height="6.48" fill="url(#hg20)"/>
<rect x="212.7" y="377.92" width="90.5" height="5.68" fill="url(#hg21)"/>
<line x1="212.3" y1="326.8" x2="212.3" y2="384.2" stroke="#333" stroke-width="0.8"/>
<line x1="211.9" y1="383.9" x2="303.2" y2="383.9" stroke="#333" stroke-width="0.8"/>
<line x1="210.5" y1="329.64" x2="212.3" y2="329.64" stroke="#333" stroke-width="0.7"/>
<line x1="210.5" y1="380.76" x2="212.3" y2="380.76" stroke="#333" stroke-width="0.7"/>
<text x="210.8" y="331.4" font-size="8.2" fill="#231f20" text-anchor="end">1</text>
<text x="211.1" y="383.8" font-size="8.2" fill="#231f20" text-anchor="end">10</text>
<text x="217.6" y="323.9" font-size="11.9" fill="#231f20">Norm’d activity</text>
<text transform="translate(201.4,350.8) rotate(-90)" x="0" y="0" font-size="11.9" fill="#231f20" text-anchor="middle">Mouse #</text>
<rect x="305.9" y="340.2" width="3.8" height="36.2" fill="url(#hg22)" stroke="#333" stroke-width="0.6"/>
<text x="326.5" y="343.3" font-size="10.5" fill="#231f20" text-anchor="end">1.0</text>
<text x="326.5" y="356" font-size="10.5" fill="#231f20" text-anchor="end">0.5</text>
<text x="326.5" y="367.2" font-size="10.5" fill="#231f20" text-anchor="end">0.0</text>
<polyline points="212.7,436.78 213.61,437.15 214.52,437.33 215.42,437.26 216.33,437 217.24,436.67 218.15,436.4 219.06,436.26 219.96,436.21 220.87,436.11 221.78,435.83 222.69,435.3 223.6,434.57 224.5,433.8 225.41,433.19 226.32,432.87 227.23,432.82 228.14,432.87 229.04,432.79 229.95,432.4 230.86,431.67 231.77,430.75 232.68,429.91 233.58,429.42 234.49,429.41 235.4,429.78 236.31,430.24 237.22,430.43 238.12,430.15 239.03,429.42 239.94,428.45 240.85,427.57 241.76,427.06 242.66,427.04 243.57,427.38 244.48,427.81 245.39,428.01 246.3,427.81 247.2,427.22 248.11,426.41 249.02,425.67 249.93,425.2 250.84,425.05 251.74,425.12 252.65,425.22 253.56,425.16 254.47,424.89 255.38,424.5 256.28,424.19 257.19,424.11 258.1,424.35 259.01,424.85 259.92,425.43 260.82,425.88 261.73,426.07 262.64,426 263.55,425.79 264.46,425.65 265.36,425.72 266.27,426.09 267.18,426.73 268.09,427.55 269,428.43 269.9,429.32 270.81,430.16 271.72,430.95 272.63,431.64 273.54,432.18 274.44,432.52 275.35,432.63 276.26,432.58 277.17,432.51 278.08,432.55 278.98,432.84 279.89,433.38 280.8,434.04 281.71,434.83 282.62,435.71 283.52,436.58 284.43,437.42 285.34,438.34 286.25,439.47 287.16,440.86 288.06,442.47 288.97,444.14 289.88,445.71 290.79,447.12 291.7,448.4 292.6,449.75 293.51,451.38 294.42,453.38 295.33,455.7 296.24,458.07 297.14,460.14 298.05,461.59 298.96,462.31 299.87,462.4 300.78,462.17 301.68,461.96 302.59,462.01 303.5,462.33" stroke="#c9c9c9" fill="none" stroke-width="0.45"/>
<polyline points="212.7,444.65 213.61,445.23 214.52,445.84 215.42,446.26 216.33,446.42 217.24,446.36 218.15,446.2 219.06,446.06 219.96,445.95 220.87,445.82 221.78,445.56 222.69,445.12 223.6,444.55 224.5,443.98 225.41,443.55 226.32,443.34 227.23,443.29 228.14,443.22 229.04,442.97 229.95,442.47 230.86,441.81 231.77,441.2 232.68,440.89 233.58,441 234.49,441.48 235.4,442.11 236.31,442.59 237.22,442.71 238.12,442.43 239.03,441.91 239.94,441.43 240.85,441.15 241.76,441.11 242.66,441.23 243.57,441.31 244.48,441.16 245.39,440.69 246.3,439.96 247.2,439.12 248.11,438.34 249.02,437.68 249.93,437.11 250.84,436.53 251.74,435.85 252.65,435.07 253.56,434.28 254.47,433.6 255.38,433.12 256.28,432.79 257.19,432.47 258.1,431.98 259.01,431.25 259.92,430.33 260.82,429.43 261.73,428.79 262.64,428.57 263.55,428.76 264.46,429.16 265.36,429.49 266.27,429.53 267.18,429.23 268.09,428.75 269,428.38 269.9,428.35 270.81,428.77 271.72,429.56 272.63,430.51 273.54,431.38 274.44,432.05 275.35,432.54 276.26,432.99 277.17,433.58 278.08,434.41 278.98,435.46 279.89,436.6 280.8,437.73 281.71,438.76 282.62,439.74 283.52,440.74 284.43,441.81 285.34,442.92 286.25,443.9 287.16,444.57 288.06,444.79 288.97,444.58 289.88,444.08 290.79,443.71 291.7,443.82 292.6,444.4 293.51,445.29 294.42,446.2 295.33,446.89 296.24,447.29 297.14,447.49 298.05,447.75 298.96,448.29 299.87,449.23 300.78,450.48 301.68,451.78 302.59,452.82 303.5,453.39" stroke="#c9c9c9" fill="none" stroke-width="0.45"/>
<polyline points="212.7,431.19 213.61,431.12 214.52,430.87 215.42,430.45 216.33,429.95 217.24,429.45 218.15,429.04 219.06,428.78 219.96,428.69 220.87,428.78 221.78,428.98 222.69,429.23 223.6,429.43 224.5,429.52 225.41,429.45 226.32,429.21 227.23,428.83 228.14,428.37 229.04,427.93 229.95,427.59 230.86,427.42 231.77,427.45 232.68,427.68 233.58,428.06 234.49,428.5 235.4,428.91 236.31,429.19 237.22,429.26 238.12,429.11 239.03,428.77 239.94,428.31 240.85,427.83 241.76,427.42 242.66,427.16 243.57,427.09 244.48,427.2 245.39,427.43 246.3,427.69 247.2,427.89 248.11,427.94 249.02,427.78 249.93,427.41 250.84,426.87 251.74,426.26 252.65,425.67 253.56,425.21 254.47,424.95 255.38,424.94 256.28,425.14 257.19,425.49 258.1,425.88 259.01,426.24 259.92,426.47 260.82,426.53 261.73,426.42 262.64,426.2 263.55,425.96 264.46,425.79 265.36,425.8 266.27,426.04 267.18,426.52 268.09,427.18 269,427.93 269.9,428.68 270.81,429.31 271.72,429.74 272.63,429.96 273.54,429.97 274.44,429.85 275.35,429.69 276.26,429.59 277.17,429.62 278.08,429.82 278.98,430.16 279.89,430.59 280.8,431 281.71,431.41 282.62,431.8 283.52,432.12 284.43,432.36 285.34,432.55 286.25,432.77 287.16,433.1 288.06,433.59 288.97,434.3 289.88,435.23 290.79,436.33 291.7,437.52 292.6,438.71 293.51,439.82 294.42,440.76 295.33,441.53 296.24,442.12 297.14,442.59 298.05,442.99 298.96,443.39 299.87,443.83 300.78,444.32 301.68,444.84 302.59,445.32 303.5,445.7" stroke="#c9c9c9" fill="none" stroke-width="0.45"/>
<polyline points="212.7,451.73 213.61,451.66 214.52,451.37 215.42,450.96 216.33,450.58 217.24,450.34 218.15,450.29 219.06,450.41 219.96,450.63 220.87,450.88 221.78,451.11 222.69,451.28 223.6,451.4 224.5,451.5 225.41,451.58 226.32,451.66 227.23,451.74 228.14,451.81 229.04,451.88 229.95,451.96 230.86,452.07 231.77,452.21 232.68,452.34 233.58,452.45 234.49,452.48 235.4,452.43 236.31,452.26 237.22,452.02 238.12,451.76 239.03,451.55 239.94,451.43 240.85,451.4 241.76,451.38 242.66,451.3 243.57,451.07 244.48,450.64 245.39,449.99 246.3,449.15 247.2,448.19 248.11,447.21 249.02,446.3 249.93,445.52 250.84,444.94 251.74,444.56 252.65,444.37 253.56,444.31 254.47,444.32 255.38,444.31 256.28,444.24 257.19,444.07 258.1,443.85 259.01,443.63 259.92,443.47 260.82,443.45 261.73,443.61 262.64,443.93 263.55,444.38 264.46,444.87 265.36,445.34 266.27,445.76 267.18,446.12 268.09,446.47 269,446.85 269.9,447.29 270.81,447.78 271.72,448.31 272.63,448.83 273.54,449.3 274.44,449.7 275.35,450.01 276.26,450.23 277.17,450.36 278.08,450.37 278.98,450.25 279.89,450.02 280.8,449.7 281.71,449.47 282.62,449.51 283.52,449.9 284.43,450.64 285.34,451.65 286.25,452.81 287.16,453.95 288.06,454.93 288.97,455.68 289.88,456.22 290.79,456.68 291.7,457.19 292.6,457.88 293.51,458.79 294.42,459.9 295.33,461.07 296.24,462.2 297.14,463.18 298.05,463.98 298.96,464.62 299.87,465.16 300.78,465.63 301.68,466.04 302.59,466.32 303.5,466.41" stroke="#c9c9c9" fill="none" stroke-width="0.45"/>
<polyline points="212.7,444.54 213.61,444.84 214.52,444.94 215.42,444.71 216.33,444.17 217.24,443.45 218.15,442.76 219.06,442.25 219.96,441.96 220.87,441.8 221.78,441.6 222.69,441.2 223.6,440.55 224.5,439.77 225.41,439.04 226.32,438.57 227.23,438.46 228.14,438.65 229.04,438.91 229.95,438.99 230.86,438.68 231.77,437.99 232.68,437.07 233.58,436.24 234.49,435.77 235.4,435.79 236.31,436.23 237.22,436.8 238.12,437.18 239.03,437.09 239.94,436.47 240.85,435.51 241.76,434.54 242.66,433.89 243.57,433.78 244.48,434.21 245.39,434.85 246.3,435.29 247.2,435.26 248.11,434.65 249.02,433.57 249.93,432.26 250.84,431.03 251.74,430.1 252.65,429.5 253.56,429.14 254.47,428.83 255.38,428.38 256.28,427.7 257.19,426.83 258.1,425.91 259.01,425.11 259.92,424.52 260.82,424.17 261.73,424.02 262.64,423.97 263.55,423.93 264.46,423.85 265.36,423.78 266.27,423.81 267.18,423.97 268.09,424.25 269,424.56 269.9,424.8 270.81,424.91 271.72,424.91 272.63,424.86 273.54,424.91 274.44,425.12 275.35,425.54 276.26,426.1 277.17,426.68 278.08,427.16 278.98,427.45 279.89,427.56 280.8,427.54 281.71,427.5 282.62,427.51 283.52,427.6 284.43,427.75 285.34,427.91 286.25,428.12 287.16,428.43 288.06,428.84 288.97,429.33 289.88,429.87 290.79,430.43 291.7,430.95 292.6,431.41 293.51,431.85 294.42,432.33 295.33,432.97 296.24,433.83 297.14,434.88 298.05,435.99 298.96,436.97 299.87,437.62 300.78,437.82 301.68,437.61 302.59,437.17 303.5,436.73" stroke="#c9c9c9" fill="none" stroke-width="0.45"/>
<polyline points="212.7,454.55 213.61,454.23 214.52,454.02 215.42,453.97 216.33,454.07 217.24,454.22 218.15,454.31 219.06,454.21 219.96,453.86 220.87,453.24 221.78,452.46 222.69,451.62 223.6,450.85 224.5,450.22 225.41,449.73 226.32,449.31 227.23,448.84 228.14,448.2 229.04,447.35 229.95,446.34 230.86,445.29 231.77,444.4 232.68,443.86 233.58,443.8 234.49,444.23 235.4,445.05 236.31,446 237.22,446.78 238.12,447.22 239.03,447.24 239.94,446.85 240.85,446.21 241.76,445.49 242.66,444.84 243.57,444.37 244.48,444.06 245.39,443.83 246.3,443.52 247.2,443.03 248.11,442.31 249.02,441.39 249.93,440.42 250.84,439.58 251.74,439.01 252.65,438.81 253.56,438.95 254.47,439.31 255.38,439.72 256.28,439.99 257.19,440.02 258.1,439.78 259.01,439.4 259.92,439.04 260.82,438.87 261.73,439.03 262.64,439.55 263.55,440.4 264.46,441.48 265.36,442.63 266.27,443.73 267.18,444.73 268.09,445.6 269,446.39 269.9,447.18 270.81,447.99 271.72,448.85 272.63,449.7 273.54,450.45 274.44,451.03 275.35,451.38 276.26,451.47 277.17,451.37 278.08,451.14 278.98,450.9 279.89,450.73 280.8,450.65 281.71,450.76 282.62,451.14 283.52,451.7 284.43,452.39 285.34,453.16 286.25,453.96 287.16,454.79 288.06,455.6 288.97,456.38 289.88,457.06 290.79,457.62 291.7,458.02 292.6,458.27 293.51,458.42 294.42,458.54 295.33,458.7 296.24,458.97 297.14,459.37 298.05,459.86 298.96,460.38 299.87,460.83 300.78,461.15 301.68,461.29 302.59,461.28 303.5,461.17" stroke="#c9c9c9" fill="none" stroke-width="0.45"/>
<polyline points="212.7,440.17 213.61,440.33 214.52,440 215.42,439.26 216.33,438.36 217.24,437.57 218.15,437.1 219.06,437 219.96,437.19 220.87,437.52 221.78,437.86 222.69,438.13 223.6,438.33 224.5,438.45 225.41,438.48 226.32,438.42 227.23,438.24 228.14,437.96 229.04,437.65 229.95,437.39 230.86,437.22 231.77,437.11 232.68,436.93 233.58,436.6 234.49,436.11 235.4,435.55 236.31,435.1 237.22,434.96 238.12,435.18 239.03,435.68 239.94,436.18 240.85,436.35 241.76,435.97 242.66,435.03 243.57,433.79 244.48,432.62 245.39,431.89 246.3,431.75 247.2,432.08 248.11,432.55 249.02,432.8 249.93,432.59 250.84,431.98 251.74,431.23 252.65,430.71 253.56,430.64 254.47,431.04 255.38,431.64 256.28,432.07 257.19,432.02 258.1,431.41 259.01,430.38 259.92,429.24 260.82,428.4 261.73,428.07 262.64,428.22 263.55,428.62 264.46,428.97 265.36,429.03 266.27,428.75 267.18,428.23 268.09,427.69 269,427.3 269.9,427.11 270.81,427.08 271.72,427.09 272.63,427.05 273.54,426.91 274.44,426.69 275.35,426.45 276.26,426.25 277.17,426.17 278.08,426.26 278.98,426.53 279.89,427.02 280.8,427.76 281.71,428.75 282.62,429.94 283.52,431.19 284.43,432.36 285.34,433.35 286.25,434.22 287.16,435.12 288.06,436.29 288.97,437.9 289.88,439.91 290.79,442.13 291.7,444.23 292.6,445.88 293.51,446.96 294.42,447.59 295.33,448.08 296.24,448.8 297.14,449.95 298.05,451.49 298.96,453.13 299.87,454.47 300.78,455.19 301.68,455.23 302.59,454.8 303.5,454.25" stroke="#c9c9c9" fill="none" stroke-width="0.45"/>
<polyline points="212.7,447.26 213.61,447.61 214.52,448.17 215.42,448.73 216.33,449.09 217.24,449.08 218.15,448.76 219.06,448.27 219.96,447.83 220.87,447.54 221.78,447.39 222.69,447.25 223.6,446.96 224.5,446.47 225.41,445.86 226.32,445.28 227.23,444.86 228.14,444.64 229.04,444.51 229.95,444.27 230.86,443.79 231.77,443.1 232.68,442.35 233.58,441.81 234.49,441.65 235.4,441.88 236.31,442.33 237.22,442.69 238.12,442.72 239.03,442.35 239.94,441.7 240.85,441 241.76,440.5 242.66,440.27 243.57,440.21 244.48,440.12 245.39,439.82 246.3,439.28 247.2,438.61 248.11,438.02 249.02,437.69 249.93,437.63 250.84,437.74 251.74,437.78 252.65,437.61 253.56,437.2 254.47,436.7 255.38,436.3 256.28,436.19 257.19,436.39 258.1,436.78 259.01,437.21 259.92,437.56 260.82,437.8 261.73,437.97 262.64,438.2 263.55,438.53 264.46,438.93 265.36,439.28 266.27,439.51 267.18,439.64 268.09,439.83 269,440.29 269.9,441.15 270.81,442.35 271.72,443.67 272.63,444.73 273.54,445.27 274.44,445.22 275.35,444.78 276.26,444.31 277.17,444.2 278.08,444.61 278.98,445.46 279.89,446.41 280.8,447.08 281.71,447.29 282.62,447.1 283.52,446.66 284.43,446.24 285.34,446.11 286.25,446.37 287.16,447 288.06,447.88 288.97,448.9 289.88,450 290.79,451.17 291.7,452.37 292.6,453.53 293.51,454.53 294.42,455.26 295.33,455.74 296.24,456.08 297.14,456.51 298.05,457.2 298.96,458.17 299.87,459.27 300.78,460.2 301.68,460.63 302.59,460.44 303.5,459.7" stroke="#c9c9c9" fill="none" stroke-width="0.45"/>
<polygon points="212.7,435.91 213.27,435.1 213.83,434.29 214.4,433.47 214.97,432.66 215.54,431.85 216.1,431.04 216.67,431.22 217.24,432.07 217.81,432.92 218.38,433.77 218.94,434.62 219.51,435.47 220.08,436.22 220.64,436.96 221.21,437.71 221.78,438.46 222.35,439.21 222.91,439.96 223.48,440.71 224.05,441.46 224.62,441.38 225.19,441.29 225.75,441.21 226.32,441.13 226.89,441.04 227.45,440.96 228.02,440.88 228.59,440.79 229.16,440.57 229.72,440.35 230.29,440.13 230.86,439.91 231.43,439.68 232,439.46 232.56,439.24 233.13,439.02 233.7,439.91 234.26,440.79 234.83,441.68 235.4,442.57 235.97,442.24 236.53,441.91 237.1,441.58 237.67,441.26 238.24,440.93 238.8,440.6 239.37,440.84 239.94,441.45 240.51,442.06 241.07,442.68 241.64,443.29 242.21,443.9 242.78,444.48 243.34,445.05 243.91,445.62 244.48,446.2 245.05,446.77 245.62,447.34 246.18,447.92 246.75,448.49 247.32,449.3 247.88,450.11 248.45,450.92 249.02,451.74 249.59,452.55 250.16,452.9 250.72,452.57 251.29,452.25 251.86,451.92 252.43,451.59 252.99,451.26 253.56,450.93 254.13,451.89 254.69,452.86 255.26,453.82 255.83,454.78 256.4,455.54 256.96,456.31 257.53,457.07 258.1,478.76 258.67,478.76 259.24,478.76 259.8,478.76 260.37,478.76 260.94,478.76 261.5,478.76 262.07,478.76 262.64,478.76 263.21,478.76 263.77,478.76 264.34,478.76 264.91,478.76 265.48,478.76 266.05,478.76 266.61,478.76 267.18,478.76 267.75,478.76 268.31,478.76 268.88,478.76 269.45,478.76 270.02,478.76 270.58,478.76 271.15,478.76 271.72,478.76 272.29,478.76 272.86,478.76 273.42,478.76 273.99,478.76 274.56,478.76 275.12,478.76 275.69,478.76 276.26,478.76 276.83,478.76 277.39,478.76 277.96,478.76 278.53,478.76 279.1,478.76 279.67,478.76 280.23,478.76 280.8,478.76 281.37,478.76 281.94,478.76 282.5,478.76 283.07,478.76 283.64,478.76 284.2,478.76 284.77,478.76 285.34,478.76 285.91,478.76 286.48,478.76 287.04,478.76 287.61,478.76 288.18,478.76 288.75,478.76 289.31,478.76 289.88,478.76 290.45,478.76 291.01,478.76 291.58,478.76 292.15,478.76 292.72,478.76 293.28,478.76 293.85,478.76 294.42,478.76 294.99,478.76 295.56,478.76 296.12,478.76 296.69,478.76 297.26,478.76 297.82,478.76 298.39,478.76 298.96,478.76 299.53,478.76 300.1,478.76 300.66,478.76 301.23,478.76 301.8,478.76 302.37,478.76 302.93,478.76 303.5,478.76 303.5,479.64 302.93,479.64 302.37,479.64 301.8,479.64 301.23,479.64 300.66,479.64 300.1,479.64 299.53,479.64 298.96,479.64 298.39,479.64 297.82,479.64 297.26,479.64 296.69,479.64 296.12,479.64 295.56,479.64 294.99,479.64 294.42,479.64 293.85,479.64 293.28,479.64 292.72,479.64 292.15,479.64 291.58,479.64 291.01,479.64 290.45,479.64 289.88,479.64 289.31,479.64 288.75,479.64 288.18,479.64 287.61,479.64 287.04,479.64 286.48,479.64 285.91,479.64 285.34,479.64 284.77,479.64 284.2,479.64 283.64,479.64 283.07,479.64 282.5,479.64 281.94,479.64 281.37,479.64 280.8,479.64 280.23,479.64 279.67,479.64 279.1,479.64 278.53,479.64 277.96,479.64 277.39,479.64 276.83,479.64 276.26,479.64 275.69,479.64 275.12,479.64 274.56,479.64 273.99,479.64 273.42,479.64 272.86,479.64 272.29,479.64 271.72,479.64 271.15,479.64 270.58,479.64 270.02,479.64 269.45,479.64 268.88,479.64 268.31,479.64 267.75,479.64 267.18,479.64 266.61,479.64 266.05,479.64 265.48,479.64 264.91,479.64 264.34,479.64 263.77,479.64 263.21,479.64 262.64,479.64 262.07,479.64 261.5,479.64 260.94,479.64 260.37,479.64 259.8,479.64 259.24,479.64 258.67,479.64 258.1,479.64 257.53,459.07 256.96,459.41 256.4,459.76 255.83,460.11 255.26,459.18 254.69,458.26 254.13,457.33 253.56,456.41 252.99,456.77 252.43,457.14 251.86,457.5 251.29,457.87 250.72,458.23 250.16,458.6 249.59,458.28 249.02,457.51 248.45,456.73 247.88,455.96 247.32,455.18 246.75,454.41 246.18,453.87 245.62,453.34 245.05,452.8 244.48,452.26 243.91,451.73 243.34,451.19 242.78,450.65 242.21,450.12 241.64,449.54 241.07,448.97 240.51,448.39 239.94,447.81 239.37,447.24 238.8,447.04 238.24,447.4 237.67,447.77 237.1,448.13 236.53,448.5 235.97,448.86 235.4,449.23 234.83,448.45 234.26,447.68 233.7,446.9 233.13,446.12 232.56,446.45 232,446.79 231.43,447.12 230.86,447.45 230.29,447.79 229.72,448.12 229.16,448.45 228.59,448.79 228.02,448.98 227.45,449.17 226.89,449.37 226.32,449.56 225.75,449.76 225.19,449.95 224.62,450.15 224.05,450.34 223.48,449.7 222.91,449.06 222.35,448.43 221.78,447.79 221.21,447.15 220.64,446.51 220.08,445.87 219.51,445.23 218.94,444.5 218.38,443.76 217.81,443.02 217.24,442.28 216.67,441.55 216.1,441.47 215.54,442.4 214.97,443.32 214.4,444.24 213.83,445.16 213.27,446.09 212.7,447.01" stroke="none" fill="#cfc4b8" stroke-width="1" fill-opacity="0.75"/>
<polygon points="212.7,438.8 213.27,438.79 213.83,438.78 214.4,438.75 214.97,438.72 215.54,438.68 216.1,438.63 216.67,438.58 217.24,438.52 217.81,438.45 218.38,438.38 218.94,438.31 219.51,438.23 220.08,438.15 220.64,438.07 221.21,437.99 221.78,437.91 222.35,437.82 222.91,437.74 223.48,437.66 224.05,437.58 224.62,437.51 225.19,437.43 225.75,437.36 226.32,437.3 226.89,437.24 227.45,437.18 228.02,437.14 228.59,437.1 229.16,437.06 229.72,437.04 230.29,437.03 230.86,437.02 231.43,437 232,436.95 232.56,436.88 233.13,436.77 233.7,436.65 234.26,436.5 234.83,436.34 235.4,436.16 235.97,435.97 236.53,435.77 237.1,435.56 237.67,435.35 238.24,435.15 238.8,434.94 239.37,434.74 239.94,434.55 240.51,434.37 241.07,434.21 241.64,434.06 242.21,433.94 242.78,433.83 243.34,433.76 243.91,433.71 244.48,433.69 245.05,433.67 245.62,433.62 246.18,433.55 246.75,433.44 247.32,433.32 247.88,433.17 248.45,433.01 249.02,432.83 249.59,432.64 250.16,432.44 250.72,432.23 251.29,432.02 251.86,431.82 252.43,431.61 252.99,431.41 253.56,431.22 254.13,431.04 254.69,430.88 255.26,430.73 255.83,430.61 256.4,430.5 256.96,430.43 257.53,430.38 258.1,430.36 258.67,430.35 259.24,430.31 259.8,430.25 260.37,430.18 260.94,430.08 261.5,429.98 262.07,429.86 262.64,429.73 263.21,429.6 263.77,429.47 264.34,429.34 264.91,429.21 265.48,429.08 266.05,428.97 266.61,428.86 267.18,428.77 267.75,428.69 268.31,428.63 268.88,428.6 269.45,428.58 270.02,428.66 270.58,428.88 271.15,429.21 271.72,429.62 272.29,430.09 272.86,430.58 273.42,431.08 273.99,431.54 274.56,431.96 275.12,432.28 275.69,432.5 276.26,432.58 276.83,432.64 277.39,432.8 277.96,433.06 278.53,433.4 279.1,433.82 279.67,434.31 280.23,434.86 280.8,435.46 281.37,436.09 281.94,436.76 282.5,437.44 283.07,438.13 283.64,438.82 284.2,439.5 284.77,440.17 285.34,440.8 285.91,441.4 286.48,441.95 287.04,442.44 287.61,442.86 288.18,443.2 288.75,443.46 289.31,443.62 289.88,443.68 290.45,443.73 291.01,443.89 291.58,444.14 292.15,444.47 292.72,444.87 293.28,445.34 293.85,445.87 294.42,446.44 294.99,447.05 295.56,447.69 296.12,448.34 296.69,449.01 297.26,449.67 297.82,450.33 298.39,450.96 298.96,451.57 299.53,452.15 300.1,452.67 300.66,453.14 301.23,453.55 301.8,453.88 302.37,454.13 302.93,454.28 303.5,454.34 303.5,458.78 302.93,458.72 302.37,458.57 301.8,458.32 301.23,457.99 300.66,457.58 300.1,457.11 299.53,456.59 298.96,456.01 298.39,455.4 297.82,454.77 297.26,454.11 296.69,453.45 296.12,452.78 295.56,452.13 294.99,451.49 294.42,450.88 293.85,450.31 293.28,449.78 292.72,449.31 292.15,448.91 291.58,448.58 291.01,448.33 290.45,448.17 289.88,448.12 289.31,448.06 288.75,447.9 288.18,447.64 287.61,447.3 287.04,446.88 286.48,446.39 285.91,445.84 285.34,445.24 284.77,444.61 284.2,443.94 283.64,443.26 283.07,442.57 282.5,441.88 281.94,441.2 281.37,440.53 280.8,439.9 280.23,439.3 279.67,438.75 279.1,438.26 278.53,437.84 277.96,437.5 277.39,437.24 276.83,437.08 276.26,437.02 275.69,436.94 275.12,436.72 274.56,436.4 273.99,435.98 273.42,435.52 272.86,435.02 272.29,434.53 271.72,434.06 271.15,433.65 270.58,433.32 270.02,433.1 269.45,433.02 268.88,433.04 268.31,433.07 267.75,433.13 267.18,433.21 266.61,433.3 266.05,433.41 265.48,433.52 264.91,433.65 264.34,433.78 263.77,433.91 263.21,434.04 262.64,434.17 262.07,434.3 261.5,434.42 260.94,434.52 260.37,434.62 259.8,434.69 259.24,434.75 258.67,434.79 258.1,434.8 257.53,434.82 256.96,434.87 256.4,434.94 255.83,435.05 255.26,435.17 254.69,435.32 254.13,435.48 253.56,435.66 252.99,435.85 252.43,436.05 251.86,436.26 251.29,436.46 250.72,436.67 250.16,436.88 249.59,437.08 249.02,437.27 248.45,437.45 247.88,437.61 247.32,437.76 246.75,437.88 246.18,437.99 245.62,438.06 245.05,438.11 244.48,438.13 243.91,438.15 243.34,438.2 242.78,438.27 242.21,438.38 241.64,438.5 241.07,438.65 240.51,438.81 239.94,438.99 239.37,439.18 238.8,439.38 238.24,439.59 237.67,439.79 237.1,440 236.53,440.21 235.97,440.41 235.4,440.6 234.83,440.78 234.26,440.94 233.7,441.09 233.13,441.21 232.56,441.32 232,441.39 231.43,441.44 230.86,441.46 230.29,441.47 229.72,441.48 229.16,441.5 228.59,441.54 228.02,441.58 227.45,441.62 226.89,441.68 226.32,441.74 225.75,441.8 225.19,441.87 224.62,441.95 224.05,442.02 223.48,442.1 222.91,442.18 222.35,442.26 221.78,442.35 221.21,442.43 220.64,442.51 220.08,442.59 219.51,442.67 218.94,442.75 218.38,442.82 217.81,442.89 217.24,442.96 216.67,443.02 216.1,443.07 215.54,443.12 214.97,443.16 214.4,443.19 213.83,443.22 213.27,443.23 212.7,443.24" stroke="none" fill="#9fd89a" stroke-width="1" fill-opacity="0.7"/>
<line x1="212.7" y1="457" x2="303.5" y2="457" stroke="#b77bd0" stroke-width="0.9"/>
<polyline points="212.7,441.46 213.27,440.59 213.83,439.73 214.4,438.86 214.97,437.99 215.54,437.12 216.1,436.26 216.67,436.39 217.24,437.18 217.81,437.97 218.38,438.76 218.94,439.56 219.51,440.35 220.08,441.04 220.64,441.74 221.21,442.43 221.78,443.12 222.35,443.82 222.91,444.51 223.48,445.21 224.05,445.9 224.62,445.76 225.19,445.62 225.75,445.48 226.32,445.34 226.89,445.21 227.45,445.07 228.02,444.93 228.59,444.79 229.16,444.51 229.72,444.23 230.29,443.96 230.86,443.68 231.43,443.4 232,443.12 232.56,442.85 233.13,442.57 233.7,443.4 234.26,444.24 234.83,445.07 235.4,445.9 235.97,445.55 236.53,445.21 237.1,444.86 237.67,444.51 238.24,444.17 238.8,443.82 239.37,444.04 239.94,444.63 240.51,445.23 241.07,445.82 241.64,446.42 242.21,447.01 242.78,447.56 243.34,448.12 243.91,448.67 244.48,449.23 245.05,449.78 245.62,450.34 246.18,450.89 246.75,451.45 247.32,452.24 247.88,453.04 248.45,453.83 249.02,454.62 249.59,455.41 250.16,455.75 250.72,455.4 251.29,455.06 251.86,454.71 252.43,454.36 252.99,454.02 253.56,453.67 254.13,454.61 254.69,455.56 255.26,456.5 255.83,457.44 256.4,457.65 256.96,457.86 257.53,458.07 258.1,479.2 258.67,479.2 259.24,479.2 259.8,479.2 260.37,479.2 260.94,479.2 261.5,479.2 262.07,479.2 262.64,479.2 263.21,479.2 263.77,479.2 264.34,479.2 264.91,479.2 265.48,479.2 266.05,479.2 266.61,479.2 267.18,479.2 267.75,479.2 268.31,479.2 268.88,479.2 269.45,479.2 270.02,479.2 270.58,479.2 271.15,479.2 271.72,479.2 272.29,479.2 272.86,479.2 273.42,479.2 273.99,479.2 274.56,479.2 275.12,479.2 275.69,479.2 276.26,479.2 276.83,479.2 277.39,479.2 277.96,479.2 278.53,479.2 279.1,479.2 279.67,479.2 280.23,479.2 280.8,479.2 281.37,479.2 281.94,479.2 282.5,479.2 283.07,479.2 283.64,479.2 284.2,479.2 284.77,479.2 285.34,479.2 285.91,479.2 286.48,479.2 287.04,479.2 287.61,479.2 288.18,479.2 288.75,479.2 289.31,479.2 289.88,479.2 290.45,479.2 291.01,479.2 291.58,479.2 292.15,479.2 292.72,479.2 293.28,479.2 293.85,479.2 294.42,479.2 294.99,479.2 295.56,479.2 296.12,479.2 296.69,479.2 297.26,479.2 297.82,479.2 298.39,479.2 298.96,479.2 299.53,479.2 300.1,479.2 300.66,479.2 301.23,479.2 301.8,479.2 302.37,479.2 302.93,479.2 303.5,479.2" stroke="#a57b50" fill="none" stroke-width="1.1"/>
<polyline points="212.7,441.02 213.27,441.01 213.83,441 214.4,440.97 214.97,440.94 215.54,440.9 216.1,440.85 216.67,440.8 217.24,440.74 217.81,440.67 218.38,440.6 218.94,440.53 219.51,440.45 220.08,440.37 220.64,440.29 221.21,440.21 221.78,440.13 222.35,440.04 222.91,439.96 223.48,439.88 224.05,439.8 224.62,439.73 225.19,439.65 225.75,439.58 226.32,439.52 226.89,439.46 227.45,439.4 228.02,439.36 228.59,439.32 229.16,439.28 229.72,439.26 230.29,439.25 230.86,439.24 231.43,439.22 232,439.17 232.56,439.1 233.13,438.99 233.7,438.87 234.26,438.72 234.83,438.56 235.4,438.38 235.97,438.19 236.53,437.99 237.1,437.78 237.67,437.57 238.24,437.37 238.8,437.16 239.37,436.96 239.94,436.77 240.51,436.59 241.07,436.43 241.64,436.28 242.21,436.16 242.78,436.05 243.34,435.98 243.91,435.93 244.48,435.91 245.05,435.89 245.62,435.84 246.18,435.77 246.75,435.66 247.32,435.54 247.88,435.39 248.45,435.23 249.02,435.05 249.59,434.86 250.16,434.66 250.72,434.45 251.29,434.25 251.86,434.04 252.43,433.83 252.99,433.63 253.56,433.44 254.13,433.26 254.69,433.1 255.26,432.95 255.83,432.83 256.4,432.72 256.96,432.65 257.53,432.6 258.1,432.58 258.67,432.57 259.24,432.53 259.8,432.47 260.37,432.4 260.94,432.3 261.5,432.2 262.07,432.08 262.64,431.95 263.21,431.82 263.77,431.69 264.34,431.56 264.91,431.43 265.48,431.3 266.05,431.19 266.61,431.08 267.18,430.99 267.75,430.91 268.31,430.85 268.88,430.82 269.45,430.8 270.02,430.88 270.58,431.1 271.15,431.43 271.72,431.84 272.29,432.31 272.86,432.8 273.42,433.3 273.99,433.76 274.56,434.18 275.12,434.5 275.69,434.72 276.26,434.8 276.83,434.86 277.39,435.02 277.96,435.28 278.53,435.62 279.1,436.04 279.67,436.53 280.23,437.08 280.8,437.68 281.37,438.31 281.94,438.98 282.5,439.66 283.07,440.35 283.64,441.04 284.2,441.72 284.77,442.39 285.34,443.02 285.91,443.62 286.48,444.17 287.04,444.66 287.61,445.08 288.18,445.42 288.75,445.68 289.31,445.84 289.88,445.9 290.45,445.95 291.01,446.11 291.58,446.36 292.15,446.69 292.72,447.09 293.28,447.56 293.85,448.09 294.42,448.66 294.99,449.27 295.56,449.91 296.12,450.56 296.69,451.23 297.26,451.89 297.82,452.55 298.39,453.18 298.96,453.79 299.53,454.37 300.1,454.89 300.66,455.36 301.23,455.77 301.8,456.1 302.37,456.35 302.93,456.5 303.5,456.56" stroke="#37a946" fill="none" stroke-width="2" stroke-linejoin="round"/>
<line x1="258.1" y1="327.3" x2="258.1" y2="479.2" stroke="#111" stroke-width="1.3" stroke-dasharray="1.5,1.6"/>
<line x1="212.7" y1="390.4" x2="212.7" y2="479.6" stroke="#4d4d4d" stroke-width="0.9"/>
<line x1="303.5" y1="390.4" x2="303.5" y2="479.6" stroke="#8a8a8a" stroke-width="0.9"/>
<line x1="212.3" y1="479.2" x2="303.9" y2="479.2" stroke="#4d4d4d" stroke-width="0.9"/>
<line x1="210.2" y1="390.4" x2="212.7" y2="390.4" stroke="#4d4d4d" stroke-width="0.8"/>
<text x="210.1" y="394.2" font-size="10.9" fill="#5fb847" text-anchor="end">3.0</text>
<line x1="210.2" y1="412.6" x2="212.7" y2="412.6" stroke="#4d4d4d" stroke-width="0.8"/>
<text x="210.1" y="416.4" font-size="10.9" fill="#5fb847" text-anchor="end">2.0</text>
<line x1="210.2" y1="434.8" x2="212.7" y2="434.8" stroke="#4d4d4d" stroke-width="0.8"/>
<text x="210.1" y="438.6" font-size="10.9" fill="#5fb847" text-anchor="end">1.0</text>
<line x1="210.2" y1="457" x2="212.7" y2="457" stroke="#4d4d4d" stroke-width="0.8"/>
<text x="210.1" y="460.8" font-size="10.9" fill="#5fb847" text-anchor="end">0.0</text>
<line x1="210.2" y1="479.2" x2="212.7" y2="479.2" stroke="#4d4d4d" stroke-width="0.8"/>
<text x="210.1" y="483" font-size="10.9" fill="#5fb847" text-anchor="end">-1.0</text>
<line x1="303.5" y1="390.4" x2="306" y2="390.4" stroke="#8a8a8a" stroke-width="0.8"/>
<text x="305.9" y="394.2" font-size="10.9" fill="#c3a17c">2.0</text>
<line x1="303.5" y1="412.6" x2="306" y2="412.6" stroke="#8a8a8a" stroke-width="0.8"/>
<text x="305.9" y="416.4" font-size="10.9" fill="#c3a17c">1.5</text>
<line x1="303.5" y1="434.8" x2="306" y2="434.8" stroke="#8a8a8a" stroke-width="0.8"/>
<text x="305.9" y="438.6" font-size="10.9" fill="#c3a17c">1.0</text>
<line x1="303.5" y1="457" x2="306" y2="457" stroke="#8a8a8a" stroke-width="0.8"/>
<text x="305.9" y="460.8" font-size="10.9" fill="#c3a17c">0.5</text>
<line x1="303.5" y1="479.2" x2="306" y2="479.2" stroke="#8a8a8a" stroke-width="0.8"/>
<text x="305.9" y="483" font-size="10.9" fill="#c3a17c">0.0</text>
<line x1="212.7" y1="479.2" x2="212.7" y2="481.7" stroke="#4d4d4d" stroke-width="0.8"/>
<text x="212.7" y="492.4" font-size="10.5" fill="#231f20" text-anchor="middle">-1.0</text>
<line x1="235.4" y1="479.2" x2="235.4" y2="481.7" stroke="#4d4d4d" stroke-width="0.8"/>
<text x="235.4" y="492.4" font-size="10.5" fill="#231f20" text-anchor="middle">-0.5</text>
<line x1="258.1" y1="479.2" x2="258.1" y2="481.7" stroke="#4d4d4d" stroke-width="0.8"/>
<text x="258.1" y="492.4" font-size="10.5" fill="#231f20" text-anchor="middle">0.0</text>
<line x1="280.8" y1="479.2" x2="280.8" y2="481.7" stroke="#4d4d4d" stroke-width="0.8"/>
<text x="280.8" y="492.4" font-size="10.5" fill="#231f20" text-anchor="middle">0.5</text>
<line x1="303.5" y1="479.2" x2="303.5" y2="481.7" stroke="#4d4d4d" stroke-width="0.8"/>
<text x="303.5" y="492.4" font-size="10.5" fill="#231f20" text-anchor="middle">1.0</text>
<text x="258.1" y="503.3" font-size="11.9" fill="#231f20" text-anchor="middle">Time (s)</text>
<text transform="translate(191.3,429.6) rotate(-90)" x="0" y="0" font-size="12.2" fill="#5fb847" text-anchor="middle">ΔF/F (z-score)</text>
<text transform="translate(331.9,434.2) rotate(-90)" x="0" y="0" font-size="12.2" fill="#c3a17c" text-anchor="middle">Vel. (cm/s)</text>
<rect x="382.1" y="327.7" width="90.7" height="5.92" fill="url(#hg23)"/>
<rect x="382.1" y="332.82" width="90.7" height="5.92" fill="url(#hg24)"/>
<rect x="382.1" y="337.94" width="90.7" height="5.92" fill="url(#hg25)"/>
<rect x="382.1" y="343.05" width="90.7" height="5.92" fill="url(#hg26)"/>
<rect x="382.1" y="348.17" width="90.7" height="5.92" fill="url(#hg27)"/>
<rect x="382.1" y="353.29" width="90.7" height="5.92" fill="url(#hg28)"/>
<rect x="382.1" y="358.41" width="90.7" height="5.92" fill="url(#hg29)"/>
<rect x="382.1" y="363.53" width="90.7" height="5.92" fill="url(#hg30)"/>
<rect x="382.1" y="368.65" width="90.7" height="5.92" fill="url(#hg31)"/>
<rect x="382.1" y="373.76" width="90.7" height="5.92" fill="url(#hg32)"/>
<rect x="382.1" y="378.88" width="90.7" height="5.12" fill="url(#hg33)"/>
<line x1="381.7" y1="327.7" x2="381.7" y2="384.6" stroke="#333" stroke-width="0.8"/>
<line x1="381.3" y1="384.3" x2="472.8" y2="384.3" stroke="#333" stroke-width="0.8"/>
<line x1="379.9" y1="330.26" x2="381.7" y2="330.26" stroke="#333" stroke-width="0.7"/>
<line x1="379.9" y1="381.44" x2="381.7" y2="381.44" stroke="#333" stroke-width="0.7"/>
<text x="380.2" y="333.1" font-size="9.2" fill="#231f20" text-anchor="end">1</text>
<text x="380.5" y="385" font-size="9.2" fill="#231f20" text-anchor="end">11</text>
<text x="386.9" y="324.4" font-size="11.9" fill="#231f20">Norm’d activity</text>
<text transform="translate(371.4,355.1) rotate(-90)" x="0" y="0" font-size="11.9" fill="#231f20" text-anchor="middle">Mouse #</text>
<rect x="475.5" y="337.4" width="3.8" height="37.2" fill="url(#hg34)" stroke="#333" stroke-width="0.6"/>
<text x="496" y="342.4" font-size="10.5" fill="#231f20" text-anchor="end">1.0</text>
<text x="496" y="353.7" font-size="10.5" fill="#231f20" text-anchor="end">0.5</text>
<text x="496" y="366.9" font-size="10.5" fill="#231f20" text-anchor="end">0.0</text>
<polyline points="382.8,451.8 383.69,452.17 384.58,452.34 385.48,452.28 386.37,452.02 387.26,451.69 388.15,451.43 389.04,451.29 389.94,451.23 390.83,451.13 391.72,450.86 392.61,450.33 393.5,449.61 394.4,448.84 395.29,448.24 396.18,447.92 397.07,447.86 397.96,447.91 398.86,447.84 399.75,447.45 400.64,446.73 401.53,445.81 402.42,444.98 403.32,444.5 404.21,444.48 405.1,444.85 405.99,445.14 406.88,444.86 407.78,443.88 408.67,442.24 409.56,440.21 410.45,438.18 411.34,436.47 412.24,435.24 413.13,434.42 414.02,433.78 414.91,433.08 415.8,432.17 416.7,431.12 417.59,430.16 418.48,429.62 419.37,429.39 420.26,429.24 421.16,429.07 422.05,428.7 422.94,427.99 423.83,426.91 424.72,425.55 425.62,424.14 426.51,422.87 427.4,421.82 428.29,420.94 429.18,420.08 430.08,419.05 430.97,417.76 431.86,416.24 432.75,414.66 433.64,413.25 434.54,412.19 435.43,411.6 436.32,411.48 437.21,411.34 438.1,410.72 439,409.7 439.89,408.39 440.78,406.89 441.67,405.32 442.56,403.77 443.46,402.31 444.35,401.08 445.24,400.27 446.13,400.06 447.02,400.5 447.92,401.65 448.81,403.44 449.7,405.72 450.59,408.2 451.48,410.64 452.38,412.86 453.27,414.82 454.16,416.56 455.05,418.17 455.94,419.64 456.84,420.89 457.73,421.72 458.62,421.92 459.51,421.75 460.4,421.64 461.3,421.75 462.19,422.28 463.08,423.34 463.97,424.84 464.86,426.52 465.76,428.01 466.65,428.99 467.54,429.34 468.43,429.16 469.32,428.73 470.22,428.4 471.11,428.38 472,428.67" stroke="#c9c9c9" fill="none" stroke-width="0.45"/>
<polyline points="382.8,461.82 383.69,462.41 384.58,463.02 385.48,463.46 386.37,463.65 387.26,463.62 388.15,463.5 389.04,463.41 389.94,463.36 390.83,463.29 391.72,463.1 392.61,462.73 393.5,462.24 394.4,461.75 395.29,461.42 396.18,461.3 397.07,461.34 397.96,461.37 398.86,461.23 399.75,460.84 400.64,460.29 401.53,459.8 402.42,459.6 403.32,459.83 404.21,460.43 405.1,461.18 405.99,461.73 406.88,461.82 407.78,461.42 408.67,460.69 409.56,459.91 410.45,459.31 411.34,458.99 412.24,458.87 413.13,458.75 414.02,458.44 414.91,457.85 415.8,457.05 416.7,456.19 417.59,455.42 418.48,454.82 419.37,454.36 420.26,453.93 421.16,453.45 422.05,452.92 422.94,452.44 423.83,452.12 424.72,452.04 425.62,452.16 426.51,452.35 427.4,452.43 428.29,451.99 429.18,450.83 430.08,449.21 430.97,447.44 431.86,445.77 432.75,444.25 433.64,442.76 434.54,441.09 435.43,439.09 436.32,436.79 437.21,434.39 438.1,432.24 439,430.66 439.89,429.84 440.78,429.8 441.67,429.49 442.56,427.97 443.46,425.38 444.35,422.04 445.24,418.35 446.13,414.77 447.02,411.68 447.92,409.32 448.81,407.86 449.7,407.46 450.59,407.73 451.48,408.2 452.38,408.93 453.27,409.99 454.16,411.31 455.05,412.74 455.94,414.07 456.84,415.19 457.73,416.07 458.62,416.87 459.51,417.81 460.4,419.05 461.3,420.59 462.19,422.29 463.08,423.87 463.97,425.11 464.86,425.95 465.76,426.49 466.65,427 467.54,427.72 468.43,428.77 469.32,430.08 470.22,431.4 471.11,432.45 472,433.02" stroke="#c9c9c9" fill="none" stroke-width="0.45"/>
<polyline points="382.8,455.06 383.69,455 384.58,454.73 385.48,454.3 386.37,453.78 387.26,453.25 388.15,452.8 389.04,452.49 389.94,452.35 390.83,452.37 391.72,452.51 392.61,452.68 393.5,452.81 394.4,452.81 395.29,452.66 396.18,452.32 397.07,451.85 397.96,451.3 398.86,450.76 399.75,450.31 400.64,450.03 401.53,449.96 402.42,450.07 403.32,450.32 404.21,450.64 405.1,450.93 405.99,451.11 406.88,451.12 407.78,450.95 408.67,450.63 409.56,450.24 410.45,449.71 411.34,449.01 412.24,448.25 413.13,447.51 414.02,446.82 414.91,446.15 415.8,445.46 416.7,444.69 417.59,443.79 418.48,442.74 419.37,441.57 420.26,440.37 421.16,439.26 422.05,438.38 422.94,437.87 423.83,437.54 424.72,437.13 425.62,436.65 426.51,436.08 427.4,435.33 428.29,434.34 429.18,433.06 430.08,431.48 430.97,429.63 431.86,427.6 432.75,425.53 433.64,423.55 434.54,421.79 435.43,420.34 436.32,419.24 437.21,418.49 438.1,418.03 439,417.78 439.89,417.68 440.78,417.7 441.67,417.75 442.56,417.76 443.46,417.78 444.35,417.9 445.24,418.17 446.13,418.66 447.02,419.37 447.92,420.28 448.81,421.29 449.7,422.3 450.59,423.18 451.48,423.83 452.38,424.19 453.27,424.22 454.16,423.95 455.05,423.6 455.94,423.39 456.84,423.39 457.73,423.65 458.62,424.16 459.51,424.88 460.4,425.72 461.3,426.6 462.19,427.42 463.08,428.12 463.97,428.66 464.86,429.07 465.76,429.37 466.65,429.64 467.54,429.93 468.43,430.28 469.32,430.71 470.22,431.17 471.11,431.63 472,431.99" stroke="#c9c9c9" fill="none" stroke-width="0.45"/>
<polyline points="382.8,468.85 383.69,468.77 384.58,468.43 385.48,467.96 386.37,467.49 387.26,467.13 388.15,466.94 389.04,466.89 389.94,466.94 390.83,467 391.72,467.02 392.61,466.99 393.5,466.89 394.4,466.77 395.29,466.63 396.18,466.49 397.07,466.35 397.96,466.21 398.86,466.07 399.75,465.96 400.64,465.88 401.53,465.85 402.42,465.83 403.32,465.8 404.21,465.72 405.1,465.57 405.99,465.38 406.88,465.18 407.78,465.05 408.67,465.04 409.56,465.19 410.45,465.47 411.34,465.83 412.24,466.17 413.13,466.4 414.02,466.47 414.91,466.21 415.8,465.53 416.7,464.54 417.59,463.32 418.48,462.01 419.37,460.68 420.26,459.42 421.16,458.25 422.05,457.17 422.94,456.16 423.83,455.16 424.72,454.11 425.62,452.99 426.51,451.79 427.4,450.56 428.29,449.38 429.18,448.37 430.08,447.63 430.97,447.23 431.86,447.19 432.75,447.11 433.64,446.58 434.54,445.62 435.43,444.26 436.32,442.58 437.21,440.7 438.1,438.74 439,436.79 439.89,434.94 440.78,433.24 441.67,431.72 442.56,430.42 443.46,429.38 444.35,428.67 445.24,428.37 446.13,428.27 447.02,428.14 447.92,427.95 448.81,427.73 449.7,427.49 450.59,427.32 451.48,427.31 452.38,427.51 453.27,427.96 454.16,428.58 455.05,429.27 455.94,429.85 456.84,430.2 457.73,430.25 458.62,430.05 459.51,429.72 460.4,429.4 461.3,429.23 462.19,429.27 463.08,429.48 463.97,429.96 464.86,430.75 465.76,431.69 466.65,432.67 467.54,433.65 468.43,434.62 469.32,435.54 470.22,436.35 471.11,436.93 472,437.13" stroke="#c9c9c9" fill="none" stroke-width="0.45"/>
<polyline points="382.8,461.72 383.69,462 384.58,462.07 385.48,461.8 386.37,461.21 387.26,460.43 388.15,459.67 389.04,459.09 389.94,458.72 390.83,458.49 391.72,458.21 392.61,457.74 393.5,457.04 394.4,456.21 395.29,455.45 396.18,454.97 397.07,454.86 397.96,455.06 398.86,455.37 399.75,455.52 400.64,455.32 401.53,454.76 402.42,454.02 403.32,453.4 404.21,453.17 405.1,453.48 405.99,454.17 406.88,454.9 407.78,455.34 408.67,455.22 409.56,454.5 410.45,453.35 411.34,452.11 412.24,451.13 413.13,450.61 414.02,450.56 414.91,450.76 415.8,450.89 416.7,450.69 417.59,450.04 418.48,449.03 419.37,447.89 420.26,446.92 421.16,446.32 422.05,446.13 422.94,446.24 423.83,446.44 424.72,446.54 425.62,446.45 426.51,446.19 427.4,445.9 428.29,445.39 429.18,444.5 430.08,443.29 430.97,441.79 431.86,439.98 432.75,437.87 433.64,435.57 434.54,433.2 435.43,430.94 436.32,428.91 437.21,427.15 438.1,425.68 439,424.48 439.89,423.56 440.78,423.02 441.67,422.61 442.56,422.07 443.46,421.53 444.35,421.06 445.24,420.62 446.13,420.12 447.02,419.49 447.92,418.68 448.81,417.72 449.7,416.71 450.59,415.77 451.48,415.02 452.38,414.53 453.27,414.3 454.16,414.33 455.05,414.53 455.94,414.85 456.84,415.25 457.73,415.73 458.62,416.27 459.51,416.83 460.4,417.35 461.3,417.81 462.19,418.24 463.08,418.72 463.97,419.36 464.86,420.21 465.76,421.25 466.65,422.36 467.54,423.33 468.43,423.97 469.32,424.17 470.22,423.97 471.11,423.53 472,423.09" stroke="#c9c9c9" fill="none" stroke-width="0.45"/>
<polyline points="382.8,447.4 383.69,447.11 384.58,446.96 385.48,447 386.37,447.22 387.26,447.52 388.15,447.78 389.04,447.86 389.94,447.7 390.83,447.29 391.72,446.7 392.61,446.06 393.5,445.49 394.4,445.04 395.29,444.71 396.18,444.43 397.07,444.06 397.96,443.5 398.86,442.7 399.75,441.68 400.64,440.59 401.53,439.61 402.42,438.92 403.32,438.64 404.21,438.79 405.1,439.25 405.99,439.84 406.88,440.34 407.78,440.56 408.67,440.43 409.56,439.96 410.45,439.3 411.34,438.61 412.24,438.05 413.13,437.71 414.02,437.58 414.91,437.57 415.8,437.53 416.7,437.34 417.59,436.95 418.48,436.41 419.37,435.7 420.26,434.85 421.16,434.04 422.05,433.38 422.94,432.87 423.83,432.41 424.72,431.85 425.62,431.02 426.51,429.85 427.4,428.32 428.29,426.56 429.18,424.73 430.08,423.04 430.97,421.66 431.86,420.65 432.75,420.03 433.64,419.73 434.54,419.63 435.43,419.65 436.32,419.76 437.21,419.88 438.1,419.96 439,420.07 439.89,420.25 440.78,420.51 441.67,420.81 442.56,421.06 443.46,421.19 444.35,421.14 445.24,420.89 446.13,420.51 447.02,420.06 447.92,419.66 448.81,419.38 449.7,419.27 450.59,419.38 451.48,419.72 452.38,420.23 453.27,420.85 454.16,421.53 455.05,422.24 455.94,422.96 456.84,423.66 457.73,424.31 458.62,424.87 459.51,425.29 460.4,425.56 461.3,425.68 462.19,425.69 463.08,425.68 463.97,425.72 464.86,425.87 465.76,426.15 466.65,426.54 467.54,426.96 468.43,427.33 469.32,427.58 470.22,427.68 471.11,427.64 472,427.52" stroke="#c9c9c9" fill="none" stroke-width="0.45"/>
<polyline points="382.8,466.19 383.69,466.4 384.58,466.21 385.48,465.69 386.37,465.08 387.26,464.65 388.15,464.58 389.04,464.91 389.94,465.57 390.83,466.38 391.72,467.21 392.61,467.97 393.5,468.65 394.4,469.23 395.29,469.7 396.18,470.04 397.07,470.2 397.96,470.21 398.86,470.12 399.75,469.99 400.64,469.88 401.53,469.76 402.42,469.56 403.32,469.2 404.21,468.67 405.1,468.05 405.99,467.55 406.88,467.32 407.78,467.47 408.67,467.87 409.56,468.27 410.45,468.34 411.34,467.86 412.24,466.82 413.13,465.48 414.02,464.21 414.91,463.37 415.8,463.13 416.7,463.35 417.59,463.71 418.48,463.85 419.37,463.55 420.26,462.86 421.16,462.03 422.05,461.43 422.94,461.3 423.83,461.64 424.72,462.19 425.62,462.59 426.51,462.52 427.4,461.9 428.29,460.63 429.18,458.8 430.08,456.89 430.97,455.17 431.86,453.7 432.75,452.32 433.64,450.79 434.54,448.96 435.43,446.84 436.32,444.62 437.21,442.56 438.1,440.92 439,439.82 439.89,439.29 440.78,439.29 441.67,439.31 442.56,438.88 443.46,438.08 444.35,436.99 445.24,435.71 446.13,434.3 447.02,432.83 447.92,431.34 448.81,429.94 449.7,428.71 450.59,427.73 451.48,427 452.38,426.43 453.27,425.95 454.16,425.53 455.05,425.13 455.94,424.82 456.84,424.8 457.73,425.26 458.62,426.18 459.51,427.35 460.4,428.44 461.3,429.16 462.19,429.36 463.08,429.18 463.97,428.92 464.86,428.95 465.76,429.49 466.65,430.48 467.54,431.65 468.43,432.59 469.32,433 470.22,432.83 471.11,432.26 472,431.67" stroke="#c9c9c9" fill="none" stroke-width="0.45"/>
<polyline points="382.8,455.6 383.69,455.95 384.58,456.51 385.48,457.1 386.37,457.49 387.26,457.53 388.15,457.25 389.04,456.83 389.94,456.46 390.83,456.25 391.72,456.19 392.61,456.13 393.5,455.95 394.4,455.57 395.29,455.07 396.18,454.61 397.07,454.33 397.96,454.24 398.86,454.24 399.75,454.15 400.64,453.83 401.53,453.29 402.42,452.71 403.32,452.33 404.21,452.35 405.1,452.75 405.99,453.37 406.88,453.92 407.78,454.13 408.67,453.95 409.56,453.49 410.45,453 411.34,452.7 412.24,452.67 413.13,452.81 414.02,452.93 414.91,452.84 415.8,452.51 416.7,452.05 417.59,451.67 418.48,451.55 419.37,451.56 420.26,451.44 421.16,451 422.05,450.12 422.94,448.81 423.83,447.23 424.72,445.62 425.62,444.18 426.51,442.96 427.4,441.88 428.29,440.78 429.18,439.56 430.08,438.21 430.97,436.82 431.86,435.55 432.75,434.48 433.64,433.61 434.54,432.86 435.43,432.2 436.32,431.69 437.21,431.35 438.1,431.23 439,431.49 439.89,432.06 440.78,432.74 441.67,433.16 442.56,433.08 443.46,432.43 444.35,431.42 445.24,430.44 446.13,429.84 447.02,429.84 447.92,430.33 448.81,431.02 449.7,431.51 450.59,431.54 451.48,431.07 452.38,430.28 453.27,429.44 454.16,428.82 455.05,428.57 455.94,428.67 456.84,429.02 457.73,429.52 458.62,430.1 459.51,430.75 460.4,431.44 461.3,432.11 462.19,432.63 463.08,432.92 463.97,432.98 464.86,432.93 465.76,433 466.65,433.36 467.54,434.05 468.43,434.9 469.32,435.63 470.22,435.92 471.11,435.64 472,434.88" stroke="#c9c9c9" fill="none" stroke-width="0.45"/>
<polygon points="382.8,477.84 383.36,477.84 383.92,477.84 384.47,477.84 385.03,477.84 385.59,477.84 386.14,477.84 386.7,477.84 387.26,477.84 387.82,477.84 388.38,477.84 388.93,477.84 389.49,477.84 390.05,477.84 390.61,477.84 391.16,477.84 391.72,477.84 392.28,477.84 392.84,477.84 393.39,477.84 393.95,477.84 394.51,477.84 395.06,477.84 395.62,477.84 396.18,477.84 396.74,477.84 397.3,477.84 397.85,477.84 398.41,477.84 398.97,477.84 399.53,477.84 400.08,477.84 400.64,477.84 401.2,477.84 401.75,477.84 402.31,477.84 402.87,477.84 403.43,477.84 403.99,477.84 404.54,477.84 405.1,477.84 405.66,477.84 406.22,477.84 406.77,477.84 407.33,477.84 407.89,477.84 408.44,477.84 409,477.84 409.56,477.84 410.12,477.84 410.68,477.84 411.23,477.84 411.79,477.84 412.35,477.84 412.91,477.84 413.46,477.84 414.02,477.84 414.58,477.84 415.13,477.84 415.69,477.84 416.25,477.84 416.81,477.84 417.37,477.84 417.92,477.84 418.48,477.84 419.04,477.84 419.6,477.84 420.15,477.84 420.71,477.84 421.27,477.84 421.82,477.84 422.38,477.84 422.94,477.84 423.5,477.84 424.06,477.84 424.61,477.84 425.17,477.84 425.73,477.84 426.29,477.84 426.84,477.84 427.4,410.14 427.96,407.36 428.51,404.58 429.07,401.79 429.63,399.01 430.19,398.16 430.75,397.3 431.3,396.45 431.86,395.59 432.42,396.39 432.98,397.19 433.53,397.99 434.09,398.79 434.65,398.21 435.2,397.63 435.76,397.05 436.32,396.47 436.88,396.58 437.44,396.69 437.99,396.8 438.55,396.92 439.11,397.03 439.67,397.14 440.22,397.25 440.78,397.36 441.34,396.5 441.89,395.65 442.45,394.79 443.01,393.94 443.57,395.01 444.12,396.09 444.68,397.16 445.24,398.24 445.8,397.88 446.36,397.52 446.91,397.16 447.47,396.8 448.03,396.45 448.59,396.09 449.14,395.73 449.7,395.37 450.26,395.78 450.81,396.2 451.37,396.61 451.93,397.03 452.49,397.44 453.05,397.85 453.6,398.27 454.16,398.68 454.72,398.07 455.27,397.47 455.83,396.86 456.39,396.25 456.95,395.65 457.5,395.04 458.06,394.43 458.62,393.83 459.18,394.19 459.74,394.54 460.29,394.9 460.85,395.26 461.41,395.62 461.97,395.98 462.52,396.34 463.08,396.69 463.64,396.36 464.19,396.03 464.75,395.7 465.31,395.37 465.87,395.04 466.43,394.71 466.98,394.38 467.54,394.05 468.1,394.41 468.65,394.77 469.21,395.12 469.77,395.48 470.33,395.84 470.88,396.2 471.44,396.56 472,396.92 472,416.76 471.44,416.29 470.88,415.82 470.33,415.35 469.77,414.89 469.21,414.42 468.65,413.95 468.1,413.48 467.54,413.01 466.98,413.23 466.43,413.45 465.87,413.67 465.31,413.89 464.75,414.11 464.19,414.33 463.64,414.56 463.08,414.78 462.52,414.31 461.97,413.84 461.41,413.37 460.85,412.9 460.29,412.43 459.74,411.96 459.18,411.5 458.62,411.03 458.06,411.52 457.5,412.02 456.95,412.52 456.39,413.01 455.83,413.51 455.27,414 454.72,414.5 454.16,415 453.6,414.47 453.05,413.95 452.49,413.42 451.93,412.9 451.37,412.38 450.81,411.85 450.26,411.33 449.7,410.81 449.14,411.11 448.59,411.41 448.03,411.72 447.47,412.02 446.91,412.32 446.36,412.63 445.8,412.93 445.24,413.23 444.68,412.1 444.12,410.97 443.57,409.84 443.01,408.71 442.45,409.51 441.89,410.31 441.34,411.11 440.78,411.91 440.22,411.74 439.67,411.58 439.11,411.41 438.55,411.25 437.99,411.08 437.44,410.92 436.88,410.75 436.32,410.59 435.76,411.11 435.2,411.63 434.65,412.16 434.09,412.68 433.53,411.83 432.98,410.97 432.42,410.12 431.86,409.26 431.3,410.06 430.75,410.86 430.19,411.66 429.63,412.46 429.07,415.19 428.51,417.92 427.96,420.65 427.4,423.38 426.84,479.16 426.29,479.16 425.73,479.16 425.17,479.16 424.61,479.16 424.06,479.16 423.5,479.16 422.94,479.16 422.38,479.16 421.82,479.16 421.27,479.16 420.71,479.16 420.15,479.16 419.6,479.16 419.04,479.16 418.48,479.16 417.92,479.16 417.37,479.16 416.81,479.16 416.25,479.16 415.69,479.16 415.13,479.16 414.58,479.16 414.02,479.16 413.46,479.16 412.91,479.16 412.35,479.16 411.79,479.16 411.23,479.16 410.68,479.16 410.12,479.16 409.56,479.16 409,479.16 408.44,479.16 407.89,479.16 407.33,479.16 406.77,479.16 406.22,479.16 405.66,479.16 405.1,479.16 404.54,479.16 403.99,479.16 403.43,479.16 402.87,479.16 402.31,479.16 401.75,479.16 401.2,479.16 400.64,479.16 400.08,479.16 399.53,479.16 398.97,479.16 398.41,479.16 397.85,479.16 397.3,479.16 396.74,479.16 396.18,479.16 395.62,479.16 395.06,479.16 394.51,479.16 393.95,479.16 393.39,479.16 392.84,479.16 392.28,479.16 391.72,479.16 391.16,479.16 390.61,479.16 390.05,479.16 389.49,479.16 388.93,479.16 388.38,479.16 387.82,479.16 387.26,479.16 386.7,479.16 386.14,479.16 385.59,479.16 385.03,479.16 384.47,479.16 383.92,479.16 383.36,479.16 382.8,479.16" stroke="none" fill="#cfc4b8" stroke-width="1" fill-opacity="0.75"/>
<polygon points="382.8,454.69 383.36,454.69 383.92,454.71 384.47,454.74 385.03,454.78 385.59,454.83 386.14,454.89 386.7,454.96 387.26,455.03 387.82,455.1 388.38,455.18 388.93,455.27 389.49,455.35 390.05,455.43 390.61,455.51 391.16,455.59 391.72,455.67 392.28,455.74 392.84,455.8 393.39,455.86 393.95,455.91 394.51,455.95 395.06,455.98 395.62,456 396.18,456.01 396.74,456 397.3,455.98 397.85,455.95 398.41,455.91 398.97,455.86 399.53,455.8 400.08,455.74 400.64,455.67 401.2,455.59 401.75,455.51 402.31,455.43 402.87,455.35 403.43,455.27 403.99,455.18 404.54,455.1 405.1,455.03 405.66,454.96 406.22,454.89 406.77,454.83 407.33,454.78 407.89,454.74 408.44,454.71 409,454.69 409.56,454.69 410.12,454.64 410.68,454.52 411.23,454.34 411.79,454.1 412.35,453.82 412.91,453.5 413.46,453.16 414.02,452.81 414.58,452.46 415.13,452.12 415.69,451.81 416.25,451.52 416.81,451.28 417.37,451.1 417.92,450.98 418.48,450.94 419.04,450.84 419.6,450.56 420.15,450.12 420.71,449.56 421.27,448.89 421.82,448.15 422.38,447.35 422.94,446.53 423.5,445.7 424.06,444.91 424.61,444.16 425.17,443.5 425.73,442.93 426.29,442.5 426.84,442.22 427.4,442.12 427.96,441.69 428.51,440.57 429.07,438.98 429.63,437.16 430.19,435.33 430.75,433.75 431.3,432.62 431.86,432.19 432.42,431.93 432.98,431.21 433.53,430.13 434.09,428.76 434.65,427.22 435.2,425.58 435.76,423.94 436.32,422.39 436.88,421.03 437.44,419.94 437.99,419.23 438.55,418.97 439.11,418.79 439.67,418.31 440.22,417.59 440.78,416.68 441.34,415.65 441.89,414.56 442.45,413.46 443.01,412.43 443.57,411.52 444.12,410.8 444.68,410.32 445.24,410.14 445.8,410.18 446.36,410.29 446.91,410.45 447.47,410.66 448.03,410.91 448.59,411.19 449.14,411.49 449.7,411.8 450.26,412.11 450.81,412.41 451.37,412.69 451.93,412.94 452.49,413.15 453.05,413.31 453.6,413.42 454.16,413.45 454.72,413.51 455.27,413.69 455.83,413.96 456.39,414.31 456.95,414.73 457.5,415.2 458.06,415.69 458.62,416.21 459.18,416.72 459.74,417.22 460.29,417.69 460.85,418.1 461.41,418.46 461.97,418.73 462.52,418.9 463.08,418.97 463.64,419.01 464.19,419.15 464.75,419.37 465.31,419.65 465.87,419.99 466.43,420.36 466.98,420.76 467.54,421.17 468.1,421.58 468.65,421.98 469.21,422.35 469.77,422.69 470.33,422.97 470.88,423.19 471.44,423.33 472,423.38 472,427.79 471.44,427.74 470.88,427.6 470.33,427.38 469.77,427.1 469.21,426.76 468.65,426.39 468.1,425.99 467.54,425.58 466.98,425.17 466.43,424.77 465.87,424.4 465.31,424.06 464.75,423.78 464.19,423.56 463.64,423.42 463.08,423.38 462.52,423.31 461.97,423.14 461.41,422.87 460.85,422.51 460.29,422.1 459.74,421.63 459.18,421.13 458.62,420.62 458.06,420.1 457.5,419.61 456.95,419.14 456.39,418.72 455.83,418.37 455.27,418.1 454.72,417.92 454.16,417.86 453.6,417.83 453.05,417.72 452.49,417.56 451.93,417.35 451.37,417.1 450.81,416.82 450.26,416.52 449.7,416.21 449.14,415.9 448.59,415.6 448.03,415.32 447.47,415.07 446.91,414.86 446.36,414.7 445.8,414.59 445.24,414.56 444.68,414.73 444.12,415.21 443.57,415.93 443.01,416.84 442.45,417.87 441.89,418.97 441.34,420.06 440.78,421.09 440.22,422 439.67,422.72 439.11,423.2 438.55,423.38 437.99,423.64 437.44,424.36 436.88,425.44 436.32,426.81 435.76,428.35 435.2,429.99 434.65,431.63 434.09,433.18 433.53,434.54 432.98,435.62 432.42,436.34 431.86,436.61 431.3,437.03 430.75,438.16 430.19,439.74 429.63,441.57 429.07,443.39 428.51,444.98 427.96,446.1 427.4,446.53 426.84,446.63 426.29,446.91 425.73,447.34 425.17,447.91 424.61,448.57 424.06,449.32 423.5,450.11 422.94,450.94 422.38,451.76 421.82,452.56 421.27,453.3 420.71,453.97 420.15,454.53 419.6,454.97 419.04,455.25 418.48,455.35 417.92,455.39 417.37,455.51 416.81,455.69 416.25,455.93 415.69,456.22 415.13,456.53 414.58,456.87 414.02,457.22 413.46,457.57 412.91,457.91 412.35,458.23 411.79,458.51 411.23,458.75 410.68,458.93 410.12,459.05 409.56,459.1 409,459.1 408.44,459.12 407.89,459.15 407.33,459.19 406.77,459.24 406.22,459.3 405.66,459.37 405.1,459.44 404.54,459.51 403.99,459.59 403.43,459.68 402.87,459.76 402.31,459.84 401.75,459.92 401.2,460 400.64,460.08 400.08,460.15 399.53,460.21 398.97,460.27 398.41,460.32 397.85,460.36 397.3,460.39 396.74,460.41 396.18,460.42 395.62,460.41 395.06,460.39 394.51,460.36 393.95,460.32 393.39,460.27 392.84,460.21 392.28,460.15 391.72,460.08 391.16,460 390.61,459.92 390.05,459.84 389.49,459.76 388.93,459.68 388.38,459.59 387.82,459.51 387.26,459.44 386.7,459.37 386.14,459.3 385.59,459.24 385.03,459.19 384.47,459.15 383.92,459.12 383.36,459.1 382.8,459.1" stroke="none" fill="#9fd89a" stroke-width="1" fill-opacity="0.7"/>
<line x1="382.8" y1="456.45" x2="472" y2="456.45" stroke="#b77bd0" stroke-width="0.9"/>
<polyline points="382.8,478.5 383.36,478.5 383.92,478.5 384.47,478.5 385.03,478.5 385.59,478.5 386.14,478.5 386.7,478.5 387.26,478.5 387.82,478.5 388.38,478.5 388.93,478.5 389.49,478.5 390.05,478.5 390.61,478.5 391.16,478.5 391.72,478.5 392.28,478.5 392.84,478.5 393.39,478.5 393.95,478.5 394.51,478.5 395.06,478.5 395.62,478.5 396.18,478.5 396.74,478.5 397.3,478.5 397.85,478.5 398.41,478.5 398.97,478.5 399.53,478.5 400.08,478.5 400.64,478.5 401.2,478.5 401.75,478.5 402.31,478.5 402.87,478.5 403.43,478.5 403.99,478.5 404.54,478.5 405.1,478.5 405.66,478.5 406.22,478.5 406.77,478.5 407.33,478.5 407.89,478.5 408.44,478.5 409,478.5 409.56,478.5 410.12,478.5 410.68,478.5 411.23,478.5 411.79,478.5 412.35,478.5 412.91,478.5 413.46,478.5 414.02,478.5 414.58,478.5 415.13,478.5 415.69,478.5 416.25,478.5 416.81,478.5 417.37,478.5 417.92,478.5 418.48,478.5 419.04,478.5 419.6,478.5 420.15,478.5 420.71,478.5 421.27,478.5 421.82,478.5 422.38,478.5 422.94,478.5 423.5,478.5 424.06,478.5 424.61,478.5 425.17,478.5 425.73,478.5 426.29,478.5 426.84,478.5 427.4,416.76 427.96,414 428.51,411.25 429.07,408.49 429.63,405.74 430.19,404.91 430.75,404.08 431.3,403.25 431.86,402.43 432.42,403.25 432.98,404.08 433.53,404.91 434.09,405.74 434.65,405.18 435.2,404.63 435.76,404.08 436.32,403.53 436.88,403.67 437.44,403.81 437.99,403.94 438.55,404.08 439.11,404.22 439.67,404.36 440.22,404.49 440.78,404.63 441.34,403.81 441.89,402.98 442.45,402.15 443.01,401.33 443.57,402.43 444.12,403.53 444.68,404.63 445.24,405.74 445.8,405.4 446.36,405.07 446.91,404.74 447.47,404.41 448.03,404.08 448.59,403.75 449.14,403.42 449.7,403.09 450.26,403.56 450.81,404.03 451.37,404.49 451.93,404.96 452.49,405.43 453.05,405.9 453.6,406.37 454.16,406.84 454.72,406.29 455.27,405.74 455.83,405.18 456.39,404.63 456.95,404.08 457.5,403.53 458.06,402.98 458.62,402.43 459.18,402.84 459.74,403.25 460.29,403.67 460.85,404.08 461.41,404.49 461.97,404.91 462.52,405.32 463.08,405.74 463.64,405.46 464.19,405.18 464.75,404.91 465.31,404.63 465.87,404.36 466.43,404.08 466.98,403.81 467.54,403.53 468.1,403.94 468.65,404.36 469.21,404.77 469.77,405.18 470.33,405.6 470.88,406.01 471.44,406.42 472,406.84" stroke="#a57b50" fill="none" stroke-width="1.1"/>
<polyline points="382.8,456.89 383.36,456.9 383.92,456.92 384.47,456.95 385.03,456.99 385.59,457.04 386.14,457.1 386.7,457.16 387.26,457.23 387.82,457.31 388.38,457.39 388.93,457.47 389.49,457.55 390.05,457.63 390.61,457.72 391.16,457.8 391.72,457.87 392.28,457.94 392.84,458.01 393.39,458.07 393.95,458.12 394.51,458.16 395.06,458.19 395.62,458.21 396.18,458.21 396.74,458.21 397.3,458.19 397.85,458.16 398.41,458.12 398.97,458.07 399.53,458.01 400.08,457.94 400.64,457.87 401.2,457.8 401.75,457.72 402.31,457.63 402.87,457.55 403.43,457.47 403.99,457.39 404.54,457.31 405.1,457.23 405.66,457.16 406.22,457.1 406.77,457.04 407.33,456.99 407.89,456.95 408.44,456.92 409,456.9 409.56,456.89 410.12,456.85 410.68,456.73 411.23,456.55 411.79,456.31 412.35,456.02 412.91,455.7 413.46,455.37 414.02,455.02 414.58,454.67 415.13,454.33 415.69,454.01 416.25,453.73 416.81,453.49 417.37,453.3 417.92,453.18 418.48,453.14 419.04,453.04 419.6,452.76 420.15,452.33 420.71,451.76 421.27,451.1 421.82,450.35 422.38,449.56 422.94,448.73 423.5,447.91 424.06,447.11 424.61,446.37 425.17,445.7 425.73,445.14 426.29,444.7 426.84,444.42 427.4,444.32 427.96,443.9 428.51,442.77 429.07,441.18 429.63,439.36 430.19,437.54 430.75,435.95 431.3,434.83 431.86,434.4 432.42,434.14 432.98,433.42 433.53,432.33 434.09,430.97 434.65,429.42 435.2,427.79 435.76,426.15 436.32,424.6 436.88,423.24 437.44,422.15 437.99,421.43 438.55,421.17 439.11,421 439.67,420.52 440.22,419.79 440.78,418.88 441.34,417.85 441.89,416.76 442.45,415.67 443.01,414.64 443.57,413.73 444.12,413 444.68,412.52 445.24,412.35 445.8,412.39 446.36,412.49 446.91,412.66 447.47,412.87 448.03,413.12 448.59,413.4 449.14,413.7 449.7,414 450.26,414.31 450.81,414.61 451.37,414.89 451.93,415.14 452.49,415.35 453.05,415.52 453.6,415.62 454.16,415.66 454.72,415.72 455.27,415.89 455.83,416.17 456.39,416.52 456.95,416.94 457.5,417.4 458.06,417.9 458.62,418.41 459.18,418.93 459.74,419.43 460.29,419.89 460.85,420.31 461.41,420.66 461.97,420.93 462.52,421.11 463.08,421.17 463.64,421.22 464.19,421.36 464.75,421.58 465.31,421.86 465.87,422.19 466.43,422.57 466.98,422.96 467.54,423.38 468.1,423.79 468.65,424.18 469.21,424.56 469.77,424.89 470.33,425.17 470.88,425.39 471.44,425.53 472,425.58" stroke="#37a946" fill="none" stroke-width="2" stroke-linejoin="round"/>
<line x1="427.4" y1="328.2" x2="427.4" y2="478.5" stroke="#111" stroke-width="1.3" stroke-dasharray="1.5,1.6"/>
<line x1="382.8" y1="390.3" x2="382.8" y2="478.9" stroke="#4d4d4d" stroke-width="0.9"/>
<line x1="472" y1="390.3" x2="472" y2="478.9" stroke="#8a8a8a" stroke-width="0.9"/>
<line x1="382.4" y1="478.5" x2="472.4" y2="478.5" stroke="#4d4d4d" stroke-width="0.9"/>
<line x1="380.3" y1="390.3" x2="382.8" y2="390.3" stroke="#4d4d4d" stroke-width="0.8"/>
<text x="380.2" y="394.1" font-size="10.9" fill="#5fb847" text-anchor="end">3.0</text>
<line x1="380.3" y1="412.35" x2="382.8" y2="412.35" stroke="#4d4d4d" stroke-width="0.8"/>
<text x="380.2" y="416.15" font-size="10.9" fill="#5fb847" text-anchor="end">2.0</text>
<line x1="380.3" y1="434.4" x2="382.8" y2="434.4" stroke="#4d4d4d" stroke-width="0.8"/>
<text x="380.2" y="438.2" font-size="10.9" fill="#5fb847" text-anchor="end">1.0</text>
<line x1="380.3" y1="456.45" x2="382.8" y2="456.45" stroke="#4d4d4d" stroke-width="0.8"/>
<text x="380.2" y="460.25" font-size="10.9" fill="#5fb847" text-anchor="end">0.0</text>
<line x1="380.3" y1="478.5" x2="382.8" y2="478.5" stroke="#4d4d4d" stroke-width="0.8"/>
<text x="380.2" y="482.3" font-size="10.9" fill="#5fb847" text-anchor="end">-1.0</text>
<line x1="472" y1="390.3" x2="474.5" y2="390.3" stroke="#8a8a8a" stroke-width="0.8"/>
<text x="474.4" y="394.1" font-size="10.9" fill="#c3a17c">2.0</text>
<line x1="472" y1="412.35" x2="474.5" y2="412.35" stroke="#8a8a8a" stroke-width="0.8"/>
<text x="474.4" y="416.15" font-size="10.9" fill="#c3a17c">1.5</text>
<line x1="472" y1="434.4" x2="474.5" y2="434.4" stroke="#8a8a8a" stroke-width="0.8"/>
<text x="474.4" y="438.2" font-size="10.9" fill="#c3a17c">1.0</text>
<line x1="472" y1="456.45" x2="474.5" y2="456.45" stroke="#8a8a8a" stroke-width="0.8"/>
<text x="474.4" y="460.25" font-size="10.9" fill="#c3a17c">0.5</text>
<line x1="472" y1="478.5" x2="474.5" y2="478.5" stroke="#8a8a8a" stroke-width="0.8"/>
<text x="474.4" y="482.3" font-size="10.9" fill="#c3a17c">0.0</text>
<line x1="382.8" y1="478.5" x2="382.8" y2="481" stroke="#4d4d4d" stroke-width="0.8"/>
<text x="382.8" y="490.7" font-size="10.5" fill="#231f20" text-anchor="middle">-1.0</text>
<line x1="405.1" y1="478.5" x2="405.1" y2="481" stroke="#4d4d4d" stroke-width="0.8"/>
<text x="405.1" y="490.7" font-size="10.5" fill="#231f20" text-anchor="middle">-0.5</text>
<line x1="427.4" y1="478.5" x2="427.4" y2="481" stroke="#4d4d4d" stroke-width="0.8"/>
<text x="427.4" y="490.7" font-size="10.5" fill="#231f20" text-anchor="middle">0.0</text>
<line x1="449.7" y1="478.5" x2="449.7" y2="481" stroke="#4d4d4d" stroke-width="0.8"/>
<text x="449.7" y="490.7" font-size="10.5" fill="#231f20" text-anchor="middle">0.5</text>
<line x1="472" y1="478.5" x2="472" y2="481" stroke="#4d4d4d" stroke-width="0.8"/>
<text x="472" y="490.7" font-size="10.5" fill="#231f20" text-anchor="middle">1.0</text>
<text x="427.4" y="500.3" font-size="11.9" fill="#231f20" text-anchor="middle">Time (s)</text>
<text transform="translate(359.7,432.8) rotate(-90)" x="0" y="0" font-size="12.2" fill="#5fb847" text-anchor="middle">ΔF/F (z-score)</text>
<text transform="translate(502.4,427.9) rotate(-90)" x="0" y="0" font-size="12.2" fill="#c3a17c" text-anchor="middle">Vel. (cm/s)</text>
<rect x="554.9" y="327.5" width="90.1" height="5.98" fill="url(#hg35)"/>
<rect x="554.9" y="332.68" width="90.1" height="5.98" fill="url(#hg36)"/>
<rect x="554.9" y="337.86" width="90.1" height="5.98" fill="url(#hg37)"/>
<rect x="554.9" y="343.05" width="90.1" height="5.98" fill="url(#hg38)"/>
<rect x="554.9" y="348.23" width="90.1" height="5.98" fill="url(#hg39)"/>
<rect x="554.9" y="353.41" width="90.1" height="5.98" fill="url(#hg40)"/>
<rect x="554.9" y="358.59" width="90.1" height="5.98" fill="url(#hg41)"/>
<rect x="554.9" y="363.77" width="90.1" height="5.98" fill="url(#hg42)"/>
<rect x="554.9" y="368.95" width="90.1" height="5.98" fill="url(#hg43)"/>
<rect x="554.9" y="374.14" width="90.1" height="5.98" fill="url(#hg44)"/>
<rect x="554.9" y="379.32" width="90.1" height="5.18" fill="url(#hg45)"/>
<line x1="554.5" y1="327.5" x2="554.5" y2="385.1" stroke="#333" stroke-width="0.8"/>
<line x1="554.1" y1="384.8" x2="645" y2="384.8" stroke="#333" stroke-width="0.8"/>
<line x1="552.7" y1="330.09" x2="554.5" y2="330.09" stroke="#333" stroke-width="0.7"/>
<line x1="552.7" y1="381.91" x2="554.5" y2="381.91" stroke="#333" stroke-width="0.7"/>
<text x="553" y="332.9" font-size="9.2" fill="#231f20" text-anchor="end">1</text>
<text x="553.3" y="385.5" font-size="9.2" fill="#231f20" text-anchor="end">11</text>
<text x="560" y="324.6" font-size="11.9" fill="#231f20">Norm’d activity</text>
<text transform="translate(544,356.3) rotate(-90)" x="0" y="0" font-size="11.9" fill="#231f20" text-anchor="middle">Mouse #</text>
<rect x="647.2" y="337.7" width="4.2" height="36.9" fill="url(#hg46)" stroke="#333" stroke-width="0.6"/>
<text x="671.6" y="341.4" font-size="10.5" fill="#231f20" text-anchor="end">1.0</text>
<text x="671.6" y="359.5" font-size="10.5" fill="#231f20" text-anchor="end">0.0</text>
<text x="671.6" y="376.5" font-size="10.5" fill="#231f20" text-anchor="end">-1.0</text>
<polyline points="555.2,434.21 556.1,434.56 556.99,434.67 557.89,434.51 558.79,434.13 559.69,433.65 560.58,433.21 561.48,432.86 562.38,432.59 563.27,432.25 564.17,431.73 565.07,430.95 565.96,429.97 566.86,428.95 567.76,428.08 568.66,427.51 569.55,427.21 570.45,427.02 571.35,426.73 572.24,426.14 573.14,425.24 574.04,424.18 574.93,423.22 575.83,422.64 576.73,422.57 577.62,422.92 578.52,423.44 579.42,423.84 580.32,423.89 581.21,423.61 582.11,423.2 583.01,422.96 583.9,423.17 584.8,423.92 585.7,425.08 586.6,426.37 587.49,427.47 588.39,428.19 589.29,428.52 590.18,428.64 591.08,428.8 591.98,429.2 592.87,429.88 593.77,430.73 594.67,431.53 595.57,432.1 596.46,432.38 597.36,432.44 598.26,432.46 599.15,432.59 600.05,432.9 600.95,433.38 601.84,433.93 602.74,434.32 603.64,434.45 604.53,434.3 605.43,434.01 606.33,433.76 607.23,433.73 608.12,433.97 609.02,434.48 609.92,435.16 610.81,435.9 611.71,436.64 612.61,437.35 613.5,437.99 614.4,438.55 615.3,438.97 616.2,439.19 617.09,439.2 617.99,439.07 618.89,438.91 619.78,438.9 620.68,439.13 621.58,439.63 622.48,440.28 623.37,441.02 624.27,441.81 625.17,442.52 626.06,443.16 626.96,443.84 627.86,444.68 628.75,445.76 629.65,447.01 630.55,448.31 631.44,449.49 632.34,450.49 633.24,451.37 634.14,452.31 635.03,453.52 635.93,455.12 636.83,457.04 637.72,459.02 638.62,460.73 639.52,461.87 640.41,462.3 641.31,462.16 642.21,461.74 643.11,461.4 644,461.36 644.9,461.64" stroke="#c9c9c9" fill="none" stroke-width="0.45"/>
<polyline points="555.2,446.37 556.1,446.92 556.99,447.44 557.89,447.74 558.79,447.73 559.69,447.47 560.58,447.08 561.48,446.69 562.38,446.31 563.27,445.88 564.17,445.32 565.07,444.57 565.96,443.69 566.86,442.81 567.76,442.09 568.66,441.59 569.55,441.26 570.45,440.94 571.35,440.46 572.24,439.77 573.14,438.96 574.04,438.23 574.93,437.85 575.83,437.93 576.73,438.44 577.62,439.15 578.52,439.77 579.42,440.07 580.32,440 581.21,439.72 582.11,439.49 583.01,439.52 583.9,439.91 584.8,440.57 585.7,441.27 586.6,441.83 587.49,442.15 588.39,442.26 589.29,442.32 590.18,442.47 591.08,442.78 591.98,443.18 592.87,443.58 593.77,443.88 594.67,444.06 595.57,444.21 596.46,444.44 597.36,444.8 598.26,445.26 599.15,445.65 600.05,445.8 600.95,445.66 601.84,445.35 602.74,445.05 603.64,444.99 604.53,445.32 605.43,446.02 606.33,446.89 607.23,447.64 608.12,448.04 609.02,448.03 609.92,447.74 610.81,447.43 611.71,447.33 612.61,447.57 613.5,448.06 614.4,448.62 615.3,449.01 616.2,449.11 617.09,448.97 617.99,448.73 618.89,448.57 619.78,448.6 620.68,448.81 621.58,449.09 622.48,449.32 623.37,449.57 624.27,449.97 625.17,450.61 626.06,451.53 626.96,452.69 627.86,453.93 628.75,455.06 629.65,455.94 630.55,456.59 631.44,457.14 632.34,457.81 633.24,458.78 634.14,460.06 635.03,461.48 635.93,462.8 636.83,463.79 637.72,464.38 638.62,464.7 639.52,465 640.41,465.54 641.31,466.43 642.21,467.6 643.11,468.82 644,469.81 644.9,470.35" stroke="#c9c9c9" fill="none" stroke-width="0.45"/>
<polyline points="555.2,426.49 556.1,426.48 556.99,426.34 557.89,426.13 558.79,425.88 559.69,425.7 560.58,425.64 561.48,425.77 562.38,426.11 563.27,426.63 564.17,427.28 565.07,427.98 565.96,428.63 566.86,429.16 567.76,429.51 568.66,429.66 569.55,429.64 570.45,429.5 571.35,429.32 572.24,429.17 573.14,429.13 574.04,429.17 574.93,429.28 575.83,429.41 576.73,429.5 577.62,429.46 578.52,429.22 579.42,428.74 580.32,428.03 581.21,427.11 582.11,426.08 583.01,425.04 583.9,424.09 584.8,423.33 585.7,422.8 586.6,422.51 587.49,422.4 588.39,422.42 589.29,422.46 590.18,422.45 591.08,422.36 591.98,422.16 592.87,421.87 593.77,421.56 594.67,421.33 595.57,421.27 596.46,421.46 597.36,421.92 598.26,422.6 599.15,423.45 600.05,424.35 600.95,425.19 601.84,425.88 602.74,426.37 603.64,426.66 604.53,426.8 605.43,426.87 606.33,426.98 607.23,427.21 608.12,427.62 609.02,428.2 609.92,428.9 610.81,429.64 611.71,430.31 612.61,430.78 613.5,431 614.4,431.01 615.3,430.92 616.2,430.81 617.09,430.76 617.99,430.85 618.89,431.18 619.78,431.76 620.68,432.57 621.58,433.55 622.48,434.61 623.37,435.65 624.27,436.57 625.17,437.34 626.06,437.93 626.96,438.4 627.86,438.82 628.75,439.27 629.65,439.84 630.55,440.56 631.44,441.44 632.34,442.45 633.24,443.51 634.14,444.55 635.03,445.47 635.93,446.22 636.83,446.77 637.72,447.15 638.62,447.41 639.52,447.61 640.41,447.82 641.31,448.09 642.21,448.44 643.11,448.84 644,449.25 644.9,449.6" stroke="#c9c9c9" fill="none" stroke-width="0.45"/>
<polyline points="555.2,453.36 556.1,453.27 556.99,452.92 557.89,452.43 558.79,451.93 559.69,451.54 560.58,451.31 561.48,451.22 562.38,451.22 563.27,451.23 564.17,451.2 565.07,451.12 565.96,450.98 566.86,450.81 567.76,450.63 568.66,450.45 569.55,450.28 570.45,450.11 571.35,449.96 572.24,449.85 573.14,449.77 574.04,449.75 574.93,449.76 575.83,449.77 576.73,449.74 577.62,449.67 578.52,449.56 579.42,449.46 580.32,449.44 581.21,449.55 582.11,449.82 583.01,450.24 583.9,450.73 584.8,451.2 585.7,451.57 586.6,451.76 587.49,451.76 588.39,451.58 589.29,451.29 590.18,450.98 591.08,450.72 591.98,450.57 592.87,450.58 593.77,450.76 594.67,451.08 595.57,451.47 596.46,451.87 597.36,452.18 598.26,452.34 599.15,452.33 600.05,452.16 600.95,451.95 601.84,451.82 602.74,451.85 603.64,452.07 604.53,452.47 605.43,453 606.33,453.58 607.23,454.16 608.12,454.69 609.02,455.17 609.92,455.65 610.81,456.15 611.71,456.71 612.61,457.33 613.5,457.98 614.4,458.62 615.3,459.21 616.2,459.71 617.09,460.12 617.99,460.43 618.89,460.63 619.78,460.7 620.68,460.64 621.58,460.43 622.48,460.13 623.37,459.86 624.27,459.79 625.17,459.98 626.06,460.45 626.96,461.14 627.86,461.93 628.75,462.65 629.65,463.17 630.55,463.44 631.44,463.48 632.34,463.42 633.24,463.4 634.14,463.55 635.03,463.94 635.93,464.51 636.83,465.18 637.72,465.82 638.62,466.35 639.52,466.73 640.41,467 641.31,467.22 642.21,467.44 643.11,467.65 644,467.81 644.9,467.86" stroke="#c9c9c9" fill="none" stroke-width="0.45"/>
<polyline points="555.2,439.69 556.1,439.98 556.99,440.08 557.89,439.85 558.79,439.31 559.69,438.61 560.58,437.92 561.48,437.42 562.38,437.15 563.27,437 564.17,436.81 565.07,436.43 565.96,435.82 566.86,435.07 567.76,434.38 568.66,433.95 569.55,433.89 570.45,434.12 571.35,434.43 572.24,434.57 573.14,434.35 574.04,433.74 574.93,432.93 575.83,432.2 576.73,431.84 577.62,431.99 578.52,432.55 579.42,433.26 580.32,433.78 581.21,433.85 582.11,433.42 583.01,432.66 583.9,431.89 584.8,431.45 585.7,431.53 586.6,432.13 587.49,433.02 588.39,433.89 589.29,434.43 590.18,434.55 591.08,434.3 591.98,433.92 592.87,433.69 593.77,433.79 594.67,434.27 595.57,434.99 596.46,435.75 597.36,436.34 598.26,436.66 599.15,436.73 600.05,436.66 600.95,436.59 601.84,436.61 602.74,436.72 603.64,436.85 604.53,436.91 605.43,436.88 606.33,436.83 607.23,436.81 608.12,436.9 609.02,437.14 609.92,437.51 610.81,437.91 611.71,438.26 612.61,438.49 613.5,438.61 614.4,438.69 615.3,438.86 616.2,439.21 617.09,439.75 617.99,440.43 618.89,441.13 619.78,441.72 620.68,442.12 621.58,442.33 622.48,442.4 623.37,442.44 624.27,442.51 625.17,442.65 626.06,442.82 626.96,442.99 627.86,443.23 628.75,443.63 629.65,444.18 630.55,444.85 631.44,445.61 632.34,446.43 633.24,447.23 634.14,448 635.03,448.75 635.93,449.55 636.83,450.51 637.72,451.68 638.62,453.02 639.52,454.41 640.41,455.64 641.31,456.51 642.21,456.9 643.11,456.84 644,456.49 644.9,456.09" stroke="#c9c9c9" fill="none" stroke-width="0.45"/>
<polyline points="555.2,458.34 556.1,458.05 556.99,457.9 557.89,457.94 558.79,458.16 559.69,458.47 560.58,458.74 561.48,458.85 562.38,458.71 563.27,458.35 564.17,457.82 565.07,457.24 565.96,456.74 566.86,456.39 567.76,456.17 568.66,456.01 569.55,455.79 570.45,455.4 571.35,454.78 572.24,453.98 573.14,453.12 574.04,452.4 574.93,452 575.83,452.03 576.73,452.51 577.62,453.34 578.52,454.33 579.42,455.25 580.32,455.93 581.21,456.25 582.11,456.27 583.01,456.08 583.9,455.87 584.8,455.79 585.7,455.91 586.6,456.23 587.49,456.63 588.39,456.99 589.29,457.16 590.18,457.1 591.08,456.83 591.98,456.5 592.87,456.25 593.77,456.25 594.67,456.55 595.57,457.14 596.46,457.89 597.36,458.6 598.26,459.11 599.15,459.29 600.05,459.1 600.95,458.68 601.84,458.21 602.74,457.86 603.64,457.76 604.53,457.96 605.43,458.44 606.33,459.1 607.23,459.79 608.12,460.41 609.02,460.9 609.92,461.25 610.81,461.51 611.71,461.76 612.61,462.04 613.5,462.38 614.4,462.72 615.3,462.99 616.2,463.12 617.09,463.06 617.99,462.79 618.89,462.38 619.78,461.9 620.68,461.48 621.58,461.18 622.48,461.06 623.37,461.18 624.27,461.55 625.17,462.11 626.06,462.79 626.96,463.54 627.86,464.34 628.75,465.15 629.65,465.96 630.55,466.72 631.44,467.4 632.34,467.95 633.24,468.34 634.14,468.59 635.03,468.74 635.93,468.86 636.83,469.02 637.72,469.29 638.62,469.68 639.52,470.17 640.41,470.68 641.31,471.12 642.21,471.43 643.11,471.58 644,471.57 644.9,471.46" stroke="#c9c9c9" fill="none" stroke-width="0.45"/>
<polyline points="555.2,430.98 556.1,431.14 556.99,430.81 557.89,430.08 558.79,429.18 559.69,428.4 560.58,427.91 561.48,427.79 562.38,427.94 563.27,428.22 564.17,428.49 565.07,428.69 565.96,428.79 566.86,428.81 567.76,428.72 568.66,428.52 569.55,428.17 570.45,427.71 571.35,427.19 572.24,426.7 573.14,426.28 574.04,425.91 574.93,425.53 575.83,425.04 576.73,424.45 577.62,423.82 578.52,423.36 579.42,423.23 580.32,423.51 581.21,424.1 582.11,424.72 583.01,425.07 583.9,424.9 584.8,424.22 585.7,423.27 586.6,422.43 587.49,422.06 588.39,422.31 589.29,423.05 590.18,423.95 591.08,424.64 591.98,424.91 592.87,424.77 593.77,424.5 594.67,424.44 595.57,424.82 596.46,425.64 597.36,426.63 598.26,427.42 599.15,427.69 600.05,427.36 600.95,426.62 601.84,425.83 602.74,425.36 603.64,425.43 604.53,425.98 605.43,426.8 606.33,427.56 607.23,428.02 608.12,428.12 609.02,427.97 609.92,427.81 610.81,427.89 611.71,428.24 612.61,428.82 613.5,429.49 614.4,430.12 615.3,430.68 616.2,431.16 617.09,431.61 617.99,432.06 618.89,432.52 619.78,433 620.68,433.49 621.58,434.04 622.48,434.68 623.37,435.43 624.27,436.23 625.17,436.95 626.06,437.45 626.96,437.65 627.86,437.59 628.75,437.46 629.65,437.46 630.55,437.78 631.44,438.4 632.34,439.29 633.24,440.26 634.14,440.99 635.03,441.33 635.93,441.39 636.83,441.46 637.72,441.87 638.62,442.82 639.52,444.24 640.41,445.81 641.31,447.14 642.21,447.89 643.11,447.99 644,447.61 644.9,447.09" stroke="#c9c9c9" fill="none" stroke-width="0.45"/>
<polyline points="555.2,442.37 556.1,442.75 556.99,443.4 557.89,444.11 558.79,444.67 559.69,444.93 560.58,444.92 561.48,444.79 562.38,444.74 563.27,444.88 564.17,445.19 565.07,445.52 565.96,445.73 566.86,445.76 567.76,445.67 568.66,445.62 569.55,445.74 570.45,446.05 571.35,446.44 572.24,446.71 573.14,446.74 574.04,446.52 574.93,446.23 575.83,446.11 576.73,446.34 577.62,446.93 578.52,447.64 579.42,448.18 580.32,448.3 581.21,447.94 582.11,447.22 583.01,446.4 583.9,445.71 584.8,445.23 585.7,444.87 586.6,444.44 587.49,443.78 588.39,442.84 589.29,441.77 590.18,440.77 591.08,440.02 591.98,439.55 592.87,439.25 593.77,438.91 594.67,438.38 595.57,437.66 596.46,436.88 597.36,436.26 598.26,435.97 599.15,436.05 600.05,436.4 600.95,436.85 601.84,437.24 602.74,437.55 603.64,437.83 604.53,438.19 605.43,438.69 606.33,439.27 607.23,439.83 608.12,440.29 609.02,440.69 609.92,441.16 610.81,441.92 611.71,443.1 612.61,444.63 613.5,446.29 614.4,447.73 615.3,448.66 616.2,449.02 617.09,449 617.99,448.98 618.89,449.32 619.78,450.18 620.68,451.49 621.58,452.91 622.48,454.05 623.37,454.65 624.27,454.64 625.17,454.18 626.06,453.56 626.96,453.02 627.86,452.79 628.75,452.94 629.65,453.36 630.55,453.94 631.44,454.63 632.34,455.41 633.24,456.24 634.14,457.06 635.03,457.74 635.93,458.19 636.83,458.41 637.72,458.53 638.62,458.75 639.52,459.25 640.41,460.06 641.31,461.03 642.21,461.85 643.11,462.21 644,461.97 644.9,461.24" stroke="#c9c9c9" fill="none" stroke-width="0.45"/>
<polygon points="555.2,414.72 555.76,415.54 556.32,416.37 556.88,417.2 557.44,418.03 558,418.85 558.56,419.16 559.12,418.69 559.69,418.22 560.25,417.75 560.81,417.28 561.37,416.81 561.93,416.34 562.49,417.17 563.05,417.99 563.61,418.82 564.17,419.65 564.73,420.47 565.29,421.13 565.85,421.51 566.41,421.9 566.97,422.28 567.53,422.67 568.09,423.06 568.66,423.44 569.22,424.31 569.78,425.18 570.34,426.04 570.9,426.91 571.46,427.77 572.02,428.64 572.58,429.51 573.14,430.37 573.7,430.69 574.26,431.01 574.82,431.33 575.38,431.64 575.94,431.96 576.5,432.28 577.06,432.6 577.62,432.92 578.19,434.02 578.75,435.13 579.31,436.24 579.87,437.35 580.43,436.97 580.99,436.59 581.55,436.21 582.11,435.83 582.67,435.45 583.23,435.71 583.79,436.92 584.35,438.13 584.91,439.34 585.47,440.55 586.03,441.77 586.6,442.98 587.16,443.16 587.72,443.34 588.28,443.53 588.84,443.71 589.4,443.89 589.96,444.08 590.52,444.75 591.08,445.74 591.64,446.73 592.2,447.72 592.76,448.71 593.32,449.7 593.88,448.89 594.44,448.08 595,447.27 595.57,446.46 596.13,447.84 596.69,449.23 597.25,450.61 597.81,451.99 598.37,453.62 598.93,454.51 599.49,455.41 600.05,477.86 600.61,477.86 601.17,477.86 601.73,477.86 602.29,477.86 602.85,477.86 603.41,477.86 603.97,477.86 604.53,477.86 605.1,477.86 605.66,477.86 606.22,477.86 606.78,477.86 607.34,477.86 607.9,477.86 608.46,477.86 609.02,477.86 609.58,477.86 610.14,477.86 610.7,477.86 611.26,477.86 611.82,477.86 612.38,477.86 612.94,477.86 613.5,477.86 614.07,477.86 614.63,477.86 615.19,477.86 615.75,477.86 616.31,477.86 616.87,477.86 617.43,477.86 617.99,477.86 618.55,477.86 619.11,477.86 619.67,477.86 620.23,477.86 620.79,477.86 621.35,477.86 621.91,477.86 622.48,477.86 623.04,477.86 623.6,477.86 624.16,477.86 624.72,477.86 625.28,477.86 625.84,477.86 626.4,477.86 626.96,477.86 627.52,477.86 628.08,477.86 628.64,477.86 629.2,477.86 629.76,477.86 630.32,477.86 630.88,477.86 631.44,477.86 632.01,477.86 632.57,477.86 633.13,477.86 633.69,477.86 634.25,477.86 634.81,477.86 635.37,477.86 635.93,477.86 636.49,477.86 637.05,477.86 637.61,477.86 638.17,477.86 638.73,477.86 639.29,477.86 639.85,477.86 640.41,477.86 640.98,477.86 641.54,477.86 642.1,477.86 642.66,477.86 643.22,477.86 643.78,477.86 644.34,477.86 644.9,477.86 644.9,478.74 644.34,478.74 643.78,478.74 643.22,478.74 642.66,478.74 642.1,478.74 641.54,478.74 640.98,478.74 640.41,478.74 639.85,478.74 639.29,478.74 638.73,478.74 638.17,478.74 637.61,478.74 637.05,478.74 636.49,478.74 635.93,478.74 635.37,478.74 634.81,478.74 634.25,478.74 633.69,478.74 633.13,478.74 632.57,478.74 632.01,478.74 631.44,478.74 630.88,478.74 630.32,478.74 629.76,478.74 629.2,478.74 628.64,478.74 628.08,478.74 627.52,478.74 626.96,478.74 626.4,478.74 625.84,478.74 625.28,478.74 624.72,478.74 624.16,478.74 623.6,478.74 623.04,478.74 622.48,478.74 621.91,478.74 621.35,478.74 620.79,478.74 620.23,478.74 619.67,478.74 619.11,478.74 618.55,478.74 617.99,478.74 617.43,478.74 616.87,478.74 616.31,478.74 615.75,478.74 615.19,478.74 614.63,478.74 614.07,478.74 613.5,478.74 612.94,478.74 612.38,478.74 611.82,478.74 611.26,478.74 610.7,478.74 610.14,478.74 609.58,478.74 609.02,478.74 608.46,478.74 607.9,478.74 607.34,478.74 606.78,478.74 606.22,478.74 605.66,478.74 605.1,478.74 604.53,478.74 603.97,478.74 603.41,478.74 602.85,478.74 602.29,478.74 601.73,478.74 601.17,478.74 600.61,478.74 600.05,478.74 599.49,457.16 598.93,457.14 598.37,457.12 597.81,456.38 597.25,455.02 596.69,453.66 596.13,452.3 595.57,450.94 595,451.78 594.44,452.61 593.88,453.45 593.32,454.28 592.76,453.31 592.2,452.35 591.64,451.38 591.08,450.41 590.52,449.45 589.96,448.8 589.4,448.64 588.84,448.49 588.28,448.33 587.72,448.17 587.16,448.01 586.6,447.85 586.03,446.66 585.47,445.47 584.91,444.29 584.35,443.1 583.79,441.91 583.23,440.73 582.67,440.5 582.11,440.9 581.55,441.3 580.99,441.71 580.43,442.11 579.87,442.51 579.31,441.43 578.75,440.35 578.19,439.26 577.62,438.18 577.06,437.95 576.5,437.72 575.94,437.49 575.38,437.26 574.82,437.03 574.26,436.8 573.7,436.57 573.14,436.34 572.58,435.56 572.02,434.78 571.46,434 570.9,433.22 570.34,432.44 569.78,431.67 569.22,430.89 568.66,430.11 568.09,429.81 567.53,429.51 566.97,429.21 566.41,428.91 565.85,428.62 565.29,428.32 564.73,427.75 564.17,427.01 563.61,426.28 563.05,425.54 562.49,424.8 561.93,424.06 561.37,424.62 560.81,425.17 560.25,425.73 559.69,426.29 559.12,426.85 558.56,427.4 558,427.18 557.44,426.44 556.88,425.71 556.32,424.97 555.76,424.23 555.2,423.49" stroke="none" fill="#cfc4b8" stroke-width="1" fill-opacity="0.75"/>
<polygon points="555.2,439.49 555.76,439.46 556.32,439.35 556.88,439.19 557.44,438.98 558,438.73 558.56,438.45 559.12,438.16 559.69,437.85 560.25,437.54 560.81,437.24 561.37,436.97 561.93,436.72 562.49,436.51 563.05,436.35 563.61,436.24 564.17,436.2 564.73,436.19 565.29,436.16 565.85,436.1 566.41,436.03 566.97,435.95 567.53,435.86 568.09,435.76 568.66,435.66 569.22,435.55 569.78,435.45 570.34,435.36 570.9,435.28 571.46,435.21 572.02,435.15 572.58,435.12 573.14,435.11 573.7,435.1 574.26,435.09 574.82,435.06 575.38,435.03 575.94,434.98 576.5,434.94 577.06,434.88 577.62,434.82 578.19,434.76 578.75,434.7 579.31,434.63 579.87,434.56 580.43,434.49 580.99,434.42 581.55,434.36 582.11,434.3 582.67,434.24 583.23,434.18 583.79,434.13 584.35,434.09 584.91,434.06 585.47,434.03 586.03,434.02 586.6,434.01 587.16,434.04 587.72,434.11 588.28,434.21 588.84,434.35 589.4,434.52 589.96,434.71 590.52,434.9 591.08,435.11 591.64,435.31 592.2,435.51 592.76,435.7 593.32,435.86 593.88,436 594.44,436.11 595,436.18 595.57,436.2 596.13,436.25 596.69,436.38 597.25,436.55 597.81,436.75 598.37,436.95 598.93,437.13 599.49,437.25 600.05,437.3 600.61,437.31 601.17,437.33 601.73,437.36 602.29,437.4 602.85,437.45 603.41,437.51 603.97,437.57 604.53,437.63 605.1,437.69 605.66,437.75 606.22,437.81 606.78,437.86 607.34,437.9 607.9,437.93 608.46,437.95 609.02,437.96 609.58,438.01 610.14,438.17 610.7,438.4 611.26,438.71 611.82,439.08 612.38,439.48 612.94,439.92 613.5,440.37 614.07,440.82 614.63,441.26 615.19,441.66 615.75,442.03 616.31,442.34 616.87,442.57 617.43,442.73 617.99,442.78 618.55,442.86 619.11,443.06 619.67,443.39 620.23,443.81 620.79,444.31 621.35,444.86 621.91,445.46 622.48,446.07 623.04,446.68 623.6,447.28 624.16,447.83 624.72,448.33 625.28,448.75 625.84,449.08 626.4,449.29 626.96,449.36 627.52,449.44 628.08,449.65 628.64,449.98 629.2,450.38 629.76,450.84 630.32,451.33 630.88,451.82 631.44,452.28 632.01,452.69 632.57,453.01 633.13,453.23 633.69,453.31 634.25,453.34 634.81,453.42 635.37,453.55 635.93,453.7 636.49,453.88 637.05,454.07 637.61,454.26 638.17,454.44 638.73,454.6 639.29,454.73 639.85,454.81 640.41,454.84 640.98,454.93 641.54,455.18 642.1,455.53 642.66,455.94 643.22,456.34 643.78,456.69 644.34,456.94 644.9,457.03 644.9,462.29 644.34,462.2 643.78,461.95 643.22,461.6 642.66,461.2 642.1,460.8 641.54,460.44 640.98,460.2 640.41,460.1 639.85,460.07 639.29,459.99 638.73,459.86 638.17,459.7 637.61,459.52 637.05,459.33 636.49,459.14 635.93,458.97 635.37,458.81 634.81,458.68 634.25,458.6 633.69,458.57 633.13,458.49 632.57,458.28 632.01,457.95 631.44,457.54 630.88,457.08 630.32,456.59 629.76,456.11 629.2,455.64 628.64,455.24 628.08,454.91 627.52,454.7 626.96,454.62 626.4,454.55 625.84,454.34 625.28,454.01 624.72,453.59 624.16,453.1 623.6,452.54 623.04,451.95 622.48,451.33 621.91,450.72 621.35,450.12 620.79,449.57 620.23,449.07 619.67,448.65 619.11,448.33 618.55,448.12 617.99,448.04 617.43,447.99 616.87,447.84 616.31,447.6 615.75,447.29 615.19,446.92 614.63,446.52 614.07,446.08 613.5,445.63 612.94,445.18 612.38,444.75 611.82,444.34 611.26,443.97 610.7,443.67 610.14,443.43 609.58,443.27 609.02,443.22 608.46,443.21 607.9,443.19 607.34,443.16 606.78,443.12 606.22,443.07 605.66,443.01 605.1,442.95 604.53,442.89 603.97,442.83 603.41,442.77 602.85,442.71 602.29,442.67 601.73,442.62 601.17,442.59 600.61,442.57 600.05,442.56 599.49,442.52 598.93,442.39 598.37,442.22 597.81,442.01 597.25,441.81 596.69,441.64 596.13,441.51 595.57,441.47 595,441.44 594.44,441.37 593.88,441.26 593.32,441.12 592.76,440.96 592.2,440.77 591.64,440.57 591.08,440.37 590.52,440.17 589.96,439.97 589.4,439.78 588.84,439.62 588.28,439.48 587.72,439.37 587.16,439.3 586.6,439.27 586.03,439.28 585.47,439.3 584.91,439.32 584.35,439.35 583.79,439.4 583.23,439.44 582.67,439.5 582.11,439.56 581.55,439.62 580.99,439.69 580.43,439.75 579.87,439.82 579.31,439.89 578.75,439.96 578.19,440.02 577.62,440.09 577.06,440.14 576.5,440.2 575.94,440.25 575.38,440.29 574.82,440.32 574.26,440.35 573.7,440.36 573.14,440.37 572.58,440.38 572.02,440.42 571.46,440.47 570.9,440.54 570.34,440.62 569.78,440.72 569.22,440.82 568.66,440.92 568.09,441.02 567.53,441.12 566.97,441.21 566.41,441.29 565.85,441.36 565.29,441.42 564.73,441.45 564.17,441.47 563.61,441.5 563.05,441.61 562.49,441.77 561.93,441.98 561.37,442.23 560.81,442.51 560.25,442.8 559.69,443.11 559.12,443.42 558.56,443.71 558,443.99 557.44,444.24 556.88,444.45 556.32,444.61 555.76,444.72 555.2,444.75" stroke="none" fill="#9fd89a" stroke-width="1" fill-opacity="0.7"/>
<line x1="555.2" y1="456.38" x2="644.9" y2="456.38" stroke="#b77bd0" stroke-width="0.9"/>
<polyline points="555.2,419.1 555.76,419.89 556.32,420.67 556.88,421.45 557.44,422.23 558,423.02 558.56,423.28 559.12,422.77 559.69,422.25 560.25,421.74 560.81,421.23 561.37,420.71 561.93,420.2 562.49,420.98 563.05,421.76 563.61,422.55 564.17,423.33 564.73,424.11 565.29,424.72 565.85,425.06 566.41,425.41 566.97,425.75 567.53,426.09 568.09,426.43 568.66,426.78 569.22,427.6 569.78,428.42 570.34,429.24 570.9,430.06 571.46,430.89 572.02,431.71 572.58,432.53 573.14,433.35 573.7,433.63 574.26,433.9 574.82,434.18 575.38,434.45 575.94,434.72 576.5,435 577.06,435.27 577.62,435.55 578.19,436.64 578.75,437.74 579.31,438.84 579.87,439.93 580.43,439.54 580.99,439.15 581.55,438.76 582.11,438.37 582.67,437.97 583.23,438.22 583.79,439.42 584.35,440.62 584.91,441.82 585.47,443.01 586.03,444.21 586.6,445.41 587.16,445.58 587.72,445.76 588.28,445.93 588.84,446.1 589.4,446.27 589.96,446.44 590.52,447.1 591.08,448.07 591.64,449.05 592.2,450.03 592.76,451.01 593.32,451.99 593.88,451.17 594.44,450.35 595,449.52 595.57,448.7 596.13,450.07 596.69,451.44 597.25,452.81 597.81,454.18 598.37,455.37 598.93,455.83 599.49,456.28 600.05,478.3 600.61,478.3 601.17,478.3 601.73,478.3 602.29,478.3 602.85,478.3 603.41,478.3 603.97,478.3 604.53,478.3 605.1,478.3 605.66,478.3 606.22,478.3 606.78,478.3 607.34,478.3 607.9,478.3 608.46,478.3 609.02,478.3 609.58,478.3 610.14,478.3 610.7,478.3 611.26,478.3 611.82,478.3 612.38,478.3 612.94,478.3 613.5,478.3 614.07,478.3 614.63,478.3 615.19,478.3 615.75,478.3 616.31,478.3 616.87,478.3 617.43,478.3 617.99,478.3 618.55,478.3 619.11,478.3 619.67,478.3 620.23,478.3 620.79,478.3 621.35,478.3 621.91,478.3 622.48,478.3 623.04,478.3 623.6,478.3 624.16,478.3 624.72,478.3 625.28,478.3 625.84,478.3 626.4,478.3 626.96,478.3 627.52,478.3 628.08,478.3 628.64,478.3 629.2,478.3 629.76,478.3 630.32,478.3 630.88,478.3 631.44,478.3 632.01,478.3 632.57,478.3 633.13,478.3 633.69,478.3 634.25,478.3 634.81,478.3 635.37,478.3 635.93,478.3 636.49,478.3 637.05,478.3 637.61,478.3 638.17,478.3 638.73,478.3 639.29,478.3 639.85,478.3 640.41,478.3 640.98,478.3 641.54,478.3 642.1,478.3 642.66,478.3 643.22,478.3 643.78,478.3 644.34,478.3 644.9,478.3" stroke="#a57b50" fill="none" stroke-width="1.1"/>
<polyline points="555.2,442.12 555.76,442.09 556.32,441.98 556.88,441.82 557.44,441.61 558,441.36 558.56,441.08 559.12,440.79 559.69,440.48 560.25,440.17 560.81,439.88 561.37,439.6 561.93,439.35 562.49,439.14 563.05,438.98 563.61,438.87 564.17,438.84 564.73,438.82 565.29,438.79 565.85,438.73 566.41,438.66 566.97,438.58 567.53,438.49 568.09,438.39 568.66,438.29 569.22,438.18 569.78,438.09 570.34,437.99 570.9,437.91 571.46,437.84 572.02,437.79 572.58,437.75 573.14,437.74 573.7,437.73 574.26,437.72 574.82,437.69 575.38,437.66 575.94,437.62 576.5,437.57 577.06,437.51 577.62,437.45 578.19,437.39 578.75,437.33 579.31,437.26 579.87,437.19 580.43,437.12 580.99,437.05 581.55,436.99 582.11,436.93 582.67,436.87 583.23,436.81 583.79,436.77 584.35,436.72 584.91,436.69 585.47,436.66 586.03,436.65 586.6,436.64 587.16,436.67 587.72,436.74 588.28,436.84 588.84,436.99 589.4,437.15 589.96,437.34 590.52,437.53 591.08,437.74 591.64,437.94 592.2,438.14 592.76,438.33 593.32,438.49 593.88,438.63 594.44,438.74 595,438.81 595.57,438.84 596.13,438.88 596.69,439.01 597.25,439.18 597.81,439.38 598.37,439.58 598.93,439.76 599.49,439.88 600.05,439.93 600.61,439.94 601.17,439.96 601.73,439.99 602.29,440.03 602.85,440.08 603.41,440.14 603.97,440.2 604.53,440.26 605.1,440.32 605.66,440.38 606.22,440.44 606.78,440.49 607.34,440.53 607.9,440.56 608.46,440.58 609.02,440.59 609.58,440.64 610.14,440.8 610.7,441.03 611.26,441.34 611.82,441.71 612.38,442.12 612.94,442.55 613.5,443 614.07,443.45 614.63,443.89 615.19,444.29 615.75,444.66 616.31,444.97 616.87,445.21 617.43,445.36 617.99,445.41 618.55,445.49 619.11,445.7 619.67,446.02 620.23,446.44 620.79,446.94 621.35,447.49 621.91,448.09 622.48,448.7 623.04,449.31 623.6,449.91 624.16,450.46 624.72,450.96 625.28,451.38 625.84,451.71 626.4,451.92 626.96,451.99 627.52,452.07 628.08,452.28 628.64,452.61 629.2,453.01 629.76,453.47 630.32,453.96 630.88,454.45 631.44,454.91 632.01,455.32 632.57,455.64 633.13,455.86 633.69,455.94 634.25,455.97 634.81,456.05 635.37,456.18 635.93,456.33 636.49,456.51 637.05,456.7 637.61,456.89 638.17,457.07 638.73,457.23 639.29,457.36 639.85,457.44 640.41,457.47 640.98,457.57 641.54,457.81 642.1,458.16 642.66,458.57 643.22,458.97 643.78,459.32 644.34,459.57 644.9,459.66" stroke="#37a946" fill="none" stroke-width="2" stroke-linejoin="round"/>
<line x1="600.05" y1="328" x2="600.05" y2="478.3" stroke="#111" stroke-width="1.3" stroke-dasharray="1.5,1.6"/>
<line x1="555.2" y1="390.6" x2="555.2" y2="478.7" stroke="#4d4d4d" stroke-width="0.9"/>
<line x1="644.9" y1="390.6" x2="644.9" y2="478.7" stroke="#8a8a8a" stroke-width="0.9"/>
<line x1="554.8" y1="478.3" x2="645.3" y2="478.3" stroke="#4d4d4d" stroke-width="0.9"/>
<line x1="552.7" y1="390.6" x2="555.2" y2="390.6" stroke="#4d4d4d" stroke-width="0.8"/>
<text x="552.6" y="394.4" font-size="10.9" fill="#5fb847" text-anchor="end">3.0</text>
<line x1="552.7" y1="412.53" x2="555.2" y2="412.53" stroke="#4d4d4d" stroke-width="0.8"/>
<text x="552.6" y="416.33" font-size="10.9" fill="#5fb847" text-anchor="end">2.0</text>
<line x1="552.7" y1="434.45" x2="555.2" y2="434.45" stroke="#4d4d4d" stroke-width="0.8"/>
<text x="552.6" y="438.25" font-size="10.9" fill="#5fb847" text-anchor="end">1.0</text>
<line x1="552.7" y1="456.38" x2="555.2" y2="456.38" stroke="#4d4d4d" stroke-width="0.8"/>
<text x="552.6" y="460.18" font-size="10.9" fill="#5fb847" text-anchor="end">0.0</text>
<line x1="552.7" y1="478.3" x2="555.2" y2="478.3" stroke="#4d4d4d" stroke-width="0.8"/>
<text x="552.6" y="482.1" font-size="10.9" fill="#5fb847" text-anchor="end">-1.0</text>
<line x1="644.9" y1="390.6" x2="647.4" y2="390.6" stroke="#8a8a8a" stroke-width="0.8"/>
<text x="647.3" y="394.4" font-size="10.9" fill="#c3a17c">2.0</text>
<line x1="644.9" y1="412.53" x2="647.4" y2="412.53" stroke="#8a8a8a" stroke-width="0.8"/>
<text x="647.3" y="416.33" font-size="10.9" fill="#c3a17c">1.5</text>
<line x1="644.9" y1="434.45" x2="647.4" y2="434.45" stroke="#8a8a8a" stroke-width="0.8"/>
<text x="647.3" y="438.25" font-size="10.9" fill="#c3a17c">1.0</text>
<line x1="644.9" y1="456.38" x2="647.4" y2="456.38" stroke="#8a8a8a" stroke-width="0.8"/>
<text x="647.3" y="460.18" font-size="10.9" fill="#c3a17c">0.5</text>
<line x1="644.9" y1="478.3" x2="647.4" y2="478.3" stroke="#8a8a8a" stroke-width="0.8"/>
<text x="647.3" y="482.1" font-size="10.9" fill="#c3a17c">0.0</text>
<line x1="555.2" y1="478.3" x2="555.2" y2="480.8" stroke="#4d4d4d" stroke-width="0.8"/>
<text x="555.2" y="490.5" font-size="10.5" fill="#231f20" text-anchor="middle">-1.0</text>
<line x1="577.62" y1="478.3" x2="577.62" y2="480.8" stroke="#4d4d4d" stroke-width="0.8"/>
<text x="577.62" y="490.5" font-size="10.5" fill="#231f20" text-anchor="middle">-0.5</text>
<line x1="600.05" y1="478.3" x2="600.05" y2="480.8" stroke="#4d4d4d" stroke-width="0.8"/>
<text x="600.05" y="490.5" font-size="10.5" fill="#231f20" text-anchor="middle">0.0</text>
<line x1="622.48" y1="478.3" x2="622.48" y2="480.8" stroke="#4d4d4d" stroke-width="0.8"/>
<text x="622.48" y="490.5" font-size="10.5" fill="#231f20" text-anchor="middle">0.5</text>
<line x1="644.9" y1="478.3" x2="644.9" y2="480.8" stroke="#4d4d4d" stroke-width="0.8"/>
<text x="644.9" y="490.5" font-size="10.5" fill="#231f20" text-anchor="middle">1.0</text>
<text x="600.05" y="499.1" font-size="11.9" fill="#231f20" text-anchor="middle">Time (s)</text>
<text transform="translate(534.3,434.9) rotate(-90)" x="0" y="0" font-size="12.2" fill="#5fb847" text-anchor="middle">ΔF/F (z-score)</text>
<text transform="translate(673.4,427.9) rotate(-90)" x="0" y="0" font-size="12.2" fill="#c3a17c" text-anchor="middle">Vel. (cm/s)</text>
<text x="135.6" y="304.7" font-size="11.7" fill="#231f20" font-style="italic">Kremen1</text>
<text x="183.8" y="300.4" font-size="7.4" fill="#231f20">2A-Cre</text>
<line x1="81.7" y1="309.5" x2="255" y2="309.5" stroke="#777" stroke-width="0.8"/>
<text x="499.4" y="305.8" font-size="11.4" fill="#231f20" font-style="italic">Calb1</text>
<text x="529.4" y="301.2" font-size="7.4" fill="#231f20">IRES2-Cre</text>
<line x1="435.3" y1="310.5" x2="608.7" y2="310.5" stroke="#777" stroke-width="0.8"/>
<text x="55.9" y="537.7" font-size="11.8" fill="#231f20">Loco. onset</text>
<line x1="55.2" y1="553.4" x2="55.2" y2="661.8" stroke="#3a3a3a" stroke-width="0.9"/>
<line x1="55.2" y1="661.3" x2="127.7" y2="661.3" stroke="#3a3a3a" stroke-width="0.9"/>
<line x1="51.6" y1="553.45" x2="55.2" y2="553.45" stroke="#3a3a3a" stroke-width="0.9"/>
<text x="50.6" y="557.25" font-size="10.9" fill="#231f20" text-anchor="end">1.5</text>
<line x1="51.6" y1="589.4" x2="55.2" y2="589.4" stroke="#3a3a3a" stroke-width="0.9"/>
<text x="50.6" y="593.2" font-size="10.9" fill="#231f20" text-anchor="end">1.0</text>
<line x1="51.6" y1="625.35" x2="55.2" y2="625.35" stroke="#3a3a3a" stroke-width="0.9"/>
<text x="50.6" y="629.15" font-size="10.9" fill="#231f20" text-anchor="end">0.5</text>
<line x1="51.6" y1="661.3" x2="55.2" y2="661.3" stroke="#3a3a3a" stroke-width="0.9"/>
<text x="50.6" y="665.1" font-size="10.9" fill="#231f20" text-anchor="end">0.0</text>
<rect x="66.8" y="615.28" width="19.6" height="46.02" fill="#7a7a7a" stroke="#2a2a2a" stroke-width="0.9"/>
<line x1="76.6" y1="661.3" x2="76.6" y2="664.8" stroke="#3a3a3a" stroke-width="0.9"/>
<circle cx="72.5" cy="589.4" r="1.65" fill="#000"/>
<circle cx="79.7" cy="589.4" r="1.65" fill="#000"/>
<circle cx="76.4" cy="595.15" r="1.65" fill="#000"/>
<circle cx="77.2" cy="612.41" r="1.65" fill="#000"/>
<circle cx="70" cy="628.23" r="1.65" fill="#000"/>
<circle cx="77" cy="628.94" r="1.65" fill="#000"/>
<circle cx="83" cy="625.35" r="1.65" fill="#000"/>
<circle cx="83.5" cy="628.94" r="1.65" fill="#000"/>
<circle cx="76.4" cy="633.98" r="1.65" fill="#000"/>
<circle cx="74.6" cy="628.94" r="1.65" fill="#000"/>
<line x1="76.6" y1="608.81" x2="76.6" y2="621.75" stroke="#111" stroke-width="0.9"/>
<line x1="72.4" y1="608.81" x2="80.8" y2="608.81" stroke="#111" stroke-width="0.9"/>
<line x1="72.4" y1="621.75" x2="80.8" y2="621.75" stroke="#111" stroke-width="0.9"/>
<rect x="97.5" y="628.94" width="19.6" height="32.36" fill="#d9d9d9" stroke="#2a2a2a" stroke-width="0.9"/>
<line x1="107.3" y1="661.3" x2="107.3" y2="664.8" stroke="#3a3a3a" stroke-width="0.9"/>
<rect x="105.7" y="610.81" width="3.2" height="3.2" fill="#000"/>
<rect x="102.7" y="618.72" width="3.2" height="3.2" fill="#000"/>
<rect x="108.7" y="617.28" width="3.2" height="3.2" fill="#000"/>
<rect x="97.4" y="628.78" width="3.2" height="3.2" fill="#000"/>
<rect x="97.4" y="627.34" width="3.2" height="3.2" fill="#000"/>
<rect x="102.7" y="629.5" width="3.2" height="3.2" fill="#000"/>
<rect x="108.7" y="627.34" width="3.2" height="3.2" fill="#000"/>
<rect x="114.4" y="628.78" width="3.2" height="3.2" fill="#000"/>
<rect x="114.4" y="632.38" width="3.2" height="3.2" fill="#000"/>
<rect x="105.7" y="646.76" width="3.2" height="3.2" fill="#000"/>
<rect x="106.2" y="628.06" width="3.2" height="3.2" fill="#000"/>
<line x1="107.3" y1="626.07" x2="107.3" y2="631.82" stroke="#111" stroke-width="0.9"/>
<line x1="103.1" y1="626.07" x2="111.5" y2="626.07" stroke="#111" stroke-width="0.9"/>
<line x1="103.1" y1="631.82" x2="111.5" y2="631.82" stroke="#111" stroke-width="0.9"/>
<polyline points="76,581.5 76,576.5 107.7,576.5 107.7,609" stroke="#3a3a3a" fill="none" stroke-width="0.9"/>
<text x="91" y="574.5" font-size="11.5" fill="#231f20" text-anchor="middle">*</text>
<text transform="translate(31.4,605.5) rotate(-90)" x="0" y="0" font-size="11.6" fill="#231f20" text-anchor="middle">Time of max activity (s)</text>
<text x="191.8" y="537.7" font-size="11.65" fill="#231f20">Activity rise loco. onset</text>
<line x1="219.5" y1="553.6" x2="219.5" y2="661.8" stroke="#3a3a3a" stroke-width="0.9"/>
<line x1="219.5" y1="661.3" x2="293" y2="661.3" stroke="#3a3a3a" stroke-width="0.9"/>
<line x1="215.9" y1="562.25" x2="219.5" y2="562.25" stroke="#3a3a3a" stroke-width="0.9"/>
<text x="214.9" y="566.05" font-size="10.9" fill="#231f20" text-anchor="end">0.5</text>
<line x1="215.9" y1="607.2" x2="219.5" y2="607.2" stroke="#3a3a3a" stroke-width="0.9"/>
<text x="214.9" y="611" font-size="10.9" fill="#231f20" text-anchor="end">0.0</text>
<line x1="215.9" y1="652.15" x2="219.5" y2="652.15" stroke="#3a3a3a" stroke-width="0.9"/>
<text x="214.9" y="655.95" font-size="10.9" fill="#231f20" text-anchor="end">-0.5</text>
<line x1="217.3" y1="584.73" x2="219.5" y2="584.73" stroke="#3a3a3a" stroke-width="0.9"/>
<line x1="217.3" y1="629.68" x2="219.5" y2="629.68" stroke="#3a3a3a" stroke-width="0.9"/>
<rect x="229.8" y="600.46" width="19.6" height="6.74" fill="#7a7a7a" stroke="#2a2a2a" stroke-width="0.9"/>
<line x1="239.6" y1="661.3" x2="239.6" y2="664.8" stroke="#3a3a3a" stroke-width="0.9"/>
<circle cx="236.6" cy="580.23" r="1.65" fill="#000"/>
<circle cx="242.6" cy="574.84" r="1.65" fill="#000"/>
<circle cx="244.8" cy="578.43" r="1.65" fill="#000"/>
<circle cx="239.6" cy="597.31" r="1.65" fill="#000"/>
<circle cx="232.6" cy="609.9" r="1.65" fill="#000"/>
<circle cx="236.1" cy="611.7" r="1.65" fill="#000"/>
<circle cx="243.1" cy="611.7" r="1.65" fill="#000"/>
<circle cx="244.6" cy="610.8" r="1.65" fill="#000"/>
<circle cx="239.6" cy="619.79" r="1.65" fill="#000"/>
<circle cx="239.6" cy="607.2" r="1.65" fill="#000"/>
<line x1="239.6" y1="594.61" x2="239.6" y2="606.3" stroke="#111" stroke-width="0.9"/>
<line x1="235.4" y1="594.61" x2="243.8" y2="594.61" stroke="#111" stroke-width="0.9"/>
<line x1="235.4" y1="606.3" x2="243.8" y2="606.3" stroke="#111" stroke-width="0.9"/>
<rect x="260.9" y="607.2" width="19.6" height="13.49" fill="#d9d9d9" stroke="#2a2a2a" stroke-width="0.9"/>
<line x1="270.7" y1="661.3" x2="270.7" y2="664.8" stroke="#3a3a3a" stroke-width="0.9"/>
<rect x="269.1" y="594.81" width="3.2" height="3.2" fill="#000"/>
<rect x="264.6" y="603.8" width="3.2" height="3.2" fill="#000"/>
<rect x="272.1" y="602.9" width="3.2" height="3.2" fill="#000"/>
<rect x="266.1" y="613.69" width="3.2" height="3.2" fill="#000"/>
<rect x="272.1" y="611.89" width="3.2" height="3.2" fill="#000"/>
<rect x="264.6" y="615.49" width="3.2" height="3.2" fill="#000"/>
<rect x="273.6" y="614.59" width="3.2" height="3.2" fill="#000"/>
<rect x="269.1" y="625.38" width="3.2" height="3.2" fill="#000"/>
<rect x="269.1" y="637.07" width="3.2" height="3.2" fill="#000"/>
<rect x="265.1" y="650.55" width="3.2" height="3.2" fill="#000"/>
<rect x="273.1" y="650.55" width="3.2" height="3.2" fill="#000"/>
<line x1="270.7" y1="614.39" x2="270.7" y2="626.98" stroke="#111" stroke-width="0.9"/>
<line x1="266.5" y1="614.39" x2="274.9" y2="614.39" stroke="#111" stroke-width="0.9"/>
<line x1="266.5" y1="626.98" x2="274.9" y2="626.98" stroke="#111" stroke-width="0.9"/>
<line x1="219.5" y1="607.2" x2="293.5" y2="607.2" stroke="#3a3a3a" stroke-width="0.9"/>
<polyline points="239.3,567 239.3,562.2 270.6,562.2 270.6,594" stroke="#3a3a3a" fill="none" stroke-width="0.9"/>
<text x="254.4" y="561" font-size="11.5" fill="#231f20" text-anchor="middle">*</text>
<text transform="translate(191.2,605.5) rotate(-90)" x="0" y="0" font-size="11.6" fill="#231f20" text-anchor="middle">Time of activity rise (s)</text>
<text x="382" y="537.7" font-size="11.8" fill="#231f20">Loco. offset</text>
<line x1="385.6" y1="553.6" x2="385.6" y2="661.8" stroke="#3a3a3a" stroke-width="0.9"/>
<line x1="385.6" y1="661.3" x2="457.7" y2="661.3" stroke="#3a3a3a" stroke-width="0.9"/>
<line x1="382" y1="560.2" x2="385.6" y2="560.2" stroke="#3a3a3a" stroke-width="0.9"/>
<text x="381" y="564" font-size="10.9" fill="#231f20" text-anchor="end">0.5</text>
<line x1="382" y1="593.9" x2="385.6" y2="593.9" stroke="#3a3a3a" stroke-width="0.9"/>
<text x="381" y="597.7" font-size="10.9" fill="#231f20" text-anchor="end">0.0</text>
<line x1="382" y1="627.6" x2="385.6" y2="627.6" stroke="#3a3a3a" stroke-width="0.9"/>
<text x="381" y="631.4" font-size="10.9" fill="#231f20" text-anchor="end">-0.5</text>
<line x1="382" y1="661.3" x2="385.6" y2="661.3" stroke="#3a3a3a" stroke-width="0.9"/>
<text x="381" y="665.1" font-size="10.9" fill="#231f20" text-anchor="end">-1.0</text>
<rect x="396.8" y="585.14" width="19.6" height="8.76" fill="#7a7a7a" stroke="#2a2a2a" stroke-width="0.9"/>
<line x1="406.6" y1="661.3" x2="406.6" y2="664.8" stroke="#3a3a3a" stroke-width="0.9"/>
<circle cx="406.6" cy="570.98" r="1.65" fill="#000"/>
<circle cx="400.1" cy="576.38" r="1.65" fill="#000"/>
<circle cx="413.1" cy="578.4" r="1.65" fill="#000"/>
<circle cx="403.6" cy="579.07" r="1.65" fill="#000"/>
<circle cx="409.6" cy="580.42" r="1.65" fill="#000"/>
<circle cx="406.6" cy="587.16" r="1.65" fill="#000"/>
<circle cx="403.1" cy="592.55" r="1.65" fill="#000"/>
<circle cx="410.1" cy="593.9" r="1.65" fill="#000"/>
<circle cx="403.1" cy="598.62" r="1.65" fill="#000"/>
<circle cx="409.4" cy="597.94" r="1.65" fill="#000"/>
<line x1="406.6" y1="581.43" x2="406.6" y2="588.85" stroke="#111" stroke-width="0.9"/>
<line x1="402.4" y1="581.43" x2="410.8" y2="581.43" stroke="#111" stroke-width="0.9"/>
<line x1="402.4" y1="588.85" x2="410.8" y2="588.85" stroke="#111" stroke-width="0.9"/>
<rect x="427.5" y="593.9" width="19.6" height="37.74" fill="#d9d9d9" stroke="#2a2a2a" stroke-width="0.9"/>
<line x1="437.3" y1="661.3" x2="437.3" y2="664.8" stroke="#3a3a3a" stroke-width="0.9"/>
<rect x="435.7" y="605.78" width="3.2" height="3.2" fill="#000"/>
<rect x="433.2" y="617.91" width="3.2" height="3.2" fill="#000"/>
<rect x="438.2" y="614.54" width="3.2" height="3.2" fill="#000"/>
<rect x="432.2" y="621.28" width="3.2" height="3.2" fill="#000"/>
<rect x="439.2" y="621.28" width="3.2" height="3.2" fill="#000"/>
<rect x="435.7" y="626" width="3.2" height="3.2" fill="#000"/>
<rect x="435.7" y="632.74" width="3.2" height="3.2" fill="#000"/>
<rect x="435.7" y="640.83" width="3.2" height="3.2" fill="#000"/>
<rect x="435.7" y="644.87" width="3.2" height="3.2" fill="#000"/>
<rect x="432.7" y="657" width="3.2" height="3.2" fill="#000"/>
<rect x="438.7" y="654.31" width="3.2" height="3.2" fill="#000"/>
<line x1="437.3" y1="626.59" x2="437.3" y2="636.7" stroke="#111" stroke-width="0.9"/>
<line x1="433.1" y1="626.59" x2="441.5" y2="626.59" stroke="#111" stroke-width="0.9"/>
<line x1="433.1" y1="636.7" x2="441.5" y2="636.7" stroke="#111" stroke-width="0.9"/>
<line x1="385.6" y1="593.9" x2="457.7" y2="593.9" stroke="#3a3a3a" stroke-width="0.9"/>
<polyline points="406.6,564.3 406.6,558.5 437.3,558.5 437.3,587.8" stroke="#3a3a3a" fill="none" stroke-width="0.9"/>
<text x="422" y="559.2" font-size="11.5" fill="#231f20" text-anchor="middle">****</text>
<text transform="translate(360.3,605.5) rotate(-90)" x="0" y="0" font-size="11.6" fill="#231f20" text-anchor="middle">Time of max activity (s)</text>
<text x="519" y="537.7" font-size="11.8" fill="#231f20">Activity slope loco. offset</text>
<line x1="552.7" y1="553.6" x2="552.7" y2="661.8" stroke="#3a3a3a" stroke-width="0.9"/>
<line x1="552.7" y1="661.3" x2="625.1" y2="661.3" stroke="#3a3a3a" stroke-width="0.9"/>
<line x1="549.1" y1="580.5" x2="552.7" y2="580.5" stroke="#3a3a3a" stroke-width="0.9"/>
<text x="548.1" y="584.3" font-size="10.9" fill="#231f20" text-anchor="end">1.0</text>
<line x1="549.1" y1="620.9" x2="552.7" y2="620.9" stroke="#3a3a3a" stroke-width="0.9"/>
<text x="548.1" y="624.7" font-size="10.9" fill="#231f20" text-anchor="end">0.0</text>
<line x1="549.1" y1="661.3" x2="552.7" y2="661.3" stroke="#3a3a3a" stroke-width="0.9"/>
<text x="548.1" y="665.1" font-size="10.9" fill="#231f20" text-anchor="end">-1.0</text>
<rect x="563.2" y="599.89" width="19.6" height="21.01" fill="#7a7a7a" stroke="#2a2a2a" stroke-width="0.9"/>
<line x1="573" y1="661.3" x2="573" y2="664.8" stroke="#3a3a3a" stroke-width="0.9"/>
<circle cx="573" cy="570.4" r="1.65" fill="#000"/>
<circle cx="573" cy="588.58" r="1.65" fill="#000"/>
<circle cx="566.5" cy="594.64" r="1.65" fill="#000"/>
<circle cx="573" cy="598.68" r="1.65" fill="#000"/>
<circle cx="570" cy="596.66" r="1.65" fill="#000"/>
<circle cx="579.5" cy="596.66" r="1.65" fill="#000"/>
<circle cx="569.5" cy="605.55" r="1.65" fill="#000"/>
<circle cx="576.5" cy="605.55" r="1.65" fill="#000"/>
<circle cx="569.5" cy="616.05" r="1.65" fill="#000"/>
<circle cx="576.5" cy="615.24" r="1.65" fill="#000"/>
<line x1="573" y1="595.45" x2="573" y2="604.34" stroke="#111" stroke-width="0.9"/>
<line x1="568.8" y1="595.45" x2="577.2" y2="595.45" stroke="#111" stroke-width="0.9"/>
<line x1="568.8" y1="604.34" x2="577.2" y2="604.34" stroke="#111" stroke-width="0.9"/>
<rect x="594" y="620.9" width="19.6" height="13.33" fill="#d9d9d9" stroke="#2a2a2a" stroke-width="0.9"/>
<line x1="603.8" y1="661.3" x2="603.8" y2="664.8" stroke="#3a3a3a" stroke-width="0.9"/>
<rect x="602.2" y="607.18" width="3.2" height="3.2" fill="#000"/>
<rect x="602.2" y="619.3" width="3.2" height="3.2" fill="#000"/>
<rect x="602.2" y="624.15" width="3.2" height="3.2" fill="#000"/>
<rect x="599.2" y="629.4" width="3.2" height="3.2" fill="#000"/>
<rect x="605.2" y="631.42" width="3.2" height="3.2" fill="#000"/>
<rect x="602.2" y="636.27" width="3.2" height="3.2" fill="#000"/>
<rect x="593.7" y="642.73" width="3.2" height="3.2" fill="#000"/>
<rect x="610.7" y="641.92" width="3.2" height="3.2" fill="#000"/>
<rect x="599.2" y="643.54" width="3.2" height="3.2" fill="#000"/>
<rect x="605.2" y="643.54" width="3.2" height="3.2" fill="#000"/>
<rect x="602.2" y="647.58" width="3.2" height="3.2" fill="#000"/>
<line x1="603.8" y1="630.6" x2="603.8" y2="637.87" stroke="#111" stroke-width="0.9"/>
<line x1="599.6" y1="630.6" x2="608" y2="630.6" stroke="#111" stroke-width="0.9"/>
<line x1="599.6" y1="637.87" x2="608" y2="637.87" stroke="#111" stroke-width="0.9"/>
<line x1="552.7" y1="620.9" x2="625.1" y2="620.9" stroke="#3a3a3a" stroke-width="0.9"/>
<polyline points="572.6,563 572.6,557.7 604.2,557.7 604.2,588.5" stroke="#3a3a3a" fill="none" stroke-width="0.9"/>
<text x="587.5" y="557.2" font-size="11.5" fill="#231f20" text-anchor="middle">****</text>
<text transform="translate(526.5,605) rotate(-90)" x="0" y="0" font-size="11.6" fill="#231f20" text-anchor="middle">Activity slope</text>
<text x="52.4" y="675" font-size="10.3" fill="#231f20" font-style="italic">Kremen1</text>
<text x="98.4" y="675" font-size="10.3" fill="#231f20" font-style="italic">Calb1</text>
<text x="215.4" y="675" font-size="10.3" fill="#231f20" font-style="italic">Kremen1</text>
<text x="261" y="675" font-size="10.3" fill="#231f20" font-style="italic">Calb1</text>
<text x="382.4" y="675" font-size="10.3" fill="#231f20" font-style="italic">Kremen1</text>
<text x="428.4" y="675" font-size="10.3" fill="#231f20" font-style="italic">Calb1</text>
<text x="550.2" y="675" font-size="10.3" fill="#231f20" font-style="italic">Kremen1</text>
<text x="594.6" y="675" font-size="10.3" fill="#231f20" font-style="italic">Calb1</text>
<text x="2" y="20" font-size="26" fill="#000">a</text>
<text x="2" y="163" font-size="26" fill="#000">b</text>
<text x="117.5" y="20.3" font-size="26" fill="#000">c</text>
<text x="233" y="20.3" font-size="26" fill="#000">d</text>
<text x="239" y="163.6" font-size="26" fill="#000">e</text>
<text x="463" y="20.4" font-size="26" fill="#000">f</text>
<text x="465" y="163.3" font-size="26" fill="#000">g</text>
<text x="2" y="306.2" font-size="26" fill="#000">h</text>
<text x="345" y="305.8" font-size="26" fill="#000">i</text>
<text x="0" y="537.7" font-size="26" fill="#000">j</text>
<text x="149.5" y="535.2" font-size="26" fill="#000">k</text>
<text x="345.5" y="535.2" font-size="26" fill="#000">l</text>
<text x="486.6" y="535.6" font-size="26" fill="#000">m</text>
</svg>
</body></html>
